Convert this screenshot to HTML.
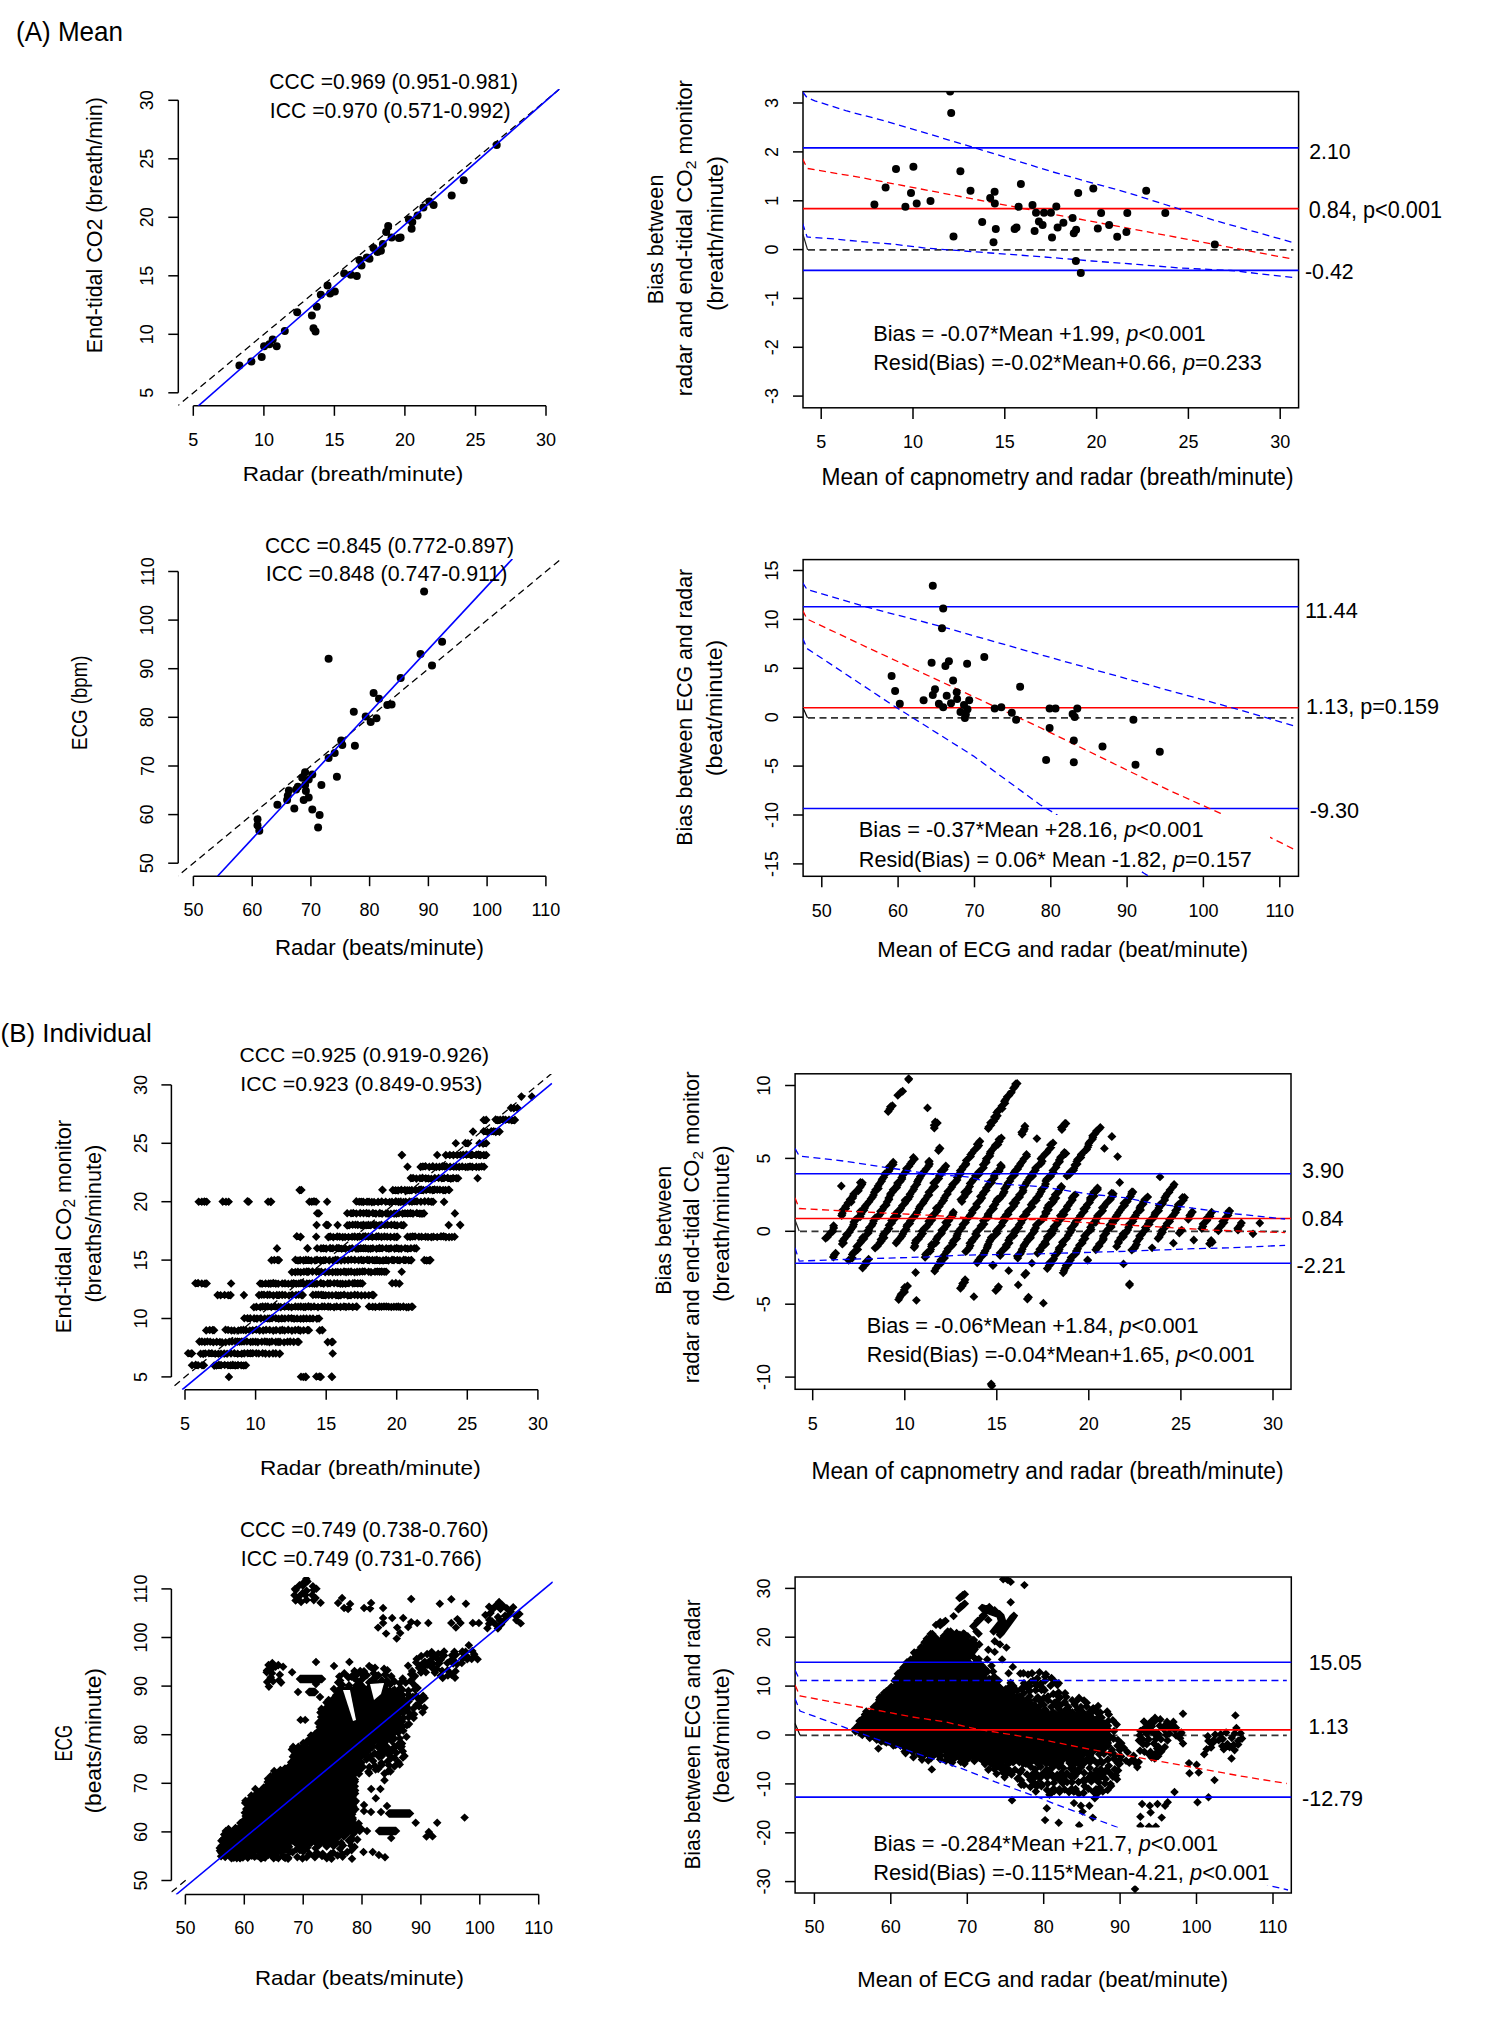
<!DOCTYPE html>
<html><head><meta charset="utf-8"><title>Figure</title>
<style>html,body{margin:0;padding:0;background:#fff;}body{width:1498px;height:2032px;overflow:hidden;font-family:"Liberation Sans", sans-serif;}svg{display:block;}</style>
</head><body>
<svg width="1498" height="2032" viewBox="0 0 1498 2032" font-family='"Liberation Sans", sans-serif' fill="#000"><defs><pattern id="texA" width="21" height="21" patternUnits="userSpaceOnUse"><path fill="#000" d="M0.2,4.3L4.5,-0L8.8,4.3L4.5,8.6ZM0.2,25.3L4.5,21L8.8,25.3L4.5,29.6ZM21.2,4.3L25.5,-0L29.8,4.3L25.5,8.6ZM21.2,25.3L25.5,21L29.8,25.3L25.5,29.6ZM-1,9.8L3.3,5.5L7.6,9.8L3.3,14.1ZM20,9.8L24.3,5.5L28.6,9.8L24.3,14.1ZM-0.8,-3.8L3.5,-8.1L7.8,-3.8L3.5,0.5ZM-0.8,17.2L3.5,12.9L7.8,17.2L3.5,21.5ZM20.2,-3.8L24.5,-8.1L28.8,-3.8L24.5,0.5ZM20.2,17.2L24.5,12.9L28.8,17.2L24.5,21.5ZM7.1,2.9L11.4,-1.4L15.7,2.9L11.4,7.2ZM7.1,23.9L11.4,19.6L15.7,23.9L11.4,28.2ZM6.1,10.8L10.4,6.5L14.7,10.8L10.4,15.1ZM7.4,-3.5L11.7,-7.8L16,-3.5L11.7,0.8ZM7.4,17.5L11.7,13.2L16,17.5L11.7,21.8ZM-8.5,4.3L-4.2,-0L0.1,4.3L-4.2,8.6ZM-8.5,25.3L-4.2,21L0.1,25.3L-4.2,29.6ZM12.5,4.3L16.8,-0L21.1,4.3L16.8,8.6ZM12.5,25.3L16.8,21L21.1,25.3L16.8,29.6ZM-7.4,9.8L-3.1,5.5L1.2,9.8L-3.1,14.1ZM13.6,9.8L17.9,5.5L22.2,9.8L17.9,14.1ZM-6.6,-2.1L-2.3,-6.4L2,-2.1L-2.3,2.2ZM-6.6,18.9L-2.3,14.6L2,18.9L-2.3,23.2ZM14.4,-2.1L18.7,-6.4L23,-2.1L18.7,2.2ZM14.4,18.9L18.7,14.6L23,18.9L18.7,23.2Z"/></pattern><pattern id="texB" width="25" height="25" patternUnits="userSpaceOnUse"><path fill="#000" d="M0.9,4.9L5.2,0.6L9.5,4.9L5.2,9.2ZM0.9,29.9L5.2,25.6L9.5,29.9L5.2,34.2ZM-0.4,11.8L3.9,7.5L8.2,11.8L3.9,16.1ZM24.6,11.8L28.9,7.5L33.2,11.8L28.9,16.1ZM-0.1,-4.5L4.2,-8.8L8.5,-4.5L4.2,-0.2ZM-0.1,20.5L4.2,16.2L8.5,20.5L4.2,24.8ZM24.9,-4.5L29.2,-8.8L33.5,-4.5L29.2,-0.2ZM24.9,20.5L29.2,16.2L33.5,20.5L29.2,24.8ZM9.1,3.6L13.4,-0.7L17.7,3.6L13.4,7.9ZM9.1,28.6L13.4,24.3L17.7,28.6L13.4,32.9ZM8.1,12.8L12.4,8.5L16.7,12.8L12.4,17.1ZM9.4,-4.2L13.7,-8.5L18,-4.2L13.7,0.1ZM9.4,20.8L13.7,16.5L18,20.8L13.7,25.1ZM-9.1,4.9L-4.8,0.6L-0.5,4.9L-4.8,9.2ZM-9.1,29.9L-4.8,25.6L-0.5,29.9L-4.8,34.2ZM15.9,4.9L20.2,0.6L24.5,4.9L20.2,9.2ZM15.9,29.9L20.2,25.6L24.5,29.9L20.2,34.2ZM-8.1,11.8L-3.8,7.5L0.5,11.8L-3.8,16.1ZM16.9,11.8L21.2,7.5L25.5,11.8L21.2,16.1ZM-7.2,-2.7L-2.9,-7L1.4,-2.7L-2.9,1.6ZM-7.2,22.3L-2.9,18L1.4,22.3L-2.9,26.6ZM17.8,-2.7L22.1,-7L26.4,-2.7L22.1,1.6ZM17.8,22.3L22.1,18L26.4,22.3L22.1,26.6Z"/></pattern><pattern id="texC" width="24" height="24" patternUnits="userSpaceOnUse"><path fill="#000" d="M-0.3,3.8L4,-0.5L8.3,3.8L4,8.1ZM-0.3,27.8L4,23.5L8.3,27.8L4,32.1ZM23.7,3.8L28,-0.5L32.3,3.8L28,8.1ZM23.7,27.8L28,23.5L32.3,27.8L28,32.1ZM-1.5,8.3L2.8,4L7.1,8.3L2.8,12.6ZM22.5,8.3L26.8,4L31.1,8.3L26.8,12.6ZM-1.3,14.7L3,10.4L7.3,14.7L3,19ZM22.7,14.7L27,10.4L31.3,14.7L27,19ZM-0.4,-3.6L3.9,-7.9L8.2,-3.6L3.9,0.7ZM-0.4,20.4L3.9,16.1L8.2,20.4L3.9,24.7ZM23.6,-3.6L27.9,-7.9L32.2,-3.6L27.9,0.7ZM23.6,20.4L27.9,16.1L32.2,20.4L27.9,24.7ZM4.6,3.3L8.9,-1L13.2,3.3L8.9,7.6ZM4.6,27.3L8.9,23L13.2,27.3L8.9,31.6ZM5.9,9L10.2,4.7L14.5,9L10.2,13.3ZM4,15.8L8.3,11.5L12.6,15.8L8.3,20.1ZM5.1,-3.7L9.4,-8L13.7,-3.7L9.4,0.6ZM5.1,20.3L9.4,16L13.7,20.3L9.4,24.6ZM11.9,4.4L16.2,0.1L20.5,4.4L16.2,8.7ZM11.9,28.4L16.2,24.1L20.5,28.4L16.2,32.7ZM11.6,10.2L15.9,5.9L20.2,10.2L15.9,14.5ZM10.1,15.7L14.4,11.4L18.7,15.7L14.4,20ZM11.9,-2.4L16.2,-6.7L20.5,-2.4L16.2,1.9ZM11.9,21.6L16.2,17.3L20.5,21.6L16.2,25.9ZM-7.4,1.8L-3.1,-2.5L1.2,1.8L-3.1,6.1ZM-7.4,25.8L-3.1,21.5L1.2,25.8L-3.1,30.1ZM16.6,1.8L20.9,-2.5L25.2,1.8L20.9,6.1ZM16.6,25.8L20.9,21.5L25.2,25.8L20.9,30.1ZM-7.5,9.3L-3.2,5L1.1,9.3L-3.2,13.6ZM16.5,9.3L20.8,5L25.1,9.3L20.8,13.6ZM-6.1,16.4L-1.8,12.1L2.5,16.4L-1.8,20.7ZM17.9,16.4L22.2,12.1L26.5,16.4L22.2,20.7ZM-7.4,-1.9L-3.1,-6.2L1.2,-1.9L-3.1,2.4ZM-7.4,22.1L-3.1,17.8L1.2,22.1L-3.1,26.4ZM16.6,-1.9L20.9,-6.2L25.2,-1.9L20.9,2.4ZM16.6,22.1L20.9,17.8L25.2,22.1L20.9,26.4Z"/></pattern><clipPath id="cA1"><rect x="178.3" y="88.9" width="381.2" height="316.9"/></clipPath><clipPath id="cA2"><rect x="803" y="91.6" width="495.6" height="316.2"/></clipPath><clipPath id="cA3"><rect x="178.2" y="558.9" width="382.9" height="317.3"/></clipPath><clipPath id="cA4"><rect x="803.1" y="559.6" width="495.4" height="316.7"/></clipPath><clipPath id="cB1"><rect x="171.4" y="1074" width="381.2" height="315.7"/></clipPath><clipPath id="cB2"><rect x="795.1" y="1073.8" width="495.9" height="315.5"/></clipPath><clipPath id="cB3"><rect x="171.4" y="1577" width="381.4" height="317.5"/></clipPath><clipPath id="cB4"><rect x="795.1" y="1577" width="496.2" height="316"/></clipPath></defs><line x1="178.3" y1="100.3" x2="178.3" y2="392.8" stroke="#000" stroke-width="1.5"/>
<line x1="168.3" y1="392.8" x2="178.3" y2="392.8" stroke="#000" stroke-width="1.5"/>
<text x="153.5" y="392.8" font-size="18" text-anchor="middle" transform="rotate(-90 153.5 392.8)">5</text>
<line x1="168.3" y1="334.3" x2="178.3" y2="334.3" stroke="#000" stroke-width="1.5"/>
<text x="153.5" y="334.3" font-size="18" text-anchor="middle" transform="rotate(-90 153.5 334.3)">10</text>
<line x1="168.3" y1="275.8" x2="178.3" y2="275.8" stroke="#000" stroke-width="1.5"/>
<text x="153.5" y="275.8" font-size="18" text-anchor="middle" transform="rotate(-90 153.5 275.8)">15</text>
<line x1="168.3" y1="217.3" x2="178.3" y2="217.3" stroke="#000" stroke-width="1.5"/>
<text x="153.5" y="217.3" font-size="18" text-anchor="middle" transform="rotate(-90 153.5 217.3)">20</text>
<line x1="168.3" y1="158.8" x2="178.3" y2="158.8" stroke="#000" stroke-width="1.5"/>
<text x="153.5" y="158.8" font-size="18" text-anchor="middle" transform="rotate(-90 153.5 158.8)">25</text>
<line x1="168.3" y1="100.3" x2="178.3" y2="100.3" stroke="#000" stroke-width="1.5"/>
<text x="153.5" y="100.3" font-size="18" text-anchor="middle" transform="rotate(-90 153.5 100.3)">30</text>
<line x1="193.3" y1="405.8" x2="546" y2="405.8" stroke="#000" stroke-width="1.5"/>
<line x1="193.3" y1="405.8" x2="193.3" y2="415.8" stroke="#000" stroke-width="1.5"/>
<text x="193.3" y="445.8" font-size="18" text-anchor="middle">5</text>
<line x1="263.9" y1="405.8" x2="263.9" y2="415.8" stroke="#000" stroke-width="1.5"/>
<text x="263.9" y="445.8" font-size="18" text-anchor="middle">10</text>
<line x1="334.4" y1="405.8" x2="334.4" y2="415.8" stroke="#000" stroke-width="1.5"/>
<text x="334.4" y="445.8" font-size="18" text-anchor="middle">15</text>
<line x1="404.9" y1="405.8" x2="404.9" y2="415.8" stroke="#000" stroke-width="1.5"/>
<text x="404.9" y="445.8" font-size="18" text-anchor="middle">20</text>
<line x1="475.5" y1="405.8" x2="475.5" y2="415.8" stroke="#000" stroke-width="1.5"/>
<text x="475.5" y="445.8" font-size="18" text-anchor="middle">25</text>
<line x1="546" y1="405.8" x2="546" y2="415.8" stroke="#000" stroke-width="1.5"/>
<text x="546" y="445.8" font-size="18" text-anchor="middle">30</text>
<line x1="165.1" y1="416.2" x2="574.3" y2="76.9" stroke="#000" stroke-width="1.3" stroke-dasharray="7,4.5" clip-path="url(#cA1)"/>
<g fill="#000" clip-path="url(#cA1)"><circle cx="239.4" cy="365.6" r="4"/><circle cx="251.4" cy="361.6" r="4"/><circle cx="261.7" cy="356.9" r="4"/><circle cx="264.1" cy="346.2" r="4"/><circle cx="269.4" cy="344.2" r="4"/><circle cx="272.7" cy="339.5" r="4"/><circle cx="276.7" cy="346.2" r="4"/><circle cx="284.8" cy="330.9" r="4"/><circle cx="297.2" cy="312.2" r="4"/><circle cx="311.9" cy="315.5" r="4"/><circle cx="313.5" cy="328.2" r="4"/><circle cx="315.5" cy="331.5" r="4"/><circle cx="316.8" cy="306.8" r="4"/><circle cx="320.8" cy="294.8" r="4"/><circle cx="327.5" cy="285.5" r="4"/><circle cx="330.1" cy="293.5" r="4"/><circle cx="334.8" cy="291.5" r="4"/><circle cx="344.2" cy="273.5" r="4"/><circle cx="350.8" cy="274.8" r="4"/><circle cx="356.8" cy="276.1" r="4"/><circle cx="359.5" cy="260.1" r="4"/><circle cx="361.5" cy="265.4" r="4"/><circle cx="366.9" cy="257.4" r="4"/><circle cx="369.5" cy="258.8" r="4"/><circle cx="373.5" cy="248.1" r="4"/><circle cx="377.5" cy="252.1" r="4"/><circle cx="380.9" cy="250.8" r="4"/><circle cx="382.9" cy="244.1" r="4"/><circle cx="386.2" cy="232.1" r="4"/><circle cx="388.2" cy="226.1" r="4"/><circle cx="391.6" cy="237.4" r="4"/><circle cx="398.9" cy="238.1" r="4"/><circle cx="408.9" cy="219.4" r="4"/><circle cx="412.3" cy="222.1" r="4"/><circle cx="411.6" cy="228.7" r="4"/><circle cx="417.6" cy="215.4" r="4"/><circle cx="400.6" cy="237.4" r="4"/><circle cx="423.4" cy="207.4" r="4"/><circle cx="429.4" cy="201.4" r="4"/><circle cx="433.6" cy="205" r="4"/><circle cx="451.7" cy="195.4" r="4"/><circle cx="463.7" cy="180.3" r="4"/><circle cx="496.7" cy="144.9" r="4"/></g>
<line x1="198.1" y1="406.1" x2="559.5" y2="88.9" stroke="#0000ff" stroke-width="1.6" clip-path="url(#cA1)"/>
<rect x="803" y="91.6" width="495.6" height="316.2" fill="none" stroke="#000" stroke-width="1.5"/>
<line x1="793" y1="396.1" x2="803" y2="396.1" stroke="#000" stroke-width="1.5"/>
<text x="777.9" y="396.1" font-size="18" text-anchor="middle" transform="rotate(-90 777.9 396.1)">-3</text>
<line x1="793" y1="347.3" x2="803" y2="347.3" stroke="#000" stroke-width="1.5"/>
<text x="777.9" y="347.3" font-size="18" text-anchor="middle" transform="rotate(-90 777.9 347.3)">-2</text>
<line x1="793" y1="298.4" x2="803" y2="298.4" stroke="#000" stroke-width="1.5"/>
<text x="777.9" y="298.4" font-size="18" text-anchor="middle" transform="rotate(-90 777.9 298.4)">-1</text>
<line x1="793" y1="249.6" x2="803" y2="249.6" stroke="#000" stroke-width="1.5"/>
<text x="777.9" y="249.6" font-size="18" text-anchor="middle" transform="rotate(-90 777.9 249.6)">0</text>
<line x1="793" y1="200.8" x2="803" y2="200.8" stroke="#000" stroke-width="1.5"/>
<text x="777.9" y="200.8" font-size="18" text-anchor="middle" transform="rotate(-90 777.9 200.8)">1</text>
<line x1="793" y1="151.9" x2="803" y2="151.9" stroke="#000" stroke-width="1.5"/>
<text x="777.9" y="151.9" font-size="18" text-anchor="middle" transform="rotate(-90 777.9 151.9)">2</text>
<line x1="793" y1="103" x2="803" y2="103" stroke="#000" stroke-width="1.5"/>
<text x="777.9" y="103" font-size="18" text-anchor="middle" transform="rotate(-90 777.9 103)">3</text>
<line x1="821.2" y1="407.8" x2="821.2" y2="418.9" stroke="#000" stroke-width="1.5"/>
<text x="821.2" y="448" font-size="18" text-anchor="middle">5</text>
<line x1="913" y1="407.8" x2="913" y2="418.9" stroke="#000" stroke-width="1.5"/>
<text x="913" y="448" font-size="18" text-anchor="middle">10</text>
<line x1="1004.8" y1="407.8" x2="1004.8" y2="418.9" stroke="#000" stroke-width="1.5"/>
<text x="1004.8" y="448" font-size="18" text-anchor="middle">15</text>
<line x1="1096.6" y1="407.8" x2="1096.6" y2="418.9" stroke="#000" stroke-width="1.5"/>
<text x="1096.6" y="448" font-size="18" text-anchor="middle">20</text>
<line x1="1188.4" y1="407.8" x2="1188.4" y2="418.9" stroke="#000" stroke-width="1.5"/>
<text x="1188.4" y="448" font-size="18" text-anchor="middle">25</text>
<line x1="1280.2" y1="407.8" x2="1280.2" y2="418.9" stroke="#000" stroke-width="1.5"/>
<text x="1280.2" y="448" font-size="18" text-anchor="middle">30</text>
<line x1="803" y1="147.9" x2="1298.6" y2="147.9" stroke="#0000ff" stroke-width="1.6"/>
<line x1="803" y1="208.6" x2="1298.6" y2="208.6" stroke="#ff0000" stroke-width="1.6"/>
<line x1="803" y1="270.4" x2="1298.6" y2="270.4" stroke="#0000ff" stroke-width="1.6"/>
<line x1="808" y1="249.8" x2="1293.4" y2="249.8" stroke="#333" stroke-width="1.7" stroke-dasharray="7,4.5"/>
<line x1="803" y1="234.5" x2="807.6" y2="249.8" stroke="#222" stroke-width="1.2"/>
<polyline fill="none" points="802.5,91.7 807,97.5 814.8,100.8 846.8,111 884,120.7 929.4,134.1 977.5,148.7 1004.2,156.8 1050.9,171.4 1092,182.9 1126.8,192.4 1173.6,207.2 1213.6,220.2 1244.8,228.9 1293.4,242.7" stroke="#0000ff" stroke-width="1.3" stroke-dasharray="7,4.5" clip-path="url(#cA2)"/>
<polyline fill="none" points="802.5,158.5 807.1,168.4 860,177.4 1040,211.7 1293.4,259.2" stroke="#ff0000" stroke-width="1.3" stroke-dasharray="7,4.5" clip-path="url(#cA2)"/>
<polyline fill="none" points="802.5,223.1 807.1,237 836,239.1 860,241.5 893.4,244.2 926.8,248.2 980.2,252.2 1006.9,254.2 1040,256.6 1092,261 1137.2,264.4 1178.9,267.9 1230.9,270.5 1293.4,277.5" stroke="#0000ff" stroke-width="1.3" stroke-dasharray="7,4.5" clip-path="url(#cA2)"/>
<g fill="#000" clip-path="url(#cA2)"><circle cx="950.1" cy="91.5" r="4"/><circle cx="951.2" cy="113" r="4"/><circle cx="896" cy="169" r="4"/><circle cx="913.4" cy="166.8" r="4"/><circle cx="960.4" cy="171.2" r="4"/><circle cx="885.6" cy="187.5" r="4"/><circle cx="911" cy="193.1" r="4"/><circle cx="970.5" cy="190.8" r="4"/><circle cx="874.4" cy="204.4" r="4"/><circle cx="905.4" cy="206.8" r="4"/><circle cx="916.7" cy="203.5" r="4"/><circle cx="930.5" cy="201.1" r="4"/><circle cx="994.6" cy="191.7" r="4"/><circle cx="990.2" cy="197.9" r="4"/><circle cx="994.8" cy="203.5" r="4"/><circle cx="1020.9" cy="184.1" r="4"/><circle cx="1018.6" cy="206.8" r="4"/><circle cx="1032.5" cy="205.1" r="4"/><circle cx="1036" cy="212.8" r="4"/><circle cx="1044" cy="212.8" r="4"/><circle cx="1050.9" cy="212.8" r="4"/><circle cx="1056.3" cy="206.4" r="4"/><circle cx="982.2" cy="221.9" r="4"/><circle cx="995.8" cy="228.9" r="4"/><circle cx="1014.6" cy="229.1" r="4"/><circle cx="1016.5" cy="227.5" r="4"/><circle cx="1038.9" cy="221.5" r="4"/><circle cx="1042.6" cy="225.1" r="4"/><circle cx="1034.6" cy="230.9" r="4"/><circle cx="1052" cy="237.5" r="4"/><circle cx="1057.6" cy="227.5" r="4"/><circle cx="953.5" cy="236.6" r="4"/><circle cx="993.5" cy="242.2" r="4"/><circle cx="1063.4" cy="222.8" r="4"/><circle cx="1072.6" cy="218.1" r="4"/><circle cx="1078.2" cy="192.9" r="4"/><circle cx="1093.3" cy="188.6" r="4"/><circle cx="1073.8" cy="233.2" r="4"/><circle cx="1076.1" cy="229.7" r="4"/><circle cx="1075.9" cy="261" r="4"/><circle cx="1080.8" cy="273.1" r="4"/><circle cx="1101.1" cy="212.9" r="4"/><circle cx="1097.8" cy="228.5" r="4"/><circle cx="1109.1" cy="225" r="4"/><circle cx="1117.2" cy="236.7" r="4"/><circle cx="1126.4" cy="232" r="4"/><circle cx="1127.3" cy="212.9" r="4"/><circle cx="1146.2" cy="190.7" r="4"/><circle cx="1165.3" cy="212.9" r="4"/><circle cx="1214.8" cy="244.5" r="4"/></g>
<line x1="178.2" y1="571.5" x2="178.2" y2="863.2" stroke="#000" stroke-width="1.5"/>
<line x1="168.2" y1="863.2" x2="178.2" y2="863.2" stroke="#000" stroke-width="1.5"/>
<text x="153.5" y="863.2" font-size="18" text-anchor="middle" transform="rotate(-90 153.5 863.2)">50</text>
<line x1="168.2" y1="814.6" x2="178.2" y2="814.6" stroke="#000" stroke-width="1.5"/>
<text x="153.5" y="814.6" font-size="18" text-anchor="middle" transform="rotate(-90 153.5 814.6)">60</text>
<line x1="168.2" y1="766" x2="178.2" y2="766" stroke="#000" stroke-width="1.5"/>
<text x="153.5" y="766" font-size="18" text-anchor="middle" transform="rotate(-90 153.5 766)">70</text>
<line x1="168.2" y1="717.3" x2="178.2" y2="717.3" stroke="#000" stroke-width="1.5"/>
<text x="153.5" y="717.3" font-size="18" text-anchor="middle" transform="rotate(-90 153.5 717.3)">80</text>
<line x1="168.2" y1="668.7" x2="178.2" y2="668.7" stroke="#000" stroke-width="1.5"/>
<text x="153.5" y="668.7" font-size="18" text-anchor="middle" transform="rotate(-90 153.5 668.7)">90</text>
<line x1="168.2" y1="620.1" x2="178.2" y2="620.1" stroke="#000" stroke-width="1.5"/>
<text x="153.5" y="620.1" font-size="18" text-anchor="middle" transform="rotate(-90 153.5 620.1)">100</text>
<line x1="168.2" y1="571.5" x2="178.2" y2="571.5" stroke="#000" stroke-width="1.5"/>
<text x="153.5" y="571.5" font-size="18" text-anchor="middle" transform="rotate(-90 153.5 571.5)">110</text>
<line x1="193.4" y1="876.2" x2="545.9" y2="876.2" stroke="#000" stroke-width="1.5"/>
<line x1="193.4" y1="876.2" x2="193.4" y2="886.2" stroke="#000" stroke-width="1.5"/>
<text x="193.4" y="916" font-size="18" text-anchor="middle">50</text>
<line x1="252.2" y1="876.2" x2="252.2" y2="886.2" stroke="#000" stroke-width="1.5"/>
<text x="252.2" y="916" font-size="18" text-anchor="middle">60</text>
<line x1="310.9" y1="876.2" x2="310.9" y2="886.2" stroke="#000" stroke-width="1.5"/>
<text x="310.9" y="916" font-size="18" text-anchor="middle">70</text>
<line x1="369.6" y1="876.2" x2="369.6" y2="886.2" stroke="#000" stroke-width="1.5"/>
<text x="369.6" y="916" font-size="18" text-anchor="middle">80</text>
<line x1="428.4" y1="876.2" x2="428.4" y2="886.2" stroke="#000" stroke-width="1.5"/>
<text x="428.4" y="916" font-size="18" text-anchor="middle">90</text>
<line x1="487.1" y1="876.2" x2="487.1" y2="886.2" stroke="#000" stroke-width="1.5"/>
<text x="487.1" y="916" font-size="18" text-anchor="middle">100</text>
<line x1="545.9" y1="876.2" x2="545.9" y2="886.2" stroke="#000" stroke-width="1.5"/>
<text x="545.9" y="916" font-size="18" text-anchor="middle">110</text>
<line x1="164" y1="887.5" x2="604.6" y2="522.9" stroke="#000" stroke-width="1.3" stroke-dasharray="7,4.5" clip-path="url(#cA3)"/>
<g fill="#000" clip-path="url(#cA3)"><circle cx="424.1" cy="591.4" r="4"/><circle cx="328.6" cy="658.8" r="4"/><circle cx="442.1" cy="641.8" r="4"/><circle cx="420.5" cy="654.1" r="4"/><circle cx="432" cy="665.6" r="4"/><circle cx="400.7" cy="677.9" r="4"/><circle cx="373.6" cy="693" r="4"/><circle cx="379" cy="698.8" r="4"/><circle cx="353.8" cy="711.8" r="4"/><circle cx="365.7" cy="716.5" r="4"/><circle cx="370.7" cy="721.9" r="4"/><circle cx="376.5" cy="718.3" r="4"/><circle cx="387.3" cy="704.9" r="4"/><circle cx="391.6" cy="704.6" r="4"/><circle cx="341.2" cy="740.6" r="4"/><circle cx="342.3" cy="745" r="4"/><circle cx="354.9" cy="745.7" r="4"/><circle cx="334.7" cy="752.9" r="4"/><circle cx="328.6" cy="757.9" r="4"/><circle cx="336.9" cy="776.7" r="4"/><circle cx="312.3" cy="774.5" r="4"/><circle cx="305.1" cy="772.3" r="4"/><circle cx="302.2" cy="777.8" r="4"/><circle cx="308.7" cy="779.6" r="4"/><circle cx="297.9" cy="786.8" r="4"/><circle cx="305.1" cy="785" r="4"/><circle cx="305.9" cy="791.1" r="4"/><circle cx="296.1" cy="789.6" r="4"/><circle cx="321.4" cy="785" r="4"/><circle cx="308.7" cy="797.6" r="4"/><circle cx="303.7" cy="800.1" r="4"/><circle cx="288.9" cy="790.4" r="4"/><circle cx="287.8" cy="795.8" r="4"/><circle cx="287.1" cy="800.1" r="4"/><circle cx="277.4" cy="804.8" r="4"/><circle cx="294.3" cy="808.4" r="4"/><circle cx="312.3" cy="809.5" r="4"/><circle cx="319.6" cy="814.9" r="4"/><circle cx="318.1" cy="827.5" r="4"/><circle cx="257.5" cy="819.2" r="4"/><circle cx="257.5" cy="825.3" r="4"/><circle cx="259.3" cy="830.7" r="4"/></g>
<line x1="217.5" y1="876.2" x2="512.4" y2="558.9" stroke="#0000ff" stroke-width="1.6" clip-path="url(#cA3)"/>
<rect x="803.1" y="559.6" width="495.4" height="316.7" fill="none" stroke="#000" stroke-width="1.5"/>
<line x1="793.1" y1="863.9" x2="803.1" y2="863.9" stroke="#000" stroke-width="1.5"/>
<text x="777.9" y="863.9" font-size="18" text-anchor="middle" transform="rotate(-90 777.9 863.9)">-15</text>
<line x1="793.1" y1="815" x2="803.1" y2="815" stroke="#000" stroke-width="1.5"/>
<text x="777.9" y="815" font-size="18" text-anchor="middle" transform="rotate(-90 777.9 815)">-10</text>
<line x1="793.1" y1="766.1" x2="803.1" y2="766.1" stroke="#000" stroke-width="1.5"/>
<text x="777.9" y="766.1" font-size="18" text-anchor="middle" transform="rotate(-90 777.9 766.1)">-5</text>
<line x1="793.1" y1="717.2" x2="803.1" y2="717.2" stroke="#000" stroke-width="1.5"/>
<text x="777.9" y="717.2" font-size="18" text-anchor="middle" transform="rotate(-90 777.9 717.2)">0</text>
<line x1="793.1" y1="668.3" x2="803.1" y2="668.3" stroke="#000" stroke-width="1.5"/>
<text x="777.9" y="668.3" font-size="18" text-anchor="middle" transform="rotate(-90 777.9 668.3)">5</text>
<line x1="793.1" y1="619.4" x2="803.1" y2="619.4" stroke="#000" stroke-width="1.5"/>
<text x="777.9" y="619.4" font-size="18" text-anchor="middle" transform="rotate(-90 777.9 619.4)">10</text>
<line x1="793.1" y1="570.5" x2="803.1" y2="570.5" stroke="#000" stroke-width="1.5"/>
<text x="777.9" y="570.5" font-size="18" text-anchor="middle" transform="rotate(-90 777.9 570.5)">15</text>
<line x1="821.8" y1="876.3" x2="821.8" y2="887.3" stroke="#000" stroke-width="1.5"/>
<text x="821.8" y="916.5" font-size="18" text-anchor="middle">50</text>
<line x1="898.1" y1="876.3" x2="898.1" y2="887.3" stroke="#000" stroke-width="1.5"/>
<text x="898.1" y="916.5" font-size="18" text-anchor="middle">60</text>
<line x1="974.5" y1="876.3" x2="974.5" y2="887.3" stroke="#000" stroke-width="1.5"/>
<text x="974.5" y="916.5" font-size="18" text-anchor="middle">70</text>
<line x1="1050.8" y1="876.3" x2="1050.8" y2="887.3" stroke="#000" stroke-width="1.5"/>
<text x="1050.8" y="916.5" font-size="18" text-anchor="middle">80</text>
<line x1="1127.1" y1="876.3" x2="1127.1" y2="887.3" stroke="#000" stroke-width="1.5"/>
<text x="1127.1" y="916.5" font-size="18" text-anchor="middle">90</text>
<line x1="1203.4" y1="876.3" x2="1203.4" y2="887.3" stroke="#000" stroke-width="1.5"/>
<text x="1203.4" y="916.5" font-size="18" text-anchor="middle">100</text>
<line x1="1279.8" y1="876.3" x2="1279.8" y2="887.3" stroke="#000" stroke-width="1.5"/>
<text x="1279.8" y="916.5" font-size="18" text-anchor="middle">110</text>
<line x1="803.1" y1="606.8" x2="1298.5" y2="606.8" stroke="#0000ff" stroke-width="1.6"/>
<line x1="803.1" y1="707.8" x2="1298.5" y2="707.8" stroke="#ff0000" stroke-width="1.6"/>
<line x1="803.1" y1="808.5" x2="1298.5" y2="808.5" stroke="#0000ff" stroke-width="1.6"/>
<line x1="808" y1="717.8" x2="1293.4" y2="717.8" stroke="#333" stroke-width="1.7" stroke-dasharray="7,4.5"/>
<line x1="803.1" y1="708" x2="807.5" y2="717.8" stroke="#000" stroke-width="1.2"/>
<polyline fill="none" points="802.6,582.6 807,589.5 866,606.9 942.3,626.8 1040,654.6 1161.5,688.4 1234.4,708.4 1293.4,725.8" stroke="#0000ff" stroke-width="1.3" stroke-dasharray="7,4.5" clip-path="url(#cA4)"/>
<polyline fill="none" points="802.6,610.3 807,619 866,646.8 1040,727.5 1126.8,770 1170.2,790.8 1220.5,813.4 1274.3,839.4 1293.4,849" stroke="#ff0000" stroke-width="1.3" stroke-dasharray="7,4.5" clip-path="url(#cA4)"/>
<polyline fill="none" points="802.6,638.1 807,648.5 893.7,705.8 973.6,756.1 1040,804.7 1054.8,813.4 1144,873.3 1150,877" stroke="#0000ff" stroke-width="1.3" stroke-dasharray="7,4.5" clip-path="url(#cA4)"/>
<g fill="#000" clip-path="url(#cA4)"><circle cx="932.8" cy="585.7" r="4"/><circle cx="943.2" cy="608.6" r="4"/><circle cx="942" cy="628.2" r="4"/><circle cx="931.6" cy="662.8" r="4"/><circle cx="948.9" cy="661.2" r="4"/><circle cx="945.4" cy="665.9" r="4"/><circle cx="967.1" cy="663.8" r="4"/><circle cx="984.3" cy="656.9" r="4"/><circle cx="891.6" cy="675.9" r="4"/><circle cx="953.1" cy="680.6" r="4"/><circle cx="1020.1" cy="686.7" r="4"/><circle cx="895.1" cy="691" r="4"/><circle cx="935" cy="689.3" r="4"/><circle cx="932.8" cy="695" r="4"/><circle cx="956.7" cy="692.3" r="4"/><circle cx="946.7" cy="695.7" r="4"/><circle cx="923.6" cy="700.2" r="4"/><circle cx="899.8" cy="703.7" r="4"/><circle cx="938.9" cy="703.7" r="4"/><circle cx="943.2" cy="707.2" r="4"/><circle cx="951" cy="703.2" r="4"/><circle cx="957.1" cy="698.9" r="4"/><circle cx="969.2" cy="700.2" r="4"/><circle cx="964" cy="704.9" r="4"/><circle cx="967.5" cy="709.3" r="4"/><circle cx="960.5" cy="711.9" r="4"/><circle cx="965.8" cy="714.5" r="4"/><circle cx="964.9" cy="718" r="4"/><circle cx="994.7" cy="708.4" r="4"/><circle cx="1001.3" cy="707.2" r="4"/><circle cx="1011.8" cy="712.7" r="4"/><circle cx="1016.1" cy="719.7" r="4"/><circle cx="1049.6" cy="708.4" r="4"/><circle cx="1055.5" cy="708.4" r="4"/><circle cx="1049.6" cy="728" r="4"/><circle cx="1046.1" cy="760" r="4"/><circle cx="1077.3" cy="708.4" r="4"/><circle cx="1072.6" cy="714.1" r="4"/><circle cx="1074.7" cy="717.1" r="4"/><circle cx="1133.4" cy="719.7" r="4"/><circle cx="1073.8" cy="740.5" r="4"/><circle cx="1102.5" cy="746.6" r="4"/><circle cx="1159.8" cy="751.8" r="4"/><circle cx="1073.8" cy="762.2" r="4"/><circle cx="1135.5" cy="764.8" r="4"/></g>
<rect x="852" y="815" width="418" height="56" fill="#fff"/>
<line x1="171.4" y1="1084.9" x2="171.4" y2="1376.9" stroke="#000" stroke-width="1.5"/>
<line x1="161.4" y1="1376.9" x2="171.4" y2="1376.9" stroke="#000" stroke-width="1.5"/>
<text x="146.7" y="1376.9" font-size="18" text-anchor="middle" transform="rotate(-90 146.7 1376.9)">5</text>
<line x1="161.4" y1="1318.5" x2="171.4" y2="1318.5" stroke="#000" stroke-width="1.5"/>
<text x="146.7" y="1318.5" font-size="18" text-anchor="middle" transform="rotate(-90 146.7 1318.5)">10</text>
<line x1="161.4" y1="1260.1" x2="171.4" y2="1260.1" stroke="#000" stroke-width="1.5"/>
<text x="146.7" y="1260.1" font-size="18" text-anchor="middle" transform="rotate(-90 146.7 1260.1)">15</text>
<line x1="161.4" y1="1201.7" x2="171.4" y2="1201.7" stroke="#000" stroke-width="1.5"/>
<text x="146.7" y="1201.7" font-size="18" text-anchor="middle" transform="rotate(-90 146.7 1201.7)">20</text>
<line x1="161.4" y1="1143.3" x2="171.4" y2="1143.3" stroke="#000" stroke-width="1.5"/>
<text x="146.7" y="1143.3" font-size="18" text-anchor="middle" transform="rotate(-90 146.7 1143.3)">25</text>
<line x1="161.4" y1="1084.9" x2="171.4" y2="1084.9" stroke="#000" stroke-width="1.5"/>
<text x="146.7" y="1084.9" font-size="18" text-anchor="middle" transform="rotate(-90 146.7 1084.9)">30</text>
<line x1="185" y1="1389.7" x2="537.9" y2="1389.7" stroke="#000" stroke-width="1.5"/>
<line x1="185" y1="1389.7" x2="185" y2="1399.7" stroke="#000" stroke-width="1.5"/>
<text x="185" y="1429.5" font-size="18" text-anchor="middle">5</text>
<line x1="255.6" y1="1389.7" x2="255.6" y2="1399.7" stroke="#000" stroke-width="1.5"/>
<text x="255.6" y="1429.5" font-size="18" text-anchor="middle">10</text>
<line x1="326.2" y1="1389.7" x2="326.2" y2="1399.7" stroke="#000" stroke-width="1.5"/>
<text x="326.2" y="1429.5" font-size="18" text-anchor="middle">15</text>
<line x1="396.7" y1="1389.7" x2="396.7" y2="1399.7" stroke="#000" stroke-width="1.5"/>
<text x="396.7" y="1429.5" font-size="18" text-anchor="middle">20</text>
<line x1="467.3" y1="1389.7" x2="467.3" y2="1399.7" stroke="#000" stroke-width="1.5"/>
<text x="467.3" y="1429.5" font-size="18" text-anchor="middle">25</text>
<line x1="537.9" y1="1389.7" x2="537.9" y2="1399.7" stroke="#000" stroke-width="1.5"/>
<text x="537.9" y="1429.5" font-size="18" text-anchor="middle">30</text>
<line x1="156.8" y1="1400.3" x2="566.1" y2="1061.5" stroke="#000" stroke-width="1.3" stroke-dasharray="7,4.5" clip-path="url(#cB1)"/>
<path d="M224.6,1376.9l4.3,-4.3l4.3,4.3l-4.3,4.3zM296.7,1376.8l4.3,-4.3l4.3,4.3l-4.3,4.3zM299,1377l4.3,-4.3l4.3,4.3l-4.3,4.3zM301.1,1376.9l4.3,-4.3l4.3,4.3l-4.3,4.3zM301.7,1376.9l4.3,-4.3l4.3,4.3l-4.3,4.3zM312,1376.5l4.3,-4.3l4.3,4.3l-4.3,4.3zM315,1376.5l4.3,-4.3l4.3,4.3l-4.3,4.3zM316.5,1376.9l4.3,-4.3l4.3,4.3l-4.3,4.3zM327.3,1376.6l4.3,-4.3l4.3,4.3l-4.3,4.3zM327.8,1376.9l4.3,-4.3l4.3,4.3l-4.3,4.3zM187.7,1365.2l4.3,-4.3l4.3,4.3l-4.3,4.3zM191.4,1364.9l4.3,-4.3l4.3,4.3l-4.3,4.3zM193.8,1365.3l4.3,-4.3l4.3,4.3l-4.3,4.3zM197.7,1365.3l4.3,-4.3l4.3,4.3l-4.3,4.3zM199.6,1365.2l4.3,-4.3l4.3,4.3l-4.3,4.3zM209.9,1365.6l4.3,-4.3l4.3,4.3l-4.3,4.3zM212,1365.5l4.3,-4.3l4.3,4.3l-4.3,4.3zM214.6,1364.9l4.3,-4.3l4.3,4.3l-4.3,4.3zM216.8,1365.1l4.3,-4.3l4.3,4.3l-4.3,4.3zM220.4,1365l4.3,-4.3l4.3,4.3l-4.3,4.3zM223.6,1365.3l4.3,-4.3l4.3,4.3l-4.3,4.3zM226.3,1365.3l4.3,-4.3l4.3,4.3l-4.3,4.3zM228.5,1364.9l4.3,-4.3l4.3,4.3l-4.3,4.3zM230.9,1365.4l4.3,-4.3l4.3,4.3l-4.3,4.3zM233.7,1365.1l4.3,-4.3l4.3,4.3l-4.3,4.3zM236.9,1365.2l4.3,-4.3l4.3,4.3l-4.3,4.3zM239.5,1365.5l4.3,-4.3l4.3,4.3l-4.3,4.3zM241.6,1365.2l4.3,-4.3l4.3,4.3l-4.3,4.3zM183.8,1353.3l4.3,-4.3l4.3,4.3l-4.3,4.3zM186.9,1353.6l4.3,-4.3l4.3,4.3l-4.3,4.3zM187.7,1353.5l4.3,-4.3l4.3,4.3l-4.3,4.3zM196.3,1353.7l4.3,-4.3l4.3,4.3l-4.3,4.3zM198.9,1353.9l4.3,-4.3l4.3,4.3l-4.3,4.3zM201.1,1353.5l4.3,-4.3l4.3,4.3l-4.3,4.3zM204.6,1353.3l4.3,-4.3l4.3,4.3l-4.3,4.3zM207.6,1353.2l4.3,-4.3l4.3,4.3l-4.3,4.3zM210.9,1353.8l4.3,-4.3l4.3,4.3l-4.3,4.3zM214.1,1353.8l4.3,-4.3l4.3,4.3l-4.3,4.3zM216.7,1353.7l4.3,-4.3l4.3,4.3l-4.3,4.3zM219.9,1353.6l4.3,-4.3l4.3,4.3l-4.3,4.3zM222.8,1353.8l4.3,-4.3l4.3,4.3l-4.3,4.3zM226.7,1353.5l4.3,-4.3l4.3,4.3l-4.3,4.3zM230,1353.2l4.3,-4.3l4.3,4.3l-4.3,4.3zM233.4,1353.7l4.3,-4.3l4.3,4.3l-4.3,4.3zM237.4,1353.8l4.3,-4.3l4.3,4.3l-4.3,4.3zM240,1353.4l4.3,-4.3l4.3,4.3l-4.3,4.3zM243.3,1353.2l4.3,-4.3l4.3,4.3l-4.3,4.3zM246.3,1353.3l4.3,-4.3l4.3,4.3l-4.3,4.3zM248.5,1353.2l4.3,-4.3l4.3,4.3l-4.3,4.3zM252,1353.2l4.3,-4.3l4.3,4.3l-4.3,4.3zM254.5,1353.5l4.3,-4.3l4.3,4.3l-4.3,4.3zM258.3,1353.2l4.3,-4.3l4.3,4.3l-4.3,4.3zM261.2,1353.6l4.3,-4.3l4.3,4.3l-4.3,4.3zM264.9,1353.8l4.3,-4.3l4.3,4.3l-4.3,4.3zM268.7,1353.4l4.3,-4.3l4.3,4.3l-4.3,4.3zM271.5,1353.4l4.3,-4.3l4.3,4.3l-4.3,4.3zM275.3,1353.9l4.3,-4.3l4.3,4.3l-4.3,4.3zM275.6,1353.5l4.3,-4.3l4.3,4.3l-4.3,4.3zM328.4,1353.5l4.3,-4.3l4.3,4.3l-4.3,4.3zM195.1,1341.6l4.3,-4.3l4.3,4.3l-4.3,4.3zM197.6,1341.6l4.3,-4.3l4.3,4.3l-4.3,4.3zM200.5,1341.9l4.3,-4.3l4.3,4.3l-4.3,4.3zM203.1,1341.5l4.3,-4.3l4.3,4.3l-4.3,4.3zM205.9,1341.8l4.3,-4.3l4.3,4.3l-4.3,4.3zM209,1342.2l4.3,-4.3l4.3,4.3l-4.3,4.3zM212.4,1341.9l4.3,-4.3l4.3,4.3l-4.3,4.3zM215.6,1342l4.3,-4.3l4.3,4.3l-4.3,4.3zM217.8,1342.2l4.3,-4.3l4.3,4.3l-4.3,4.3zM221.3,1342.2l4.3,-4.3l4.3,4.3l-4.3,4.3zM224.9,1341.8l4.3,-4.3l4.3,4.3l-4.3,4.3zM227.7,1341.5l4.3,-4.3l4.3,4.3l-4.3,4.3zM231,1341.5l4.3,-4.3l4.3,4.3l-4.3,4.3zM233.1,1341.6l4.3,-4.3l4.3,4.3l-4.3,4.3zM235.4,1341.7l4.3,-4.3l4.3,4.3l-4.3,4.3zM237.5,1341.5l4.3,-4.3l4.3,4.3l-4.3,4.3zM239.8,1341.5l4.3,-4.3l4.3,4.3l-4.3,4.3zM242.6,1341.5l4.3,-4.3l4.3,4.3l-4.3,4.3zM246.3,1342l4.3,-4.3l4.3,4.3l-4.3,4.3zM248.6,1341.7l4.3,-4.3l4.3,4.3l-4.3,4.3zM251.3,1341.8l4.3,-4.3l4.3,4.3l-4.3,4.3zM253.6,1342.1l4.3,-4.3l4.3,4.3l-4.3,4.3zM257.5,1341.8l4.3,-4.3l4.3,4.3l-4.3,4.3zM260.5,1341.5l4.3,-4.3l4.3,4.3l-4.3,4.3zM262.7,1341.7l4.3,-4.3l4.3,4.3l-4.3,4.3zM265.2,1342.1l4.3,-4.3l4.3,4.3l-4.3,4.3zM267.6,1341.5l4.3,-4.3l4.3,4.3l-4.3,4.3zM271.5,1341.9l4.3,-4.3l4.3,4.3l-4.3,4.3zM273.8,1341.9l4.3,-4.3l4.3,4.3l-4.3,4.3zM275.8,1341.9l4.3,-4.3l4.3,4.3l-4.3,4.3zM279.8,1342.2l4.3,-4.3l4.3,4.3l-4.3,4.3zM283.2,1341.7l4.3,-4.3l4.3,4.3l-4.3,4.3zM285.9,1341.6l4.3,-4.3l4.3,4.3l-4.3,4.3zM289.4,1341.9l4.3,-4.3l4.3,4.3l-4.3,4.3zM293,1341.7l4.3,-4.3l4.3,4.3l-4.3,4.3zM294.4,1341.9l4.3,-4.3l4.3,4.3l-4.3,4.3zM323.4,1342.1l4.3,-4.3l4.3,4.3l-4.3,4.3zM327.4,1342.1l4.3,-4.3l4.3,4.3l-4.3,4.3zM328.4,1341.9l4.3,-4.3l4.3,4.3l-4.3,4.3zM201.9,1330.4l4.3,-4.3l4.3,4.3l-4.3,4.3zM205.4,1330l4.3,-4.3l4.3,4.3l-4.3,4.3zM208.4,1330.1l4.3,-4.3l4.3,4.3l-4.3,4.3zM209.8,1330.2l4.3,-4.3l4.3,4.3l-4.3,4.3zM221.2,1329.8l4.3,-4.3l4.3,4.3l-4.3,4.3zM223.8,1330l4.3,-4.3l4.3,4.3l-4.3,4.3zM227.1,1330.5l4.3,-4.3l4.3,4.3l-4.3,4.3zM230,1330.5l4.3,-4.3l4.3,4.3l-4.3,4.3zM234,1330.5l4.3,-4.3l4.3,4.3l-4.3,4.3zM236.7,1330l4.3,-4.3l4.3,4.3l-4.3,4.3zM239.2,1329.9l4.3,-4.3l4.3,4.3l-4.3,4.3zM241.6,1330.3l4.3,-4.3l4.3,4.3l-4.3,4.3zM245.4,1330.5l4.3,-4.3l4.3,4.3l-4.3,4.3zM248.4,1330.3l4.3,-4.3l4.3,4.3l-4.3,4.3zM252,1329.8l4.3,-4.3l4.3,4.3l-4.3,4.3zM255.3,1330.5l4.3,-4.3l4.3,4.3l-4.3,4.3zM258.9,1330.4l4.3,-4.3l4.3,4.3l-4.3,4.3zM261.8,1329.9l4.3,-4.3l4.3,4.3l-4.3,4.3zM265.4,1330l4.3,-4.3l4.3,4.3l-4.3,4.3zM269,1330.6l4.3,-4.3l4.3,4.3l-4.3,4.3zM271.8,1330.1l4.3,-4.3l4.3,4.3l-4.3,4.3zM275.7,1330.4l4.3,-4.3l4.3,4.3l-4.3,4.3zM278,1329.9l4.3,-4.3l4.3,4.3l-4.3,4.3zM280.3,1330.5l4.3,-4.3l4.3,4.3l-4.3,4.3zM283.9,1329.9l4.3,-4.3l4.3,4.3l-4.3,4.3zM287.6,1330.6l4.3,-4.3l4.3,4.3l-4.3,4.3zM290.9,1330.1l4.3,-4.3l4.3,4.3l-4.3,4.3zM294,1329.9l4.3,-4.3l4.3,4.3l-4.3,4.3zM296,1330.6l4.3,-4.3l4.3,4.3l-4.3,4.3zM299.3,1330.2l4.3,-4.3l4.3,4.3l-4.3,4.3zM303.2,1330.1l4.3,-4.3l4.3,4.3l-4.3,4.3zM304.6,1330.2l4.3,-4.3l4.3,4.3l-4.3,4.3zM315.4,1330.4l4.3,-4.3l4.3,4.3l-4.3,4.3zM317.8,1330l4.3,-4.3l4.3,4.3l-4.3,4.3zM318.2,1330.2l4.3,-4.3l4.3,4.3l-4.3,4.3zM240,1318.3l4.3,-4.3l4.3,4.3l-4.3,4.3zM243.2,1318.3l4.3,-4.3l4.3,4.3l-4.3,4.3zM246,1318.2l4.3,-4.3l4.3,4.3l-4.3,4.3zM249.8,1318.4l4.3,-4.3l4.3,4.3l-4.3,4.3zM252.7,1318.6l4.3,-4.3l4.3,4.3l-4.3,4.3zM256.6,1318.4l4.3,-4.3l4.3,4.3l-4.3,4.3zM260.4,1318.5l4.3,-4.3l4.3,4.3l-4.3,4.3zM263.5,1318.5l4.3,-4.3l4.3,4.3l-4.3,4.3zM265.5,1318.5l4.3,-4.3l4.3,4.3l-4.3,4.3zM267.9,1318.1l4.3,-4.3l4.3,4.3l-4.3,4.3zM271.5,1318.2l4.3,-4.3l4.3,4.3l-4.3,4.3zM274.4,1318.7l4.3,-4.3l4.3,4.3l-4.3,4.3zM277.5,1318.4l4.3,-4.3l4.3,4.3l-4.3,4.3zM280.6,1318.5l4.3,-4.3l4.3,4.3l-4.3,4.3zM284.1,1318.2l4.3,-4.3l4.3,4.3l-4.3,4.3zM287.2,1318.3l4.3,-4.3l4.3,4.3l-4.3,4.3zM289.8,1318.7l4.3,-4.3l4.3,4.3l-4.3,4.3zM292.8,1318.5l4.3,-4.3l4.3,4.3l-4.3,4.3zM296.3,1318.8l4.3,-4.3l4.3,4.3l-4.3,4.3zM299.2,1318.6l4.3,-4.3l4.3,4.3l-4.3,4.3zM302.2,1318.5l4.3,-4.3l4.3,4.3l-4.3,4.3zM305.6,1318.5l4.3,-4.3l4.3,4.3l-4.3,4.3zM308.7,1318.5l4.3,-4.3l4.3,4.3l-4.3,4.3zM312.6,1318.7l4.3,-4.3l4.3,4.3l-4.3,4.3zM314.8,1318.5l4.3,-4.3l4.3,4.3l-4.3,4.3zM249.6,1307.2l4.3,-4.3l4.3,4.3l-4.3,4.3zM252.1,1306.9l4.3,-4.3l4.3,4.3l-4.3,4.3zM256,1307.1l4.3,-4.3l4.3,4.3l-4.3,4.3zM258.3,1306.5l4.3,-4.3l4.3,4.3l-4.3,4.3zM261.2,1306.5l4.3,-4.3l4.3,4.3l-4.3,4.3zM263.6,1306.5l4.3,-4.3l4.3,4.3l-4.3,4.3zM267,1307l4.3,-4.3l4.3,4.3l-4.3,4.3zM270.8,1306.5l4.3,-4.3l4.3,4.3l-4.3,4.3zM274.2,1306.9l4.3,-4.3l4.3,4.3l-4.3,4.3zM276.5,1307.1l4.3,-4.3l4.3,4.3l-4.3,4.3zM280.4,1306.6l4.3,-4.3l4.3,4.3l-4.3,4.3zM284.3,1306.7l4.3,-4.3l4.3,4.3l-4.3,4.3zM287.3,1307.2l4.3,-4.3l4.3,4.3l-4.3,4.3zM291,1306.5l4.3,-4.3l4.3,4.3l-4.3,4.3zM293.8,1306.8l4.3,-4.3l4.3,4.3l-4.3,4.3zM296.5,1306.6l4.3,-4.3l4.3,4.3l-4.3,4.3zM299.2,1307l4.3,-4.3l4.3,4.3l-4.3,4.3zM301.2,1306.9l4.3,-4.3l4.3,4.3l-4.3,4.3zM304.1,1306.4l4.3,-4.3l4.3,4.3l-4.3,4.3zM306.7,1306.9l4.3,-4.3l4.3,4.3l-4.3,4.3zM309.8,1306.5l4.3,-4.3l4.3,4.3l-4.3,4.3zM313.7,1307.1l4.3,-4.3l4.3,4.3l-4.3,4.3zM317.7,1306.5l4.3,-4.3l4.3,4.3l-4.3,4.3zM320.2,1306.5l4.3,-4.3l4.3,4.3l-4.3,4.3zM323.8,1306.6l4.3,-4.3l4.3,4.3l-4.3,4.3zM326,1306.8l4.3,-4.3l4.3,4.3l-4.3,4.3zM329.8,1307.1l4.3,-4.3l4.3,4.3l-4.3,4.3zM332.4,1306.5l4.3,-4.3l4.3,4.3l-4.3,4.3zM336.2,1306.9l4.3,-4.3l4.3,4.3l-4.3,4.3zM339.6,1306.5l4.3,-4.3l4.3,4.3l-4.3,4.3zM341.7,1307l4.3,-4.3l4.3,4.3l-4.3,4.3zM344.6,1306.5l4.3,-4.3l4.3,4.3l-4.3,4.3zM348.4,1306.9l4.3,-4.3l4.3,4.3l-4.3,4.3zM352,1306.5l4.3,-4.3l4.3,4.3l-4.3,4.3zM352.7,1306.8l4.3,-4.3l4.3,4.3l-4.3,4.3zM364.7,1306.5l4.3,-4.3l4.3,4.3l-4.3,4.3zM368.4,1306.8l4.3,-4.3l4.3,4.3l-4.3,4.3zM371.1,1306.9l4.3,-4.3l4.3,4.3l-4.3,4.3zM375,1306.6l4.3,-4.3l4.3,4.3l-4.3,4.3zM377.2,1306.8l4.3,-4.3l4.3,4.3l-4.3,4.3zM379.7,1306.5l4.3,-4.3l4.3,4.3l-4.3,4.3zM382,1306.5l4.3,-4.3l4.3,4.3l-4.3,4.3zM384.4,1306.7l4.3,-4.3l4.3,4.3l-4.3,4.3zM387,1307l4.3,-4.3l4.3,4.3l-4.3,4.3zM389.6,1306.8l4.3,-4.3l4.3,4.3l-4.3,4.3zM392,1306.7l4.3,-4.3l4.3,4.3l-4.3,4.3zM394,1306.6l4.3,-4.3l4.3,4.3l-4.3,4.3zM396,1307l4.3,-4.3l4.3,4.3l-4.3,4.3zM399.1,1306.6l4.3,-4.3l4.3,4.3l-4.3,4.3zM402.1,1307.2l4.3,-4.3l4.3,4.3l-4.3,4.3zM404.3,1307.1l4.3,-4.3l4.3,4.3l-4.3,4.3zM407.2,1306.8l4.3,-4.3l4.3,4.3l-4.3,4.3zM408.2,1306.8l4.3,-4.3l4.3,4.3l-4.3,4.3zM213.3,1295.1l4.3,-4.3l4.3,4.3l-4.3,4.3zM216.3,1295.3l4.3,-4.3l4.3,4.3l-4.3,4.3zM220.3,1295l4.3,-4.3l4.3,4.3l-4.3,4.3zM223.9,1295.3l4.3,-4.3l4.3,4.3l-4.3,4.3zM226.3,1295.1l4.3,-4.3l4.3,4.3l-4.3,4.3zM239.6,1295.1l4.3,-4.3l4.3,4.3l-4.3,4.3zM254.7,1295.1l4.3,-4.3l4.3,4.3l-4.3,4.3zM257.4,1294.8l4.3,-4.3l4.3,4.3l-4.3,4.3zM259.7,1294.8l4.3,-4.3l4.3,4.3l-4.3,4.3zM263.1,1294.9l4.3,-4.3l4.3,4.3l-4.3,4.3zM265.5,1294.8l4.3,-4.3l4.3,4.3l-4.3,4.3zM269.1,1295.4l4.3,-4.3l4.3,4.3l-4.3,4.3zM272.5,1295l4.3,-4.3l4.3,4.3l-4.3,4.3zM275,1295l4.3,-4.3l4.3,4.3l-4.3,4.3zM277.9,1294.9l4.3,-4.3l4.3,4.3l-4.3,4.3zM280.8,1295l4.3,-4.3l4.3,4.3l-4.3,4.3zM284.7,1295.5l4.3,-4.3l4.3,4.3l-4.3,4.3zM287.8,1294.9l4.3,-4.3l4.3,4.3l-4.3,4.3zM291.7,1295l4.3,-4.3l4.3,4.3l-4.3,4.3zM294.4,1294.7l4.3,-4.3l4.3,4.3l-4.3,4.3zM297.2,1295.1l4.3,-4.3l4.3,4.3l-4.3,4.3zM298.5,1295.1l4.3,-4.3l4.3,4.3l-4.3,4.3zM308.6,1294.9l4.3,-4.3l4.3,4.3l-4.3,4.3zM311.6,1294.7l4.3,-4.3l4.3,4.3l-4.3,4.3zM314.1,1294.8l4.3,-4.3l4.3,4.3l-4.3,4.3zM316.9,1294.8l4.3,-4.3l4.3,4.3l-4.3,4.3zM319,1295l4.3,-4.3l4.3,4.3l-4.3,4.3zM321.4,1295.2l4.3,-4.3l4.3,4.3l-4.3,4.3zM324.5,1295.3l4.3,-4.3l4.3,4.3l-4.3,4.3zM327.8,1295.3l4.3,-4.3l4.3,4.3l-4.3,4.3zM331.6,1295.1l4.3,-4.3l4.3,4.3l-4.3,4.3zM334.2,1295.5l4.3,-4.3l4.3,4.3l-4.3,4.3zM336.5,1295.3l4.3,-4.3l4.3,4.3l-4.3,4.3zM339.8,1294.8l4.3,-4.3l4.3,4.3l-4.3,4.3zM343.5,1295.5l4.3,-4.3l4.3,4.3l-4.3,4.3zM346.7,1295.3l4.3,-4.3l4.3,4.3l-4.3,4.3zM350.4,1294.9l4.3,-4.3l4.3,4.3l-4.3,4.3zM353.4,1295.1l4.3,-4.3l4.3,4.3l-4.3,4.3zM357.1,1295.4l4.3,-4.3l4.3,4.3l-4.3,4.3zM360.7,1295.2l4.3,-4.3l4.3,4.3l-4.3,4.3zM364.5,1295.3l4.3,-4.3l4.3,4.3l-4.3,4.3zM367.9,1294.9l4.3,-4.3l4.3,4.3l-4.3,4.3zM369.3,1295.1l4.3,-4.3l4.3,4.3l-4.3,4.3zM191.1,1283.2l4.3,-4.3l4.3,4.3l-4.3,4.3zM193.8,1283.1l4.3,-4.3l4.3,4.3l-4.3,4.3zM197.5,1283.5l4.3,-4.3l4.3,4.3l-4.3,4.3zM200.7,1283.6l4.3,-4.3l4.3,4.3l-4.3,4.3zM202.4,1283.5l4.3,-4.3l4.3,4.3l-4.3,4.3zM226.8,1283.5l4.3,-4.3l4.3,4.3l-4.3,4.3zM255.8,1283.5l4.3,-4.3l4.3,4.3l-4.3,4.3zM257.8,1283.7l4.3,-4.3l4.3,4.3l-4.3,4.3zM261.3,1283.5l4.3,-4.3l4.3,4.3l-4.3,4.3zM264.4,1283.6l4.3,-4.3l4.3,4.3l-4.3,4.3zM266.5,1283.6l4.3,-4.3l4.3,4.3l-4.3,4.3zM269,1283.1l4.3,-4.3l4.3,4.3l-4.3,4.3zM271.5,1283.6l4.3,-4.3l4.3,4.3l-4.3,4.3zM274,1283.7l4.3,-4.3l4.3,4.3l-4.3,4.3zM277.9,1283.5l4.3,-4.3l4.3,4.3l-4.3,4.3zM280.7,1283.4l4.3,-4.3l4.3,4.3l-4.3,4.3zM284,1283.7l4.3,-4.3l4.3,4.3l-4.3,4.3zM287.3,1283.6l4.3,-4.3l4.3,4.3l-4.3,4.3zM289.4,1283.2l4.3,-4.3l4.3,4.3l-4.3,4.3zM291.9,1283.7l4.3,-4.3l4.3,4.3l-4.3,4.3zM294.5,1283.5l4.3,-4.3l4.3,4.3l-4.3,4.3zM296.6,1283.1l4.3,-4.3l4.3,4.3l-4.3,4.3zM299.1,1283.6l4.3,-4.3l4.3,4.3l-4.3,4.3zM302.5,1283.6l4.3,-4.3l4.3,4.3l-4.3,4.3zM305.1,1283.5l4.3,-4.3l4.3,4.3l-4.3,4.3zM308,1283.4l4.3,-4.3l4.3,4.3l-4.3,4.3zM310.2,1283.8l4.3,-4.3l4.3,4.3l-4.3,4.3zM312.6,1283.8l4.3,-4.3l4.3,4.3l-4.3,4.3zM316.5,1283.1l4.3,-4.3l4.3,4.3l-4.3,4.3zM319.4,1283.7l4.3,-4.3l4.3,4.3l-4.3,4.3zM323.4,1283.4l4.3,-4.3l4.3,4.3l-4.3,4.3zM325.9,1283.2l4.3,-4.3l4.3,4.3l-4.3,4.3zM329.8,1283.2l4.3,-4.3l4.3,4.3l-4.3,4.3zM333,1283.2l4.3,-4.3l4.3,4.3l-4.3,4.3zM336,1283.8l4.3,-4.3l4.3,4.3l-4.3,4.3zM338.3,1283.7l4.3,-4.3l4.3,4.3l-4.3,4.3zM341.3,1283.8l4.3,-4.3l4.3,4.3l-4.3,4.3zM344.7,1283.2l4.3,-4.3l4.3,4.3l-4.3,4.3zM348.5,1283.4l4.3,-4.3l4.3,4.3l-4.3,4.3zM350.5,1283.1l4.3,-4.3l4.3,4.3l-4.3,4.3zM353.5,1283.4l4.3,-4.3l4.3,4.3l-4.3,4.3zM356.1,1283.2l4.3,-4.3l4.3,4.3l-4.3,4.3zM358.1,1283.5l4.3,-4.3l4.3,4.3l-4.3,4.3zM387.8,1283.3l4.3,-4.3l4.3,4.3l-4.3,4.3zM391.5,1283.1l4.3,-4.3l4.3,4.3l-4.3,4.3zM395,1283.7l4.3,-4.3l4.3,4.3l-4.3,4.3zM395.2,1283.5l4.3,-4.3l4.3,4.3l-4.3,4.3zM287.6,1272.1l4.3,-4.3l4.3,4.3l-4.3,4.3zM291,1272.1l4.3,-4.3l4.3,4.3l-4.3,4.3zM293.6,1271.7l4.3,-4.3l4.3,4.3l-4.3,4.3zM296.4,1272.2l4.3,-4.3l4.3,4.3l-4.3,4.3zM299.6,1271.7l4.3,-4.3l4.3,4.3l-4.3,4.3zM302.4,1271.6l4.3,-4.3l4.3,4.3l-4.3,4.3zM304.5,1271.5l4.3,-4.3l4.3,4.3l-4.3,4.3zM308.2,1271.6l4.3,-4.3l4.3,4.3l-4.3,4.3zM312.1,1271.6l4.3,-4.3l4.3,4.3l-4.3,4.3zM314.6,1271.8l4.3,-4.3l4.3,4.3l-4.3,4.3zM317,1271.7l4.3,-4.3l4.3,4.3l-4.3,4.3zM320.9,1272.1l4.3,-4.3l4.3,4.3l-4.3,4.3zM324.5,1271.9l4.3,-4.3l4.3,4.3l-4.3,4.3zM328.3,1272.1l4.3,-4.3l4.3,4.3l-4.3,4.3zM331.4,1272l4.3,-4.3l4.3,4.3l-4.3,4.3zM333.5,1272l4.3,-4.3l4.3,4.3l-4.3,4.3zM336.4,1272l4.3,-4.3l4.3,4.3l-4.3,4.3zM339.7,1271.6l4.3,-4.3l4.3,4.3l-4.3,4.3zM341.8,1272.1l4.3,-4.3l4.3,4.3l-4.3,4.3zM344.1,1271.8l4.3,-4.3l4.3,4.3l-4.3,4.3zM346.8,1271.6l4.3,-4.3l4.3,4.3l-4.3,4.3zM350.2,1272.2l4.3,-4.3l4.3,4.3l-4.3,4.3zM352.8,1271.9l4.3,-4.3l4.3,4.3l-4.3,4.3zM355.4,1271.8l4.3,-4.3l4.3,4.3l-4.3,4.3zM358.2,1271.5l4.3,-4.3l4.3,4.3l-4.3,4.3zM360.5,1271.5l4.3,-4.3l4.3,4.3l-4.3,4.3zM364.3,1271.8l4.3,-4.3l4.3,4.3l-4.3,4.3zM366.7,1272.1l4.3,-4.3l4.3,4.3l-4.3,4.3zM370.7,1271.7l4.3,-4.3l4.3,4.3l-4.3,4.3zM373,1271.5l4.3,-4.3l4.3,4.3l-4.3,4.3zM375.2,1271.7l4.3,-4.3l4.3,4.3l-4.3,4.3zM377.4,1271.6l4.3,-4.3l4.3,4.3l-4.3,4.3zM379.9,1271.8l4.3,-4.3l4.3,4.3l-4.3,4.3zM381.9,1271.8l4.3,-4.3l4.3,4.3l-4.3,4.3zM397.4,1271.8l4.3,-4.3l4.3,4.3l-4.3,4.3zM267.2,1260.3l4.3,-4.3l4.3,4.3l-4.3,4.3zM270,1260l4.3,-4.3l4.3,4.3l-4.3,4.3zM273.1,1260l4.3,-4.3l4.3,4.3l-4.3,4.3zM274.6,1260.1l4.3,-4.3l4.3,4.3l-4.3,4.3zM291.1,1259.7l4.3,-4.3l4.3,4.3l-4.3,4.3zM293.7,1260.5l4.3,-4.3l4.3,4.3l-4.3,4.3zM295.9,1260.1l4.3,-4.3l4.3,4.3l-4.3,4.3zM299.2,1260.4l4.3,-4.3l4.3,4.3l-4.3,4.3zM301.6,1259.9l4.3,-4.3l4.3,4.3l-4.3,4.3zM304.1,1260l4.3,-4.3l4.3,4.3l-4.3,4.3zM307,1260.5l4.3,-4.3l4.3,4.3l-4.3,4.3zM310.7,1260.4l4.3,-4.3l4.3,4.3l-4.3,4.3zM312.7,1259.7l4.3,-4.3l4.3,4.3l-4.3,4.3zM316.1,1260.4l4.3,-4.3l4.3,4.3l-4.3,4.3zM319.1,1260.2l4.3,-4.3l4.3,4.3l-4.3,4.3zM321.1,1260l4.3,-4.3l4.3,4.3l-4.3,4.3zM324.9,1260.4l4.3,-4.3l4.3,4.3l-4.3,4.3zM328.7,1260.5l4.3,-4.3l4.3,4.3l-4.3,4.3zM331.2,1259.8l4.3,-4.3l4.3,4.3l-4.3,4.3zM333.5,1260.1l4.3,-4.3l4.3,4.3l-4.3,4.3zM336.8,1260.5l4.3,-4.3l4.3,4.3l-4.3,4.3zM340.3,1260.2l4.3,-4.3l4.3,4.3l-4.3,4.3zM343.8,1260.1l4.3,-4.3l4.3,4.3l-4.3,4.3zM346.9,1259.7l4.3,-4.3l4.3,4.3l-4.3,4.3zM350.5,1259.9l4.3,-4.3l4.3,4.3l-4.3,4.3zM354.3,1260.2l4.3,-4.3l4.3,4.3l-4.3,4.3zM356.9,1259.8l4.3,-4.3l4.3,4.3l-4.3,4.3zM359.4,1260.2l4.3,-4.3l4.3,4.3l-4.3,4.3zM362.8,1259.8l4.3,-4.3l4.3,4.3l-4.3,4.3zM365,1260.1l4.3,-4.3l4.3,4.3l-4.3,4.3zM368.1,1260l4.3,-4.3l4.3,4.3l-4.3,4.3zM370.6,1260.2l4.3,-4.3l4.3,4.3l-4.3,4.3zM372.6,1259.9l4.3,-4.3l4.3,4.3l-4.3,4.3zM375.5,1260.5l4.3,-4.3l4.3,4.3l-4.3,4.3zM378.8,1260.4l4.3,-4.3l4.3,4.3l-4.3,4.3zM381.8,1259.9l4.3,-4.3l4.3,4.3l-4.3,4.3zM384.2,1260.5l4.3,-4.3l4.3,4.3l-4.3,4.3zM387.7,1259.9l4.3,-4.3l4.3,4.3l-4.3,4.3zM389.7,1260.1l4.3,-4.3l4.3,4.3l-4.3,4.3zM393,1260l4.3,-4.3l4.3,4.3l-4.3,4.3zM395.6,1260.2l4.3,-4.3l4.3,4.3l-4.3,4.3zM399.4,1259.9l4.3,-4.3l4.3,4.3l-4.3,4.3zM401.5,1260l4.3,-4.3l4.3,4.3l-4.3,4.3zM404.3,1260.2l4.3,-4.3l4.3,4.3l-4.3,4.3zM406.7,1260.3l4.3,-4.3l4.3,4.3l-4.3,4.3zM407.1,1260.1l4.3,-4.3l4.3,4.3l-4.3,4.3zM420,1260.1l4.3,-4.3l4.3,4.3l-4.3,4.3zM422.4,1260.5l4.3,-4.3l4.3,4.3l-4.3,4.3zM425,1260.4l4.3,-4.3l4.3,4.3l-4.3,4.3zM426.1,1260.1l4.3,-4.3l4.3,4.3l-4.3,4.3zM272.7,1248.4l4.3,-4.3l4.3,4.3l-4.3,4.3zM303,1248.2l4.3,-4.3l4.3,4.3l-4.3,4.3zM303.4,1248.4l4.3,-4.3l4.3,4.3l-4.3,4.3zM312.8,1248.3l4.3,-4.3l4.3,4.3l-4.3,4.3zM316.7,1248.4l4.3,-4.3l4.3,4.3l-4.3,4.3zM319.1,1248.2l4.3,-4.3l4.3,4.3l-4.3,4.3zM321.9,1248.6l4.3,-4.3l4.3,4.3l-4.3,4.3zM325.8,1248.1l4.3,-4.3l4.3,4.3l-4.3,4.3zM328.6,1248.2l4.3,-4.3l4.3,4.3l-4.3,4.3zM332.5,1248.1l4.3,-4.3l4.3,4.3l-4.3,4.3zM334.6,1248.1l4.3,-4.3l4.3,4.3l-4.3,4.3zM337.4,1248.7l4.3,-4.3l4.3,4.3l-4.3,4.3zM341.2,1248.6l4.3,-4.3l4.3,4.3l-4.3,4.3zM345.2,1248.8l4.3,-4.3l4.3,4.3l-4.3,4.3zM347.9,1248.2l4.3,-4.3l4.3,4.3l-4.3,4.3zM351.7,1248.6l4.3,-4.3l4.3,4.3l-4.3,4.3zM353.8,1248.6l4.3,-4.3l4.3,4.3l-4.3,4.3zM356.5,1248.3l4.3,-4.3l4.3,4.3l-4.3,4.3zM359.2,1248.2l4.3,-4.3l4.3,4.3l-4.3,4.3zM361.2,1248.2l4.3,-4.3l4.3,4.3l-4.3,4.3zM363.9,1248.8l4.3,-4.3l4.3,4.3l-4.3,4.3zM366.2,1248.8l4.3,-4.3l4.3,4.3l-4.3,4.3zM368.6,1248.3l4.3,-4.3l4.3,4.3l-4.3,4.3zM372.2,1248.7l4.3,-4.3l4.3,4.3l-4.3,4.3zM375.1,1248.1l4.3,-4.3l4.3,4.3l-4.3,4.3zM378,1248.3l4.3,-4.3l4.3,4.3l-4.3,4.3zM381.9,1248.2l4.3,-4.3l4.3,4.3l-4.3,4.3zM384.6,1248.7l4.3,-4.3l4.3,4.3l-4.3,4.3zM386.7,1248.3l4.3,-4.3l4.3,4.3l-4.3,4.3zM390.3,1248.6l4.3,-4.3l4.3,4.3l-4.3,4.3zM392.4,1248l4.3,-4.3l4.3,4.3l-4.3,4.3zM394.5,1248.8l4.3,-4.3l4.3,4.3l-4.3,4.3zM397,1248.6l4.3,-4.3l4.3,4.3l-4.3,4.3zM400.8,1248.3l4.3,-4.3l4.3,4.3l-4.3,4.3zM403.4,1248.8l4.3,-4.3l4.3,4.3l-4.3,4.3zM406.6,1248.2l4.3,-4.3l4.3,4.3l-4.3,4.3zM410,1248.3l4.3,-4.3l4.3,4.3l-4.3,4.3zM412,1248.4l4.3,-4.3l4.3,4.3l-4.3,4.3zM292.5,1236.3l4.3,-4.3l4.3,4.3l-4.3,4.3zM296,1237.1l4.3,-4.3l4.3,4.3l-4.3,4.3zM296.4,1236.7l4.3,-4.3l4.3,4.3l-4.3,4.3zM311.9,1236.7l4.3,-4.3l4.3,4.3l-4.3,4.3zM324,1237.1l4.3,-4.3l4.3,4.3l-4.3,4.3zM326,1236.5l4.3,-4.3l4.3,4.3l-4.3,4.3zM329,1237.1l4.3,-4.3l4.3,4.3l-4.3,4.3zM332.9,1236.6l4.3,-4.3l4.3,4.3l-4.3,4.3zM335.4,1236.7l4.3,-4.3l4.3,4.3l-4.3,4.3zM338.4,1237.1l4.3,-4.3l4.3,4.3l-4.3,4.3zM340.8,1237l4.3,-4.3l4.3,4.3l-4.3,4.3zM344.2,1237l4.3,-4.3l4.3,4.3l-4.3,4.3zM347.8,1236.8l4.3,-4.3l4.3,4.3l-4.3,4.3zM350.4,1236.6l4.3,-4.3l4.3,4.3l-4.3,4.3zM353.2,1237l4.3,-4.3l4.3,4.3l-4.3,4.3zM355.3,1236.5l4.3,-4.3l4.3,4.3l-4.3,4.3zM358.8,1236.5l4.3,-4.3l4.3,4.3l-4.3,4.3zM361,1236.4l4.3,-4.3l4.3,4.3l-4.3,4.3zM364.1,1236.6l4.3,-4.3l4.3,4.3l-4.3,4.3zM368,1237l4.3,-4.3l4.3,4.3l-4.3,4.3zM372,1236.6l4.3,-4.3l4.3,4.3l-4.3,4.3zM374.2,1236.4l4.3,-4.3l4.3,4.3l-4.3,4.3zM377.2,1236.9l4.3,-4.3l4.3,4.3l-4.3,4.3zM380.1,1236.5l4.3,-4.3l4.3,4.3l-4.3,4.3zM382.9,1236.8l4.3,-4.3l4.3,4.3l-4.3,4.3zM386.2,1236.9l4.3,-4.3l4.3,4.3l-4.3,4.3zM389.9,1236.9l4.3,-4.3l4.3,4.3l-4.3,4.3zM392.2,1237l4.3,-4.3l4.3,4.3l-4.3,4.3zM393.1,1236.7l4.3,-4.3l4.3,4.3l-4.3,4.3zM403.2,1236.8l4.3,-4.3l4.3,4.3l-4.3,4.3zM405.9,1236.9l4.3,-4.3l4.3,4.3l-4.3,4.3zM408.3,1236.5l4.3,-4.3l4.3,4.3l-4.3,4.3zM410.8,1236.5l4.3,-4.3l4.3,4.3l-4.3,4.3zM414.6,1236.8l4.3,-4.3l4.3,4.3l-4.3,4.3zM417.3,1236.7l4.3,-4.3l4.3,4.3l-4.3,4.3zM421.2,1236.7l4.3,-4.3l4.3,4.3l-4.3,4.3zM423.7,1237l4.3,-4.3l4.3,4.3l-4.3,4.3zM427,1237.1l4.3,-4.3l4.3,4.3l-4.3,4.3zM429.2,1236.7l4.3,-4.3l4.3,4.3l-4.3,4.3zM432.9,1237l4.3,-4.3l4.3,4.3l-4.3,4.3zM436.7,1236.4l4.3,-4.3l4.3,4.3l-4.3,4.3zM439.3,1236.4l4.3,-4.3l4.3,4.3l-4.3,4.3zM441.6,1237.1l4.3,-4.3l4.3,4.3l-4.3,4.3zM444.8,1237.1l4.3,-4.3l4.3,4.3l-4.3,4.3zM447.6,1237l4.3,-4.3l4.3,4.3l-4.3,4.3zM450.3,1236.7l4.3,-4.3l4.3,4.3l-4.3,4.3zM312.3,1225.1l4.3,-4.3l4.3,4.3l-4.3,4.3zM321.9,1224.9l4.3,-4.3l4.3,4.3l-4.3,4.3zM323.7,1225.1l4.3,-4.3l4.3,4.3l-4.3,4.3zM333.3,1225.1l4.3,-4.3l4.3,4.3l-4.3,4.3zM342.9,1225.4l4.3,-4.3l4.3,4.3l-4.3,4.3zM345.1,1225.1l4.3,-4.3l4.3,4.3l-4.3,4.3zM348.4,1224.8l4.3,-4.3l4.3,4.3l-4.3,4.3zM351.1,1224.8l4.3,-4.3l4.3,4.3l-4.3,4.3zM353.5,1224.9l4.3,-4.3l4.3,4.3l-4.3,4.3zM356.7,1225.2l4.3,-4.3l4.3,4.3l-4.3,4.3zM359.1,1224.7l4.3,-4.3l4.3,4.3l-4.3,4.3zM361.8,1225.2l4.3,-4.3l4.3,4.3l-4.3,4.3zM364.1,1224.9l4.3,-4.3l4.3,4.3l-4.3,4.3zM366.5,1225.3l4.3,-4.3l4.3,4.3l-4.3,4.3zM369.6,1224.7l4.3,-4.3l4.3,4.3l-4.3,4.3zM371.8,1225l4.3,-4.3l4.3,4.3l-4.3,4.3zM374.9,1225.2l4.3,-4.3l4.3,4.3l-4.3,4.3zM377.1,1224.8l4.3,-4.3l4.3,4.3l-4.3,4.3zM380.5,1225l4.3,-4.3l4.3,4.3l-4.3,4.3zM383.1,1224.9l4.3,-4.3l4.3,4.3l-4.3,4.3zM387,1224.9l4.3,-4.3l4.3,4.3l-4.3,4.3zM390.1,1224.9l4.3,-4.3l4.3,4.3l-4.3,4.3zM392.9,1225.4l4.3,-4.3l4.3,4.3l-4.3,4.3zM396.9,1225l4.3,-4.3l4.3,4.3l-4.3,4.3zM399.3,1225.2l4.3,-4.3l4.3,4.3l-4.3,4.3zM399.4,1225.1l4.3,-4.3l4.3,4.3l-4.3,4.3zM444.4,1225.1l4.3,-4.3l4.3,4.3l-4.3,4.3zM455.8,1224.7l4.3,-4.3l4.3,4.3l-4.3,4.3zM456,1225.1l4.3,-4.3l4.3,4.3l-4.3,4.3zM312.8,1213.3l4.3,-4.3l4.3,4.3l-4.3,4.3zM314.6,1213.4l4.3,-4.3l4.3,4.3l-4.3,4.3zM342.9,1213.3l4.3,-4.3l4.3,4.3l-4.3,4.3zM346.7,1213.3l4.3,-4.3l4.3,4.3l-4.3,4.3zM349,1213l4.3,-4.3l4.3,4.3l-4.3,4.3zM352.1,1213.5l4.3,-4.3l4.3,4.3l-4.3,4.3zM355.9,1213.1l4.3,-4.3l4.3,4.3l-4.3,4.3zM359.2,1213.3l4.3,-4.3l4.3,4.3l-4.3,4.3zM362.2,1213.1l4.3,-4.3l4.3,4.3l-4.3,4.3zM364.7,1213.4l4.3,-4.3l4.3,4.3l-4.3,4.3zM368.6,1213.1l4.3,-4.3l4.3,4.3l-4.3,4.3zM371.6,1213.6l4.3,-4.3l4.3,4.3l-4.3,4.3zM375.5,1213.1l4.3,-4.3l4.3,4.3l-4.3,4.3zM377.8,1213.7l4.3,-4.3l4.3,4.3l-4.3,4.3zM381.7,1213.4l4.3,-4.3l4.3,4.3l-4.3,4.3zM383.8,1213.7l4.3,-4.3l4.3,4.3l-4.3,4.3zM386.6,1213.7l4.3,-4.3l4.3,4.3l-4.3,4.3zM389.8,1213.6l4.3,-4.3l4.3,4.3l-4.3,4.3zM392.1,1213.6l4.3,-4.3l4.3,4.3l-4.3,4.3zM394.6,1213.3l4.3,-4.3l4.3,4.3l-4.3,4.3zM398.3,1213.6l4.3,-4.3l4.3,4.3l-4.3,4.3zM400.7,1213.2l4.3,-4.3l4.3,4.3l-4.3,4.3zM403.4,1213.4l4.3,-4.3l4.3,4.3l-4.3,4.3zM406.2,1213.1l4.3,-4.3l4.3,4.3l-4.3,4.3zM408.7,1213.6l4.3,-4.3l4.3,4.3l-4.3,4.3zM412.5,1213l4.3,-4.3l4.3,4.3l-4.3,4.3zM415.6,1213.6l4.3,-4.3l4.3,4.3l-4.3,4.3zM417.7,1213.7l4.3,-4.3l4.3,4.3l-4.3,4.3zM419.7,1213.4l4.3,-4.3l4.3,4.3l-4.3,4.3zM450.6,1213.4l4.3,-4.3l4.3,4.3l-4.3,4.3zM194.4,1201.8l4.3,-4.3l4.3,4.3l-4.3,4.3zM197.5,1201.8l4.3,-4.3l4.3,4.3l-4.3,4.3zM200.1,1201.6l4.3,-4.3l4.3,4.3l-4.3,4.3zM202.4,1201.7l4.3,-4.3l4.3,4.3l-4.3,4.3zM218.4,1201.6l4.3,-4.3l4.3,4.3l-4.3,4.3zM221.7,1201.7l4.3,-4.3l4.3,4.3l-4.3,4.3zM224.4,1201.7l4.3,-4.3l4.3,4.3l-4.3,4.3zM243.1,1201.3l4.3,-4.3l4.3,4.3l-4.3,4.3zM244.5,1201.7l4.3,-4.3l4.3,4.3l-4.3,4.3zM263.8,1201.7l4.3,-4.3l4.3,4.3l-4.3,4.3zM266.3,1201.9l4.3,-4.3l4.3,4.3l-4.3,4.3zM266.9,1201.7l4.3,-4.3l4.3,4.3l-4.3,4.3zM305.1,1201.7l4.3,-4.3l4.3,4.3l-4.3,4.3zM307.5,1201.7l4.3,-4.3l4.3,4.3l-4.3,4.3zM309.7,1201.4l4.3,-4.3l4.3,4.3l-4.3,4.3zM311.8,1201.7l4.3,-4.3l4.3,4.3l-4.3,4.3zM322.8,1201.7l4.3,-4.3l4.3,4.3l-4.3,4.3zM352,1201.4l4.3,-4.3l4.3,4.3l-4.3,4.3zM354.9,1201.7l4.3,-4.3l4.3,4.3l-4.3,4.3zM357,1201.8l4.3,-4.3l4.3,4.3l-4.3,4.3zM359.1,1201.9l4.3,-4.3l4.3,4.3l-4.3,4.3zM362.7,1201.7l4.3,-4.3l4.3,4.3l-4.3,4.3zM364.8,1201.7l4.3,-4.3l4.3,4.3l-4.3,4.3zM367.5,1202.1l4.3,-4.3l4.3,4.3l-4.3,4.3zM369.8,1202l4.3,-4.3l4.3,4.3l-4.3,4.3zM373.8,1201.9l4.3,-4.3l4.3,4.3l-4.3,4.3zM377.4,1201.5l4.3,-4.3l4.3,4.3l-4.3,4.3zM381.4,1201.7l4.3,-4.3l4.3,4.3l-4.3,4.3zM385.3,1202l4.3,-4.3l4.3,4.3l-4.3,4.3zM387.7,1201.9l4.3,-4.3l4.3,4.3l-4.3,4.3zM391.5,1201.4l4.3,-4.3l4.3,4.3l-4.3,4.3zM394.2,1201.9l4.3,-4.3l4.3,4.3l-4.3,4.3zM396.5,1202l4.3,-4.3l4.3,4.3l-4.3,4.3zM399.1,1202l4.3,-4.3l4.3,4.3l-4.3,4.3zM401.4,1201.7l4.3,-4.3l4.3,4.3l-4.3,4.3zM405.2,1201.5l4.3,-4.3l4.3,4.3l-4.3,4.3zM407.7,1201.7l4.3,-4.3l4.3,4.3l-4.3,4.3zM410.4,1201.3l4.3,-4.3l4.3,4.3l-4.3,4.3zM412.7,1201.4l4.3,-4.3l4.3,4.3l-4.3,4.3zM416.6,1201.8l4.3,-4.3l4.3,4.3l-4.3,4.3zM420.4,1201.4l4.3,-4.3l4.3,4.3l-4.3,4.3zM424,1201.4l4.3,-4.3l4.3,4.3l-4.3,4.3zM427,1201.8l4.3,-4.3l4.3,4.3l-4.3,4.3zM428.9,1201.7l4.3,-4.3l4.3,4.3l-4.3,4.3zM439.7,1202l4.3,-4.3l4.3,4.3l-4.3,4.3zM439.8,1201.7l4.3,-4.3l4.3,4.3l-4.3,4.3zM295.3,1190.1l4.3,-4.3l4.3,4.3l-4.3,4.3zM297.1,1190l4.3,-4.3l4.3,4.3l-4.3,4.3zM378,1189.7l4.3,-4.3l4.3,4.3l-4.3,4.3zM378.4,1190l4.3,-4.3l4.3,4.3l-4.3,4.3zM388.5,1190.1l4.3,-4.3l4.3,4.3l-4.3,4.3zM391.3,1190.3l4.3,-4.3l4.3,4.3l-4.3,4.3zM393.8,1190.4l4.3,-4.3l4.3,4.3l-4.3,4.3zM397,1189.9l4.3,-4.3l4.3,4.3l-4.3,4.3zM400.5,1190l4.3,-4.3l4.3,4.3l-4.3,4.3zM402.9,1190.2l4.3,-4.3l4.3,4.3l-4.3,4.3zM405,1190.3l4.3,-4.3l4.3,4.3l-4.3,4.3zM407.5,1190.1l4.3,-4.3l4.3,4.3l-4.3,4.3zM411.4,1190.1l4.3,-4.3l4.3,4.3l-4.3,4.3zM414.8,1189.9l4.3,-4.3l4.3,4.3l-4.3,4.3zM416.8,1189.6l4.3,-4.3l4.3,4.3l-4.3,4.3zM419.1,1190.1l4.3,-4.3l4.3,4.3l-4.3,4.3zM421.9,1190l4.3,-4.3l4.3,4.3l-4.3,4.3zM425.7,1189.7l4.3,-4.3l4.3,4.3l-4.3,4.3zM428.2,1190.1l4.3,-4.3l4.3,4.3l-4.3,4.3zM430.2,1189.6l4.3,-4.3l4.3,4.3l-4.3,4.3zM432.9,1189.7l4.3,-4.3l4.3,4.3l-4.3,4.3zM435.6,1189.8l4.3,-4.3l4.3,4.3l-4.3,4.3zM438.8,1190.1l4.3,-4.3l4.3,4.3l-4.3,4.3zM441.2,1190.1l4.3,-4.3l4.3,4.3l-4.3,4.3zM444.2,1189.7l4.3,-4.3l4.3,4.3l-4.3,4.3zM445,1190l4.3,-4.3l4.3,4.3l-4.3,4.3zM406.5,1178.1l4.3,-4.3l4.3,4.3l-4.3,4.3zM408.8,1178l4.3,-4.3l4.3,4.3l-4.3,4.3zM412.1,1178.6l4.3,-4.3l4.3,4.3l-4.3,4.3zM415.6,1178.3l4.3,-4.3l4.3,4.3l-4.3,4.3zM418.2,1177.9l4.3,-4.3l4.3,4.3l-4.3,4.3zM421.5,1178.4l4.3,-4.3l4.3,4.3l-4.3,4.3zM424.2,1178.5l4.3,-4.3l4.3,4.3l-4.3,4.3zM427,1178.7l4.3,-4.3l4.3,4.3l-4.3,4.3zM430.5,1178.1l4.3,-4.3l4.3,4.3l-4.3,4.3zM434.3,1178l4.3,-4.3l4.3,4.3l-4.3,4.3zM437.4,1178.3l4.3,-4.3l4.3,4.3l-4.3,4.3zM439.9,1178l4.3,-4.3l4.3,4.3l-4.3,4.3zM443.4,1177.9l4.3,-4.3l4.3,4.3l-4.3,4.3zM446.5,1178.7l4.3,-4.3l4.3,4.3l-4.3,4.3zM448.8,1178.1l4.3,-4.3l4.3,4.3l-4.3,4.3zM452,1178.3l4.3,-4.3l4.3,4.3l-4.3,4.3zM453.8,1178.3l4.3,-4.3l4.3,4.3l-4.3,4.3zM473.3,1178.3l4.3,-4.3l4.3,4.3l-4.3,4.3zM403.2,1166.7l4.3,-4.3l4.3,4.3l-4.3,4.3zM416.3,1166.9l4.3,-4.3l4.3,4.3l-4.3,4.3zM418.6,1166.5l4.3,-4.3l4.3,4.3l-4.3,4.3zM421.2,1166.3l4.3,-4.3l4.3,4.3l-4.3,4.3zM425,1166.9l4.3,-4.3l4.3,4.3l-4.3,4.3zM428.5,1166.3l4.3,-4.3l4.3,4.3l-4.3,4.3zM432.1,1166.9l4.3,-4.3l4.3,4.3l-4.3,4.3zM435.1,1166.9l4.3,-4.3l4.3,4.3l-4.3,4.3zM438,1166.4l4.3,-4.3l4.3,4.3l-4.3,4.3zM440.2,1166.4l4.3,-4.3l4.3,4.3l-4.3,4.3zM442.3,1166.5l4.3,-4.3l4.3,4.3l-4.3,4.3zM445.8,1166.8l4.3,-4.3l4.3,4.3l-4.3,4.3zM449.5,1166.8l4.3,-4.3l4.3,4.3l-4.3,4.3zM452,1166.7l4.3,-4.3l4.3,4.3l-4.3,4.3zM454.9,1166.9l4.3,-4.3l4.3,4.3l-4.3,4.3zM457.9,1166.5l4.3,-4.3l4.3,4.3l-4.3,4.3zM461.2,1167l4.3,-4.3l4.3,4.3l-4.3,4.3zM463.6,1167l4.3,-4.3l4.3,4.3l-4.3,4.3zM465.7,1166.5l4.3,-4.3l4.3,4.3l-4.3,4.3zM468.1,1166.9l4.3,-4.3l4.3,4.3l-4.3,4.3zM472,1166.9l4.3,-4.3l4.3,4.3l-4.3,4.3zM474.7,1167l4.3,-4.3l4.3,4.3l-4.3,4.3zM477.3,1166.5l4.3,-4.3l4.3,4.3l-4.3,4.3zM479.8,1166.7l4.3,-4.3l4.3,4.3l-4.3,4.3zM397.4,1155.1l4.3,-4.3l4.3,4.3l-4.3,4.3zM397.8,1155l4.3,-4.3l4.3,4.3l-4.3,4.3zM432.9,1155l4.3,-4.3l4.3,4.3l-4.3,4.3zM441.5,1155.1l4.3,-4.3l4.3,4.3l-4.3,4.3zM445.5,1155l4.3,-4.3l4.3,4.3l-4.3,4.3zM449.1,1155.1l4.3,-4.3l4.3,4.3l-4.3,4.3zM452.9,1154.9l4.3,-4.3l4.3,4.3l-4.3,4.3zM456.3,1155l4.3,-4.3l4.3,4.3l-4.3,4.3zM458.9,1154.7l4.3,-4.3l4.3,4.3l-4.3,4.3zM462.2,1154.6l4.3,-4.3l4.3,4.3l-4.3,4.3zM466,1154.7l4.3,-4.3l4.3,4.3l-4.3,4.3zM468,1154.7l4.3,-4.3l4.3,4.3l-4.3,4.3zM471.9,1154.9l4.3,-4.3l4.3,4.3l-4.3,4.3zM474.2,1154.6l4.3,-4.3l4.3,4.3l-4.3,4.3zM476.3,1155.1l4.3,-4.3l4.3,4.3l-4.3,4.3zM479.5,1155.1l4.3,-4.3l4.3,4.3l-4.3,4.3zM481.9,1155l4.3,-4.3l4.3,4.3l-4.3,4.3zM451.5,1143.3l4.3,-4.3l4.3,4.3l-4.3,4.3zM461.1,1143l4.3,-4.3l4.3,4.3l-4.3,4.3zM463.7,1143.3l4.3,-4.3l4.3,4.3l-4.3,4.3zM475.2,1143.2l4.3,-4.3l4.3,4.3l-4.3,4.3zM478.8,1143.6l4.3,-4.3l4.3,4.3l-4.3,4.3zM481.9,1143.3l4.3,-4.3l4.3,4.3l-4.3,4.3zM468.7,1131.6l4.3,-4.3l4.3,4.3l-4.3,4.3zM479.4,1131.3l4.3,-4.3l4.3,4.3l-4.3,4.3zM483.1,1132l4.3,-4.3l4.3,4.3l-4.3,4.3zM487,1131.3l4.3,-4.3l4.3,4.3l-4.3,4.3zM489.4,1131.3l4.3,-4.3l4.3,4.3l-4.3,4.3zM491.5,1131.9l4.3,-4.3l4.3,4.3l-4.3,4.3zM495.1,1131.7l4.3,-4.3l4.3,4.3l-4.3,4.3zM495.2,1131.6l4.3,-4.3l4.3,4.3l-4.3,4.3zM479.4,1120l4.3,-4.3l4.3,4.3l-4.3,4.3zM481.9,1119.9l4.3,-4.3l4.3,4.3l-4.3,4.3zM491.3,1119.6l4.3,-4.3l4.3,4.3l-4.3,4.3zM493.5,1120.1l4.3,-4.3l4.3,4.3l-4.3,4.3zM495.9,1119.8l4.3,-4.3l4.3,4.3l-4.3,4.3zM498.8,1119.6l4.3,-4.3l4.3,4.3l-4.3,4.3zM501.3,1119.8l4.3,-4.3l4.3,4.3l-4.3,4.3zM504.7,1119.8l4.3,-4.3l4.3,4.3l-4.3,4.3zM507.3,1120.3l4.3,-4.3l4.3,4.3l-4.3,4.3zM510.3,1120.2l4.3,-4.3l4.3,4.3l-4.3,4.3zM510.6,1119.9l4.3,-4.3l4.3,4.3l-4.3,4.3zM506.7,1107.9l4.3,-4.3l4.3,4.3l-4.3,4.3zM509.5,1108.2l4.3,-4.3l4.3,4.3l-4.3,4.3zM513.1,1108.1l4.3,-4.3l4.3,4.3l-4.3,4.3zM513.4,1108.3l4.3,-4.3l4.3,4.3l-4.3,4.3zM517.1,1096.6l4.3,-4.3l4.3,4.3l-4.3,4.3zM527.6,1096.6l4.3,-4.3l4.3,4.3l-4.3,4.3z" fill="#000" clip-path="url(#cB1)"/>
<line x1="182.2" y1="1389.7" x2="551.9" y2="1083.3" stroke="#0000ff" stroke-width="1.6" clip-path="url(#cB1)"/>
<rect x="795.1" y="1073.8" width="495.9" height="315.5" fill="none" stroke="#000" stroke-width="1.5"/>
<line x1="785.1" y1="1377.1" x2="795.1" y2="1377.1" stroke="#000" stroke-width="1.5"/>
<text x="770.3" y="1377.1" font-size="18" text-anchor="middle" transform="rotate(-90 770.3 1377.1)">-10</text>
<line x1="785.1" y1="1304.2" x2="795.1" y2="1304.2" stroke="#000" stroke-width="1.5"/>
<text x="770.3" y="1304.2" font-size="18" text-anchor="middle" transform="rotate(-90 770.3 1304.2)">-5</text>
<line x1="785.1" y1="1231.3" x2="795.1" y2="1231.3" stroke="#000" stroke-width="1.5"/>
<text x="770.3" y="1231.3" font-size="18" text-anchor="middle" transform="rotate(-90 770.3 1231.3)">0</text>
<line x1="785.1" y1="1158.4" x2="795.1" y2="1158.4" stroke="#000" stroke-width="1.5"/>
<text x="770.3" y="1158.4" font-size="18" text-anchor="middle" transform="rotate(-90 770.3 1158.4)">5</text>
<line x1="785.1" y1="1085.5" x2="795.1" y2="1085.5" stroke="#000" stroke-width="1.5"/>
<text x="770.3" y="1085.5" font-size="18" text-anchor="middle" transform="rotate(-90 770.3 1085.5)">10</text>
<line x1="812.7" y1="1389.3" x2="812.7" y2="1400.3" stroke="#000" stroke-width="1.5"/>
<text x="812.7" y="1429.5" font-size="18" text-anchor="middle">5</text>
<line x1="904.8" y1="1389.3" x2="904.8" y2="1400.3" stroke="#000" stroke-width="1.5"/>
<text x="904.8" y="1429.5" font-size="18" text-anchor="middle">10</text>
<line x1="996.8" y1="1389.3" x2="996.8" y2="1400.3" stroke="#000" stroke-width="1.5"/>
<text x="996.8" y="1429.5" font-size="18" text-anchor="middle">15</text>
<line x1="1088.8" y1="1389.3" x2="1088.8" y2="1400.3" stroke="#000" stroke-width="1.5"/>
<text x="1088.8" y="1429.5" font-size="18" text-anchor="middle">20</text>
<line x1="1180.9" y1="1389.3" x2="1180.9" y2="1400.3" stroke="#000" stroke-width="1.5"/>
<text x="1180.9" y="1429.5" font-size="18" text-anchor="middle">25</text>
<line x1="1273" y1="1389.3" x2="1273" y2="1400.3" stroke="#000" stroke-width="1.5"/>
<text x="1273" y="1429.5" font-size="18" text-anchor="middle">30</text>
<line x1="800" y1="1231.3" x2="1286" y2="1231.3" stroke="#333" stroke-width="1.7" stroke-dasharray="7,4.5"/>
<line x1="795.1" y1="1220.2" x2="799.2" y2="1231" stroke="#222" stroke-width="1.2"/>
<path d="M883.7,1111.6l4.5,-4.5l4.5,4.5l-4.5,4.5zM885.4,1108.9l4.5,-4.5l4.5,4.5l-4.5,4.5zM886,1106.7l4.5,-4.5l4.5,4.5l-4.5,4.5zM887.9,1105.8l4.5,-4.5l4.5,4.5l-4.5,4.5zM893.3,1095.2l4.5,-4.5l4.5,4.5l-4.5,4.5zM895.9,1092.7l4.5,-4.5l4.5,4.5l-4.5,4.5zM898.1,1091.2l4.5,-4.5l4.5,4.5l-4.5,4.5zM904.1,1079.5l4.5,-4.5l4.5,4.5l-4.5,4.5zM904.2,1078.8l4.5,-4.5l4.5,4.5l-4.5,4.5zM821.1,1238.3l4.5,-4.5l4.5,4.5l-4.5,4.5zM822.9,1237l4.5,-4.5l4.5,4.5l-4.5,4.5zM824.6,1234.7l4.5,-4.5l4.5,4.5l-4.5,4.5zM826.3,1232.4l4.5,-4.5l4.5,4.5l-4.5,4.5zM828.4,1231.2l4.5,-4.5l4.5,4.5l-4.5,4.5zM829.2,1227.9l4.5,-4.5l4.5,4.5l-4.5,4.5zM829.1,1225.8l4.5,-4.5l4.5,4.5l-4.5,4.5zM837.2,1215.6l4.5,-4.5l4.5,4.5l-4.5,4.5zM837.7,1213.7l4.5,-4.5l4.5,4.5l-4.5,4.5zM838.2,1210.3l4.5,-4.5l4.5,4.5l-4.5,4.5zM841.2,1208.6l4.5,-4.5l4.5,4.5l-4.5,4.5zM841.3,1206.2l4.5,-4.5l4.5,4.5l-4.5,4.5zM843.4,1203.1l4.5,-4.5l4.5,4.5l-4.5,4.5zM846.6,1202l4.5,-4.5l4.5,4.5l-4.5,4.5zM845.6,1199.6l4.5,-4.5l4.5,4.5l-4.5,4.5zM848.2,1198.1l4.5,-4.5l4.5,4.5l-4.5,4.5zM848.6,1195.9l4.5,-4.5l4.5,4.5l-4.5,4.5zM849.2,1194.1l4.5,-4.5l4.5,4.5l-4.5,4.5zM851.1,1191.9l4.5,-4.5l4.5,4.5l-4.5,4.5zM853.8,1190.8l4.5,-4.5l4.5,4.5l-4.5,4.5zM854.7,1188.2l4.5,-4.5l4.5,4.5l-4.5,4.5zM855.9,1186.7l4.5,-4.5l4.5,4.5l-4.5,4.5zM857.3,1184.5l4.5,-4.5l4.5,4.5l-4.5,4.5zM857.8,1182.8l4.5,-4.5l4.5,4.5l-4.5,4.5zM855.9,1182.5l4.5,-4.5l4.5,4.5l-4.5,4.5zM828.9,1256.9l4.5,-4.5l4.5,4.5l-4.5,4.5zM829.7,1255l4.5,-4.5l4.5,4.5l-4.5,4.5zM831.1,1253.3l4.5,-4.5l4.5,4.5l-4.5,4.5zM837.8,1244l4.5,-4.5l4.5,4.5l-4.5,4.5zM839,1243l4.5,-4.5l4.5,4.5l-4.5,4.5zM838.1,1241.1l4.5,-4.5l4.5,4.5l-4.5,4.5zM839.8,1238.7l4.5,-4.5l4.5,4.5l-4.5,4.5zM842.6,1235.5l4.5,-4.5l4.5,4.5l-4.5,4.5zM842,1234.5l4.5,-4.5l4.5,4.5l-4.5,4.5zM845,1231.9l4.5,-4.5l4.5,4.5l-4.5,4.5zM846.3,1229.4l4.5,-4.5l4.5,4.5l-4.5,4.5zM847.8,1227.4l4.5,-4.5l4.5,4.5l-4.5,4.5zM848.4,1226.6l4.5,-4.5l4.5,4.5l-4.5,4.5zM849.1,1224.4l4.5,-4.5l4.5,4.5l-4.5,4.5zM849.4,1221.9l4.5,-4.5l4.5,4.5l-4.5,4.5zM850.9,1219.7l4.5,-4.5l4.5,4.5l-4.5,4.5zM853.5,1217.7l4.5,-4.5l4.5,4.5l-4.5,4.5zM855.7,1216.8l4.5,-4.5l4.5,4.5l-4.5,4.5zM856.6,1214l4.5,-4.5l4.5,4.5l-4.5,4.5zM855.8,1211.6l4.5,-4.5l4.5,4.5l-4.5,4.5zM859.3,1210.2l4.5,-4.5l4.5,4.5l-4.5,4.5zM860.1,1208l4.5,-4.5l4.5,4.5l-4.5,4.5zM860.7,1206.3l4.5,-4.5l4.5,4.5l-4.5,4.5zM862.4,1204.3l4.5,-4.5l4.5,4.5l-4.5,4.5zM864.5,1201.7l4.5,-4.5l4.5,4.5l-4.5,4.5zM866.6,1198.8l4.5,-4.5l4.5,4.5l-4.5,4.5zM868,1197.1l4.5,-4.5l4.5,4.5l-4.5,4.5zM869,1195.1l4.5,-4.5l4.5,4.5l-4.5,4.5zM869.9,1192.3l4.5,-4.5l4.5,4.5l-4.5,4.5zM871.2,1189.7l4.5,-4.5l4.5,4.5l-4.5,4.5zM873.8,1188.4l4.5,-4.5l4.5,4.5l-4.5,4.5zM873.6,1185.9l4.5,-4.5l4.5,4.5l-4.5,4.5zM875.1,1183.8l4.5,-4.5l4.5,4.5l-4.5,4.5zM877,1181.2l4.5,-4.5l4.5,4.5l-4.5,4.5zM877.7,1179.2l4.5,-4.5l4.5,4.5l-4.5,4.5zM879.2,1177.3l4.5,-4.5l4.5,4.5l-4.5,4.5zM880.2,1174l4.5,-4.5l4.5,4.5l-4.5,4.5zM882.5,1172.3l4.5,-4.5l4.5,4.5l-4.5,4.5zM884.3,1171.1l4.5,-4.5l4.5,4.5l-4.5,4.5zM885.5,1168.7l4.5,-4.5l4.5,4.5l-4.5,4.5zM885,1166.5l4.5,-4.5l4.5,4.5l-4.5,4.5zM888.6,1164.6l4.5,-4.5l4.5,4.5l-4.5,4.5zM888.7,1162.2l4.5,-4.5l4.5,4.5l-4.5,4.5zM844.2,1260.2l4.5,-4.5l4.5,4.5l-4.5,4.5zM847.8,1257.9l4.5,-4.5l4.5,4.5l-4.5,4.5zM847.8,1254.6l4.5,-4.5l4.5,4.5l-4.5,4.5zM849.1,1252.6l4.5,-4.5l4.5,4.5l-4.5,4.5zM851.4,1250.9l4.5,-4.5l4.5,4.5l-4.5,4.5zM853.2,1249.6l4.5,-4.5l4.5,4.5l-4.5,4.5zM852.3,1246.4l4.5,-4.5l4.5,4.5l-4.5,4.5zM853.9,1244.7l4.5,-4.5l4.5,4.5l-4.5,4.5zM856,1242.6l4.5,-4.5l4.5,4.5l-4.5,4.5zM856.5,1240.6l4.5,-4.5l4.5,4.5l-4.5,4.5zM859.4,1238.8l4.5,-4.5l4.5,4.5l-4.5,4.5zM858.3,1237.6l4.5,-4.5l4.5,4.5l-4.5,4.5zM861.2,1235.6l4.5,-4.5l4.5,4.5l-4.5,4.5zM863.7,1233.1l4.5,-4.5l4.5,4.5l-4.5,4.5zM863.4,1230.8l4.5,-4.5l4.5,4.5l-4.5,4.5zM864.4,1229.9l4.5,-4.5l4.5,4.5l-4.5,4.5zM864.9,1227.7l4.5,-4.5l4.5,4.5l-4.5,4.5zM867.1,1225.7l4.5,-4.5l4.5,4.5l-4.5,4.5zM868.3,1223.5l4.5,-4.5l4.5,4.5l-4.5,4.5zM869.1,1221.1l4.5,-4.5l4.5,4.5l-4.5,4.5zM870.7,1218.1l4.5,-4.5l4.5,4.5l-4.5,4.5zM874.3,1215.7l4.5,-4.5l4.5,4.5l-4.5,4.5zM875.6,1214.1l4.5,-4.5l4.5,4.5l-4.5,4.5zM876.1,1211.2l4.5,-4.5l4.5,4.5l-4.5,4.5zM877.9,1209.7l4.5,-4.5l4.5,4.5l-4.5,4.5zM879.4,1206.7l4.5,-4.5l4.5,4.5l-4.5,4.5zM881.7,1205l4.5,-4.5l4.5,4.5l-4.5,4.5zM882.6,1202.1l4.5,-4.5l4.5,4.5l-4.5,4.5zM884.4,1199.5l4.5,-4.5l4.5,4.5l-4.5,4.5zM884.3,1198.1l4.5,-4.5l4.5,4.5l-4.5,4.5zM885.9,1195.1l4.5,-4.5l4.5,4.5l-4.5,4.5zM886.3,1193.5l4.5,-4.5l4.5,4.5l-4.5,4.5zM888.2,1191.8l4.5,-4.5l4.5,4.5l-4.5,4.5zM888.7,1189.7l4.5,-4.5l4.5,4.5l-4.5,4.5zM892.1,1187.6l4.5,-4.5l4.5,4.5l-4.5,4.5zM892.8,1185.2l4.5,-4.5l4.5,4.5l-4.5,4.5zM893.1,1183.1l4.5,-4.5l4.5,4.5l-4.5,4.5zM895.7,1181.4l4.5,-4.5l4.5,4.5l-4.5,4.5zM897.4,1179.1l4.5,-4.5l4.5,4.5l-4.5,4.5zM897.3,1177.6l4.5,-4.5l4.5,4.5l-4.5,4.5zM898.4,1175l4.5,-4.5l4.5,4.5l-4.5,4.5zM901,1172l4.5,-4.5l4.5,4.5l-4.5,4.5zM902.1,1170.2l4.5,-4.5l4.5,4.5l-4.5,4.5zM902.1,1168.5l4.5,-4.5l4.5,4.5l-4.5,4.5zM904.5,1166.2l4.5,-4.5l4.5,4.5l-4.5,4.5zM906.1,1163.8l4.5,-4.5l4.5,4.5l-4.5,4.5zM907.3,1161.9l4.5,-4.5l4.5,4.5l-4.5,4.5zM910,1159.1l4.5,-4.5l4.5,4.5l-4.5,4.5zM908.9,1157.5l4.5,-4.5l4.5,4.5l-4.5,4.5zM929.8,1128.1l4.5,-4.5l4.5,4.5l-4.5,4.5zM929.7,1125.2l4.5,-4.5l4.5,4.5l-4.5,4.5zM932.8,1122.9l4.5,-4.5l4.5,4.5l-4.5,4.5zM930.8,1122.1l4.5,-4.5l4.5,4.5l-4.5,4.5zM858.1,1267.9l4.5,-4.5l4.5,4.5l-4.5,4.5zM859.6,1266l4.5,-4.5l4.5,4.5l-4.5,4.5zM861.7,1263.7l4.5,-4.5l4.5,4.5l-4.5,4.5zM861.7,1261.7l4.5,-4.5l4.5,4.5l-4.5,4.5zM863.6,1259.7l4.5,-4.5l4.5,4.5l-4.5,4.5zM864.1,1259.2l4.5,-4.5l4.5,4.5l-4.5,4.5zM870.6,1247.9l4.5,-4.5l4.5,4.5l-4.5,4.5zM873,1245.9l4.5,-4.5l4.5,4.5l-4.5,4.5zM875.3,1242.9l4.5,-4.5l4.5,4.5l-4.5,4.5zM876.7,1241.3l4.5,-4.5l4.5,4.5l-4.5,4.5zM876.5,1239.5l4.5,-4.5l4.5,4.5l-4.5,4.5zM879.5,1237.7l4.5,-4.5l4.5,4.5l-4.5,4.5zM878.5,1235.8l4.5,-4.5l4.5,4.5l-4.5,4.5zM879.2,1234.1l4.5,-4.5l4.5,4.5l-4.5,4.5zM882.4,1231.2l4.5,-4.5l4.5,4.5l-4.5,4.5zM883.4,1229.1l4.5,-4.5l4.5,4.5l-4.5,4.5zM884.5,1228.4l4.5,-4.5l4.5,4.5l-4.5,4.5zM884.6,1225.2l4.5,-4.5l4.5,4.5l-4.5,4.5zM887.2,1223l4.5,-4.5l4.5,4.5l-4.5,4.5zM887.1,1220.6l4.5,-4.5l4.5,4.5l-4.5,4.5zM889.4,1219.5l4.5,-4.5l4.5,4.5l-4.5,4.5zM889.7,1216.9l4.5,-4.5l4.5,4.5l-4.5,4.5zM892.7,1216.1l4.5,-4.5l4.5,4.5l-4.5,4.5zM892.3,1212.4l4.5,-4.5l4.5,4.5l-4.5,4.5zM895,1210.6l4.5,-4.5l4.5,4.5l-4.5,4.5zM896.2,1208.4l4.5,-4.5l4.5,4.5l-4.5,4.5zM897.9,1205.7l4.5,-4.5l4.5,4.5l-4.5,4.5zM900.1,1203.6l4.5,-4.5l4.5,4.5l-4.5,4.5zM901.1,1201.8l4.5,-4.5l4.5,4.5l-4.5,4.5zM900.6,1200.2l4.5,-4.5l4.5,4.5l-4.5,4.5zM903.6,1199l4.5,-4.5l4.5,4.5l-4.5,4.5zM905,1196.4l4.5,-4.5l4.5,4.5l-4.5,4.5zM905.5,1194.3l4.5,-4.5l4.5,4.5l-4.5,4.5zM907.8,1191.3l4.5,-4.5l4.5,4.5l-4.5,4.5zM909.2,1189.3l4.5,-4.5l4.5,4.5l-4.5,4.5zM909.9,1187l4.5,-4.5l4.5,4.5l-4.5,4.5zM912.3,1184.3l4.5,-4.5l4.5,4.5l-4.5,4.5zM913,1181.8l4.5,-4.5l4.5,4.5l-4.5,4.5zM913.8,1179.9l4.5,-4.5l4.5,4.5l-4.5,4.5zM914.9,1178.5l4.5,-4.5l4.5,4.5l-4.5,4.5zM915.9,1176.6l4.5,-4.5l4.5,4.5l-4.5,4.5zM917.7,1174l4.5,-4.5l4.5,4.5l-4.5,4.5zM919.6,1171.5l4.5,-4.5l4.5,4.5l-4.5,4.5zM921.6,1169.1l4.5,-4.5l4.5,4.5l-4.5,4.5zM924.1,1165.9l4.5,-4.5l4.5,4.5l-4.5,4.5zM924.9,1163.9l4.5,-4.5l4.5,4.5l-4.5,4.5zM924.2,1161.9l4.5,-4.5l4.5,4.5l-4.5,4.5zM924.7,1161.3l4.5,-4.5l4.5,4.5l-4.5,4.5zM934,1150.6l4.5,-4.5l4.5,4.5l-4.5,4.5zM935.5,1148.5l4.5,-4.5l4.5,4.5l-4.5,4.5zM935.1,1148l4.5,-4.5l4.5,4.5l-4.5,4.5zM891.7,1243.1l4.5,-4.5l4.5,4.5l-4.5,4.5zM893.1,1241l4.5,-4.5l4.5,4.5l-4.5,4.5zM895.4,1238.4l4.5,-4.5l4.5,4.5l-4.5,4.5zM897.1,1236.2l4.5,-4.5l4.5,4.5l-4.5,4.5zM898.3,1234.1l4.5,-4.5l4.5,4.5l-4.5,4.5zM899.5,1231.6l4.5,-4.5l4.5,4.5l-4.5,4.5zM901.5,1229.3l4.5,-4.5l4.5,4.5l-4.5,4.5zM902.3,1226.6l4.5,-4.5l4.5,4.5l-4.5,4.5zM902.7,1224.9l4.5,-4.5l4.5,4.5l-4.5,4.5zM905.2,1223.4l4.5,-4.5l4.5,4.5l-4.5,4.5zM905.8,1221.1l4.5,-4.5l4.5,4.5l-4.5,4.5zM907.5,1218.4l4.5,-4.5l4.5,4.5l-4.5,4.5zM909.9,1216.4l4.5,-4.5l4.5,4.5l-4.5,4.5zM911.2,1214.6l4.5,-4.5l4.5,4.5l-4.5,4.5zM912.6,1212.3l4.5,-4.5l4.5,4.5l-4.5,4.5zM914.5,1208.7l4.5,-4.5l4.5,4.5l-4.5,4.5zM915.5,1206.6l4.5,-4.5l4.5,4.5l-4.5,4.5zM916.7,1204.9l4.5,-4.5l4.5,4.5l-4.5,4.5zM918.4,1203.2l4.5,-4.5l4.5,4.5l-4.5,4.5zM919.3,1201.4l4.5,-4.5l4.5,4.5l-4.5,4.5zM920.7,1199.6l4.5,-4.5l4.5,4.5l-4.5,4.5zM923,1196.1l4.5,-4.5l4.5,4.5l-4.5,4.5zM924.4,1195.1l4.5,-4.5l4.5,4.5l-4.5,4.5zM924.4,1192.2l4.5,-4.5l4.5,4.5l-4.5,4.5zM926.4,1190.2l4.5,-4.5l4.5,4.5l-4.5,4.5zM928.4,1187.5l4.5,-4.5l4.5,4.5l-4.5,4.5zM930.2,1186.5l4.5,-4.5l4.5,4.5l-4.5,4.5zM929.2,1182.9l4.5,-4.5l4.5,4.5l-4.5,4.5zM931.4,1181.8l4.5,-4.5l4.5,4.5l-4.5,4.5zM932.8,1179.5l4.5,-4.5l4.5,4.5l-4.5,4.5zM934.2,1178.4l4.5,-4.5l4.5,4.5l-4.5,4.5zM934.8,1176.1l4.5,-4.5l4.5,4.5l-4.5,4.5zM935.8,1174.6l4.5,-4.5l4.5,4.5l-4.5,4.5zM936.6,1171.3l4.5,-4.5l4.5,4.5l-4.5,4.5zM939.7,1169.6l4.5,-4.5l4.5,4.5l-4.5,4.5zM940.3,1167.3l4.5,-4.5l4.5,4.5l-4.5,4.5zM941.3,1165.9l4.5,-4.5l4.5,4.5l-4.5,4.5zM909.7,1247.4l4.5,-4.5l4.5,4.5l-4.5,4.5zM910.4,1245.9l4.5,-4.5l4.5,4.5l-4.5,4.5zM910.6,1242.9l4.5,-4.5l4.5,4.5l-4.5,4.5zM911.4,1240.4l4.5,-4.5l4.5,4.5l-4.5,4.5zM914,1238.9l4.5,-4.5l4.5,4.5l-4.5,4.5zM916,1236.3l4.5,-4.5l4.5,4.5l-4.5,4.5zM916.8,1234.5l4.5,-4.5l4.5,4.5l-4.5,4.5zM918.1,1233.4l4.5,-4.5l4.5,4.5l-4.5,4.5zM917.7,1231.1l4.5,-4.5l4.5,4.5l-4.5,4.5zM919.8,1228.4l4.5,-4.5l4.5,4.5l-4.5,4.5zM921.9,1227l4.5,-4.5l4.5,4.5l-4.5,4.5zM924.5,1223.8l4.5,-4.5l4.5,4.5l-4.5,4.5zM924.3,1221.2l4.5,-4.5l4.5,4.5l-4.5,4.5zM927.4,1219.9l4.5,-4.5l4.5,4.5l-4.5,4.5zM926.9,1217.5l4.5,-4.5l4.5,4.5l-4.5,4.5zM928.2,1215.5l4.5,-4.5l4.5,4.5l-4.5,4.5zM929.8,1214.3l4.5,-4.5l4.5,4.5l-4.5,4.5zM931.9,1211.8l4.5,-4.5l4.5,4.5l-4.5,4.5zM932.8,1210.5l4.5,-4.5l4.5,4.5l-4.5,4.5zM931.9,1208.2l4.5,-4.5l4.5,4.5l-4.5,4.5zM934.8,1206.6l4.5,-4.5l4.5,4.5l-4.5,4.5zM936.9,1203.2l4.5,-4.5l4.5,4.5l-4.5,4.5zM938.3,1201l4.5,-4.5l4.5,4.5l-4.5,4.5zM939.1,1200.4l4.5,-4.5l4.5,4.5l-4.5,4.5zM939.9,1197.9l4.5,-4.5l4.5,4.5l-4.5,4.5zM941.4,1195.6l4.5,-4.5l4.5,4.5l-4.5,4.5zM942.9,1194.1l4.5,-4.5l4.5,4.5l-4.5,4.5zM943.4,1191.5l4.5,-4.5l4.5,4.5l-4.5,4.5zM945.8,1189l4.5,-4.5l4.5,4.5l-4.5,4.5zM947.3,1187.1l4.5,-4.5l4.5,4.5l-4.5,4.5zM948.1,1184.6l4.5,-4.5l4.5,4.5l-4.5,4.5zM950.8,1182.3l4.5,-4.5l4.5,4.5l-4.5,4.5zM952.5,1180l4.5,-4.5l4.5,4.5l-4.5,4.5zM952.9,1177.4l4.5,-4.5l4.5,4.5l-4.5,4.5zM954.2,1174.6l4.5,-4.5l4.5,4.5l-4.5,4.5zM956.2,1173.6l4.5,-4.5l4.5,4.5l-4.5,4.5zM955.8,1170.7l4.5,-4.5l4.5,4.5l-4.5,4.5zM957.4,1169.6l4.5,-4.5l4.5,4.5l-4.5,4.5zM958.5,1166.9l4.5,-4.5l4.5,4.5l-4.5,4.5zM961.2,1164.7l4.5,-4.5l4.5,4.5l-4.5,4.5zM961.3,1163.6l4.5,-4.5l4.5,4.5l-4.5,4.5zM961.8,1160.4l4.5,-4.5l4.5,4.5l-4.5,4.5zM963.4,1158.9l4.5,-4.5l4.5,4.5l-4.5,4.5zM966,1156.5l4.5,-4.5l4.5,4.5l-4.5,4.5zM966.2,1154.7l4.5,-4.5l4.5,4.5l-4.5,4.5zM967.8,1152.7l4.5,-4.5l4.5,4.5l-4.5,4.5zM969.8,1149.9l4.5,-4.5l4.5,4.5l-4.5,4.5zM972.7,1147.4l4.5,-4.5l4.5,4.5l-4.5,4.5zM974.2,1145.4l4.5,-4.5l4.5,4.5l-4.5,4.5zM972.8,1144.2l4.5,-4.5l4.5,4.5l-4.5,4.5zM975.3,1141.2l4.5,-4.5l4.5,4.5l-4.5,4.5zM975,1141.7l4.5,-4.5l4.5,4.5l-4.5,4.5zM983.9,1128.4l4.5,-4.5l4.5,4.5l-4.5,4.5zM984.3,1127l4.5,-4.5l4.5,4.5l-4.5,4.5zM986.5,1124.9l4.5,-4.5l4.5,4.5l-4.5,4.5zM986.1,1122.8l4.5,-4.5l4.5,4.5l-4.5,4.5zM989.2,1121.2l4.5,-4.5l4.5,4.5l-4.5,4.5zM991,1118.6l4.5,-4.5l4.5,4.5l-4.5,4.5zM990,1117.1l4.5,-4.5l4.5,4.5l-4.5,4.5zM992.8,1115.7l4.5,-4.5l4.5,4.5l-4.5,4.5zM992.3,1112.5l4.5,-4.5l4.5,4.5l-4.5,4.5zM993.9,1110.4l4.5,-4.5l4.5,4.5l-4.5,4.5zM997.6,1108.4l4.5,-4.5l4.5,4.5l-4.5,4.5zM997.4,1106.1l4.5,-4.5l4.5,4.5l-4.5,4.5zM1000.4,1103.3l4.5,-4.5l4.5,4.5l-4.5,4.5zM1000,1101.3l4.5,-4.5l4.5,4.5l-4.5,4.5zM1001.2,1099.5l4.5,-4.5l4.5,4.5l-4.5,4.5zM1002.8,1096.7l4.5,-4.5l4.5,4.5l-4.5,4.5zM1004.4,1095.6l4.5,-4.5l4.5,4.5l-4.5,4.5zM1006.3,1092.9l4.5,-4.5l4.5,4.5l-4.5,4.5zM1006.9,1091.9l4.5,-4.5l4.5,4.5l-4.5,4.5zM1009,1088.3l4.5,-4.5l4.5,4.5l-4.5,4.5zM1010.4,1086.6l4.5,-4.5l4.5,4.5l-4.5,4.5zM1011.1,1084.1l4.5,-4.5l4.5,4.5l-4.5,4.5zM1012.6,1083.5l4.5,-4.5l4.5,4.5l-4.5,4.5zM894.2,1299.4l4.5,-4.5l4.5,4.5l-4.5,4.5zM895.2,1297.5l4.5,-4.5l4.5,4.5l-4.5,4.5zM896,1296l4.5,-4.5l4.5,4.5l-4.5,4.5zM896.7,1294.3l4.5,-4.5l4.5,4.5l-4.5,4.5zM900,1292.1l4.5,-4.5l4.5,4.5l-4.5,4.5zM899.7,1290.1l4.5,-4.5l4.5,4.5l-4.5,4.5zM900.2,1287.6l4.5,-4.5l4.5,4.5l-4.5,4.5zM903,1285.9l4.5,-4.5l4.5,4.5l-4.5,4.5zM920.6,1257.3l4.5,-4.5l4.5,4.5l-4.5,4.5zM921.1,1254.4l4.5,-4.5l4.5,4.5l-4.5,4.5zM922.3,1252.9l4.5,-4.5l4.5,4.5l-4.5,4.5zM925.6,1251.3l4.5,-4.5l4.5,4.5l-4.5,4.5zM926.1,1249.6l4.5,-4.5l4.5,4.5l-4.5,4.5zM927,1246.6l4.5,-4.5l4.5,4.5l-4.5,4.5zM927.2,1244.6l4.5,-4.5l4.5,4.5l-4.5,4.5zM931.4,1242.8l4.5,-4.5l4.5,4.5l-4.5,4.5zM931.8,1239.5l4.5,-4.5l4.5,4.5l-4.5,4.5zM932.3,1238.4l4.5,-4.5l4.5,4.5l-4.5,4.5zM933.4,1236.6l4.5,-4.5l4.5,4.5l-4.5,4.5zM936.2,1234.2l4.5,-4.5l4.5,4.5l-4.5,4.5zM937.1,1232.9l4.5,-4.5l4.5,4.5l-4.5,4.5zM937.3,1230.2l4.5,-4.5l4.5,4.5l-4.5,4.5zM939.4,1229.1l4.5,-4.5l4.5,4.5l-4.5,4.5zM940.8,1226.8l4.5,-4.5l4.5,4.5l-4.5,4.5zM942.5,1224.8l4.5,-4.5l4.5,4.5l-4.5,4.5zM941.2,1222.6l4.5,-4.5l4.5,4.5l-4.5,4.5zM944.3,1220.5l4.5,-4.5l4.5,4.5l-4.5,4.5zM945.1,1218l4.5,-4.5l4.5,4.5l-4.5,4.5zM947.8,1215.9l4.5,-4.5l4.5,4.5l-4.5,4.5zM948.3,1213.9l4.5,-4.5l4.5,4.5l-4.5,4.5zM948.8,1212.2l4.5,-4.5l4.5,4.5l-4.5,4.5zM957.4,1201.6l4.5,-4.5l4.5,4.5l-4.5,4.5zM956.4,1199.4l4.5,-4.5l4.5,4.5l-4.5,4.5zM959.7,1196.8l4.5,-4.5l4.5,4.5l-4.5,4.5zM960.9,1194.6l4.5,-4.5l4.5,4.5l-4.5,4.5zM960.2,1192.2l4.5,-4.5l4.5,4.5l-4.5,4.5zM963.8,1191.6l4.5,-4.5l4.5,4.5l-4.5,4.5zM963.4,1189l4.5,-4.5l4.5,4.5l-4.5,4.5zM965.1,1186.5l4.5,-4.5l4.5,4.5l-4.5,4.5zM965.7,1183.5l4.5,-4.5l4.5,4.5l-4.5,4.5zM967.3,1181.7l4.5,-4.5l4.5,4.5l-4.5,4.5zM968.8,1179.6l4.5,-4.5l4.5,4.5l-4.5,4.5zM971.1,1177.6l4.5,-4.5l4.5,4.5l-4.5,4.5zM971,1175.7l4.5,-4.5l4.5,4.5l-4.5,4.5zM974.7,1173.9l4.5,-4.5l4.5,4.5l-4.5,4.5zM974.4,1171.9l4.5,-4.5l4.5,4.5l-4.5,4.5zM976.9,1169.7l4.5,-4.5l4.5,4.5l-4.5,4.5zM978.9,1167.7l4.5,-4.5l4.5,4.5l-4.5,4.5zM978.8,1164.7l4.5,-4.5l4.5,4.5l-4.5,4.5zM981.6,1162.6l4.5,-4.5l4.5,4.5l-4.5,4.5zM981.6,1160.9l4.5,-4.5l4.5,4.5l-4.5,4.5zM981.8,1158.8l4.5,-4.5l4.5,4.5l-4.5,4.5zM985.3,1156l4.5,-4.5l4.5,4.5l-4.5,4.5zM985.6,1153.6l4.5,-4.5l4.5,4.5l-4.5,4.5zM986.1,1151.8l4.5,-4.5l4.5,4.5l-4.5,4.5zM988.2,1149.3l4.5,-4.5l4.5,4.5l-4.5,4.5zM990.1,1147.1l4.5,-4.5l4.5,4.5l-4.5,4.5zM990.9,1145.2l4.5,-4.5l4.5,4.5l-4.5,4.5zM993.4,1144.5l4.5,-4.5l4.5,4.5l-4.5,4.5zM994.7,1141.6l4.5,-4.5l4.5,4.5l-4.5,4.5zM994.5,1139.5l4.5,-4.5l4.5,4.5l-4.5,4.5zM996.8,1138.1l4.5,-4.5l4.5,4.5l-4.5,4.5zM889.4,1336.7l4.5,-4.5l4.5,4.5l-4.5,4.5zM891.2,1334.4l4.5,-4.5l4.5,4.5l-4.5,4.5zM890.6,1333l4.5,-4.5l4.5,4.5l-4.5,4.5zM893.2,1332l4.5,-4.5l4.5,4.5l-4.5,4.5zM893,1329.7l4.5,-4.5l4.5,4.5l-4.5,4.5zM893.1,1328.5l4.5,-4.5l4.5,4.5l-4.5,4.5zM895.6,1326.7l4.5,-4.5l4.5,4.5l-4.5,4.5zM895.9,1325.2l4.5,-4.5l4.5,4.5l-4.5,4.5zM930.2,1270.9l4.5,-4.5l4.5,4.5l-4.5,4.5zM931.6,1268.2l4.5,-4.5l4.5,4.5l-4.5,4.5zM933.6,1265.5l4.5,-4.5l4.5,4.5l-4.5,4.5zM936.7,1262.9l4.5,-4.5l4.5,4.5l-4.5,4.5zM935.9,1261.5l4.5,-4.5l4.5,4.5l-4.5,4.5zM936.6,1259.7l4.5,-4.5l4.5,4.5l-4.5,4.5zM940,1258l4.5,-4.5l4.5,4.5l-4.5,4.5zM939.4,1255.4l4.5,-4.5l4.5,4.5l-4.5,4.5zM941.9,1252l4.5,-4.5l4.5,4.5l-4.5,4.5zM942.7,1251l4.5,-4.5l4.5,4.5l-4.5,4.5zM943.4,1248.7l4.5,-4.5l4.5,4.5l-4.5,4.5zM946.6,1246.5l4.5,-4.5l4.5,4.5l-4.5,4.5zM948.3,1244.5l4.5,-4.5l4.5,4.5l-4.5,4.5zM947.8,1243.1l4.5,-4.5l4.5,4.5l-4.5,4.5zM949.2,1240.4l4.5,-4.5l4.5,4.5l-4.5,4.5zM952.2,1238.6l4.5,-4.5l4.5,4.5l-4.5,4.5zM952.3,1236l4.5,-4.5l4.5,4.5l-4.5,4.5zM953,1234l4.5,-4.5l4.5,4.5l-4.5,4.5zM954,1231.5l4.5,-4.5l4.5,4.5l-4.5,4.5zM956,1229.1l4.5,-4.5l4.5,4.5l-4.5,4.5zM957.2,1227.7l4.5,-4.5l4.5,4.5l-4.5,4.5zM958.5,1224.5l4.5,-4.5l4.5,4.5l-4.5,4.5zM961,1222.6l4.5,-4.5l4.5,4.5l-4.5,4.5zM961.7,1220.1l4.5,-4.5l4.5,4.5l-4.5,4.5zM963.7,1217.9l4.5,-4.5l4.5,4.5l-4.5,4.5zM965.7,1215.3l4.5,-4.5l4.5,4.5l-4.5,4.5zM967.7,1212.8l4.5,-4.5l4.5,4.5l-4.5,4.5zM968,1210.4l4.5,-4.5l4.5,4.5l-4.5,4.5zM970.3,1208.1l4.5,-4.5l4.5,4.5l-4.5,4.5zM972,1206.7l4.5,-4.5l4.5,4.5l-4.5,4.5zM972.1,1203.9l4.5,-4.5l4.5,4.5l-4.5,4.5zM974.1,1202.1l4.5,-4.5l4.5,4.5l-4.5,4.5zM975.2,1200.8l4.5,-4.5l4.5,4.5l-4.5,4.5zM977.3,1197.9l4.5,-4.5l4.5,4.5l-4.5,4.5zM976,1196.6l4.5,-4.5l4.5,4.5l-4.5,4.5zM978.5,1194.3l4.5,-4.5l4.5,4.5l-4.5,4.5zM979,1192.6l4.5,-4.5l4.5,4.5l-4.5,4.5zM981.7,1190.3l4.5,-4.5l4.5,4.5l-4.5,4.5zM981.8,1187.9l4.5,-4.5l4.5,4.5l-4.5,4.5zM983.2,1186.7l4.5,-4.5l4.5,4.5l-4.5,4.5zM984.4,1184.5l4.5,-4.5l4.5,4.5l-4.5,4.5zM987,1182.4l4.5,-4.5l4.5,4.5l-4.5,4.5zM986.3,1181.2l4.5,-4.5l4.5,4.5l-4.5,4.5zM989.7,1177.9l4.5,-4.5l4.5,4.5l-4.5,4.5zM989.7,1176.1l4.5,-4.5l4.5,4.5l-4.5,4.5zM990.5,1173.8l4.5,-4.5l4.5,4.5l-4.5,4.5zM994.7,1170.9l4.5,-4.5l4.5,4.5l-4.5,4.5zM995.3,1168.7l4.5,-4.5l4.5,4.5l-4.5,4.5zM996.9,1167l4.5,-4.5l4.5,4.5l-4.5,4.5zM996.5,1165.4l4.5,-4.5l4.5,4.5l-4.5,4.5zM996.2,1165.3l4.5,-4.5l4.5,4.5l-4.5,4.5zM1017.6,1134.3l4.5,-4.5l4.5,4.5l-4.5,4.5zM1017.3,1132.3l4.5,-4.5l4.5,4.5l-4.5,4.5zM1019.1,1130.9l4.5,-4.5l4.5,4.5l-4.5,4.5zM1019.9,1129.1l4.5,-4.5l4.5,4.5l-4.5,4.5zM1020.4,1126.3l4.5,-4.5l4.5,4.5l-4.5,4.5zM961.2,1251.6l4.5,-4.5l4.5,4.5l-4.5,4.5zM962.5,1250.6l4.5,-4.5l4.5,4.5l-4.5,4.5zM964.5,1247.9l4.5,-4.5l4.5,4.5l-4.5,4.5zM965.6,1245.8l4.5,-4.5l4.5,4.5l-4.5,4.5zM965.4,1243.3l4.5,-4.5l4.5,4.5l-4.5,4.5zM967.4,1241.4l4.5,-4.5l4.5,4.5l-4.5,4.5zM967.6,1240l4.5,-4.5l4.5,4.5l-4.5,4.5zM969.4,1238.7l4.5,-4.5l4.5,4.5l-4.5,4.5zM972.1,1235.5l4.5,-4.5l4.5,4.5l-4.5,4.5zM971.1,1234.1l4.5,-4.5l4.5,4.5l-4.5,4.5zM972.9,1231.3l4.5,-4.5l4.5,4.5l-4.5,4.5zM974,1230l4.5,-4.5l4.5,4.5l-4.5,4.5zM976.9,1227.2l4.5,-4.5l4.5,4.5l-4.5,4.5zM976.5,1226.1l4.5,-4.5l4.5,4.5l-4.5,4.5zM979.5,1223.9l4.5,-4.5l4.5,4.5l-4.5,4.5zM979,1220.8l4.5,-4.5l4.5,4.5l-4.5,4.5zM980.5,1219.5l4.5,-4.5l4.5,4.5l-4.5,4.5zM983.6,1217.2l4.5,-4.5l4.5,4.5l-4.5,4.5zM983.5,1215.2l4.5,-4.5l4.5,4.5l-4.5,4.5zM983.8,1214.1l4.5,-4.5l4.5,4.5l-4.5,4.5zM985.3,1212.3l4.5,-4.5l4.5,4.5l-4.5,4.5zM986.2,1210.5l4.5,-4.5l4.5,4.5l-4.5,4.5zM989,1208.6l4.5,-4.5l4.5,4.5l-4.5,4.5zM988.6,1206.5l4.5,-4.5l4.5,4.5l-4.5,4.5zM990.6,1204.2l4.5,-4.5l4.5,4.5l-4.5,4.5zM991.7,1201.6l4.5,-4.5l4.5,4.5l-4.5,4.5zM992.9,1199.3l4.5,-4.5l4.5,4.5l-4.5,4.5zM995.1,1198.4l4.5,-4.5l4.5,4.5l-4.5,4.5zM997.6,1195.6l4.5,-4.5l4.5,4.5l-4.5,4.5zM998.9,1193.2l4.5,-4.5l4.5,4.5l-4.5,4.5zM999.7,1191.8l4.5,-4.5l4.5,4.5l-4.5,4.5zM1000.1,1188.8l4.5,-4.5l4.5,4.5l-4.5,4.5zM1001.6,1186.9l4.5,-4.5l4.5,4.5l-4.5,4.5zM1002.5,1185.2l4.5,-4.5l4.5,4.5l-4.5,4.5zM1003.6,1182.9l4.5,-4.5l4.5,4.5l-4.5,4.5zM1005.4,1180.9l4.5,-4.5l4.5,4.5l-4.5,4.5zM1006.2,1178.5l4.5,-4.5l4.5,4.5l-4.5,4.5zM1007.9,1176.7l4.5,-4.5l4.5,4.5l-4.5,4.5zM1010.1,1174.9l4.5,-4.5l4.5,4.5l-4.5,4.5zM1009.7,1172.4l4.5,-4.5l4.5,4.5l-4.5,4.5zM1011,1170.5l4.5,-4.5l4.5,4.5l-4.5,4.5zM1013.2,1169.1l4.5,-4.5l4.5,4.5l-4.5,4.5zM1014.1,1166.6l4.5,-4.5l4.5,4.5l-4.5,4.5zM1015.1,1165.8l4.5,-4.5l4.5,4.5l-4.5,4.5zM1016.2,1163.4l4.5,-4.5l4.5,4.5l-4.5,4.5zM1017.9,1161.6l4.5,-4.5l4.5,4.5l-4.5,4.5zM1019.3,1158.9l4.5,-4.5l4.5,4.5l-4.5,4.5zM1022.1,1156.3l4.5,-4.5l4.5,4.5l-4.5,4.5zM1022,1154.6l4.5,-4.5l4.5,4.5l-4.5,4.5zM956,1288.2l4.5,-4.5l4.5,4.5l-4.5,4.5zM957.9,1285.7l4.5,-4.5l4.5,4.5l-4.5,4.5zM958.2,1283.6l4.5,-4.5l4.5,4.5l-4.5,4.5zM960.1,1282.3l4.5,-4.5l4.5,4.5l-4.5,4.5zM960.6,1279.8l4.5,-4.5l4.5,4.5l-4.5,4.5zM972.7,1262.8l4.5,-4.5l4.5,4.5l-4.5,4.5zM973.3,1261.4l4.5,-4.5l4.5,4.5l-4.5,4.5zM974.3,1259.9l4.5,-4.5l4.5,4.5l-4.5,4.5zM976.1,1257.6l4.5,-4.5l4.5,4.5l-4.5,4.5zM978.6,1254.9l4.5,-4.5l4.5,4.5l-4.5,4.5zM979.6,1252.9l4.5,-4.5l4.5,4.5l-4.5,4.5zM980.6,1251l4.5,-4.5l4.5,4.5l-4.5,4.5zM982.6,1247.7l4.5,-4.5l4.5,4.5l-4.5,4.5zM983.1,1245.9l4.5,-4.5l4.5,4.5l-4.5,4.5zM983.8,1244.2l4.5,-4.5l4.5,4.5l-4.5,4.5zM985,1241.4l4.5,-4.5l4.5,4.5l-4.5,4.5zM986,1239.8l4.5,-4.5l4.5,4.5l-4.5,4.5zM986.8,1237.6l4.5,-4.5l4.5,4.5l-4.5,4.5zM989.6,1236l4.5,-4.5l4.5,4.5l-4.5,4.5zM991.1,1234.4l4.5,-4.5l4.5,4.5l-4.5,4.5zM992.4,1233.2l4.5,-4.5l4.5,4.5l-4.5,4.5zM991.7,1231.2l4.5,-4.5l4.5,4.5l-4.5,4.5zM993.6,1228.9l4.5,-4.5l4.5,4.5l-4.5,4.5zM995.7,1226.7l4.5,-4.5l4.5,4.5l-4.5,4.5zM997,1225.4l4.5,-4.5l4.5,4.5l-4.5,4.5zM998.1,1222.4l4.5,-4.5l4.5,4.5l-4.5,4.5zM999.7,1220.5l4.5,-4.5l4.5,4.5l-4.5,4.5zM999.9,1217.5l4.5,-4.5l4.5,4.5l-4.5,4.5zM1001.6,1214.9l4.5,-4.5l4.5,4.5l-4.5,4.5zM1003.6,1214.3l4.5,-4.5l4.5,4.5l-4.5,4.5zM1004,1211.3l4.5,-4.5l4.5,4.5l-4.5,4.5zM1006.7,1209l4.5,-4.5l4.5,4.5l-4.5,4.5zM1009.4,1205.9l4.5,-4.5l4.5,4.5l-4.5,4.5zM1008.4,1203.5l4.5,-4.5l4.5,4.5l-4.5,4.5zM1011.3,1202.8l4.5,-4.5l4.5,4.5l-4.5,4.5zM1011.2,1200l4.5,-4.5l4.5,4.5l-4.5,4.5zM1013,1198.2l4.5,-4.5l4.5,4.5l-4.5,4.5zM1015.1,1196.9l4.5,-4.5l4.5,4.5l-4.5,4.5zM1015.1,1194.8l4.5,-4.5l4.5,4.5l-4.5,4.5zM1018.3,1192.1l4.5,-4.5l4.5,4.5l-4.5,4.5zM1018.6,1190.2l4.5,-4.5l4.5,4.5l-4.5,4.5zM1018.6,1187.7l4.5,-4.5l4.5,4.5l-4.5,4.5zM1020.5,1185.5l4.5,-4.5l4.5,4.5l-4.5,4.5zM1021.7,1183.3l4.5,-4.5l4.5,4.5l-4.5,4.5zM1022.6,1181.8l4.5,-4.5l4.5,4.5l-4.5,4.5zM1024,1179.8l4.5,-4.5l4.5,4.5l-4.5,4.5zM1025.3,1177.4l4.5,-4.5l4.5,4.5l-4.5,4.5zM1028.1,1176.1l4.5,-4.5l4.5,4.5l-4.5,4.5zM1027.2,1174.7l4.5,-4.5l4.5,4.5l-4.5,4.5zM1028.9,1172.4l4.5,-4.5l4.5,4.5l-4.5,4.5zM1030.8,1170.3l4.5,-4.5l4.5,4.5l-4.5,4.5zM1031.1,1168l4.5,-4.5l4.5,4.5l-4.5,4.5zM1034.1,1165.3l4.5,-4.5l4.5,4.5l-4.5,4.5zM1036.5,1163.6l4.5,-4.5l4.5,4.5l-4.5,4.5zM1037.7,1161.2l4.5,-4.5l4.5,4.5l-4.5,4.5zM1036.5,1158.8l4.5,-4.5l4.5,4.5l-4.5,4.5zM1037.7,1157.3l4.5,-4.5l4.5,4.5l-4.5,4.5zM1039.9,1155.1l4.5,-4.5l4.5,4.5l-4.5,4.5zM1040.6,1154.1l4.5,-4.5l4.5,4.5l-4.5,4.5zM1042.4,1152.4l4.5,-4.5l4.5,4.5l-4.5,4.5zM1044.6,1149.5l4.5,-4.5l4.5,4.5l-4.5,4.5zM1046.4,1147.4l4.5,-4.5l4.5,4.5l-4.5,4.5zM1046,1145l4.5,-4.5l4.5,4.5l-4.5,4.5zM1048.5,1143l4.5,-4.5l4.5,4.5l-4.5,4.5zM1057.4,1129.4l4.5,-4.5l4.5,4.5l-4.5,4.5zM1056.9,1127.6l4.5,-4.5l4.5,4.5l-4.5,4.5zM1059.4,1126.1l4.5,-4.5l4.5,4.5l-4.5,4.5zM1060.5,1123.6l4.5,-4.5l4.5,4.5l-4.5,4.5zM1061.4,1123.4l4.5,-4.5l4.5,4.5l-4.5,4.5zM988.1,1265.2l4.5,-4.5l4.5,4.5l-4.5,4.5zM988.7,1265.2l4.5,-4.5l4.5,4.5l-4.5,4.5zM995.7,1255.5l4.5,-4.5l4.5,4.5l-4.5,4.5zM995.6,1253.1l4.5,-4.5l4.5,4.5l-4.5,4.5zM997.7,1251l4.5,-4.5l4.5,4.5l-4.5,4.5zM999,1249.2l4.5,-4.5l4.5,4.5l-4.5,4.5zM1001.9,1246.9l4.5,-4.5l4.5,4.5l-4.5,4.5zM1001.7,1245l4.5,-4.5l4.5,4.5l-4.5,4.5zM1004.6,1243l4.5,-4.5l4.5,4.5l-4.5,4.5zM1004.2,1240.3l4.5,-4.5l4.5,4.5l-4.5,4.5zM1005.5,1237.8l4.5,-4.5l4.5,4.5l-4.5,4.5zM1009.2,1235.5l4.5,-4.5l4.5,4.5l-4.5,4.5zM1008.6,1234.6l4.5,-4.5l4.5,4.5l-4.5,4.5zM1010.5,1232.2l4.5,-4.5l4.5,4.5l-4.5,4.5zM1010.7,1230.2l4.5,-4.5l4.5,4.5l-4.5,4.5zM1014.1,1227.6l4.5,-4.5l4.5,4.5l-4.5,4.5zM1014.7,1224.9l4.5,-4.5l4.5,4.5l-4.5,4.5zM1016.6,1222.8l4.5,-4.5l4.5,4.5l-4.5,4.5zM1017.3,1220.4l4.5,-4.5l4.5,4.5l-4.5,4.5zM1018.9,1218.8l4.5,-4.5l4.5,4.5l-4.5,4.5zM1018.7,1216.7l4.5,-4.5l4.5,4.5l-4.5,4.5zM1021.6,1214.6l4.5,-4.5l4.5,4.5l-4.5,4.5zM1022,1211.9l4.5,-4.5l4.5,4.5l-4.5,4.5zM1025.3,1209l4.5,-4.5l4.5,4.5l-4.5,4.5zM1027.5,1206.7l4.5,-4.5l4.5,4.5l-4.5,4.5zM1026.7,1204.8l4.5,-4.5l4.5,4.5l-4.5,4.5zM1028.4,1202.6l4.5,-4.5l4.5,4.5l-4.5,4.5zM1031.8,1200.3l4.5,-4.5l4.5,4.5l-4.5,4.5zM1032.1,1198l4.5,-4.5l4.5,4.5l-4.5,4.5zM1034.2,1196.1l4.5,-4.5l4.5,4.5l-4.5,4.5zM1035.1,1193.9l4.5,-4.5l4.5,4.5l-4.5,4.5zM1036.7,1191.5l4.5,-4.5l4.5,4.5l-4.5,4.5zM1037.2,1189.5l4.5,-4.5l4.5,4.5l-4.5,4.5zM1039,1187.8l4.5,-4.5l4.5,4.5l-4.5,4.5zM1040.2,1186.4l4.5,-4.5l4.5,4.5l-4.5,4.5zM1041,1184l4.5,-4.5l4.5,4.5l-4.5,4.5zM1041.4,1180.9l4.5,-4.5l4.5,4.5l-4.5,4.5zM1042.2,1179.3l4.5,-4.5l4.5,4.5l-4.5,4.5zM1046,1176.4l4.5,-4.5l4.5,4.5l-4.5,4.5zM1045.8,1175.6l4.5,-4.5l4.5,4.5l-4.5,4.5zM1048.7,1172.4l4.5,-4.5l4.5,4.5l-4.5,4.5zM1048.5,1170.4l4.5,-4.5l4.5,4.5l-4.5,4.5zM1051.5,1167.3l4.5,-4.5l4.5,4.5l-4.5,4.5zM1052.2,1164.8l4.5,-4.5l4.5,4.5l-4.5,4.5zM1053.1,1163.6l4.5,-4.5l4.5,4.5l-4.5,4.5zM1055,1161.8l4.5,-4.5l4.5,4.5l-4.5,4.5zM1054.8,1160.1l4.5,-4.5l4.5,4.5l-4.5,4.5zM1056.1,1157.3l4.5,-4.5l4.5,4.5l-4.5,4.5zM1059.1,1154.9l4.5,-4.5l4.5,4.5l-4.5,4.5zM1061.3,1153.6l4.5,-4.5l4.5,4.5l-4.5,4.5zM1059.9,1152.5l4.5,-4.5l4.5,4.5l-4.5,4.5zM991.3,1290.4l4.5,-4.5l4.5,4.5l-4.5,4.5zM992.8,1288.9l4.5,-4.5l4.5,4.5l-4.5,4.5zM994,1286.8l4.5,-4.5l4.5,4.5l-4.5,4.5zM1013.3,1258.1l4.5,-4.5l4.5,4.5l-4.5,4.5zM1012.9,1256l4.5,-4.5l4.5,4.5l-4.5,4.5zM1015.8,1253.8l4.5,-4.5l4.5,4.5l-4.5,4.5zM1016.9,1251.4l4.5,-4.5l4.5,4.5l-4.5,4.5zM1017.7,1249.2l4.5,-4.5l4.5,4.5l-4.5,4.5zM1019.3,1246.1l4.5,-4.5l4.5,4.5l-4.5,4.5zM1020.1,1244.6l4.5,-4.5l4.5,4.5l-4.5,4.5zM1021.8,1242.2l4.5,-4.5l4.5,4.5l-4.5,4.5zM1023.1,1239.5l4.5,-4.5l4.5,4.5l-4.5,4.5zM1026,1237.7l4.5,-4.5l4.5,4.5l-4.5,4.5zM1025.7,1236.3l4.5,-4.5l4.5,4.5l-4.5,4.5zM1028,1233.5l4.5,-4.5l4.5,4.5l-4.5,4.5zM1029.9,1231.3l4.5,-4.5l4.5,4.5l-4.5,4.5zM1029.7,1230.1l4.5,-4.5l4.5,4.5l-4.5,4.5zM1031.1,1228l4.5,-4.5l4.5,4.5l-4.5,4.5zM1031.8,1225l4.5,-4.5l4.5,4.5l-4.5,4.5zM1034.1,1222.8l4.5,-4.5l4.5,4.5l-4.5,4.5zM1036.2,1221l4.5,-4.5l4.5,4.5l-4.5,4.5zM1038.7,1218.8l4.5,-4.5l4.5,4.5l-4.5,4.5zM1039.5,1216.4l4.5,-4.5l4.5,4.5l-4.5,4.5zM1041.5,1213.4l4.5,-4.5l4.5,4.5l-4.5,4.5zM1041.1,1212l4.5,-4.5l4.5,4.5l-4.5,4.5zM1043.9,1209.7l4.5,-4.5l4.5,4.5l-4.5,4.5zM1042.8,1208l4.5,-4.5l4.5,4.5l-4.5,4.5zM1044.1,1205.3l4.5,-4.5l4.5,4.5l-4.5,4.5zM1047.1,1203.7l4.5,-4.5l4.5,4.5l-4.5,4.5zM1048.8,1201.8l4.5,-4.5l4.5,4.5l-4.5,4.5zM1048.4,1199.1l4.5,-4.5l4.5,4.5l-4.5,4.5zM1051.4,1198.1l4.5,-4.5l4.5,4.5l-4.5,4.5zM1050.7,1194.8l4.5,-4.5l4.5,4.5l-4.5,4.5zM1053.5,1192.4l4.5,-4.5l4.5,4.5l-4.5,4.5zM1054.4,1190.4l4.5,-4.5l4.5,4.5l-4.5,4.5zM1056.2,1188.3l4.5,-4.5l4.5,4.5l-4.5,4.5zM1057.1,1186.8l4.5,-4.5l4.5,4.5l-4.5,4.5zM1056.5,1186.8l4.5,-4.5l4.5,4.5l-4.5,4.5zM1062.5,1176.1l4.5,-4.5l4.5,4.5l-4.5,4.5zM1065.2,1174.3l4.5,-4.5l4.5,4.5l-4.5,4.5zM1065.5,1172.3l4.5,-4.5l4.5,4.5l-4.5,4.5zM1069,1170.2l4.5,-4.5l4.5,4.5l-4.5,4.5zM1069.3,1168.6l4.5,-4.5l4.5,4.5l-4.5,4.5zM1070.4,1164.9l4.5,-4.5l4.5,4.5l-4.5,4.5zM1072.6,1164.1l4.5,-4.5l4.5,4.5l-4.5,4.5zM1072.3,1161.5l4.5,-4.5l4.5,4.5l-4.5,4.5zM1073.1,1159.6l4.5,-4.5l4.5,4.5l-4.5,4.5zM1076.3,1157.6l4.5,-4.5l4.5,4.5l-4.5,4.5zM1076.7,1155.1l4.5,-4.5l4.5,4.5l-4.5,4.5zM1077,1154.3l4.5,-4.5l4.5,4.5l-4.5,4.5zM1079.2,1152.1l4.5,-4.5l4.5,4.5l-4.5,4.5zM1082.1,1149.4l4.5,-4.5l4.5,4.5l-4.5,4.5zM1083.4,1147.1l4.5,-4.5l4.5,4.5l-4.5,4.5zM1084.1,1145l4.5,-4.5l4.5,4.5l-4.5,4.5zM1084.4,1143.3l4.5,-4.5l4.5,4.5l-4.5,4.5zM1085.7,1141.4l4.5,-4.5l4.5,4.5l-4.5,4.5zM1087.8,1139.3l4.5,-4.5l4.5,4.5l-4.5,4.5zM1088.4,1137.6l4.5,-4.5l4.5,4.5l-4.5,4.5zM1088.2,1135.7l4.5,-4.5l4.5,4.5l-4.5,4.5zM1090.5,1133.7l4.5,-4.5l4.5,4.5l-4.5,4.5zM1092,1131l4.5,-4.5l4.5,4.5l-4.5,4.5zM1094.6,1129l4.5,-4.5l4.5,4.5l-4.5,4.5zM1095.8,1127.6l4.5,-4.5l4.5,4.5l-4.5,4.5zM1020.2,1274.8l4.5,-4.5l4.5,4.5l-4.5,4.5zM1021.4,1273.2l4.5,-4.5l4.5,4.5l-4.5,4.5zM1033.1,1253.3l4.5,-4.5l4.5,4.5l-4.5,4.5zM1035.7,1250.6l4.5,-4.5l4.5,4.5l-4.5,4.5zM1035.3,1249.3l4.5,-4.5l4.5,4.5l-4.5,4.5zM1037.4,1247.5l4.5,-4.5l4.5,4.5l-4.5,4.5zM1038.2,1245.3l4.5,-4.5l4.5,4.5l-4.5,4.5zM1041.2,1243.9l4.5,-4.5l4.5,4.5l-4.5,4.5zM1040.5,1241.9l4.5,-4.5l4.5,4.5l-4.5,4.5zM1043,1238.6l4.5,-4.5l4.5,4.5l-4.5,4.5zM1042.9,1236.8l4.5,-4.5l4.5,4.5l-4.5,4.5zM1046.7,1234.7l4.5,-4.5l4.5,4.5l-4.5,4.5zM1047.7,1233.2l4.5,-4.5l4.5,4.5l-4.5,4.5zM1046.5,1231l4.5,-4.5l4.5,4.5l-4.5,4.5zM1049.7,1229.3l4.5,-4.5l4.5,4.5l-4.5,4.5zM1049.6,1226.4l4.5,-4.5l4.5,4.5l-4.5,4.5zM1052.8,1223.9l4.5,-4.5l4.5,4.5l-4.5,4.5zM1053.2,1221.6l4.5,-4.5l4.5,4.5l-4.5,4.5zM1055.3,1219.6l4.5,-4.5l4.5,4.5l-4.5,4.5zM1056.6,1218.7l4.5,-4.5l4.5,4.5l-4.5,4.5zM1055.9,1215.8l4.5,-4.5l4.5,4.5l-4.5,4.5zM1059.5,1214.5l4.5,-4.5l4.5,4.5l-4.5,4.5zM1059,1211.7l4.5,-4.5l4.5,4.5l-4.5,4.5zM1062.2,1209.2l4.5,-4.5l4.5,4.5l-4.5,4.5zM1062.8,1206.5l4.5,-4.5l4.5,4.5l-4.5,4.5zM1063.8,1205.2l4.5,-4.5l4.5,4.5l-4.5,4.5zM1065.8,1202.6l4.5,-4.5l4.5,4.5l-4.5,4.5zM1067.8,1200l4.5,-4.5l4.5,4.5l-4.5,4.5zM1067.6,1198.1l4.5,-4.5l4.5,4.5l-4.5,4.5zM1069.2,1195.9l4.5,-4.5l4.5,4.5l-4.5,4.5zM1070.7,1195l4.5,-4.5l4.5,4.5l-4.5,4.5zM1022.9,1299.1l4.5,-4.5l4.5,4.5l-4.5,4.5zM1024,1297.2l4.5,-4.5l4.5,4.5l-4.5,4.5zM1042.8,1268.5l4.5,-4.5l4.5,4.5l-4.5,4.5zM1044.6,1265.7l4.5,-4.5l4.5,4.5l-4.5,4.5zM1045.8,1264.2l4.5,-4.5l4.5,4.5l-4.5,4.5zM1045.1,1262.7l4.5,-4.5l4.5,4.5l-4.5,4.5zM1048.2,1260.3l4.5,-4.5l4.5,4.5l-4.5,4.5zM1049.2,1258.7l4.5,-4.5l4.5,4.5l-4.5,4.5zM1050.5,1255.5l4.5,-4.5l4.5,4.5l-4.5,4.5zM1052.5,1253.2l4.5,-4.5l4.5,4.5l-4.5,4.5zM1054,1251.3l4.5,-4.5l4.5,4.5l-4.5,4.5zM1054.7,1249.5l4.5,-4.5l4.5,4.5l-4.5,4.5zM1054.7,1248.1l4.5,-4.5l4.5,4.5l-4.5,4.5zM1058.1,1244.6l4.5,-4.5l4.5,4.5l-4.5,4.5zM1058,1242.3l4.5,-4.5l4.5,4.5l-4.5,4.5zM1060.4,1240.1l4.5,-4.5l4.5,4.5l-4.5,4.5zM1061.9,1238.6l4.5,-4.5l4.5,4.5l-4.5,4.5zM1063.8,1235.3l4.5,-4.5l4.5,4.5l-4.5,4.5zM1065.6,1232.6l4.5,-4.5l4.5,4.5l-4.5,4.5zM1067.2,1230l4.5,-4.5l4.5,4.5l-4.5,4.5zM1066.4,1228.5l4.5,-4.5l4.5,4.5l-4.5,4.5zM1068.3,1226.4l4.5,-4.5l4.5,4.5l-4.5,4.5zM1069.9,1224.7l4.5,-4.5l4.5,4.5l-4.5,4.5zM1070.5,1223.1l4.5,-4.5l4.5,4.5l-4.5,4.5zM1071.8,1221l4.5,-4.5l4.5,4.5l-4.5,4.5zM1074.6,1218.1l4.5,-4.5l4.5,4.5l-4.5,4.5zM1075.9,1215.8l4.5,-4.5l4.5,4.5l-4.5,4.5zM1078.2,1212.7l4.5,-4.5l4.5,4.5l-4.5,4.5zM1079.7,1211.3l4.5,-4.5l4.5,4.5l-4.5,4.5zM1079.3,1208.9l4.5,-4.5l4.5,4.5l-4.5,4.5zM1081.9,1207.6l4.5,-4.5l4.5,4.5l-4.5,4.5zM1082.8,1204.7l4.5,-4.5l4.5,4.5l-4.5,4.5zM1085,1202.6l4.5,-4.5l4.5,4.5l-4.5,4.5zM1085.8,1200l4.5,-4.5l4.5,4.5l-4.5,4.5zM1085.9,1198l4.5,-4.5l4.5,4.5l-4.5,4.5zM1089.5,1196l4.5,-4.5l4.5,4.5l-4.5,4.5zM1088.5,1193.9l4.5,-4.5l4.5,4.5l-4.5,4.5zM1089.4,1192.1l4.5,-4.5l4.5,4.5l-4.5,4.5zM1092.9,1189.8l4.5,-4.5l4.5,4.5l-4.5,4.5zM1093,1188.1l4.5,-4.5l4.5,4.5l-4.5,4.5zM955.3,1435.5l4.5,-4.5l4.5,4.5l-4.5,4.5zM956.2,1433.7l4.5,-4.5l4.5,4.5l-4.5,4.5zM958.2,1431.8l4.5,-4.5l4.5,4.5l-4.5,4.5zM957.8,1429.8l4.5,-4.5l4.5,4.5l-4.5,4.5zM961.7,1427.7l4.5,-4.5l4.5,4.5l-4.5,4.5zM959.9,1427.4l4.5,-4.5l4.5,4.5l-4.5,4.5zM971.4,1411.6l4.5,-4.5l4.5,4.5l-4.5,4.5zM973.8,1408.9l4.5,-4.5l4.5,4.5l-4.5,4.5zM975.4,1405.3l4.5,-4.5l4.5,4.5l-4.5,4.5zM975,1405.1l4.5,-4.5l4.5,4.5l-4.5,4.5zM987.3,1385.7l4.5,-4.5l4.5,4.5l-4.5,4.5zM986.7,1384.1l4.5,-4.5l4.5,4.5l-4.5,4.5zM1001.8,1363.6l4.5,-4.5l4.5,4.5l-4.5,4.5zM1002.5,1363.1l4.5,-4.5l4.5,4.5l-4.5,4.5zM1001.2,1361.4l4.5,-4.5l4.5,4.5l-4.5,4.5zM1027.9,1321.5l4.5,-4.5l4.5,4.5l-4.5,4.5zM1029.5,1319.7l4.5,-4.5l4.5,4.5l-4.5,4.5zM1028.5,1318.1l4.5,-4.5l4.5,4.5l-4.5,4.5zM1032.4,1315l4.5,-4.5l4.5,4.5l-4.5,4.5zM1031.3,1314l4.5,-4.5l4.5,4.5l-4.5,4.5zM1058.7,1272.8l4.5,-4.5l4.5,4.5l-4.5,4.5zM1059.5,1270.7l4.5,-4.5l4.5,4.5l-4.5,4.5zM1060.7,1268.2l4.5,-4.5l4.5,4.5l-4.5,4.5zM1061.6,1265.5l4.5,-4.5l4.5,4.5l-4.5,4.5zM1063.6,1264.5l4.5,-4.5l4.5,4.5l-4.5,4.5zM1064.1,1262.4l4.5,-4.5l4.5,4.5l-4.5,4.5zM1066,1260.1l4.5,-4.5l4.5,4.5l-4.5,4.5zM1066.7,1257.5l4.5,-4.5l4.5,4.5l-4.5,4.5zM1068.3,1256.2l4.5,-4.5l4.5,4.5l-4.5,4.5zM1071.1,1253.7l4.5,-4.5l4.5,4.5l-4.5,4.5zM1072,1251.7l4.5,-4.5l4.5,4.5l-4.5,4.5zM1072.1,1250.8l4.5,-4.5l4.5,4.5l-4.5,4.5zM1073.2,1248.8l4.5,-4.5l4.5,4.5l-4.5,4.5zM1075,1245.2l4.5,-4.5l4.5,4.5l-4.5,4.5zM1077.7,1242.9l4.5,-4.5l4.5,4.5l-4.5,4.5zM1078.1,1240.4l4.5,-4.5l4.5,4.5l-4.5,4.5zM1080.5,1238.4l4.5,-4.5l4.5,4.5l-4.5,4.5zM1080,1236l4.5,-4.5l4.5,4.5l-4.5,4.5zM1081.4,1234.5l4.5,-4.5l4.5,4.5l-4.5,4.5zM1082.9,1232.7l4.5,-4.5l4.5,4.5l-4.5,4.5zM1086.6,1229.4l4.5,-4.5l4.5,4.5l-4.5,4.5zM1086.1,1227.3l4.5,-4.5l4.5,4.5l-4.5,4.5zM1087.9,1223.9l4.5,-4.5l4.5,4.5l-4.5,4.5zM1091.3,1222.3l4.5,-4.5l4.5,4.5l-4.5,4.5zM1091.7,1219.2l4.5,-4.5l4.5,4.5l-4.5,4.5zM1092.3,1218.3l4.5,-4.5l4.5,4.5l-4.5,4.5zM1093,1215.9l4.5,-4.5l4.5,4.5l-4.5,4.5zM1094.4,1214.2l4.5,-4.5l4.5,4.5l-4.5,4.5zM1096.1,1212.9l4.5,-4.5l4.5,4.5l-4.5,4.5zM1098.1,1210.7l4.5,-4.5l4.5,4.5l-4.5,4.5zM1097.9,1207.7l4.5,-4.5l4.5,4.5l-4.5,4.5zM1099.5,1206.7l4.5,-4.5l4.5,4.5l-4.5,4.5zM1101.7,1203.4l4.5,-4.5l4.5,4.5l-4.5,4.5zM1103.1,1201.7l4.5,-4.5l4.5,4.5l-4.5,4.5zM1105.8,1199.4l4.5,-4.5l4.5,4.5l-4.5,4.5zM1106.8,1197.2l4.5,-4.5l4.5,4.5l-4.5,4.5zM1108.2,1196l4.5,-4.5l4.5,4.5l-4.5,4.5zM1108.7,1193.8l4.5,-4.5l4.5,4.5l-4.5,4.5zM1107.2,1193.2l4.5,-4.5l4.5,4.5l-4.5,4.5zM1030.9,1345.9l4.5,-4.5l4.5,4.5l-4.5,4.5zM1030.4,1345l4.5,-4.5l4.5,4.5l-4.5,4.5zM1031.8,1344.3l4.5,-4.5l4.5,4.5l-4.5,4.5zM1083.2,1260.2l4.5,-4.5l4.5,4.5l-4.5,4.5zM1083.1,1260.1l4.5,-4.5l4.5,4.5l-4.5,4.5zM1091.3,1249.8l4.5,-4.5l4.5,4.5l-4.5,4.5zM1092.6,1247.6l4.5,-4.5l4.5,4.5l-4.5,4.5zM1094.6,1246l4.5,-4.5l4.5,4.5l-4.5,4.5zM1094.9,1243.9l4.5,-4.5l4.5,4.5l-4.5,4.5zM1097.2,1241.7l4.5,-4.5l4.5,4.5l-4.5,4.5zM1098.7,1239.8l4.5,-4.5l4.5,4.5l-4.5,4.5zM1098.8,1238.2l4.5,-4.5l4.5,4.5l-4.5,4.5zM1099,1236.1l4.5,-4.5l4.5,4.5l-4.5,4.5zM1101.3,1233.6l4.5,-4.5l4.5,4.5l-4.5,4.5zM1102.1,1230.9l4.5,-4.5l4.5,4.5l-4.5,4.5zM1103.8,1229.1l4.5,-4.5l4.5,4.5l-4.5,4.5zM1106.7,1226.9l4.5,-4.5l4.5,4.5l-4.5,4.5zM1105.4,1224.9l4.5,-4.5l4.5,4.5l-4.5,4.5zM1108.2,1223.2l4.5,-4.5l4.5,4.5l-4.5,4.5zM1108.1,1221l4.5,-4.5l4.5,4.5l-4.5,4.5zM1111,1219.5l4.5,-4.5l4.5,4.5l-4.5,4.5zM1111.6,1216.6l4.5,-4.5l4.5,4.5l-4.5,4.5zM1112.6,1215l4.5,-4.5l4.5,4.5l-4.5,4.5zM1114.2,1212.6l4.5,-4.5l4.5,4.5l-4.5,4.5zM1116,1210.1l4.5,-4.5l4.5,4.5l-4.5,4.5zM1117.8,1207.3l4.5,-4.5l4.5,4.5l-4.5,4.5zM1120,1205.5l4.5,-4.5l4.5,4.5l-4.5,4.5zM1119.4,1203.2l4.5,-4.5l4.5,4.5l-4.5,4.5zM1122.7,1201.6l4.5,-4.5l4.5,4.5l-4.5,4.5zM1124,1198.8l4.5,-4.5l4.5,4.5l-4.5,4.5zM1125.9,1196.5l4.5,-4.5l4.5,4.5l-4.5,4.5zM1127,1194.1l4.5,-4.5l4.5,4.5l-4.5,4.5zM1128.4,1192l4.5,-4.5l4.5,4.5l-4.5,4.5zM1127.4,1191.9l4.5,-4.5l4.5,4.5l-4.5,4.5zM1112.2,1246.4l4.5,-4.5l4.5,4.5l-4.5,4.5zM1114,1242.8l4.5,-4.5l4.5,4.5l-4.5,4.5zM1114,1241.6l4.5,-4.5l4.5,4.5l-4.5,4.5zM1116.1,1238.1l4.5,-4.5l4.5,4.5l-4.5,4.5zM1118.9,1236.7l4.5,-4.5l4.5,4.5l-4.5,4.5zM1118.5,1234.1l4.5,-4.5l4.5,4.5l-4.5,4.5zM1121.6,1232.6l4.5,-4.5l4.5,4.5l-4.5,4.5zM1123.2,1229.9l4.5,-4.5l4.5,4.5l-4.5,4.5zM1124.2,1227.2l4.5,-4.5l4.5,4.5l-4.5,4.5zM1124.6,1224.6l4.5,-4.5l4.5,4.5l-4.5,4.5zM1126.9,1223.1l4.5,-4.5l4.5,4.5l-4.5,4.5zM1128.3,1221.4l4.5,-4.5l4.5,4.5l-4.5,4.5zM1128.4,1218.8l4.5,-4.5l4.5,4.5l-4.5,4.5zM1130.4,1217.5l4.5,-4.5l4.5,4.5l-4.5,4.5zM1131.2,1215.2l4.5,-4.5l4.5,4.5l-4.5,4.5zM1132.7,1212.6l4.5,-4.5l4.5,4.5l-4.5,4.5zM1136,1210.1l4.5,-4.5l4.5,4.5l-4.5,4.5zM1135.3,1207.9l4.5,-4.5l4.5,4.5l-4.5,4.5zM1136,1206.2l4.5,-4.5l4.5,4.5l-4.5,4.5zM1138.6,1203.9l4.5,-4.5l4.5,4.5l-4.5,4.5zM1138.9,1201.9l4.5,-4.5l4.5,4.5l-4.5,4.5zM1140.4,1199.5l4.5,-4.5l4.5,4.5l-4.5,4.5zM1141.5,1198.5l4.5,-4.5l4.5,4.5l-4.5,4.5zM1143.2,1197l4.5,-4.5l4.5,4.5l-4.5,4.5zM1127.3,1250.1l4.5,-4.5l4.5,4.5l-4.5,4.5zM1130.1,1247.9l4.5,-4.5l4.5,4.5l-4.5,4.5zM1130.6,1246.6l4.5,-4.5l4.5,4.5l-4.5,4.5zM1131.9,1244.6l4.5,-4.5l4.5,4.5l-4.5,4.5zM1132.4,1241.6l4.5,-4.5l4.5,4.5l-4.5,4.5zM1134.9,1238.4l4.5,-4.5l4.5,4.5l-4.5,4.5zM1135.1,1236l4.5,-4.5l4.5,4.5l-4.5,4.5zM1137.1,1234.5l4.5,-4.5l4.5,4.5l-4.5,4.5zM1138.7,1232.1l4.5,-4.5l4.5,4.5l-4.5,4.5zM1141.3,1229.5l4.5,-4.5l4.5,4.5l-4.5,4.5zM1140.9,1227.5l4.5,-4.5l4.5,4.5l-4.5,4.5zM1144.7,1224.3l4.5,-4.5l4.5,4.5l-4.5,4.5zM1144,1223.5l4.5,-4.5l4.5,4.5l-4.5,4.5zM1144.9,1221.1l4.5,-4.5l4.5,4.5l-4.5,4.5zM1148,1218.9l4.5,-4.5l4.5,4.5l-4.5,4.5zM1149.3,1216.8l4.5,-4.5l4.5,4.5l-4.5,4.5zM1150.4,1214.7l4.5,-4.5l4.5,4.5l-4.5,4.5zM1150.7,1213l4.5,-4.5l4.5,4.5l-4.5,4.5zM1151.5,1211.9l4.5,-4.5l4.5,4.5l-4.5,4.5zM1154.1,1210.7l4.5,-4.5l4.5,4.5l-4.5,4.5zM1154.4,1208l4.5,-4.5l4.5,4.5l-4.5,4.5zM1154.8,1205.3l4.5,-4.5l4.5,4.5l-4.5,4.5zM1158,1203.7l4.5,-4.5l4.5,4.5l-4.5,4.5zM1158,1202.2l4.5,-4.5l4.5,4.5l-4.5,4.5zM1160.2,1200.1l4.5,-4.5l4.5,4.5l-4.5,4.5zM1160.3,1197.8l4.5,-4.5l4.5,4.5l-4.5,4.5zM1161.5,1195.9l4.5,-4.5l4.5,4.5l-4.5,4.5zM1162.7,1194.1l4.5,-4.5l4.5,4.5l-4.5,4.5zM1164.5,1192.2l4.5,-4.5l4.5,4.5l-4.5,4.5zM1165.5,1190.1l4.5,-4.5l4.5,4.5l-4.5,4.5zM1168.4,1186.8l4.5,-4.5l4.5,4.5l-4.5,4.5zM1169.6,1184.6l4.5,-4.5l4.5,4.5l-4.5,4.5zM1125,1285l4.5,-4.5l4.5,4.5l-4.5,4.5zM1125.1,1284l4.5,-4.5l4.5,4.5l-4.5,4.5zM1153.6,1238.6l4.5,-4.5l4.5,4.5l-4.5,4.5zM1154.8,1237.1l4.5,-4.5l4.5,4.5l-4.5,4.5zM1156.5,1234l4.5,-4.5l4.5,4.5l-4.5,4.5zM1157.9,1232.3l4.5,-4.5l4.5,4.5l-4.5,4.5zM1157.8,1230.2l4.5,-4.5l4.5,4.5l-4.5,4.5zM1159.5,1228.1l4.5,-4.5l4.5,4.5l-4.5,4.5zM1161.5,1226.4l4.5,-4.5l4.5,4.5l-4.5,4.5zM1162.6,1223.6l4.5,-4.5l4.5,4.5l-4.5,4.5zM1165.1,1221.5l4.5,-4.5l4.5,4.5l-4.5,4.5zM1165.1,1219.2l4.5,-4.5l4.5,4.5l-4.5,4.5zM1167.3,1217.3l4.5,-4.5l4.5,4.5l-4.5,4.5zM1169,1214.9l4.5,-4.5l4.5,4.5l-4.5,4.5zM1171,1212.4l4.5,-4.5l4.5,4.5l-4.5,4.5zM1171.2,1210.5l4.5,-4.5l4.5,4.5l-4.5,4.5zM1172.6,1209.3l4.5,-4.5l4.5,4.5l-4.5,4.5zM1173.1,1206.8l4.5,-4.5l4.5,4.5l-4.5,4.5zM1173.9,1204.6l4.5,-4.5l4.5,4.5l-4.5,4.5zM1176.3,1203l4.5,-4.5l4.5,4.5l-4.5,4.5zM1178.9,1200l4.5,-4.5l4.5,4.5l-4.5,4.5zM1178,1197.5l4.5,-4.5l4.5,4.5l-4.5,4.5zM1180,1197.6l4.5,-4.5l4.5,4.5l-4.5,4.5zM1174.8,1233l4.5,-4.5l4.5,4.5l-4.5,4.5zM1176.5,1230.8l4.5,-4.5l4.5,4.5l-4.5,4.5zM1177.3,1230.2l4.5,-4.5l4.5,4.5l-4.5,4.5zM1183.8,1219.2l4.5,-4.5l4.5,4.5l-4.5,4.5zM1185.3,1215.7l4.5,-4.5l4.5,4.5l-4.5,4.5zM1185.9,1214.8l4.5,-4.5l4.5,4.5l-4.5,4.5zM1187.9,1212l4.5,-4.5l4.5,4.5l-4.5,4.5zM1187.4,1212.2l4.5,-4.5l4.5,4.5l-4.5,4.5zM1197.3,1228.6l4.5,-4.5l4.5,4.5l-4.5,4.5zM1198.3,1226.4l4.5,-4.5l4.5,4.5l-4.5,4.5zM1198.6,1224l4.5,-4.5l4.5,4.5l-4.5,4.5zM1200.4,1222.5l4.5,-4.5l4.5,4.5l-4.5,4.5zM1202.3,1220.5l4.5,-4.5l4.5,4.5l-4.5,4.5zM1202.3,1218.3l4.5,-4.5l4.5,4.5l-4.5,4.5zM1205.5,1216.3l4.5,-4.5l4.5,4.5l-4.5,4.5zM1205.3,1214.8l4.5,-4.5l4.5,4.5l-4.5,4.5zM1207.1,1212.2l4.5,-4.5l4.5,4.5l-4.5,4.5zM1205.1,1243.8l4.5,-4.5l4.5,4.5l-4.5,4.5zM1207.7,1242.2l4.5,-4.5l4.5,4.5l-4.5,4.5zM1206.7,1240.6l4.5,-4.5l4.5,4.5l-4.5,4.5zM1213.9,1230.7l4.5,-4.5l4.5,4.5l-4.5,4.5zM1213.5,1229.3l4.5,-4.5l4.5,4.5l-4.5,4.5zM1216.3,1226.3l4.5,-4.5l4.5,4.5l-4.5,4.5zM1216.7,1225.7l4.5,-4.5l4.5,4.5l-4.5,4.5zM1219.5,1222.4l4.5,-4.5l4.5,4.5l-4.5,4.5zM1218.2,1221.5l4.5,-4.5l4.5,4.5l-4.5,4.5zM1220,1219.8l4.5,-4.5l4.5,4.5l-4.5,4.5zM1221.6,1217.2l4.5,-4.5l4.5,4.5l-4.5,4.5zM1223.5,1215.2l4.5,-4.5l4.5,4.5l-4.5,4.5zM1223.8,1213.2l4.5,-4.5l4.5,4.5l-4.5,4.5zM1224.3,1211.3l4.5,-4.5l4.5,4.5l-4.5,4.5zM1225.2,1210.9l4.5,-4.5l4.5,4.5l-4.5,4.5zM1233.5,1229.9l4.5,-4.5l4.5,4.5l-4.5,4.5zM1233.3,1228.3l4.5,-4.5l4.5,4.5l-4.5,4.5zM1235.7,1225.6l4.5,-4.5l4.5,4.5l-4.5,4.5zM1236.8,1222.9l4.5,-4.5l4.5,4.5l-4.5,4.5zM1236.9,1223l4.5,-4.5l4.5,4.5l-4.5,4.5zM836.9,1186L841.3,1181.6L845.7,1186L841.3,1190.4ZM923.1,1107.9L927.5,1103.5L931.9,1107.9L927.5,1112.3ZM911.2,1272.5L915.6,1268.1L920,1272.5L915.6,1276.9ZM912,1300.3L916.4,1295.9L920.8,1300.3L916.4,1304.7ZM1032.5,1138.6L1036.9,1134.2L1041.3,1138.6L1036.9,1143ZM969.5,1296.7L973.9,1292.3L978.3,1296.7L973.9,1301.1ZM1004.3,1270.7L1008.7,1266.3L1013.1,1270.7L1008.7,1275.1ZM1013.8,1284.9L1018.2,1280.5L1022.6,1284.9L1018.2,1289.3ZM1027.5,1263.2L1031.9,1258.8L1036.3,1263.2L1031.9,1267.6ZM1100,1148.4L1104.4,1144L1108.8,1148.4L1104.4,1152.8ZM1107.4,1136.7L1107.5,1136.5L1111.9,1132.1L1116.3,1136.5L1116.2,1136.7L1111.8,1141.1ZM1113.2,1156.6L1117.6,1152.2L1122,1156.6L1117.6,1161ZM1039,1303.2L1043.4,1298.8L1047.8,1303.2L1043.4,1307.6ZM1115.3,1182.5L1115.3,1182.4L1119.7,1178L1124.1,1182.4L1124.1,1182.5L1119.7,1186.9ZM1155.6,1176.9L1160,1172.5L1164.4,1176.9L1160,1181.3ZM1119.1,1263.9L1123.5,1259.5L1127.9,1263.9L1123.5,1268.3ZM1147.7,1247.8L1152.1,1243.4L1156.5,1247.8L1152.1,1252.2ZM1169,1243.2L1173.4,1238.8L1177.8,1243.2L1173.4,1247.6ZM1189.4,1240L1193.8,1235.6L1198.2,1240L1193.8,1244.4ZM1248.6,1233.8L1253,1229.4L1257.4,1233.8L1253,1238.2ZM1255.4,1223L1259.8,1218.6L1264.2,1223L1259.8,1227.4Z" fill="#000" clip-path="url(#cB2)"/>
<line x1="795.1" y1="1173.7" x2="1291" y2="1173.7" stroke="#0000ff" stroke-width="1.6"/>
<line x1="795.1" y1="1218.5" x2="1291" y2="1218.5" stroke="#ff0000" stroke-width="1.6"/>
<line x1="795.1" y1="1263.3" x2="1291" y2="1263.3" stroke="#0000ff" stroke-width="1.6"/>
<polyline fill="none" points="795,1148.4 799.2,1156 844.9,1161.2 886.8,1167.6 933.5,1174.3 966.9,1176.8 995.3,1183.5 1040,1186.6 1091,1194.3 1125.1,1197.7 1159.2,1204.5 1184.7,1207 1227.2,1213 1285.1,1219" stroke="#0000ff" stroke-width="1.3" stroke-dasharray="7,4.5" clip-path="url(#cB2)"/>
<polyline fill="none" points="795,1197.7 799.2,1208.5 845,1211 928.5,1215.2 978.6,1218.5 1040,1219.8 1125.1,1224.9 1210.2,1230 1285.1,1232.6" stroke="#ff0000" stroke-width="1.3" stroke-dasharray="7,4.5" clip-path="url(#cB2)"/>
<polyline fill="none" points="795,1247.7 799.2,1261.1 845,1259.4 928.5,1256.9 961.9,1255.2 1040,1253.8 1125.1,1251.3 1193.2,1248.7 1227.2,1247.9 1285.1,1245.3" stroke="#0000ff" stroke-width="1.3" stroke-dasharray="7,4.5" clip-path="url(#cB2)"/>
<rect x="860" y="1309" width="405" height="60" fill="#fff"/>
<line x1="171.4" y1="1588.9" x2="171.4" y2="1880.5" stroke="#000" stroke-width="1.5"/>
<line x1="161.4" y1="1880.5" x2="171.4" y2="1880.5" stroke="#000" stroke-width="1.5"/>
<text x="146.7" y="1880.5" font-size="18" text-anchor="middle" transform="rotate(-90 146.7 1880.5)">50</text>
<line x1="161.4" y1="1831.9" x2="171.4" y2="1831.9" stroke="#000" stroke-width="1.5"/>
<text x="146.7" y="1831.9" font-size="18" text-anchor="middle" transform="rotate(-90 146.7 1831.9)">60</text>
<line x1="161.4" y1="1783.3" x2="171.4" y2="1783.3" stroke="#000" stroke-width="1.5"/>
<text x="146.7" y="1783.3" font-size="18" text-anchor="middle" transform="rotate(-90 146.7 1783.3)">70</text>
<line x1="161.4" y1="1734.7" x2="171.4" y2="1734.7" stroke="#000" stroke-width="1.5"/>
<text x="146.7" y="1734.7" font-size="18" text-anchor="middle" transform="rotate(-90 146.7 1734.7)">80</text>
<line x1="161.4" y1="1686.1" x2="171.4" y2="1686.1" stroke="#000" stroke-width="1.5"/>
<text x="146.7" y="1686.1" font-size="18" text-anchor="middle" transform="rotate(-90 146.7 1686.1)">90</text>
<line x1="161.4" y1="1637.5" x2="171.4" y2="1637.5" stroke="#000" stroke-width="1.5"/>
<text x="146.7" y="1637.5" font-size="18" text-anchor="middle" transform="rotate(-90 146.7 1637.5)">100</text>
<line x1="161.4" y1="1588.9" x2="171.4" y2="1588.9" stroke="#000" stroke-width="1.5"/>
<text x="146.7" y="1588.9" font-size="18" text-anchor="middle" transform="rotate(-90 146.7 1588.9)">110</text>
<line x1="185.4" y1="1894.5" x2="538.7" y2="1894.5" stroke="#000" stroke-width="1.5"/>
<line x1="185.4" y1="1894.5" x2="185.4" y2="1904.5" stroke="#000" stroke-width="1.5"/>
<text x="185.4" y="1934.3" font-size="18" text-anchor="middle">50</text>
<line x1="244.3" y1="1894.5" x2="244.3" y2="1904.5" stroke="#000" stroke-width="1.5"/>
<text x="244.3" y="1934.3" font-size="18" text-anchor="middle">60</text>
<line x1="303.2" y1="1894.5" x2="303.2" y2="1904.5" stroke="#000" stroke-width="1.5"/>
<text x="303.2" y="1934.3" font-size="18" text-anchor="middle">70</text>
<line x1="362" y1="1894.5" x2="362" y2="1904.5" stroke="#000" stroke-width="1.5"/>
<text x="362" y="1934.3" font-size="18" text-anchor="middle">80</text>
<line x1="420.9" y1="1894.5" x2="420.9" y2="1904.5" stroke="#000" stroke-width="1.5"/>
<text x="420.9" y="1934.3" font-size="18" text-anchor="middle">90</text>
<line x1="479.8" y1="1894.5" x2="479.8" y2="1904.5" stroke="#000" stroke-width="1.5"/>
<text x="479.8" y="1934.3" font-size="18" text-anchor="middle">100</text>
<line x1="538.7" y1="1894.5" x2="538.7" y2="1904.5" stroke="#000" stroke-width="1.5"/>
<text x="538.7" y="1934.3" font-size="18" text-anchor="middle">110</text>
<line x1="171.4" y1="1892.1" x2="186" y2="1880.1" stroke="#000" stroke-width="1.3" stroke-dasharray="7,4.5" clip-path="url(#cB3)"/>
<path d="M350.2,1671.1l4.3,-4.3l4.3,4.3l-4.3,4.3zM355.9,1671.1l4.3,-4.3l4.3,4.3l-4.3,4.3zM359.7,1671.2l4.3,-4.3l4.3,4.3l-4.3,4.3zM367.4,1668l4.3,-4.3l4.3,4.3l-4.3,4.3zM370.7,1667.8l4.3,-4.3l4.3,4.3l-4.3,4.3zM379.8,1668.7l4.3,-4.3l4.3,4.3l-4.3,4.3zM383.1,1670.3l4.3,-4.3l4.3,4.3l-4.3,4.3zM335,1676.5l4.3,-4.3l4.3,4.3l-4.3,4.3zM340,1673.2l4.3,-4.3l4.3,4.3l-4.3,4.3zM347.2,1676.6l4.3,-4.3l4.3,4.3l-4.3,4.3zM352.6,1674.6l4.3,-4.3l4.3,4.3l-4.3,4.3zM357.2,1674l4.3,-4.3l4.3,4.3l-4.3,4.3zM362.5,1675.3l4.3,-4.3l4.3,4.3l-4.3,4.3zM369.4,1673.3l4.3,-4.3l4.3,4.3l-4.3,4.3zM374,1675.3l4.3,-4.3l4.3,4.3l-4.3,4.3zM380.8,1674.6l4.3,-4.3l4.3,4.3l-4.3,4.3zM387,1676.2l4.3,-4.3l4.3,4.3l-4.3,4.3zM335.8,1680.6l4.3,-4.3l4.3,4.3l-4.3,4.3zM344.1,1677.4l4.3,-4.3l4.3,4.3l-4.3,4.3zM349.4,1677.7l4.3,-4.3l4.3,4.3l-4.3,4.3zM353.1,1681l4.3,-4.3l4.3,4.3l-4.3,4.3zM358.8,1678.3l4.3,-4.3l4.3,4.3l-4.3,4.3zM368.8,1679.1l4.3,-4.3l4.3,4.3l-4.3,4.3zM371.1,1678l4.3,-4.3l4.3,4.3l-4.3,4.3zM377.6,1680.4l4.3,-4.3l4.3,4.3l-4.3,4.3zM383,1681.1l4.3,-4.3l4.3,4.3l-4.3,4.3zM390.2,1681.4l4.3,-4.3l4.3,4.3l-4.3,4.3zM398.4,1678.5l4.3,-4.3l4.3,4.3l-4.3,4.3zM407,1680l4.3,-4.3l4.3,4.3l-4.3,4.3zM333.9,1682.4l4.3,-4.3l4.3,4.3l-4.3,4.3zM337.9,1684.8l4.3,-4.3l4.3,4.3l-4.3,4.3zM344.8,1685.4l4.3,-4.3l4.3,4.3l-4.3,4.3zM351.7,1685.7l4.3,-4.3l4.3,4.3l-4.3,4.3zM356.2,1684.2l4.3,-4.3l4.3,4.3l-4.3,4.3zM364.9,1682.4l4.3,-4.3l4.3,4.3l-4.3,4.3zM371.6,1682.8l4.3,-4.3l4.3,4.3l-4.3,4.3zM376.9,1686.2l4.3,-4.3l4.3,4.3l-4.3,4.3zM383.1,1683.4l4.3,-4.3l4.3,4.3l-4.3,4.3zM386,1684.3l4.3,-4.3l4.3,4.3l-4.3,4.3zM395.5,1683.3l4.3,-4.3l4.3,4.3l-4.3,4.3zM401.4,1682.7l4.3,-4.3l4.3,4.3l-4.3,4.3zM407.4,1682.2l4.3,-4.3l4.3,4.3l-4.3,4.3zM410.9,1685.9l4.3,-4.3l4.3,4.3l-4.3,4.3zM329.6,1689l4.3,-4.3l4.3,4.3l-4.3,4.3zM336.6,1687.8l4.3,-4.3l4.3,4.3l-4.3,4.3zM342.3,1689.3l4.3,-4.3l4.3,4.3l-4.3,4.3zM350.4,1690.8l4.3,-4.3l4.3,4.3l-4.3,4.3zM353.8,1689.6l4.3,-4.3l4.3,4.3l-4.3,4.3zM358.8,1687.2l4.3,-4.3l4.3,4.3l-4.3,4.3zM366.7,1690.6l4.3,-4.3l4.3,4.3l-4.3,4.3zM371.3,1690.1l4.3,-4.3l4.3,4.3l-4.3,4.3zM380.3,1688.2l4.3,-4.3l4.3,4.3l-4.3,4.3zM385.5,1690.5l4.3,-4.3l4.3,4.3l-4.3,4.3zM390.2,1689.8l4.3,-4.3l4.3,4.3l-4.3,4.3zM397.7,1689.4l4.3,-4.3l4.3,4.3l-4.3,4.3zM404.2,1690.7l4.3,-4.3l4.3,4.3l-4.3,4.3zM410.6,1689.3l4.3,-4.3l4.3,4.3l-4.3,4.3zM413.3,1688l4.3,-4.3l4.3,4.3l-4.3,4.3zM333.4,1691.8l4.3,-4.3l4.3,4.3l-4.3,4.3zM340.2,1694.2l4.3,-4.3l4.3,4.3l-4.3,4.3zM347.1,1692.6l4.3,-4.3l4.3,4.3l-4.3,4.3zM350.8,1694l4.3,-4.3l4.3,4.3l-4.3,4.3zM356.7,1694.2l4.3,-4.3l4.3,4.3l-4.3,4.3zM362.7,1694.6l4.3,-4.3l4.3,4.3l-4.3,4.3zM370.9,1695.1l4.3,-4.3l4.3,4.3l-4.3,4.3zM377.7,1694l4.3,-4.3l4.3,4.3l-4.3,4.3zM381.7,1695.3l4.3,-4.3l4.3,4.3l-4.3,4.3zM388.8,1694.1l4.3,-4.3l4.3,4.3l-4.3,4.3zM393.2,1692.9l4.3,-4.3l4.3,4.3l-4.3,4.3zM398.1,1695.1l4.3,-4.3l4.3,4.3l-4.3,4.3zM404.1,1694.8l4.3,-4.3l4.3,4.3l-4.3,4.3zM411.9,1695.8l4.3,-4.3l4.3,4.3l-4.3,4.3zM418.8,1695.8l4.3,-4.3l4.3,4.3l-4.3,4.3zM324.3,1700.1l4.3,-4.3l4.3,4.3l-4.3,4.3zM331.1,1699.6l4.3,-4.3l4.3,4.3l-4.3,4.3zM338.4,1699.6l4.3,-4.3l4.3,4.3l-4.3,4.3zM342.7,1699.6l4.3,-4.3l4.3,4.3l-4.3,4.3zM349.3,1699.2l4.3,-4.3l4.3,4.3l-4.3,4.3zM355.2,1698.2l4.3,-4.3l4.3,4.3l-4.3,4.3zM361.2,1699.2l4.3,-4.3l4.3,4.3l-4.3,4.3zM368.5,1699.8l4.3,-4.3l4.3,4.3l-4.3,4.3zM374.2,1699.7l4.3,-4.3l4.3,4.3l-4.3,4.3zM380,1699l4.3,-4.3l4.3,4.3l-4.3,4.3zM384.1,1697.6l4.3,-4.3l4.3,4.3l-4.3,4.3zM391.6,1700.2l4.3,-4.3l4.3,4.3l-4.3,4.3zM396.9,1697.1l4.3,-4.3l4.3,4.3l-4.3,4.3zM404.1,1698.5l4.3,-4.3l4.3,4.3l-4.3,4.3zM408.6,1696.7l4.3,-4.3l4.3,4.3l-4.3,4.3zM414.7,1699.6l4.3,-4.3l4.3,4.3l-4.3,4.3zM420.4,1698l4.3,-4.3l4.3,4.3l-4.3,4.3zM322.2,1702.6l4.3,-4.3l4.3,4.3l-4.3,4.3zM327.4,1704.5l4.3,-4.3l4.3,4.3l-4.3,4.3zM334.9,1702.1l4.3,-4.3l4.3,4.3l-4.3,4.3zM340.2,1702l4.3,-4.3l4.3,4.3l-4.3,4.3zM347.7,1703.2l4.3,-4.3l4.3,4.3l-4.3,4.3zM353.4,1704.4l4.3,-4.3l4.3,4.3l-4.3,4.3zM358.1,1702.4l4.3,-4.3l4.3,4.3l-4.3,4.3zM363.8,1701.9l4.3,-4.3l4.3,4.3l-4.3,4.3zM368.2,1704.3l4.3,-4.3l4.3,4.3l-4.3,4.3zM375.1,1704.5l4.3,-4.3l4.3,4.3l-4.3,4.3zM380.6,1704.3l4.3,-4.3l4.3,4.3l-4.3,4.3zM388.6,1702.6l4.3,-4.3l4.3,4.3l-4.3,4.3zM392,1703l4.3,-4.3l4.3,4.3l-4.3,4.3zM399.7,1701.7l4.3,-4.3l4.3,4.3l-4.3,4.3zM404.4,1701.5l4.3,-4.3l4.3,4.3l-4.3,4.3zM412.1,1705l4.3,-4.3l4.3,4.3l-4.3,4.3zM416.5,1701.4l4.3,-4.3l4.3,4.3l-4.3,4.3zM317.2,1708.9l4.3,-4.3l4.3,4.3l-4.3,4.3zM322.8,1707.7l4.3,-4.3l4.3,4.3l-4.3,4.3zM329.1,1708l4.3,-4.3l4.3,4.3l-4.3,4.3zM338.1,1709.9l4.3,-4.3l4.3,4.3l-4.3,4.3zM340.7,1706.4l4.3,-4.3l4.3,4.3l-4.3,4.3zM350.1,1706.3l4.3,-4.3l4.3,4.3l-4.3,4.3zM353.7,1706.6l4.3,-4.3l4.3,4.3l-4.3,4.3zM359,1706.2l4.3,-4.3l4.3,4.3l-4.3,4.3zM367.3,1709.2l4.3,-4.3l4.3,4.3l-4.3,4.3zM373.5,1709.7l4.3,-4.3l4.3,4.3l-4.3,4.3zM379.4,1707.7l4.3,-4.3l4.3,4.3l-4.3,4.3zM385.3,1710.2l4.3,-4.3l4.3,4.3l-4.3,4.3zM391.3,1707.1l4.3,-4.3l4.3,4.3l-4.3,4.3zM394.9,1710l4.3,-4.3l4.3,4.3l-4.3,4.3zM403.1,1707.6l4.3,-4.3l4.3,4.3l-4.3,4.3zM409.1,1708.5l4.3,-4.3l4.3,4.3l-4.3,4.3zM414.8,1706.4l4.3,-4.3l4.3,4.3l-4.3,4.3zM420.1,1707.8l4.3,-4.3l4.3,4.3l-4.3,4.3zM316.7,1712.2l4.3,-4.3l4.3,4.3l-4.3,4.3zM320.1,1714.2l4.3,-4.3l4.3,4.3l-4.3,4.3zM329,1714.5l4.3,-4.3l4.3,4.3l-4.3,4.3zM332.9,1712.7l4.3,-4.3l4.3,4.3l-4.3,4.3zM338.6,1713.2l4.3,-4.3l4.3,4.3l-4.3,4.3zM345,1712.3l4.3,-4.3l4.3,4.3l-4.3,4.3zM352.9,1714.9l4.3,-4.3l4.3,4.3l-4.3,4.3zM358.1,1711.3l4.3,-4.3l4.3,4.3l-4.3,4.3zM364.3,1712.8l4.3,-4.3l4.3,4.3l-4.3,4.3zM371.7,1713.9l4.3,-4.3l4.3,4.3l-4.3,4.3zM377.1,1713.8l4.3,-4.3l4.3,4.3l-4.3,4.3zM381.8,1714.7l4.3,-4.3l4.3,4.3l-4.3,4.3zM389.1,1712.1l4.3,-4.3l4.3,4.3l-4.3,4.3zM392.3,1712.5l4.3,-4.3l4.3,4.3l-4.3,4.3zM399.8,1711.3l4.3,-4.3l4.3,4.3l-4.3,4.3zM405.1,1713.3l4.3,-4.3l4.3,4.3l-4.3,4.3zM409.8,1714.3l4.3,-4.3l4.3,4.3l-4.3,4.3zM418.3,1712.2l4.3,-4.3l4.3,4.3l-4.3,4.3zM319.5,1718.1l4.3,-4.3l4.3,4.3l-4.3,4.3zM326.4,1716.5l4.3,-4.3l4.3,4.3l-4.3,4.3zM330.3,1718.8l4.3,-4.3l4.3,4.3l-4.3,4.3zM334.8,1716.1l4.3,-4.3l4.3,4.3l-4.3,4.3zM342.9,1716.8l4.3,-4.3l4.3,4.3l-4.3,4.3zM347,1716.8l4.3,-4.3l4.3,4.3l-4.3,4.3zM355.3,1717.9l4.3,-4.3l4.3,4.3l-4.3,4.3zM358.9,1716l4.3,-4.3l4.3,4.3l-4.3,4.3zM368.2,1718.4l4.3,-4.3l4.3,4.3l-4.3,4.3zM371.3,1719.3l4.3,-4.3l4.3,4.3l-4.3,4.3zM376.7,1717.2l4.3,-4.3l4.3,4.3l-4.3,4.3zM386.2,1718.7l4.3,-4.3l4.3,4.3l-4.3,4.3zM389.8,1719.4l4.3,-4.3l4.3,4.3l-4.3,4.3zM397.1,1719.3l4.3,-4.3l4.3,4.3l-4.3,4.3zM404.3,1717.5l4.3,-4.3l4.3,4.3l-4.3,4.3zM409.4,1718l4.3,-4.3l4.3,4.3l-4.3,4.3zM315.7,1723l4.3,-4.3l4.3,4.3l-4.3,4.3zM321.9,1724.6l4.3,-4.3l4.3,4.3l-4.3,4.3zM326.3,1723.2l4.3,-4.3l4.3,4.3l-4.3,4.3zM335.8,1723.6l4.3,-4.3l4.3,4.3l-4.3,4.3zM340,1722l4.3,-4.3l4.3,4.3l-4.3,4.3zM345.3,1724.4l4.3,-4.3l4.3,4.3l-4.3,4.3zM353.4,1723.3l4.3,-4.3l4.3,4.3l-4.3,4.3zM359.4,1724.4l4.3,-4.3l4.3,4.3l-4.3,4.3zM365.2,1722.1l4.3,-4.3l4.3,4.3l-4.3,4.3zM369.6,1723.8l4.3,-4.3l4.3,4.3l-4.3,4.3zM375.2,1723.6l4.3,-4.3l4.3,4.3l-4.3,4.3zM381.6,1721.9l4.3,-4.3l4.3,4.3l-4.3,4.3zM387.5,1721l4.3,-4.3l4.3,4.3l-4.3,4.3zM393.1,1722.2l4.3,-4.3l4.3,4.3l-4.3,4.3zM397.7,1721.2l4.3,-4.3l4.3,4.3l-4.3,4.3zM404.7,1724.1l4.3,-4.3l4.3,4.3l-4.3,4.3zM318.6,1728.6l4.3,-4.3l4.3,4.3l-4.3,4.3zM326.2,1728.6l4.3,-4.3l4.3,4.3l-4.3,4.3zM331.4,1725.7l4.3,-4.3l4.3,4.3l-4.3,4.3zM336.2,1728.1l4.3,-4.3l4.3,4.3l-4.3,4.3zM341.8,1727.4l4.3,-4.3l4.3,4.3l-4.3,4.3zM350.4,1725.8l4.3,-4.3l4.3,4.3l-4.3,4.3zM356.2,1725.7l4.3,-4.3l4.3,4.3l-4.3,4.3zM360.2,1729.1l4.3,-4.3l4.3,4.3l-4.3,4.3zM365.4,1727.5l4.3,-4.3l4.3,4.3l-4.3,4.3zM372.3,1729l4.3,-4.3l4.3,4.3l-4.3,4.3zM380.8,1726.5l4.3,-4.3l4.3,4.3l-4.3,4.3zM384.7,1729.1l4.3,-4.3l4.3,4.3l-4.3,4.3zM390.9,1726.2l4.3,-4.3l4.3,4.3l-4.3,4.3zM397.8,1726.7l4.3,-4.3l4.3,4.3l-4.3,4.3zM402.6,1725.3l4.3,-4.3l4.3,4.3l-4.3,4.3zM311,1733.8l4.3,-4.3l4.3,4.3l-4.3,4.3zM314.9,1732.2l4.3,-4.3l4.3,4.3l-4.3,4.3zM321,1730.6l4.3,-4.3l4.3,4.3l-4.3,4.3zM326.2,1731.2l4.3,-4.3l4.3,4.3l-4.3,4.3zM332,1732.4l4.3,-4.3l4.3,4.3l-4.3,4.3zM340.6,1732.5l4.3,-4.3l4.3,4.3l-4.3,4.3zM346.5,1731.1l4.3,-4.3l4.3,4.3l-4.3,4.3zM350.4,1732.5l4.3,-4.3l4.3,4.3l-4.3,4.3zM359.3,1731.9l4.3,-4.3l4.3,4.3l-4.3,4.3zM361.6,1730.2l4.3,-4.3l4.3,4.3l-4.3,4.3zM368.9,1732.7l4.3,-4.3l4.3,4.3l-4.3,4.3zM374,1731l4.3,-4.3l4.3,4.3l-4.3,4.3zM382.5,1734.2l4.3,-4.3l4.3,4.3l-4.3,4.3zM387,1732.6l4.3,-4.3l4.3,4.3l-4.3,4.3zM393.8,1730.2l4.3,-4.3l4.3,4.3l-4.3,4.3zM399,1730.7l4.3,-4.3l4.3,4.3l-4.3,4.3zM306.7,1735.6l4.3,-4.3l4.3,4.3l-4.3,4.3zM311.5,1736.7l4.3,-4.3l4.3,4.3l-4.3,4.3zM318.9,1736l4.3,-4.3l4.3,4.3l-4.3,4.3zM323.7,1737.1l4.3,-4.3l4.3,4.3l-4.3,4.3zM330.6,1736.6l4.3,-4.3l4.3,4.3l-4.3,4.3zM335,1736.5l4.3,-4.3l4.3,4.3l-4.3,4.3zM343.3,1737.2l4.3,-4.3l4.3,4.3l-4.3,4.3zM348.9,1738.4l4.3,-4.3l4.3,4.3l-4.3,4.3zM355.6,1737.8l4.3,-4.3l4.3,4.3l-4.3,4.3zM358.7,1736.2l4.3,-4.3l4.3,4.3l-4.3,4.3zM367.5,1735.6l4.3,-4.3l4.3,4.3l-4.3,4.3zM374.4,1735.5l4.3,-4.3l4.3,4.3l-4.3,4.3zM380.3,1735.8l4.3,-4.3l4.3,4.3l-4.3,4.3zM386.1,1738.5l4.3,-4.3l4.3,4.3l-4.3,4.3zM390,1738.6l4.3,-4.3l4.3,4.3l-4.3,4.3zM395.3,1738.5l4.3,-4.3l4.3,4.3l-4.3,4.3zM402.2,1736.7l4.3,-4.3l4.3,4.3l-4.3,4.3zM299,1743.1l4.3,-4.3l4.3,4.3l-4.3,4.3zM302.6,1743.1l4.3,-4.3l4.3,4.3l-4.3,4.3zM308.6,1742.1l4.3,-4.3l4.3,4.3l-4.3,4.3zM315.1,1740.4l4.3,-4.3l4.3,4.3l-4.3,4.3zM322.9,1743.5l4.3,-4.3l4.3,4.3l-4.3,4.3zM326.9,1743.4l4.3,-4.3l4.3,4.3l-4.3,4.3zM333.1,1742.5l4.3,-4.3l4.3,4.3l-4.3,4.3zM341.8,1742.9l4.3,-4.3l4.3,4.3l-4.3,4.3zM343.8,1741.5l4.3,-4.3l4.3,4.3l-4.3,4.3zM351.2,1740.9l4.3,-4.3l4.3,4.3l-4.3,4.3zM359,1741.6l4.3,-4.3l4.3,4.3l-4.3,4.3zM364.5,1742.4l4.3,-4.3l4.3,4.3l-4.3,4.3zM369.8,1739.9l4.3,-4.3l4.3,4.3l-4.3,4.3zM376.4,1743.4l4.3,-4.3l4.3,4.3l-4.3,4.3zM380.3,1742.4l4.3,-4.3l4.3,4.3l-4.3,4.3zM387.6,1741.1l4.3,-4.3l4.3,4.3l-4.3,4.3zM394.6,1743.8l4.3,-4.3l4.3,4.3l-4.3,4.3zM397.7,1743.5l4.3,-4.3l4.3,4.3l-4.3,4.3zM290.1,1748.5l4.3,-4.3l4.3,4.3l-4.3,4.3zM301.3,1747.6l4.3,-4.3l4.3,4.3l-4.3,4.3zM308.4,1746.8l4.3,-4.3l4.3,4.3l-4.3,4.3zM312.2,1744.5l4.3,-4.3l4.3,4.3l-4.3,4.3zM320,1748.6l4.3,-4.3l4.3,4.3l-4.3,4.3zM326.4,1747.3l4.3,-4.3l4.3,4.3l-4.3,4.3zM330,1745.5l4.3,-4.3l4.3,4.3l-4.3,4.3zM337.9,1748.4l4.3,-4.3l4.3,4.3l-4.3,4.3zM344.6,1745.2l4.3,-4.3l4.3,4.3l-4.3,4.3zM349.1,1746.7l4.3,-4.3l4.3,4.3l-4.3,4.3zM354.4,1747.8l4.3,-4.3l4.3,4.3l-4.3,4.3zM362.5,1747.5l4.3,-4.3l4.3,4.3l-4.3,4.3zM367.5,1747.4l4.3,-4.3l4.3,4.3l-4.3,4.3zM373.3,1746.8l4.3,-4.3l4.3,4.3l-4.3,4.3zM377.6,1747.8l4.3,-4.3l4.3,4.3l-4.3,4.3zM383.1,1747.2l4.3,-4.3l4.3,4.3l-4.3,4.3zM390.2,1746.9l4.3,-4.3l4.3,4.3l-4.3,4.3zM397.3,1746.5l4.3,-4.3l4.3,4.3l-4.3,4.3zM290.1,1750.4l4.3,-4.3l4.3,4.3l-4.3,4.3zM296.4,1752.7l4.3,-4.3l4.3,4.3l-4.3,4.3zM303.9,1750.1l4.3,-4.3l4.3,4.3l-4.3,4.3zM309.4,1753l4.3,-4.3l4.3,4.3l-4.3,4.3zM316,1751.6l4.3,-4.3l4.3,4.3l-4.3,4.3zM321.2,1750.1l4.3,-4.3l4.3,4.3l-4.3,4.3zM328.2,1749.6l4.3,-4.3l4.3,4.3l-4.3,4.3zM334.9,1749.5l4.3,-4.3l4.3,4.3l-4.3,4.3zM340.7,1750.9l4.3,-4.3l4.3,4.3l-4.3,4.3zM346.5,1751.8l4.3,-4.3l4.3,4.3l-4.3,4.3zM350.1,1751.6l4.3,-4.3l4.3,4.3l-4.3,4.3zM355.9,1750.3l4.3,-4.3l4.3,4.3l-4.3,4.3zM363.2,1750.5l4.3,-4.3l4.3,4.3l-4.3,4.3zM370.4,1753.4l4.3,-4.3l4.3,4.3l-4.3,4.3zM375.1,1752.8l4.3,-4.3l4.3,4.3l-4.3,4.3zM380.5,1752.3l4.3,-4.3l4.3,4.3l-4.3,4.3zM387.1,1751.5l4.3,-4.3l4.3,4.3l-4.3,4.3zM392,1752.8l4.3,-4.3l4.3,4.3l-4.3,4.3zM398.5,1751.2l4.3,-4.3l4.3,4.3l-4.3,4.3zM288.6,1756.7l4.3,-4.3l4.3,4.3l-4.3,4.3zM293.7,1756.8l4.3,-4.3l4.3,4.3l-4.3,4.3zM301.4,1758l4.3,-4.3l4.3,4.3l-4.3,4.3zM306.7,1757.7l4.3,-4.3l4.3,4.3l-4.3,4.3zM314.7,1757.3l4.3,-4.3l4.3,4.3l-4.3,4.3zM318.4,1755.2l4.3,-4.3l4.3,4.3l-4.3,4.3zM323,1757.6l4.3,-4.3l4.3,4.3l-4.3,4.3zM329.1,1756.4l4.3,-4.3l4.3,4.3l-4.3,4.3zM336.5,1754.3l4.3,-4.3l4.3,4.3l-4.3,4.3zM341.5,1757.6l4.3,-4.3l4.3,4.3l-4.3,4.3zM348.9,1758l4.3,-4.3l4.3,4.3l-4.3,4.3zM356.4,1754.5l4.3,-4.3l4.3,4.3l-4.3,4.3zM361.4,1754.3l4.3,-4.3l4.3,4.3l-4.3,4.3zM366.4,1756l4.3,-4.3l4.3,4.3l-4.3,4.3zM374.6,1756.6l4.3,-4.3l4.3,4.3l-4.3,4.3zM377.4,1756.2l4.3,-4.3l4.3,4.3l-4.3,4.3zM384.8,1754.9l4.3,-4.3l4.3,4.3l-4.3,4.3zM390.1,1757.8l4.3,-4.3l4.3,4.3l-4.3,4.3zM398.7,1757.4l4.3,-4.3l4.3,4.3l-4.3,4.3zM286.9,1762.2l4.3,-4.3l4.3,4.3l-4.3,4.3zM291.3,1763.1l4.3,-4.3l4.3,4.3l-4.3,4.3zM298.9,1761.3l4.3,-4.3l4.3,4.3l-4.3,4.3zM302.1,1761.3l4.3,-4.3l4.3,4.3l-4.3,4.3zM307.7,1762.7l4.3,-4.3l4.3,4.3l-4.3,4.3zM315,1760.4l4.3,-4.3l4.3,4.3l-4.3,4.3zM321.9,1761.6l4.3,-4.3l4.3,4.3l-4.3,4.3zM328,1760.9l4.3,-4.3l4.3,4.3l-4.3,4.3zM334.3,1762.5l4.3,-4.3l4.3,4.3l-4.3,4.3zM339.5,1761l4.3,-4.3l4.3,4.3l-4.3,4.3zM347,1758.9l4.3,-4.3l4.3,4.3l-4.3,4.3zM350.3,1760.3l4.3,-4.3l4.3,4.3l-4.3,4.3zM356.5,1762.7l4.3,-4.3l4.3,4.3l-4.3,4.3zM362.2,1759.4l4.3,-4.3l4.3,4.3l-4.3,4.3zM368.9,1761l4.3,-4.3l4.3,4.3l-4.3,4.3zM377.1,1763.1l4.3,-4.3l4.3,4.3l-4.3,4.3zM383.2,1761.5l4.3,-4.3l4.3,4.3l-4.3,4.3zM385.8,1759.2l4.3,-4.3l4.3,4.3l-4.3,4.3zM394.2,1762.3l4.3,-4.3l4.3,4.3l-4.3,4.3zM289.1,1766.5l4.3,-4.3l4.3,4.3l-4.3,4.3zM296.3,1765.5l4.3,-4.3l4.3,4.3l-4.3,4.3zM302.7,1764.5l4.3,-4.3l4.3,4.3l-4.3,4.3zM305.1,1764.2l4.3,-4.3l4.3,4.3l-4.3,4.3zM313.1,1764.2l4.3,-4.3l4.3,4.3l-4.3,4.3zM317.7,1764.5l4.3,-4.3l4.3,4.3l-4.3,4.3zM322.8,1767.7l4.3,-4.3l4.3,4.3l-4.3,4.3zM330,1767.7l4.3,-4.3l4.3,4.3l-4.3,4.3zM337.6,1764.6l4.3,-4.3l4.3,4.3l-4.3,4.3zM344.5,1763.7l4.3,-4.3l4.3,4.3l-4.3,4.3zM350.7,1763.8l4.3,-4.3l4.3,4.3l-4.3,4.3zM353.7,1766l4.3,-4.3l4.3,4.3l-4.3,4.3zM358.6,1766.9l4.3,-4.3l4.3,4.3l-4.3,4.3zM365,1767.1l4.3,-4.3l4.3,4.3l-4.3,4.3zM370.7,1765.9l4.3,-4.3l4.3,4.3l-4.3,4.3zM377.5,1764.9l4.3,-4.3l4.3,4.3l-4.3,4.3zM384.7,1765.3l4.3,-4.3l4.3,4.3l-4.3,4.3zM390.2,1766.4l4.3,-4.3l4.3,4.3l-4.3,4.3zM395.4,1764.5l4.3,-4.3l4.3,4.3l-4.3,4.3zM286,1771.9l4.3,-4.3l4.3,4.3l-4.3,4.3zM292.2,1769.6l4.3,-4.3l4.3,4.3l-4.3,4.3zM296.9,1771l4.3,-4.3l4.3,4.3l-4.3,4.3zM301.8,1770.4l4.3,-4.3l4.3,4.3l-4.3,4.3zM311.3,1769.5l4.3,-4.3l4.3,4.3l-4.3,4.3zM315.5,1771.4l4.3,-4.3l4.3,4.3l-4.3,4.3zM323.5,1771.4l4.3,-4.3l4.3,4.3l-4.3,4.3zM328.2,1770.1l4.3,-4.3l4.3,4.3l-4.3,4.3zM333.4,1771.2l4.3,-4.3l4.3,4.3l-4.3,4.3zM339.1,1771.8l4.3,-4.3l4.3,4.3l-4.3,4.3zM343.6,1771.7l4.3,-4.3l4.3,4.3l-4.3,4.3zM352.7,1769.8l4.3,-4.3l4.3,4.3l-4.3,4.3zM355.7,1769.9l4.3,-4.3l4.3,4.3l-4.3,4.3zM364.1,1771.8l4.3,-4.3l4.3,4.3l-4.3,4.3zM371.3,1769.4l4.3,-4.3l4.3,4.3l-4.3,4.3zM373.9,1769l4.3,-4.3l4.3,4.3l-4.3,4.3zM383.8,1771.2l4.3,-4.3l4.3,4.3l-4.3,4.3zM386.1,1771.4l4.3,-4.3l4.3,4.3l-4.3,4.3zM269.9,1775.4l4.3,-4.3l4.3,4.3l-4.3,4.3zM277.4,1773.4l4.3,-4.3l4.3,4.3l-4.3,4.3zM282.2,1775.6l4.3,-4.3l4.3,4.3l-4.3,4.3zM290.3,1775.5l4.3,-4.3l4.3,4.3l-4.3,4.3zM293.9,1775.8l4.3,-4.3l4.3,4.3l-4.3,4.3zM301.1,1774.5l4.3,-4.3l4.3,4.3l-4.3,4.3zM306.9,1774.5l4.3,-4.3l4.3,4.3l-4.3,4.3zM310.6,1774.6l4.3,-4.3l4.3,4.3l-4.3,4.3zM317,1775.4l4.3,-4.3l4.3,4.3l-4.3,4.3zM324.7,1777l4.3,-4.3l4.3,4.3l-4.3,4.3zM331.7,1776.4l4.3,-4.3l4.3,4.3l-4.3,4.3zM338.8,1774.4l4.3,-4.3l4.3,4.3l-4.3,4.3zM342.2,1774.3l4.3,-4.3l4.3,4.3l-4.3,4.3zM347,1775.5l4.3,-4.3l4.3,4.3l-4.3,4.3zM354.7,1773.8l4.3,-4.3l4.3,4.3l-4.3,4.3zM364.9,1773.3l4.3,-4.3l4.3,4.3l-4.3,4.3zM380.2,1773.6l4.3,-4.3l4.3,4.3l-4.3,4.3zM274.1,1780l4.3,-4.3l4.3,4.3l-4.3,4.3zM280.9,1780.9l4.3,-4.3l4.3,4.3l-4.3,4.3zM284.1,1778.9l4.3,-4.3l4.3,4.3l-4.3,4.3zM292.7,1778.6l4.3,-4.3l4.3,4.3l-4.3,4.3zM299.6,1781.5l4.3,-4.3l4.3,4.3l-4.3,4.3zM302.5,1779.3l4.3,-4.3l4.3,4.3l-4.3,4.3zM308.7,1779.9l4.3,-4.3l4.3,4.3l-4.3,4.3zM314.6,1778.2l4.3,-4.3l4.3,4.3l-4.3,4.3zM320.7,1778.9l4.3,-4.3l4.3,4.3l-4.3,4.3zM327.1,1780l4.3,-4.3l4.3,4.3l-4.3,4.3zM335.3,1780.9l4.3,-4.3l4.3,4.3l-4.3,4.3zM340.2,1781.7l4.3,-4.3l4.3,4.3l-4.3,4.3zM345.2,1779.9l4.3,-4.3l4.3,4.3l-4.3,4.3zM350.6,1781.6l4.3,-4.3l4.3,4.3l-4.3,4.3zM263.4,1785.1l4.3,-4.3l4.3,4.3l-4.3,4.3zM272.7,1785.9l4.3,-4.3l4.3,4.3l-4.3,4.3zM275.4,1784.4l4.3,-4.3l4.3,4.3l-4.3,4.3zM284.6,1785l4.3,-4.3l4.3,4.3l-4.3,4.3zM290.3,1786.5l4.3,-4.3l4.3,4.3l-4.3,4.3zM295.9,1785.5l4.3,-4.3l4.3,4.3l-4.3,4.3zM301.4,1784.3l4.3,-4.3l4.3,4.3l-4.3,4.3zM305.1,1786.9l4.3,-4.3l4.3,4.3l-4.3,4.3zM310.7,1784l4.3,-4.3l4.3,4.3l-4.3,4.3zM319.2,1787l4.3,-4.3l4.3,4.3l-4.3,4.3zM323.5,1783.9l4.3,-4.3l4.3,4.3l-4.3,4.3zM332.2,1784.3l4.3,-4.3l4.3,4.3l-4.3,4.3zM336.3,1784.4l4.3,-4.3l4.3,4.3l-4.3,4.3zM340.8,1786.9l4.3,-4.3l4.3,4.3l-4.3,4.3zM349.5,1782.9l4.3,-4.3l4.3,4.3l-4.3,4.3zM260.9,1789.7l4.3,-4.3l4.3,4.3l-4.3,4.3zM265.8,1787.9l4.3,-4.3l4.3,4.3l-4.3,4.3zM273.1,1790l4.3,-4.3l4.3,4.3l-4.3,4.3zM278.2,1788l4.3,-4.3l4.3,4.3l-4.3,4.3zM284.9,1790.8l4.3,-4.3l4.3,4.3l-4.3,4.3zM292,1791.9l4.3,-4.3l4.3,4.3l-4.3,4.3zM298.1,1791.4l4.3,-4.3l4.3,4.3l-4.3,4.3zM304,1789.7l4.3,-4.3l4.3,4.3l-4.3,4.3zM309.3,1788l4.3,-4.3l4.3,4.3l-4.3,4.3zM313.9,1790.5l4.3,-4.3l4.3,4.3l-4.3,4.3zM323.2,1787.8l4.3,-4.3l4.3,4.3l-4.3,4.3zM326.4,1789.1l4.3,-4.3l4.3,4.3l-4.3,4.3zM332.9,1791.2l4.3,-4.3l4.3,4.3l-4.3,4.3zM338.7,1789l4.3,-4.3l4.3,4.3l-4.3,4.3zM345.6,1791.7l4.3,-4.3l4.3,4.3l-4.3,4.3zM350.8,1790.4l4.3,-4.3l4.3,4.3l-4.3,4.3zM247,1795.6l4.3,-4.3l4.3,4.3l-4.3,4.3zM251.3,1795l4.3,-4.3l4.3,4.3l-4.3,4.3zM256.8,1795.5l4.3,-4.3l4.3,4.3l-4.3,4.3zM266.1,1794.3l4.3,-4.3l4.3,4.3l-4.3,4.3zM271.5,1795.3l4.3,-4.3l4.3,4.3l-4.3,4.3zM275.9,1792.9l4.3,-4.3l4.3,4.3l-4.3,4.3zM283.8,1794l4.3,-4.3l4.3,4.3l-4.3,4.3zM287.3,1794.4l4.3,-4.3l4.3,4.3l-4.3,4.3zM296.1,1796.5l4.3,-4.3l4.3,4.3l-4.3,4.3zM301,1796.6l4.3,-4.3l4.3,4.3l-4.3,4.3zM305.3,1794.6l4.3,-4.3l4.3,4.3l-4.3,4.3zM310.6,1793.5l4.3,-4.3l4.3,4.3l-4.3,4.3zM320.3,1792.7l4.3,-4.3l4.3,4.3l-4.3,4.3zM325.3,1794.6l4.3,-4.3l4.3,4.3l-4.3,4.3zM332.7,1796.7l4.3,-4.3l4.3,4.3l-4.3,4.3zM335.1,1793.6l4.3,-4.3l4.3,4.3l-4.3,4.3zM344.8,1793.9l4.3,-4.3l4.3,4.3l-4.3,4.3zM347.4,1796.3l4.3,-4.3l4.3,4.3l-4.3,4.3zM245.7,1799.2l4.3,-4.3l4.3,4.3l-4.3,4.3zM249.2,1801.1l4.3,-4.3l4.3,4.3l-4.3,4.3zM256.9,1798l4.3,-4.3l4.3,4.3l-4.3,4.3zM262.1,1798.1l4.3,-4.3l4.3,4.3l-4.3,4.3zM268.9,1799.6l4.3,-4.3l4.3,4.3l-4.3,4.3zM275,1797.6l4.3,-4.3l4.3,4.3l-4.3,4.3zM281.5,1798.3l4.3,-4.3l4.3,4.3l-4.3,4.3zM287.2,1799.2l4.3,-4.3l4.3,4.3l-4.3,4.3zM293.3,1797.7l4.3,-4.3l4.3,4.3l-4.3,4.3zM295.8,1799.3l4.3,-4.3l4.3,4.3l-4.3,4.3zM305.5,1799.3l4.3,-4.3l4.3,4.3l-4.3,4.3zM309.7,1798l4.3,-4.3l4.3,4.3l-4.3,4.3zM315.9,1799.1l4.3,-4.3l4.3,4.3l-4.3,4.3zM323.3,1800.4l4.3,-4.3l4.3,4.3l-4.3,4.3zM327.6,1797.9l4.3,-4.3l4.3,4.3l-4.3,4.3zM332.2,1801.4l4.3,-4.3l4.3,4.3l-4.3,4.3zM340.2,1798.2l4.3,-4.3l4.3,4.3l-4.3,4.3zM347,1798.2l4.3,-4.3l4.3,4.3l-4.3,4.3zM351.5,1801l4.3,-4.3l4.3,4.3l-4.3,4.3zM240.9,1803l4.3,-4.3l4.3,4.3l-4.3,4.3zM245.6,1802.9l4.3,-4.3l4.3,4.3l-4.3,4.3zM253.1,1803.1l4.3,-4.3l4.3,4.3l-4.3,4.3zM259.9,1805.9l4.3,-4.3l4.3,4.3l-4.3,4.3zM265.8,1803.5l4.3,-4.3l4.3,4.3l-4.3,4.3zM272.6,1803.5l4.3,-4.3l4.3,4.3l-4.3,4.3zM276.1,1804.6l4.3,-4.3l4.3,4.3l-4.3,4.3zM283.4,1803.8l4.3,-4.3l4.3,4.3l-4.3,4.3zM289.9,1805.7l4.3,-4.3l4.3,4.3l-4.3,4.3zM293.8,1803l4.3,-4.3l4.3,4.3l-4.3,4.3zM300.3,1805l4.3,-4.3l4.3,4.3l-4.3,4.3zM307.4,1802.8l4.3,-4.3l4.3,4.3l-4.3,4.3zM312.2,1805.9l4.3,-4.3l4.3,4.3l-4.3,4.3zM320.6,1804.6l4.3,-4.3l4.3,4.3l-4.3,4.3zM325.9,1805.6l4.3,-4.3l4.3,4.3l-4.3,4.3zM329.5,1802.4l4.3,-4.3l4.3,4.3l-4.3,4.3zM337.2,1803.7l4.3,-4.3l4.3,4.3l-4.3,4.3zM343.6,1803.3l4.3,-4.3l4.3,4.3l-4.3,4.3zM348.4,1805.5l4.3,-4.3l4.3,4.3l-4.3,4.3zM242,1809.1l4.3,-4.3l4.3,4.3l-4.3,4.3zM250,1807.5l4.3,-4.3l4.3,4.3l-4.3,4.3zM255.1,1807.5l4.3,-4.3l4.3,4.3l-4.3,4.3zM263.4,1808.4l4.3,-4.3l4.3,4.3l-4.3,4.3zM265.9,1808.9l4.3,-4.3l4.3,4.3l-4.3,4.3zM273.8,1810.6l4.3,-4.3l4.3,4.3l-4.3,4.3zM280.6,1807.8l4.3,-4.3l4.3,4.3l-4.3,4.3zM287.4,1806.9l4.3,-4.3l4.3,4.3l-4.3,4.3zM292.5,1807.1l4.3,-4.3l4.3,4.3l-4.3,4.3zM299,1807.7l4.3,-4.3l4.3,4.3l-4.3,4.3zM304.9,1810.3l4.3,-4.3l4.3,4.3l-4.3,4.3zM310.8,1807.4l4.3,-4.3l4.3,4.3l-4.3,4.3zM315.3,1807.3l4.3,-4.3l4.3,4.3l-4.3,4.3zM322.6,1811.1l4.3,-4.3l4.3,4.3l-4.3,4.3zM327.8,1809.6l4.3,-4.3l4.3,4.3l-4.3,4.3zM334.4,1807.5l4.3,-4.3l4.3,4.3l-4.3,4.3zM339.2,1808.4l4.3,-4.3l4.3,4.3l-4.3,4.3zM346.8,1808.6l4.3,-4.3l4.3,4.3l-4.3,4.3zM351.1,1809.2l4.3,-4.3l4.3,4.3l-4.3,4.3zM245.8,1813.7l4.3,-4.3l4.3,4.3l-4.3,4.3zM250.7,1812l4.3,-4.3l4.3,4.3l-4.3,4.3zM259.9,1815.8l4.3,-4.3l4.3,4.3l-4.3,4.3zM264.4,1813.7l4.3,-4.3l4.3,4.3l-4.3,4.3zM271.1,1812.1l4.3,-4.3l4.3,4.3l-4.3,4.3zM276.9,1814.5l4.3,-4.3l4.3,4.3l-4.3,4.3zM284.6,1814.4l4.3,-4.3l4.3,4.3l-4.3,4.3zM288.9,1813.4l4.3,-4.3l4.3,4.3l-4.3,4.3zM296.4,1813.9l4.3,-4.3l4.3,4.3l-4.3,4.3zM300.6,1814.8l4.3,-4.3l4.3,4.3l-4.3,4.3zM306.4,1812l4.3,-4.3l4.3,4.3l-4.3,4.3zM313.1,1815.3l4.3,-4.3l4.3,4.3l-4.3,4.3zM318.2,1812.1l4.3,-4.3l4.3,4.3l-4.3,4.3zM323,1815.5l4.3,-4.3l4.3,4.3l-4.3,4.3zM329.1,1814.4l4.3,-4.3l4.3,4.3l-4.3,4.3zM335,1813.9l4.3,-4.3l4.3,4.3l-4.3,4.3zM344.4,1812.7l4.3,-4.3l4.3,4.3l-4.3,4.3zM347.9,1814.3l4.3,-4.3l4.3,4.3l-4.3,4.3zM239.7,1820.2l4.3,-4.3l4.3,4.3l-4.3,4.3zM245.1,1817.6l4.3,-4.3l4.3,4.3l-4.3,4.3zM251.1,1819.8l4.3,-4.3l4.3,4.3l-4.3,4.3zM255.9,1817.8l4.3,-4.3l4.3,4.3l-4.3,4.3zM260,1820.7l4.3,-4.3l4.3,4.3l-4.3,4.3zM269.8,1820.1l4.3,-4.3l4.3,4.3l-4.3,4.3zM273.5,1819.6l4.3,-4.3l4.3,4.3l-4.3,4.3zM281.4,1818.8l4.3,-4.3l4.3,4.3l-4.3,4.3zM284.1,1820.6l4.3,-4.3l4.3,4.3l-4.3,4.3zM291.9,1819.7l4.3,-4.3l4.3,4.3l-4.3,4.3zM298.2,1816.8l4.3,-4.3l4.3,4.3l-4.3,4.3zM303.5,1816.6l4.3,-4.3l4.3,4.3l-4.3,4.3zM308.7,1820.5l4.3,-4.3l4.3,4.3l-4.3,4.3zM316.5,1818.9l4.3,-4.3l4.3,4.3l-4.3,4.3zM320.1,1819.4l4.3,-4.3l4.3,4.3l-4.3,4.3zM328.1,1819.2l4.3,-4.3l4.3,4.3l-4.3,4.3zM334.5,1820.4l4.3,-4.3l4.3,4.3l-4.3,4.3zM339.5,1819.1l4.3,-4.3l4.3,4.3l-4.3,4.3zM345.8,1819l4.3,-4.3l4.3,4.3l-4.3,4.3zM236.1,1823.1l4.3,-4.3l4.3,4.3l-4.3,4.3zM242.2,1822.8l4.3,-4.3l4.3,4.3l-4.3,4.3zM246.1,1825.1l4.3,-4.3l4.3,4.3l-4.3,4.3zM254.8,1824.6l4.3,-4.3l4.3,4.3l-4.3,4.3zM257.6,1825.3l4.3,-4.3l4.3,4.3l-4.3,4.3zM264.1,1824.9l4.3,-4.3l4.3,4.3l-4.3,4.3zM270,1822.2l4.3,-4.3l4.3,4.3l-4.3,4.3zM275.7,1824.2l4.3,-4.3l4.3,4.3l-4.3,4.3zM284.7,1823.5l4.3,-4.3l4.3,4.3l-4.3,4.3zM287.1,1824.2l4.3,-4.3l4.3,4.3l-4.3,4.3zM296.4,1824.6l4.3,-4.3l4.3,4.3l-4.3,4.3zM298.6,1822.6l4.3,-4.3l4.3,4.3l-4.3,4.3zM307.9,1824.2l4.3,-4.3l4.3,4.3l-4.3,4.3zM314.8,1825.1l4.3,-4.3l4.3,4.3l-4.3,4.3zM320,1824.2l4.3,-4.3l4.3,4.3l-4.3,4.3zM324.2,1821.4l4.3,-4.3l4.3,4.3l-4.3,4.3zM331.8,1823.2l4.3,-4.3l4.3,4.3l-4.3,4.3zM338.2,1821.9l4.3,-4.3l4.3,4.3l-4.3,4.3zM344.2,1824l4.3,-4.3l4.3,4.3l-4.3,4.3zM350.3,1824.2l4.3,-4.3l4.3,4.3l-4.3,4.3zM354.4,1823.5l4.3,-4.3l4.3,4.3l-4.3,4.3zM224.2,1829.1l4.3,-4.3l4.3,4.3l-4.3,4.3zM232.9,1830.1l4.3,-4.3l4.3,4.3l-4.3,4.3zM239.4,1826.2l4.3,-4.3l4.3,4.3l-4.3,4.3zM244.4,1829.9l4.3,-4.3l4.3,4.3l-4.3,4.3zM250.8,1828l4.3,-4.3l4.3,4.3l-4.3,4.3zM256.8,1827.3l4.3,-4.3l4.3,4.3l-4.3,4.3zM263,1827.8l4.3,-4.3l4.3,4.3l-4.3,4.3zM269.7,1826.2l4.3,-4.3l4.3,4.3l-4.3,4.3zM274,1826.6l4.3,-4.3l4.3,4.3l-4.3,4.3zM280.8,1830.2l4.3,-4.3l4.3,4.3l-4.3,4.3zM285.7,1829.6l4.3,-4.3l4.3,4.3l-4.3,4.3zM290.6,1826.2l4.3,-4.3l4.3,4.3l-4.3,4.3zM299,1827.8l4.3,-4.3l4.3,4.3l-4.3,4.3zM302,1828.9l4.3,-4.3l4.3,4.3l-4.3,4.3zM311.4,1826.5l4.3,-4.3l4.3,4.3l-4.3,4.3zM316.2,1827.6l4.3,-4.3l4.3,4.3l-4.3,4.3zM319.8,1826.4l4.3,-4.3l4.3,4.3l-4.3,4.3zM325.8,1827.4l4.3,-4.3l4.3,4.3l-4.3,4.3zM332.9,1828.4l4.3,-4.3l4.3,4.3l-4.3,4.3zM340.2,1829.7l4.3,-4.3l4.3,4.3l-4.3,4.3zM347.2,1826.8l4.3,-4.3l4.3,4.3l-4.3,4.3zM352.2,1829.8l4.3,-4.3l4.3,4.3l-4.3,4.3zM356.6,1828.6l4.3,-4.3l4.3,4.3l-4.3,4.3zM221.5,1831.1l4.3,-4.3l4.3,4.3l-4.3,4.3zM227.5,1834.2l4.3,-4.3l4.3,4.3l-4.3,4.3zM235.5,1832.2l4.3,-4.3l4.3,4.3l-4.3,4.3zM239.5,1833.6l4.3,-4.3l4.3,4.3l-4.3,4.3zM246.7,1834.2l4.3,-4.3l4.3,4.3l-4.3,4.3zM252.5,1831.3l4.3,-4.3l4.3,4.3l-4.3,4.3zM256.9,1831.9l4.3,-4.3l4.3,4.3l-4.3,4.3zM264.8,1833.9l4.3,-4.3l4.3,4.3l-4.3,4.3zM270.9,1830.9l4.3,-4.3l4.3,4.3l-4.3,4.3zM278.6,1832.8l4.3,-4.3l4.3,4.3l-4.3,4.3zM282.9,1831.7l4.3,-4.3l4.3,4.3l-4.3,4.3zM287.6,1831.8l4.3,-4.3l4.3,4.3l-4.3,4.3zM295.1,1834.7l4.3,-4.3l4.3,4.3l-4.3,4.3zM299.7,1832.4l4.3,-4.3l4.3,4.3l-4.3,4.3zM305.8,1831l4.3,-4.3l4.3,4.3l-4.3,4.3zM310.6,1834.2l4.3,-4.3l4.3,4.3l-4.3,4.3zM320.7,1831.1l4.3,-4.3l4.3,4.3l-4.3,4.3zM322.9,1832.8l4.3,-4.3l4.3,4.3l-4.3,4.3zM329.9,1831.9l4.3,-4.3l4.3,4.3l-4.3,4.3zM338.3,1831.7l4.3,-4.3l4.3,4.3l-4.3,4.3zM341.4,1834.7l4.3,-4.3l4.3,4.3l-4.3,4.3zM349.2,1833.8l4.3,-4.3l4.3,4.3l-4.3,4.3zM355.4,1831l4.3,-4.3l4.3,4.3l-4.3,4.3zM362.7,1831l4.3,-4.3l4.3,4.3l-4.3,4.3zM219.3,1839.5l4.3,-4.3l4.3,4.3l-4.3,4.3zM224.5,1835.8l4.3,-4.3l4.3,4.3l-4.3,4.3zM229.8,1837l4.3,-4.3l4.3,4.3l-4.3,4.3zM236.5,1837.4l4.3,-4.3l4.3,4.3l-4.3,4.3zM245.3,1838.8l4.3,-4.3l4.3,4.3l-4.3,4.3zM250.1,1839.2l4.3,-4.3l4.3,4.3l-4.3,4.3zM257.3,1836l4.3,-4.3l4.3,4.3l-4.3,4.3zM262.5,1836.3l4.3,-4.3l4.3,4.3l-4.3,4.3zM267.3,1837.3l4.3,-4.3l4.3,4.3l-4.3,4.3zM272.7,1835.9l4.3,-4.3l4.3,4.3l-4.3,4.3zM278.4,1838.7l4.3,-4.3l4.3,4.3l-4.3,4.3zM287.6,1839.5l4.3,-4.3l4.3,4.3l-4.3,4.3zM289.7,1838.1l4.3,-4.3l4.3,4.3l-4.3,4.3zM296.4,1837.9l4.3,-4.3l4.3,4.3l-4.3,4.3zM303.8,1836.4l4.3,-4.3l4.3,4.3l-4.3,4.3zM308,1837.7l4.3,-4.3l4.3,4.3l-4.3,4.3zM313.8,1839.2l4.3,-4.3l4.3,4.3l-4.3,4.3zM323.3,1835.8l4.3,-4.3l4.3,4.3l-4.3,4.3zM329,1839.2l4.3,-4.3l4.3,4.3l-4.3,4.3zM331.8,1838.2l4.3,-4.3l4.3,4.3l-4.3,4.3zM339.6,1836.4l4.3,-4.3l4.3,4.3l-4.3,4.3zM347,1838.1l4.3,-4.3l4.3,4.3l-4.3,4.3zM353,1839.6l4.3,-4.3l4.3,4.3l-4.3,4.3zM217.1,1840.8l4.3,-4.3l4.3,4.3l-4.3,4.3zM223.8,1844.3l4.3,-4.3l4.3,4.3l-4.3,4.3zM229.2,1843.7l4.3,-4.3l4.3,4.3l-4.3,4.3zM236.6,1842.4l4.3,-4.3l4.3,4.3l-4.3,4.3zM240.7,1844.2l4.3,-4.3l4.3,4.3l-4.3,4.3zM247.4,1841.7l4.3,-4.3l4.3,4.3l-4.3,4.3zM253.1,1843.7l4.3,-4.3l4.3,4.3l-4.3,4.3zM260.1,1841l4.3,-4.3l4.3,4.3l-4.3,4.3zM263.3,1843.4l4.3,-4.3l4.3,4.3l-4.3,4.3zM271.6,1843.6l4.3,-4.3l4.3,4.3l-4.3,4.3zM276.7,1842.1l4.3,-4.3l4.3,4.3l-4.3,4.3zM284.6,1841.6l4.3,-4.3l4.3,4.3l-4.3,4.3zM287.8,1840.6l4.3,-4.3l4.3,4.3l-4.3,4.3zM293,1843.1l4.3,-4.3l4.3,4.3l-4.3,4.3zM301.4,1841.4l4.3,-4.3l4.3,4.3l-4.3,4.3zM307.7,1841.2l4.3,-4.3l4.3,4.3l-4.3,4.3zM312.2,1843.2l4.3,-4.3l4.3,4.3l-4.3,4.3zM319.9,1842.4l4.3,-4.3l4.3,4.3l-4.3,4.3zM326,1842.5l4.3,-4.3l4.3,4.3l-4.3,4.3zM331.4,1844l4.3,-4.3l4.3,4.3l-4.3,4.3zM337,1842.9l4.3,-4.3l4.3,4.3l-4.3,4.3zM344.5,1840.6l4.3,-4.3l4.3,4.3l-4.3,4.3zM346.7,1840.7l4.3,-4.3l4.3,4.3l-4.3,4.3zM215.5,1848.1l4.3,-4.3l4.3,4.3l-4.3,4.3zM221.7,1847.1l4.3,-4.3l4.3,4.3l-4.3,4.3zM227.1,1847.8l4.3,-4.3l4.3,4.3l-4.3,4.3zM232.6,1847l4.3,-4.3l4.3,4.3l-4.3,4.3zM237.7,1846.4l4.3,-4.3l4.3,4.3l-4.3,4.3zM243,1849.2l4.3,-4.3l4.3,4.3l-4.3,4.3zM247.9,1848.8l4.3,-4.3l4.3,4.3l-4.3,4.3zM256.7,1846l4.3,-4.3l4.3,4.3l-4.3,4.3zM261.4,1848.8l4.3,-4.3l4.3,4.3l-4.3,4.3zM267.7,1847.4l4.3,-4.3l4.3,4.3l-4.3,4.3zM273.7,1846l4.3,-4.3l4.3,4.3l-4.3,4.3zM281.8,1848.4l4.3,-4.3l4.3,4.3l-4.3,4.3zM284.8,1846.8l4.3,-4.3l4.3,4.3l-4.3,4.3zM292.6,1849l4.3,-4.3l4.3,4.3l-4.3,4.3zM297.9,1846.5l4.3,-4.3l4.3,4.3l-4.3,4.3zM303.1,1847.6l4.3,-4.3l4.3,4.3l-4.3,4.3zM311.3,1848.3l4.3,-4.3l4.3,4.3l-4.3,4.3zM314.5,1845.4l4.3,-4.3l4.3,4.3l-4.3,4.3zM322.4,1846.4l4.3,-4.3l4.3,4.3l-4.3,4.3zM329.3,1846l4.3,-4.3l4.3,4.3l-4.3,4.3zM335.8,1848.7l4.3,-4.3l4.3,4.3l-4.3,4.3zM338.7,1845.4l4.3,-4.3l4.3,4.3l-4.3,4.3zM347,1845.8l4.3,-4.3l4.3,4.3l-4.3,4.3zM350.2,1846.9l4.3,-4.3l4.3,4.3l-4.3,4.3zM215.7,1850.7l4.3,-4.3l4.3,4.3l-4.3,4.3zM220.8,1854.1l4.3,-4.3l4.3,4.3l-4.3,4.3zM230.7,1850.4l4.3,-4.3l4.3,4.3l-4.3,4.3zM235.1,1854.2l4.3,-4.3l4.3,4.3l-4.3,4.3zM241,1854.2l4.3,-4.3l4.3,4.3l-4.3,4.3zM245.2,1853.1l4.3,-4.3l4.3,4.3l-4.3,4.3zM254.1,1850.6l4.3,-4.3l4.3,4.3l-4.3,4.3zM257.5,1854.1l4.3,-4.3l4.3,4.3l-4.3,4.3zM263.6,1852.7l4.3,-4.3l4.3,4.3l-4.3,4.3zM272.4,1853.1l4.3,-4.3l4.3,4.3l-4.3,4.3zM277.8,1851.4l4.3,-4.3l4.3,4.3l-4.3,4.3zM284.2,1850.7l4.3,-4.3l4.3,4.3l-4.3,4.3zM288.3,1852.2l4.3,-4.3l4.3,4.3l-4.3,4.3zM295.6,1850.2l4.3,-4.3l4.3,4.3l-4.3,4.3zM298.9,1851.6l4.3,-4.3l4.3,4.3l-4.3,4.3zM305.3,1853.9l4.3,-4.3l4.3,4.3l-4.3,4.3zM312.5,1852.6l4.3,-4.3l4.3,4.3l-4.3,4.3zM318.4,1853.7l4.3,-4.3l4.3,4.3l-4.3,4.3zM326.5,1853.9l4.3,-4.3l4.3,4.3l-4.3,4.3zM328.9,1852.7l4.3,-4.3l4.3,4.3l-4.3,4.3zM337.9,1854l4.3,-4.3l4.3,4.3l-4.3,4.3zM342.9,1852.1l4.3,-4.3l4.3,4.3l-4.3,4.3zM347.3,1850.1l4.3,-4.3l4.3,4.3l-4.3,4.3zM220.8,1856.2l4.3,-4.3l4.3,4.3l-4.3,4.3zM227.3,1858.2l4.3,-4.3l4.3,4.3l-4.3,4.3zM232.5,1858.1l4.3,-4.3l4.3,4.3l-4.3,4.3zM235.8,1858.3l4.3,-4.3l4.3,4.3l-4.3,4.3zM243.5,1857.8l4.3,-4.3l4.3,4.3l-4.3,4.3zM250.3,1856.7l4.3,-4.3l4.3,4.3l-4.3,4.3zM256.7,1858.5l4.3,-4.3l4.3,4.3l-4.3,4.3zM263.8,1855l4.3,-4.3l4.3,4.3l-4.3,4.3zM269.4,1858.2l4.3,-4.3l4.3,4.3l-4.3,4.3zM274.1,1858.1l4.3,-4.3l4.3,4.3l-4.3,4.3zM279.1,1856.6l4.3,-4.3l4.3,4.3l-4.3,4.3zM283.8,1858.8l4.3,-4.3l4.3,4.3l-4.3,4.3zM293,1857.1l4.3,-4.3l4.3,4.3l-4.3,4.3zM298.2,1858.4l4.3,-4.3l4.3,4.3l-4.3,4.3zM302.3,1857.3l4.3,-4.3l4.3,4.3l-4.3,4.3zM310.6,1857.3l4.3,-4.3l4.3,4.3l-4.3,4.3zM317.7,1856l4.3,-4.3l4.3,4.3l-4.3,4.3zM322.5,1858.2l4.3,-4.3l4.3,4.3l-4.3,4.3zM327.2,1858.8l4.3,-4.3l4.3,4.3l-4.3,4.3zM333.3,1855.5l4.3,-4.3l4.3,4.3l-4.3,4.3zM338.3,1856.6l4.3,-4.3l4.3,4.3l-4.3,4.3zM347.7,1858.7l4.3,-4.3l4.3,4.3l-4.3,4.3z" fill="#000" clip-path="url(#cB3)"/>
<path d="M302,1578.9l4.3,-4.3l4.3,4.3l-4.3,4.3zM299.2,1582.7l4.3,-4.3l4.3,4.3l-4.3,4.3zM303.2,1581.4l4.3,-4.3l4.3,4.3l-4.3,4.3zM290.7,1589.1l4.3,-4.3l4.3,4.3l-4.3,4.3zM295.2,1585.2l4.3,-4.3l4.3,4.3l-4.3,4.3zM298.6,1585.6l4.3,-4.3l4.3,4.3l-4.3,4.3zM308.6,1586.3l4.3,-4.3l4.3,4.3l-4.3,4.3zM312.1,1588.8l4.3,-4.3l4.3,4.3l-4.3,4.3zM291.4,1590.1l4.3,-4.3l4.3,4.3l-4.3,4.3zM298.1,1593.3l4.3,-4.3l4.3,4.3l-4.3,4.3zM302.3,1590.7l4.3,-4.3l4.3,4.3l-4.3,4.3zM309.3,1590l4.3,-4.3l4.3,4.3l-4.3,4.3zM290.2,1595.2l4.3,-4.3l4.3,4.3l-4.3,4.3zM295,1596.2l4.3,-4.3l4.3,4.3l-4.3,4.3zM301.1,1595.1l4.3,-4.3l4.3,4.3l-4.3,4.3zM307.9,1595l4.3,-4.3l4.3,4.3l-4.3,4.3zM311.3,1598l4.3,-4.3l4.3,4.3l-4.3,4.3zM291.3,1600.4l4.3,-4.3l4.3,4.3l-4.3,4.3zM296.8,1602l4.3,-4.3l4.3,4.3l-4.3,4.3zM302.3,1599.9l4.3,-4.3l4.3,4.3l-4.3,4.3zM309.5,1600.1l4.3,-4.3l4.3,4.3l-4.3,4.3zM316.3,1602.8l4.3,-4.3l4.3,4.3l-4.3,4.3z" fill="#000" clip-path="url(#cB3)"/>
<path d="M264.2,1665l4.3,-4.3l4.3,4.3l-4.3,4.3zM268,1663l4.3,-4.3l4.3,4.3l-4.3,4.3zM274,1665.1l4.3,-4.3l4.3,4.3l-4.3,4.3zM262.7,1670.6l4.3,-4.3l4.3,4.3l-4.3,4.3zM267.3,1669.1l4.3,-4.3l4.3,4.3l-4.3,4.3zM271.3,1666.6l4.3,-4.3l4.3,4.3l-4.3,4.3zM278.8,1666.8l4.3,-4.3l4.3,4.3l-4.3,4.3zM262.4,1672.3l4.3,-4.3l4.3,4.3l-4.3,4.3zM267.7,1673.2l4.3,-4.3l4.3,4.3l-4.3,4.3zM275.5,1674.8l4.3,-4.3l4.3,4.3l-4.3,4.3zM266.5,1677.3l4.3,-4.3l4.3,4.3l-4.3,4.3zM274.8,1680.3l4.3,-4.3l4.3,4.3l-4.3,4.3zM262.9,1681.9l4.3,-4.3l4.3,4.3l-4.3,4.3zM268.8,1681.2l4.3,-4.3l4.3,4.3l-4.3,4.3zM276.8,1682.6l4.3,-4.3l4.3,4.3l-4.3,4.3zM264.6,1686.6l4.3,-4.3l4.3,4.3l-4.3,4.3z" fill="#000" clip-path="url(#cB3)"/>
<path d="M494.8,1602l4.3,-4.3l4.3,4.3l-4.3,4.3zM484.8,1606.8l4.3,-4.3l4.3,4.3l-4.3,4.3zM490.9,1606.3l4.3,-4.3l4.3,4.3l-4.3,4.3zM498,1605.1l4.3,-4.3l4.3,4.3l-4.3,4.3zM508.9,1607.2l4.3,-4.3l4.3,4.3l-4.3,4.3zM488.2,1609.5l4.3,-4.3l4.3,4.3l-4.3,4.3zM496.2,1608.9l4.3,-4.3l4.3,4.3l-4.3,4.3zM502.5,1608.4l4.3,-4.3l4.3,4.3l-4.3,4.3zM506.3,1611.6l4.3,-4.3l4.3,4.3l-4.3,4.3zM481.1,1615l4.3,-4.3l4.3,4.3l-4.3,4.3zM486.2,1613.1l4.3,-4.3l4.3,4.3l-4.3,4.3zM493.7,1617.1l4.3,-4.3l4.3,4.3l-4.3,4.3zM500.7,1615.8l4.3,-4.3l4.3,4.3l-4.3,4.3zM504.1,1614.5l4.3,-4.3l4.3,4.3l-4.3,4.3zM511.5,1615.8l4.3,-4.3l4.3,4.3l-4.3,4.3zM515.1,1614l4.3,-4.3l4.3,4.3l-4.3,4.3zM485,1619.9l4.3,-4.3l4.3,4.3l-4.3,4.3zM487.7,1621.3l4.3,-4.3l4.3,4.3l-4.3,4.3zM495.4,1620l4.3,-4.3l4.3,4.3l-4.3,4.3zM500.5,1619.6l4.3,-4.3l4.3,4.3l-4.3,4.3zM512,1620.1l4.3,-4.3l4.3,4.3l-4.3,4.3zM484.8,1623.8l4.3,-4.3l4.3,4.3l-4.3,4.3zM492,1625.3l4.3,-4.3l4.3,4.3l-4.3,4.3zM496.8,1624.5l4.3,-4.3l4.3,4.3l-4.3,4.3zM483.1,1628.2l4.3,-4.3l4.3,4.3l-4.3,4.3zM493.6,1628.5l4.3,-4.3l4.3,4.3l-4.3,4.3z" fill="#000" clip-path="url(#cB3)"/>
<path d="M464.5,1645.2l4.3,-4.3l4.3,4.3l-4.3,4.3zM427.4,1652l4.3,-4.3l4.3,4.3l-4.3,4.3zM439.8,1651.6l4.3,-4.3l4.3,4.3l-4.3,4.3zM450.1,1651.7l4.3,-4.3l4.3,4.3l-4.3,4.3zM458.1,1651.5l4.3,-4.3l4.3,4.3l-4.3,4.3zM461.3,1651.7l4.3,-4.3l4.3,4.3l-4.3,4.3zM468,1651.1l4.3,-4.3l4.3,4.3l-4.3,4.3zM416.9,1656l4.3,-4.3l4.3,4.3l-4.3,4.3zM422.8,1654.1l4.3,-4.3l4.3,4.3l-4.3,4.3zM428.1,1655.8l4.3,-4.3l4.3,4.3l-4.3,4.3zM433.9,1653.8l4.3,-4.3l4.3,4.3l-4.3,4.3zM439.7,1655.6l4.3,-4.3l4.3,4.3l-4.3,4.3zM447.7,1655.2l4.3,-4.3l4.3,4.3l-4.3,4.3zM451.6,1654.7l4.3,-4.3l4.3,4.3l-4.3,4.3zM458.8,1653.3l4.3,-4.3l4.3,4.3l-4.3,4.3zM463.4,1657.1l4.3,-4.3l4.3,4.3l-4.3,4.3zM469.9,1654.2l4.3,-4.3l4.3,4.3l-4.3,4.3zM412.4,1659.1l4.3,-4.3l4.3,4.3l-4.3,4.3zM420.5,1661.8l4.3,-4.3l4.3,4.3l-4.3,4.3zM426.6,1659.7l4.3,-4.3l4.3,4.3l-4.3,4.3zM433.2,1658.9l4.3,-4.3l4.3,4.3l-4.3,4.3zM436.5,1659.8l4.3,-4.3l4.3,4.3l-4.3,4.3zM446.2,1660.8l4.3,-4.3l4.3,4.3l-4.3,4.3zM449.5,1660.6l4.3,-4.3l4.3,4.3l-4.3,4.3zM458,1658.8l4.3,-4.3l4.3,4.3l-4.3,4.3zM462.9,1659.2l4.3,-4.3l4.3,4.3l-4.3,4.3zM467.4,1658.9l4.3,-4.3l4.3,4.3l-4.3,4.3zM473.3,1659.2l4.3,-4.3l4.3,4.3l-4.3,4.3zM403.8,1665.7l4.3,-4.3l4.3,4.3l-4.3,4.3zM411.9,1662.5l4.3,-4.3l4.3,4.3l-4.3,4.3zM418.7,1663.3l4.3,-4.3l4.3,4.3l-4.3,4.3zM423.4,1664.8l4.3,-4.3l4.3,4.3l-4.3,4.3zM428.8,1663.7l4.3,-4.3l4.3,4.3l-4.3,4.3zM435.2,1663.1l4.3,-4.3l4.3,4.3l-4.3,4.3zM443,1663l4.3,-4.3l4.3,4.3l-4.3,4.3zM448.9,1663.4l4.3,-4.3l4.3,4.3l-4.3,4.3zM452.7,1664.1l4.3,-4.3l4.3,4.3l-4.3,4.3zM457.5,1663l4.3,-4.3l4.3,4.3l-4.3,4.3zM407.8,1671.1l4.3,-4.3l4.3,4.3l-4.3,4.3zM414.7,1667.8l4.3,-4.3l4.3,4.3l-4.3,4.3zM418.4,1668.3l4.3,-4.3l4.3,4.3l-4.3,4.3zM428,1667.9l4.3,-4.3l4.3,4.3l-4.3,4.3zM432.4,1668.9l4.3,-4.3l4.3,4.3l-4.3,4.3zM437.8,1670.7l4.3,-4.3l4.3,4.3l-4.3,4.3zM443.3,1670.3l4.3,-4.3l4.3,4.3l-4.3,4.3zM451.2,1671.2l4.3,-4.3l4.3,4.3l-4.3,4.3zM406.8,1674.3l4.3,-4.3l4.3,4.3l-4.3,4.3zM410.7,1676.1l4.3,-4.3l4.3,4.3l-4.3,4.3zM416.7,1672.5l4.3,-4.3l4.3,4.3l-4.3,4.3zM421.6,1672.2l4.3,-4.3l4.3,4.3l-4.3,4.3zM430.5,1672.6l4.3,-4.3l4.3,4.3l-4.3,4.3zM436.4,1675.7l4.3,-4.3l4.3,4.3l-4.3,4.3zM443.6,1675.5l4.3,-4.3l4.3,4.3l-4.3,4.3zM447.2,1674.7l4.3,-4.3l4.3,4.3l-4.3,4.3zM438.4,1678l4.3,-4.3l4.3,4.3l-4.3,4.3zM450.7,1677.7l4.3,-4.3l4.3,4.3l-4.3,4.3z" fill="#000" clip-path="url(#cB3)"/>
<path d="M221.8,1854.7L226.2,1832.3L244.2,1821.2L249.7,1798.3L266.8,1786.7L277,1772.2L294.7,1765.8L295.2,1748.9L315.1,1743L319.7,1717L333.9,1696.9L367.4,1688.3L396.5,1693.5L404.1,1703.1L395.5,1737.1L367.6,1747.3L353,1770.5L351.8,1797.3L349.3,1825.8L338.3,1838.3L291.7,1840.3L291.5,1853.2ZM369.1,1685.5l4.3,-4.3l4.3,4.3l-4.3,4.3zM350.3,1688.9l4.3,-4.3l4.3,4.3l-4.3,4.3zM353.6,1688.6l4.3,-4.3l4.3,4.3l-4.3,4.3zM359.5,1688.3l4.3,-4.3l4.3,4.3l-4.3,4.3zM363.7,1688.5l4.3,-4.3l4.3,4.3l-4.3,4.3zM367.4,1688.3l4.3,-4.3l4.3,4.3l-4.3,4.3zM371.7,1687.6l4.3,-4.3l4.3,4.3l-4.3,4.3zM377.9,1688.3l4.3,-4.3l4.3,4.3l-4.3,4.3zM380.9,1689.1l4.3,-4.3l4.3,4.3l-4.3,4.3zM337.2,1691.1l4.3,-4.3l4.3,4.3l-4.3,4.3zM341.3,1692.4l4.3,-4.3l4.3,4.3l-4.3,4.3zM346.7,1689.9l4.3,-4.3l4.3,4.3l-4.3,4.3zM352.1,1690.1l4.3,-4.3l4.3,4.3l-4.3,4.3zM356.4,1690.8l4.3,-4.3l4.3,4.3l-4.3,4.3zM361.2,1692.8l4.3,-4.3l4.3,4.3l-4.3,4.3zM366.5,1691.1l4.3,-4.3l4.3,4.3l-4.3,4.3zM371.1,1691.8l4.3,-4.3l4.3,4.3l-4.3,4.3zM374.3,1690.2l4.3,-4.3l4.3,4.3l-4.3,4.3zM379.6,1691.6l4.3,-4.3l4.3,4.3l-4.3,4.3zM385.4,1692.9l4.3,-4.3l4.3,4.3l-4.3,4.3zM388.8,1690.9l4.3,-4.3l4.3,4.3l-4.3,4.3zM394.4,1689.8l4.3,-4.3l4.3,4.3l-4.3,4.3zM396.4,1691.6l4.3,-4.3l4.3,4.3l-4.3,4.3zM331.8,1695.3l4.3,-4.3l4.3,4.3l-4.3,4.3zM334.1,1694.2l4.3,-4.3l4.3,4.3l-4.3,4.3zM340.1,1696.4l4.3,-4.3l4.3,4.3l-4.3,4.3zM346,1695.2l4.3,-4.3l4.3,4.3l-4.3,4.3zM347.8,1695.9l4.3,-4.3l4.3,4.3l-4.3,4.3zM353.8,1695.3l4.3,-4.3l4.3,4.3l-4.3,4.3zM359.3,1695.5l4.3,-4.3l4.3,4.3l-4.3,4.3zM363.1,1696.4l4.3,-4.3l4.3,4.3l-4.3,4.3zM367.4,1694.7l4.3,-4.3l4.3,4.3l-4.3,4.3zM373.5,1694.1l4.3,-4.3l4.3,4.3l-4.3,4.3zM376.3,1696.1l4.3,-4.3l4.3,4.3l-4.3,4.3zM380.2,1696.1l4.3,-4.3l4.3,4.3l-4.3,4.3zM386.8,1694.8l4.3,-4.3l4.3,4.3l-4.3,4.3zM390.1,1695.9l4.3,-4.3l4.3,4.3l-4.3,4.3zM396.7,1693.9l4.3,-4.3l4.3,4.3l-4.3,4.3zM328.9,1699.1l4.3,-4.3l4.3,4.3l-4.3,4.3zM332.5,1698.9l4.3,-4.3l4.3,4.3l-4.3,4.3zM337.1,1699.5l4.3,-4.3l4.3,4.3l-4.3,4.3zM342.6,1697.5l4.3,-4.3l4.3,4.3l-4.3,4.3zM346.2,1698.3l4.3,-4.3l4.3,4.3l-4.3,4.3zM352.5,1697.7l4.3,-4.3l4.3,4.3l-4.3,4.3zM357,1699.2l4.3,-4.3l4.3,4.3l-4.3,4.3zM359.6,1699.3l4.3,-4.3l4.3,4.3l-4.3,4.3zM364.2,1697.5l4.3,-4.3l4.3,4.3l-4.3,4.3zM370.4,1697.9l4.3,-4.3l4.3,4.3l-4.3,4.3zM375.9,1698.7l4.3,-4.3l4.3,4.3l-4.3,4.3zM378.7,1699.7l4.3,-4.3l4.3,4.3l-4.3,4.3zM382.4,1699.4l4.3,-4.3l4.3,4.3l-4.3,4.3zM387.1,1697.6l4.3,-4.3l4.3,4.3l-4.3,4.3zM394.6,1699.3l4.3,-4.3l4.3,4.3l-4.3,4.3zM396.8,1697.5l4.3,-4.3l4.3,4.3l-4.3,4.3zM326,1703.8l4.3,-4.3l4.3,4.3l-4.3,4.3zM331.6,1703l4.3,-4.3l4.3,4.3l-4.3,4.3zM335.5,1703.8l4.3,-4.3l4.3,4.3l-4.3,4.3zM339,1702.9l4.3,-4.3l4.3,4.3l-4.3,4.3zM344.1,1703l4.3,-4.3l4.3,4.3l-4.3,4.3zM350.1,1701.3l4.3,-4.3l4.3,4.3l-4.3,4.3zM353,1700.9l4.3,-4.3l4.3,4.3l-4.3,4.3zM357.7,1701l4.3,-4.3l4.3,4.3l-4.3,4.3zM362.9,1703.9l4.3,-4.3l4.3,4.3l-4.3,4.3zM367.4,1701.8l4.3,-4.3l4.3,4.3l-4.3,4.3zM372.3,1701.7l4.3,-4.3l4.3,4.3l-4.3,4.3zM377.7,1703.1l4.3,-4.3l4.3,4.3l-4.3,4.3zM380.5,1701.6l4.3,-4.3l4.3,4.3l-4.3,4.3zM386.8,1703.8l4.3,-4.3l4.3,4.3l-4.3,4.3zM391.3,1702.2l4.3,-4.3l4.3,4.3l-4.3,4.3zM396.9,1700.8l4.3,-4.3l4.3,4.3l-4.3,4.3zM398.6,1703.3l4.3,-4.3l4.3,4.3l-4.3,4.3zM322.8,1707l4.3,-4.3l4.3,4.3l-4.3,4.3zM329.7,1705.5l4.3,-4.3l4.3,4.3l-4.3,4.3zM332.1,1704.7l4.3,-4.3l4.3,4.3l-4.3,4.3zM337.1,1704.7l4.3,-4.3l4.3,4.3l-4.3,4.3zM342.3,1706.3l4.3,-4.3l4.3,4.3l-4.3,4.3zM346.3,1704.7l4.3,-4.3l4.3,4.3l-4.3,4.3zM352.3,1704.6l4.3,-4.3l4.3,4.3l-4.3,4.3zM355.3,1705.4l4.3,-4.3l4.3,4.3l-4.3,4.3zM360.5,1704.8l4.3,-4.3l4.3,4.3l-4.3,4.3zM365.2,1705.5l4.3,-4.3l4.3,4.3l-4.3,4.3zM370.9,1706.3l4.3,-4.3l4.3,4.3l-4.3,4.3zM376,1706.6l4.3,-4.3l4.3,4.3l-4.3,4.3zM380.1,1706.3l4.3,-4.3l4.3,4.3l-4.3,4.3zM383.7,1707.1l4.3,-4.3l4.3,4.3l-4.3,4.3zM389,1707.5l4.3,-4.3l4.3,4.3l-4.3,4.3zM393.8,1706.7l4.3,-4.3l4.3,4.3l-4.3,4.3zM397,1707.1l4.3,-4.3l4.3,4.3l-4.3,4.3zM401.9,1704.9l4.3,-4.3l4.3,4.3l-4.3,4.3zM320.3,1710l4.3,-4.3l4.3,4.3l-4.3,4.3zM326.3,1711l4.3,-4.3l4.3,4.3l-4.3,4.3zM330.7,1708.8l4.3,-4.3l4.3,4.3l-4.3,4.3zM334.9,1708.8l4.3,-4.3l4.3,4.3l-4.3,4.3zM340.4,1709.3l4.3,-4.3l4.3,4.3l-4.3,4.3zM345.6,1708.9l4.3,-4.3l4.3,4.3l-4.3,4.3zM348.9,1708.9l4.3,-4.3l4.3,4.3l-4.3,4.3zM355.6,1710.9l4.3,-4.3l4.3,4.3l-4.3,4.3zM359.7,1710.1l4.3,-4.3l4.3,4.3l-4.3,4.3zM362.9,1708.6l4.3,-4.3l4.3,4.3l-4.3,4.3zM368.9,1709.7l4.3,-4.3l4.3,4.3l-4.3,4.3zM370.9,1708.7l4.3,-4.3l4.3,4.3l-4.3,4.3zM375.7,1710.5l4.3,-4.3l4.3,4.3l-4.3,4.3zM382.9,1708.8l4.3,-4.3l4.3,4.3l-4.3,4.3zM387.2,1709.2l4.3,-4.3l4.3,4.3l-4.3,4.3zM391.4,1710.9l4.3,-4.3l4.3,4.3l-4.3,4.3zM395.8,1710.7l4.3,-4.3l4.3,4.3l-4.3,4.3zM399.6,1708.2l4.3,-4.3l4.3,4.3l-4.3,4.3zM316.2,1712.6l4.3,-4.3l4.3,4.3l-4.3,4.3zM321,1713.6l4.3,-4.3l4.3,4.3l-4.3,4.3zM323.8,1711.8l4.3,-4.3l4.3,4.3l-4.3,4.3zM328.3,1712.4l4.3,-4.3l4.3,4.3l-4.3,4.3zM333.8,1714.7l4.3,-4.3l4.3,4.3l-4.3,4.3zM339.2,1713.8l4.3,-4.3l4.3,4.3l-4.3,4.3zM342.1,1712.2l4.3,-4.3l4.3,4.3l-4.3,4.3zM347.7,1713.6l4.3,-4.3l4.3,4.3l-4.3,4.3zM352.4,1713l4.3,-4.3l4.3,4.3l-4.3,4.3zM357.5,1712.5l4.3,-4.3l4.3,4.3l-4.3,4.3zM360.3,1712.7l4.3,-4.3l4.3,4.3l-4.3,4.3zM365.9,1714.7l4.3,-4.3l4.3,4.3l-4.3,4.3zM369,1713.9l4.3,-4.3l4.3,4.3l-4.3,4.3zM375.6,1712.6l4.3,-4.3l4.3,4.3l-4.3,4.3zM377.9,1713.7l4.3,-4.3l4.3,4.3l-4.3,4.3zM385,1714.7l4.3,-4.3l4.3,4.3l-4.3,4.3zM389.2,1713.2l4.3,-4.3l4.3,4.3l-4.3,4.3zM392.9,1713.5l4.3,-4.3l4.3,4.3l-4.3,4.3zM399,1712.8l4.3,-4.3l4.3,4.3l-4.3,4.3zM316.8,1717l4.3,-4.3l4.3,4.3l-4.3,4.3zM322.4,1717.9l4.3,-4.3l4.3,4.3l-4.3,4.3zM325.1,1716.8l4.3,-4.3l4.3,4.3l-4.3,4.3zM331.1,1716.7l4.3,-4.3l4.3,4.3l-4.3,4.3zM334.4,1717.4l4.3,-4.3l4.3,4.3l-4.3,4.3zM339.8,1717.7l4.3,-4.3l4.3,4.3l-4.3,4.3zM344.8,1718.6l4.3,-4.3l4.3,4.3l-4.3,4.3zM350.8,1715.7l4.3,-4.3l4.3,4.3l-4.3,4.3zM354.8,1717.8l4.3,-4.3l4.3,4.3l-4.3,4.3zM357.9,1715.9l4.3,-4.3l4.3,4.3l-4.3,4.3zM363.1,1716.7l4.3,-4.3l4.3,4.3l-4.3,4.3zM368.6,1718.5l4.3,-4.3l4.3,4.3l-4.3,4.3zM372,1716.4l4.3,-4.3l4.3,4.3l-4.3,4.3zM377,1717.8l4.3,-4.3l4.3,4.3l-4.3,4.3zM382.5,1717.4l4.3,-4.3l4.3,4.3l-4.3,4.3zM385.5,1716.6l4.3,-4.3l4.3,4.3l-4.3,4.3zM391.9,1717.2l4.3,-4.3l4.3,4.3l-4.3,4.3zM394,1716.9l4.3,-4.3l4.3,4.3l-4.3,4.3zM399.2,1717.7l4.3,-4.3l4.3,4.3l-4.3,4.3zM314.5,1722.4l4.3,-4.3l4.3,4.3l-4.3,4.3zM320.3,1722.1l4.3,-4.3l4.3,4.3l-4.3,4.3zM323,1721.7l4.3,-4.3l4.3,4.3l-4.3,4.3zM328.4,1722.3l4.3,-4.3l4.3,4.3l-4.3,4.3zM334.9,1719.9l4.3,-4.3l4.3,4.3l-4.3,4.3zM337.6,1720.1l4.3,-4.3l4.3,4.3l-4.3,4.3zM342.4,1720.1l4.3,-4.3l4.3,4.3l-4.3,4.3zM347.6,1719.6l4.3,-4.3l4.3,4.3l-4.3,4.3zM350.6,1720.7l4.3,-4.3l4.3,4.3l-4.3,4.3zM354.9,1720.4l4.3,-4.3l4.3,4.3l-4.3,4.3zM362.2,1722l4.3,-4.3l4.3,4.3l-4.3,4.3zM364.5,1719.2l4.3,-4.3l4.3,4.3l-4.3,4.3zM371.2,1722.3l4.3,-4.3l4.3,4.3l-4.3,4.3zM375,1719.6l4.3,-4.3l4.3,4.3l-4.3,4.3zM378.5,1722.2l4.3,-4.3l4.3,4.3l-4.3,4.3zM385.3,1719.3l4.3,-4.3l4.3,4.3l-4.3,4.3zM387.5,1720.6l4.3,-4.3l4.3,4.3l-4.3,4.3zM392.3,1721.6l4.3,-4.3l4.3,4.3l-4.3,4.3zM397.3,1721.7l4.3,-4.3l4.3,4.3l-4.3,4.3zM314,1723.1l4.3,-4.3l4.3,4.3l-4.3,4.3zM317,1725.2l4.3,-4.3l4.3,4.3l-4.3,4.3zM321.9,1724.1l4.3,-4.3l4.3,4.3l-4.3,4.3zM327.8,1723.8l4.3,-4.3l4.3,4.3l-4.3,4.3zM331.2,1725.5l4.3,-4.3l4.3,4.3l-4.3,4.3zM334.4,1724l4.3,-4.3l4.3,4.3l-4.3,4.3zM340.2,1724.7l4.3,-4.3l4.3,4.3l-4.3,4.3zM343.9,1724.3l4.3,-4.3l4.3,4.3l-4.3,4.3zM348,1723.2l4.3,-4.3l4.3,4.3l-4.3,4.3zM353.5,1723.3l4.3,-4.3l4.3,4.3l-4.3,4.3zM360.1,1723.7l4.3,-4.3l4.3,4.3l-4.3,4.3zM362.5,1725.4l4.3,-4.3l4.3,4.3l-4.3,4.3zM368.6,1723.7l4.3,-4.3l4.3,4.3l-4.3,4.3zM373.5,1724.9l4.3,-4.3l4.3,4.3l-4.3,4.3zM376.6,1724.9l4.3,-4.3l4.3,4.3l-4.3,4.3zM380.8,1723.7l4.3,-4.3l4.3,4.3l-4.3,4.3zM387.4,1724.3l4.3,-4.3l4.3,4.3l-4.3,4.3zM392.1,1723.4l4.3,-4.3l4.3,4.3l-4.3,4.3zM394.2,1723l4.3,-4.3l4.3,4.3l-4.3,4.3zM315.4,1727.1l4.3,-4.3l4.3,4.3l-4.3,4.3zM318.3,1728.1l4.3,-4.3l4.3,4.3l-4.3,4.3zM324.7,1728l4.3,-4.3l4.3,4.3l-4.3,4.3zM328.9,1729.5l4.3,-4.3l4.3,4.3l-4.3,4.3zM332.2,1727.4l4.3,-4.3l4.3,4.3l-4.3,4.3zM337.9,1728.3l4.3,-4.3l4.3,4.3l-4.3,4.3zM343.8,1728.3l4.3,-4.3l4.3,4.3l-4.3,4.3zM347.6,1727.9l4.3,-4.3l4.3,4.3l-4.3,4.3zM352.6,1729.2l4.3,-4.3l4.3,4.3l-4.3,4.3zM355.6,1726.9l4.3,-4.3l4.3,4.3l-4.3,4.3zM360.1,1727.7l4.3,-4.3l4.3,4.3l-4.3,4.3zM366.8,1727.4l4.3,-4.3l4.3,4.3l-4.3,4.3zM370.5,1728.6l4.3,-4.3l4.3,4.3l-4.3,4.3zM376.2,1726.9l4.3,-4.3l4.3,4.3l-4.3,4.3zM380.2,1727.6l4.3,-4.3l4.3,4.3l-4.3,4.3zM382.6,1728.6l4.3,-4.3l4.3,4.3l-4.3,4.3zM389.6,1728.4l4.3,-4.3l4.3,4.3l-4.3,4.3zM391.7,1729.7l4.3,-4.3l4.3,4.3l-4.3,4.3zM313.9,1731.3l4.3,-4.3l4.3,4.3l-4.3,4.3zM318.2,1731.9l4.3,-4.3l4.3,4.3l-4.3,4.3zM320.6,1730.4l4.3,-4.3l4.3,4.3l-4.3,4.3zM327.8,1731.7l4.3,-4.3l4.3,4.3l-4.3,4.3zM330.8,1733.2l4.3,-4.3l4.3,4.3l-4.3,4.3zM335.8,1731.8l4.3,-4.3l4.3,4.3l-4.3,4.3zM339.5,1732.6l4.3,-4.3l4.3,4.3l-4.3,4.3zM344,1731.7l4.3,-4.3l4.3,4.3l-4.3,4.3zM350.2,1732.2l4.3,-4.3l4.3,4.3l-4.3,4.3zM352.8,1730.9l4.3,-4.3l4.3,4.3l-4.3,4.3zM359.2,1732.6l4.3,-4.3l4.3,4.3l-4.3,4.3zM361.9,1733.4l4.3,-4.3l4.3,4.3l-4.3,4.3zM366.6,1730.8l4.3,-4.3l4.3,4.3l-4.3,4.3zM371.1,1731.7l4.3,-4.3l4.3,4.3l-4.3,4.3zM377.4,1733l4.3,-4.3l4.3,4.3l-4.3,4.3zM380.5,1732.5l4.3,-4.3l4.3,4.3l-4.3,4.3zM384.9,1732.1l4.3,-4.3l4.3,4.3l-4.3,4.3zM390,1731.4l4.3,-4.3l4.3,4.3l-4.3,4.3zM394,1732.6l4.3,-4.3l4.3,4.3l-4.3,4.3zM311.8,1736.7l4.3,-4.3l4.3,4.3l-4.3,4.3zM314.1,1736.6l4.3,-4.3l4.3,4.3l-4.3,4.3zM320,1735.1l4.3,-4.3l4.3,4.3l-4.3,4.3zM324.6,1734.6l4.3,-4.3l4.3,4.3l-4.3,4.3zM328,1733.9l4.3,-4.3l4.3,4.3l-4.3,4.3zM333.8,1735.8l4.3,-4.3l4.3,4.3l-4.3,4.3zM338.7,1735.5l4.3,-4.3l4.3,4.3l-4.3,4.3zM342.3,1734.9l4.3,-4.3l4.3,4.3l-4.3,4.3zM347.9,1735.1l4.3,-4.3l4.3,4.3l-4.3,4.3zM352,1736.3l4.3,-4.3l4.3,4.3l-4.3,4.3zM356.1,1736.1l4.3,-4.3l4.3,4.3l-4.3,4.3zM359.5,1734.7l4.3,-4.3l4.3,4.3l-4.3,4.3zM366.6,1734.4l4.3,-4.3l4.3,4.3l-4.3,4.3zM368.7,1734l4.3,-4.3l4.3,4.3l-4.3,4.3zM375.6,1734.3l4.3,-4.3l4.3,4.3l-4.3,4.3zM379.2,1735.3l4.3,-4.3l4.3,4.3l-4.3,4.3zM384.9,1735.4l4.3,-4.3l4.3,4.3l-4.3,4.3zM388.6,1734l4.3,-4.3l4.3,4.3l-4.3,4.3zM304.6,1739.9l4.3,-4.3l4.3,4.3l-4.3,4.3zM312,1738.4l4.3,-4.3l4.3,4.3l-4.3,4.3zM317.8,1740.1l4.3,-4.3l4.3,4.3l-4.3,4.3zM320.8,1739.3l4.3,-4.3l4.3,4.3l-4.3,4.3zM327.5,1738.8l4.3,-4.3l4.3,4.3l-4.3,4.3zM329.7,1739.5l4.3,-4.3l4.3,4.3l-4.3,4.3zM335.2,1738.1l4.3,-4.3l4.3,4.3l-4.3,4.3zM339.5,1737.6l4.3,-4.3l4.3,4.3l-4.3,4.3zM343.7,1739l4.3,-4.3l4.3,4.3l-4.3,4.3zM348.1,1737.6l4.3,-4.3l4.3,4.3l-4.3,4.3zM354.2,1740.7l4.3,-4.3l4.3,4.3l-4.3,4.3zM359.7,1738.6l4.3,-4.3l4.3,4.3l-4.3,4.3zM364.6,1737.8l4.3,-4.3l4.3,4.3l-4.3,4.3zM366.7,1737.6l4.3,-4.3l4.3,4.3l-4.3,4.3zM371,1739.5l4.3,-4.3l4.3,4.3l-4.3,4.3zM377.8,1739.1l4.3,-4.3l4.3,4.3l-4.3,4.3zM382.6,1739l4.3,-4.3l4.3,4.3l-4.3,4.3zM302.5,1741.6l4.3,-4.3l4.3,4.3l-4.3,4.3zM305.2,1741.9l4.3,-4.3l4.3,4.3l-4.3,4.3zM310.9,1742.8l4.3,-4.3l4.3,4.3l-4.3,4.3zM313.6,1744l4.3,-4.3l4.3,4.3l-4.3,4.3zM318.9,1743.5l4.3,-4.3l4.3,4.3l-4.3,4.3zM323.9,1744.1l4.3,-4.3l4.3,4.3l-4.3,4.3zM327.3,1742l4.3,-4.3l4.3,4.3l-4.3,4.3zM332.6,1742.1l4.3,-4.3l4.3,4.3l-4.3,4.3zM338.9,1742.9l4.3,-4.3l4.3,4.3l-4.3,4.3zM342,1742.9l4.3,-4.3l4.3,4.3l-4.3,4.3zM348.2,1743.1l4.3,-4.3l4.3,4.3l-4.3,4.3zM351.5,1743.4l4.3,-4.3l4.3,4.3l-4.3,4.3zM356.7,1742.6l4.3,-4.3l4.3,4.3l-4.3,4.3zM360.7,1741.7l4.3,-4.3l4.3,4.3l-4.3,4.3zM365.3,1744.1l4.3,-4.3l4.3,4.3l-4.3,4.3zM369.5,1742.4l4.3,-4.3l4.3,4.3l-4.3,4.3zM288.8,1746.9l4.3,-4.3l4.3,4.3l-4.3,4.3zM294,1746.9l4.3,-4.3l4.3,4.3l-4.3,4.3zM298.7,1745.9l4.3,-4.3l4.3,4.3l-4.3,4.3zM301.9,1747.6l4.3,-4.3l4.3,4.3l-4.3,4.3zM308.5,1745.7l4.3,-4.3l4.3,4.3l-4.3,4.3zM312.6,1746.8l4.3,-4.3l4.3,4.3l-4.3,4.3zM317.2,1747.9l4.3,-4.3l4.3,4.3l-4.3,4.3zM322.7,1745.9l4.3,-4.3l4.3,4.3l-4.3,4.3zM325.9,1746.9l4.3,-4.3l4.3,4.3l-4.3,4.3zM329.9,1748l4.3,-4.3l4.3,4.3l-4.3,4.3zM334.1,1746.6l4.3,-4.3l4.3,4.3l-4.3,4.3zM339.5,1746.6l4.3,-4.3l4.3,4.3l-4.3,4.3zM343.3,1745.7l4.3,-4.3l4.3,4.3l-4.3,4.3zM351,1747.5l4.3,-4.3l4.3,4.3l-4.3,4.3zM353.1,1746.4l4.3,-4.3l4.3,4.3l-4.3,4.3zM357.1,1745.3l4.3,-4.3l4.3,4.3l-4.3,4.3zM362.2,1748.1l4.3,-4.3l4.3,4.3l-4.3,4.3zM367.2,1745.7l4.3,-4.3l4.3,4.3l-4.3,4.3zM287.6,1749.4l4.3,-4.3l4.3,4.3l-4.3,4.3zM290.3,1749.6l4.3,-4.3l4.3,4.3l-4.3,4.3zM295.6,1749.3l4.3,-4.3l4.3,4.3l-4.3,4.3zM301.6,1750.5l4.3,-4.3l4.3,4.3l-4.3,4.3zM305,1751l4.3,-4.3l4.3,4.3l-4.3,4.3zM309.4,1751.6l4.3,-4.3l4.3,4.3l-4.3,4.3zM313.7,1750.5l4.3,-4.3l4.3,4.3l-4.3,4.3zM320.2,1751l4.3,-4.3l4.3,4.3l-4.3,4.3zM324.1,1751.4l4.3,-4.3l4.3,4.3l-4.3,4.3zM329.1,1750.9l4.3,-4.3l4.3,4.3l-4.3,4.3zM331.9,1749.2l4.3,-4.3l4.3,4.3l-4.3,4.3zM337.8,1750.4l4.3,-4.3l4.3,4.3l-4.3,4.3zM341.2,1751l4.3,-4.3l4.3,4.3l-4.3,4.3zM346.6,1750.2l4.3,-4.3l4.3,4.3l-4.3,4.3zM351.8,1751.3l4.3,-4.3l4.3,4.3l-4.3,4.3zM355.7,1750.4l4.3,-4.3l4.3,4.3l-4.3,4.3zM361.2,1750.7l4.3,-4.3l4.3,4.3l-4.3,4.3zM364.9,1749.5l4.3,-4.3l4.3,4.3l-4.3,4.3zM290.3,1754.6l4.3,-4.3l4.3,4.3l-4.3,4.3zM293.3,1754.3l4.3,-4.3l4.3,4.3l-4.3,4.3zM299.2,1752.5l4.3,-4.3l4.3,4.3l-4.3,4.3zM304.2,1753l4.3,-4.3l4.3,4.3l-4.3,4.3zM308,1754l4.3,-4.3l4.3,4.3l-4.3,4.3zM313.3,1754.8l4.3,-4.3l4.3,4.3l-4.3,4.3zM317.1,1755.3l4.3,-4.3l4.3,4.3l-4.3,4.3zM321.6,1754.1l4.3,-4.3l4.3,4.3l-4.3,4.3zM328,1753.4l4.3,-4.3l4.3,4.3l-4.3,4.3zM331.7,1755.4l4.3,-4.3l4.3,4.3l-4.3,4.3zM334.3,1754.8l4.3,-4.3l4.3,4.3l-4.3,4.3zM340.7,1754l4.3,-4.3l4.3,4.3l-4.3,4.3zM345.7,1755.1l4.3,-4.3l4.3,4.3l-4.3,4.3zM348.3,1753.9l4.3,-4.3l4.3,4.3l-4.3,4.3zM354.4,1754.6l4.3,-4.3l4.3,4.3l-4.3,4.3zM360.1,1754.9l4.3,-4.3l4.3,4.3l-4.3,4.3zM290.6,1757.4l4.3,-4.3l4.3,4.3l-4.3,4.3zM297.4,1757.7l4.3,-4.3l4.3,4.3l-4.3,4.3zM302.3,1757l4.3,-4.3l4.3,4.3l-4.3,4.3zM307.1,1756.1l4.3,-4.3l4.3,4.3l-4.3,4.3zM311.6,1757.4l4.3,-4.3l4.3,4.3l-4.3,4.3zM313.3,1756.8l4.3,-4.3l4.3,4.3l-4.3,4.3zM321.1,1758.3l4.3,-4.3l4.3,4.3l-4.3,4.3zM324.9,1758.6l4.3,-4.3l4.3,4.3l-4.3,4.3zM327.1,1757l4.3,-4.3l4.3,4.3l-4.3,4.3zM333.2,1758.9l4.3,-4.3l4.3,4.3l-4.3,4.3zM339.2,1756.5l4.3,-4.3l4.3,4.3l-4.3,4.3zM344.1,1757.8l4.3,-4.3l4.3,4.3l-4.3,4.3zM346.5,1756.3l4.3,-4.3l4.3,4.3l-4.3,4.3zM351.5,1757.7l4.3,-4.3l4.3,4.3l-4.3,4.3zM356.2,1757l4.3,-4.3l4.3,4.3l-4.3,4.3zM288.4,1762.7l4.3,-4.3l4.3,4.3l-4.3,4.3zM295.4,1761.2l4.3,-4.3l4.3,4.3l-4.3,4.3zM300,1760.6l4.3,-4.3l4.3,4.3l-4.3,4.3zM304.9,1760.7l4.3,-4.3l4.3,4.3l-4.3,4.3zM309.4,1762.4l4.3,-4.3l4.3,4.3l-4.3,4.3zM314,1762l4.3,-4.3l4.3,4.3l-4.3,4.3zM315.8,1760.6l4.3,-4.3l4.3,4.3l-4.3,4.3zM322.3,1762.6l4.3,-4.3l4.3,4.3l-4.3,4.3zM327,1759.8l4.3,-4.3l4.3,4.3l-4.3,4.3zM330.5,1760.8l4.3,-4.3l4.3,4.3l-4.3,4.3zM334.5,1760.4l4.3,-4.3l4.3,4.3l-4.3,4.3zM340.3,1760.9l4.3,-4.3l4.3,4.3l-4.3,4.3zM344,1761l4.3,-4.3l4.3,4.3l-4.3,4.3zM350.8,1761.6l4.3,-4.3l4.3,4.3l-4.3,4.3zM354.8,1762.7l4.3,-4.3l4.3,4.3l-4.3,4.3zM357.1,1762.5l4.3,-4.3l4.3,4.3l-4.3,4.3zM285.8,1765.5l4.3,-4.3l4.3,4.3l-4.3,4.3zM291.4,1764.8l4.3,-4.3l4.3,4.3l-4.3,4.3zM297.1,1766.3l4.3,-4.3l4.3,4.3l-4.3,4.3zM301.7,1764.1l4.3,-4.3l4.3,4.3l-4.3,4.3zM307.3,1763.9l4.3,-4.3l4.3,4.3l-4.3,4.3zM310.6,1765.4l4.3,-4.3l4.3,4.3l-4.3,4.3zM314.2,1766.2l4.3,-4.3l4.3,4.3l-4.3,4.3zM319.9,1765.6l4.3,-4.3l4.3,4.3l-4.3,4.3zM322.9,1766l4.3,-4.3l4.3,4.3l-4.3,4.3zM328,1765.3l4.3,-4.3l4.3,4.3l-4.3,4.3zM334.1,1764.4l4.3,-4.3l4.3,4.3l-4.3,4.3zM337.1,1764.4l4.3,-4.3l4.3,4.3l-4.3,4.3zM344,1765.5l4.3,-4.3l4.3,4.3l-4.3,4.3zM347,1765.2l4.3,-4.3l4.3,4.3l-4.3,4.3zM352.2,1764.2l4.3,-4.3l4.3,4.3l-4.3,4.3zM354.9,1763.7l4.3,-4.3l4.3,4.3l-4.3,4.3zM276.1,1770l4.3,-4.3l4.3,4.3l-4.3,4.3zM280.7,1768.6l4.3,-4.3l4.3,4.3l-4.3,4.3zM285.5,1769.1l4.3,-4.3l4.3,4.3l-4.3,4.3zM289.3,1767.9l4.3,-4.3l4.3,4.3l-4.3,4.3zM294.8,1768.3l4.3,-4.3l4.3,4.3l-4.3,4.3zM297.3,1767.6l4.3,-4.3l4.3,4.3l-4.3,4.3zM302.9,1769.2l4.3,-4.3l4.3,4.3l-4.3,4.3zM308.5,1768.6l4.3,-4.3l4.3,4.3l-4.3,4.3zM313.6,1768.1l4.3,-4.3l4.3,4.3l-4.3,4.3zM316.7,1769.4l4.3,-4.3l4.3,4.3l-4.3,4.3zM322.4,1768.4l4.3,-4.3l4.3,4.3l-4.3,4.3zM327.7,1767.1l4.3,-4.3l4.3,4.3l-4.3,4.3zM331.1,1769.8l4.3,-4.3l4.3,4.3l-4.3,4.3zM336.8,1767.7l4.3,-4.3l4.3,4.3l-4.3,4.3zM341.2,1768.7l4.3,-4.3l4.3,4.3l-4.3,4.3zM346.2,1768.1l4.3,-4.3l4.3,4.3l-4.3,4.3zM349.9,1769.1l4.3,-4.3l4.3,4.3l-4.3,4.3zM269.9,1771l4.3,-4.3l4.3,4.3l-4.3,4.3zM272.3,1773.5l4.3,-4.3l4.3,4.3l-4.3,4.3zM279.2,1770.7l4.3,-4.3l4.3,4.3l-4.3,4.3zM284,1772.7l4.3,-4.3l4.3,4.3l-4.3,4.3zM288.4,1773l4.3,-4.3l4.3,4.3l-4.3,4.3zM291.5,1771.1l4.3,-4.3l4.3,4.3l-4.3,4.3zM297.4,1773l4.3,-4.3l4.3,4.3l-4.3,4.3zM301,1771.6l4.3,-4.3l4.3,4.3l-4.3,4.3zM305.3,1773.7l4.3,-4.3l4.3,4.3l-4.3,4.3zM310.2,1771.4l4.3,-4.3l4.3,4.3l-4.3,4.3zM316.5,1773.9l4.3,-4.3l4.3,4.3l-4.3,4.3zM318.5,1771.3l4.3,-4.3l4.3,4.3l-4.3,4.3zM324.8,1772l4.3,-4.3l4.3,4.3l-4.3,4.3zM328.6,1772.9l4.3,-4.3l4.3,4.3l-4.3,4.3zM332.6,1772.6l4.3,-4.3l4.3,4.3l-4.3,4.3zM336.9,1771.4l4.3,-4.3l4.3,4.3l-4.3,4.3zM342.6,1772.1l4.3,-4.3l4.3,4.3l-4.3,4.3zM348.4,1771.2l4.3,-4.3l4.3,4.3l-4.3,4.3zM353,1771.6l4.3,-4.3l4.3,4.3l-4.3,4.3zM266.2,1776.3l4.3,-4.3l4.3,4.3l-4.3,4.3zM269.6,1775.9l4.3,-4.3l4.3,4.3l-4.3,4.3zM277.1,1777.5l4.3,-4.3l4.3,4.3l-4.3,4.3zM281,1776.6l4.3,-4.3l4.3,4.3l-4.3,4.3zM285.3,1777.6l4.3,-4.3l4.3,4.3l-4.3,4.3zM290.5,1775.9l4.3,-4.3l4.3,4.3l-4.3,4.3zM294.2,1777.4l4.3,-4.3l4.3,4.3l-4.3,4.3zM299,1776.3l4.3,-4.3l4.3,4.3l-4.3,4.3zM302.8,1776.5l4.3,-4.3l4.3,4.3l-4.3,4.3zM308,1777.4l4.3,-4.3l4.3,4.3l-4.3,4.3zM314.2,1777.6l4.3,-4.3l4.3,4.3l-4.3,4.3zM318.7,1774.5l4.3,-4.3l4.3,4.3l-4.3,4.3zM320.4,1775.5l4.3,-4.3l4.3,4.3l-4.3,4.3zM327.5,1776.2l4.3,-4.3l4.3,4.3l-4.3,4.3zM330.2,1774.7l4.3,-4.3l4.3,4.3l-4.3,4.3zM334.8,1774.8l4.3,-4.3l4.3,4.3l-4.3,4.3zM339.1,1776.8l4.3,-4.3l4.3,4.3l-4.3,4.3zM343.8,1774.9l4.3,-4.3l4.3,4.3l-4.3,4.3zM349.8,1774.8l4.3,-4.3l4.3,4.3l-4.3,4.3zM263.7,1778.8l4.3,-4.3l4.3,4.3l-4.3,4.3zM269.3,1779.8l4.3,-4.3l4.3,4.3l-4.3,4.3zM272.8,1779.6l4.3,-4.3l4.3,4.3l-4.3,4.3zM277.8,1780.1l4.3,-4.3l4.3,4.3l-4.3,4.3zM283.9,1779.3l4.3,-4.3l4.3,4.3l-4.3,4.3zM287.4,1779.9l4.3,-4.3l4.3,4.3l-4.3,4.3zM292.4,1778.9l4.3,-4.3l4.3,4.3l-4.3,4.3zM295.7,1781l4.3,-4.3l4.3,4.3l-4.3,4.3zM300,1780.3l4.3,-4.3l4.3,4.3l-4.3,4.3zM304.9,1779.7l4.3,-4.3l4.3,4.3l-4.3,4.3zM310.1,1778.8l4.3,-4.3l4.3,4.3l-4.3,4.3zM313.9,1781.2l4.3,-4.3l4.3,4.3l-4.3,4.3zM318,1778.5l4.3,-4.3l4.3,4.3l-4.3,4.3zM324.9,1779.3l4.3,-4.3l4.3,4.3l-4.3,4.3zM327.7,1780.6l4.3,-4.3l4.3,4.3l-4.3,4.3zM334.9,1778.7l4.3,-4.3l4.3,4.3l-4.3,4.3zM338.6,1779.3l4.3,-4.3l4.3,4.3l-4.3,4.3zM344.1,1780l4.3,-4.3l4.3,4.3l-4.3,4.3zM348.4,1780.2l4.3,-4.3l4.3,4.3l-4.3,4.3zM350.5,1779.5l4.3,-4.3l4.3,4.3l-4.3,4.3zM263.4,1782l4.3,-4.3l4.3,4.3l-4.3,4.3zM267,1783l4.3,-4.3l4.3,4.3l-4.3,4.3zM271.1,1783.5l4.3,-4.3l4.3,4.3l-4.3,4.3zM277,1783.8l4.3,-4.3l4.3,4.3l-4.3,4.3zM281.7,1782.6l4.3,-4.3l4.3,4.3l-4.3,4.3zM286,1783l4.3,-4.3l4.3,4.3l-4.3,4.3zM288.6,1784.3l4.3,-4.3l4.3,4.3l-4.3,4.3zM294.4,1782.5l4.3,-4.3l4.3,4.3l-4.3,4.3zM300.1,1783.3l4.3,-4.3l4.3,4.3l-4.3,4.3zM304,1784.9l4.3,-4.3l4.3,4.3l-4.3,4.3zM307.4,1783.5l4.3,-4.3l4.3,4.3l-4.3,4.3zM312.7,1782.7l4.3,-4.3l4.3,4.3l-4.3,4.3zM317.3,1784.9l4.3,-4.3l4.3,4.3l-4.3,4.3zM322.4,1782.6l4.3,-4.3l4.3,4.3l-4.3,4.3zM327,1783.7l4.3,-4.3l4.3,4.3l-4.3,4.3zM330.6,1783.9l4.3,-4.3l4.3,4.3l-4.3,4.3zM335.2,1784.3l4.3,-4.3l4.3,4.3l-4.3,4.3zM339.8,1784.4l4.3,-4.3l4.3,4.3l-4.3,4.3zM344.1,1782.3l4.3,-4.3l4.3,4.3l-4.3,4.3zM348.9,1782.2l4.3,-4.3l4.3,4.3l-4.3,4.3zM259.5,1787.5l4.3,-4.3l4.3,4.3l-4.3,4.3zM264.3,1786.6l4.3,-4.3l4.3,4.3l-4.3,4.3zM268.6,1785.6l4.3,-4.3l4.3,4.3l-4.3,4.3zM275,1787.8l4.3,-4.3l4.3,4.3l-4.3,4.3zM276.8,1786.1l4.3,-4.3l4.3,4.3l-4.3,4.3zM283.6,1787.1l4.3,-4.3l4.3,4.3l-4.3,4.3zM288.1,1787.9l4.3,-4.3l4.3,4.3l-4.3,4.3zM290.8,1788.1l4.3,-4.3l4.3,4.3l-4.3,4.3zM295.5,1785.9l4.3,-4.3l4.3,4.3l-4.3,4.3zM301.9,1788.1l4.3,-4.3l4.3,4.3l-4.3,4.3zM305.1,1786.7l4.3,-4.3l4.3,4.3l-4.3,4.3zM311.1,1786.4l4.3,-4.3l4.3,4.3l-4.3,4.3zM314.7,1788.6l4.3,-4.3l4.3,4.3l-4.3,4.3zM318.3,1788.5l4.3,-4.3l4.3,4.3l-4.3,4.3zM325.3,1788.6l4.3,-4.3l4.3,4.3l-4.3,4.3zM327.9,1786.1l4.3,-4.3l4.3,4.3l-4.3,4.3zM333.1,1786l4.3,-4.3l4.3,4.3l-4.3,4.3zM339.3,1787.3l4.3,-4.3l4.3,4.3l-4.3,4.3zM343.6,1787l4.3,-4.3l4.3,4.3l-4.3,4.3zM347.1,1788.5l4.3,-4.3l4.3,4.3l-4.3,4.3zM350.5,1786.2l4.3,-4.3l4.3,4.3l-4.3,4.3zM257.7,1789.6l4.3,-4.3l4.3,4.3l-4.3,4.3zM262.5,1791.6l4.3,-4.3l4.3,4.3l-4.3,4.3zM267.5,1790.9l4.3,-4.3l4.3,4.3l-4.3,4.3zM271.4,1789.1l4.3,-4.3l4.3,4.3l-4.3,4.3zM275,1790.4l4.3,-4.3l4.3,4.3l-4.3,4.3zM279,1789.3l4.3,-4.3l4.3,4.3l-4.3,4.3zM286.5,1791.3l4.3,-4.3l4.3,4.3l-4.3,4.3zM289.8,1791.3l4.3,-4.3l4.3,4.3l-4.3,4.3zM295.4,1791.2l4.3,-4.3l4.3,4.3l-4.3,4.3zM298.6,1790.4l4.3,-4.3l4.3,4.3l-4.3,4.3zM304.9,1792.2l4.3,-4.3l4.3,4.3l-4.3,4.3zM306.9,1791.7l4.3,-4.3l4.3,4.3l-4.3,4.3zM313.1,1790.2l4.3,-4.3l4.3,4.3l-4.3,4.3zM317.8,1790l4.3,-4.3l4.3,4.3l-4.3,4.3zM322.6,1790.9l4.3,-4.3l4.3,4.3l-4.3,4.3zM326.7,1789.3l4.3,-4.3l4.3,4.3l-4.3,4.3zM332.3,1792.2l4.3,-4.3l4.3,4.3l-4.3,4.3zM336.4,1790.1l4.3,-4.3l4.3,4.3l-4.3,4.3zM340.9,1789.5l4.3,-4.3l4.3,4.3l-4.3,4.3zM344.9,1790.2l4.3,-4.3l4.3,4.3l-4.3,4.3zM349.3,1790l4.3,-4.3l4.3,4.3l-4.3,4.3zM250.5,1795.4l4.3,-4.3l4.3,4.3l-4.3,4.3zM255.1,1793.4l4.3,-4.3l4.3,4.3l-4.3,4.3zM260.2,1793.7l4.3,-4.3l4.3,4.3l-4.3,4.3zM263.4,1794l4.3,-4.3l4.3,4.3l-4.3,4.3zM268.9,1792.9l4.3,-4.3l4.3,4.3l-4.3,4.3zM273.1,1795.9l4.3,-4.3l4.3,4.3l-4.3,4.3zM278.1,1794l4.3,-4.3l4.3,4.3l-4.3,4.3zM282.6,1795l4.3,-4.3l4.3,4.3l-4.3,4.3zM287.3,1794.1l4.3,-4.3l4.3,4.3l-4.3,4.3zM292.2,1793.7l4.3,-4.3l4.3,4.3l-4.3,4.3zM297.1,1794.2l4.3,-4.3l4.3,4.3l-4.3,4.3zM301.8,1793.9l4.3,-4.3l4.3,4.3l-4.3,4.3zM306.1,1793.4l4.3,-4.3l4.3,4.3l-4.3,4.3zM310.3,1794.4l4.3,-4.3l4.3,4.3l-4.3,4.3zM313.3,1793.2l4.3,-4.3l4.3,4.3l-4.3,4.3zM319.4,1795.3l4.3,-4.3l4.3,4.3l-4.3,4.3zM325.1,1795.5l4.3,-4.3l4.3,4.3l-4.3,4.3zM329.7,1795.9l4.3,-4.3l4.3,4.3l-4.3,4.3zM332.3,1793.3l4.3,-4.3l4.3,4.3l-4.3,4.3zM336.7,1795.3l4.3,-4.3l4.3,4.3l-4.3,4.3zM341.5,1793.8l4.3,-4.3l4.3,4.3l-4.3,4.3zM345.9,1795.7l4.3,-4.3l4.3,4.3l-4.3,4.3zM350.8,1793.5l4.3,-4.3l4.3,4.3l-4.3,4.3zM249.2,1799.4l4.3,-4.3l4.3,4.3l-4.3,4.3zM251.3,1796.6l4.3,-4.3l4.3,4.3l-4.3,4.3zM257.3,1796.7l4.3,-4.3l4.3,4.3l-4.3,4.3zM261.8,1797.6l4.3,-4.3l4.3,4.3l-4.3,4.3zM265.8,1799l4.3,-4.3l4.3,4.3l-4.3,4.3zM271.5,1799.4l4.3,-4.3l4.3,4.3l-4.3,4.3zM274.8,1797.7l4.3,-4.3l4.3,4.3l-4.3,4.3zM280.8,1799l4.3,-4.3l4.3,4.3l-4.3,4.3zM284.8,1797.1l4.3,-4.3l4.3,4.3l-4.3,4.3zM289.2,1798.3l4.3,-4.3l4.3,4.3l-4.3,4.3zM295.7,1798.6l4.3,-4.3l4.3,4.3l-4.3,4.3zM299.9,1799.2l4.3,-4.3l4.3,4.3l-4.3,4.3zM303.2,1798.1l4.3,-4.3l4.3,4.3l-4.3,4.3zM309.1,1798.8l4.3,-4.3l4.3,4.3l-4.3,4.3zM312.3,1797.1l4.3,-4.3l4.3,4.3l-4.3,4.3zM317.9,1797.4l4.3,-4.3l4.3,4.3l-4.3,4.3zM321,1797.3l4.3,-4.3l4.3,4.3l-4.3,4.3zM327,1798.6l4.3,-4.3l4.3,4.3l-4.3,4.3zM332.4,1798.4l4.3,-4.3l4.3,4.3l-4.3,4.3zM335.5,1799.3l4.3,-4.3l4.3,4.3l-4.3,4.3zM339,1798.4l4.3,-4.3l4.3,4.3l-4.3,4.3zM346.4,1797.5l4.3,-4.3l4.3,4.3l-4.3,4.3zM348.3,1796.8l4.3,-4.3l4.3,4.3l-4.3,4.3zM241.2,1800.7l4.3,-4.3l4.3,4.3l-4.3,4.3zM246.6,1801.5l4.3,-4.3l4.3,4.3l-4.3,4.3zM250.1,1802.6l4.3,-4.3l4.3,4.3l-4.3,4.3zM254.4,1800.4l4.3,-4.3l4.3,4.3l-4.3,4.3zM260.2,1802.5l4.3,-4.3l4.3,4.3l-4.3,4.3zM262.9,1801.3l4.3,-4.3l4.3,4.3l-4.3,4.3zM270.1,1801.8l4.3,-4.3l4.3,4.3l-4.3,4.3zM273.2,1800.6l4.3,-4.3l4.3,4.3l-4.3,4.3zM277.4,1802l4.3,-4.3l4.3,4.3l-4.3,4.3zM284,1802.3l4.3,-4.3l4.3,4.3l-4.3,4.3zM288.8,1801.5l4.3,-4.3l4.3,4.3l-4.3,4.3zM290.5,1801.2l4.3,-4.3l4.3,4.3l-4.3,4.3zM296.1,1800.3l4.3,-4.3l4.3,4.3l-4.3,4.3zM299.8,1803.1l4.3,-4.3l4.3,4.3l-4.3,4.3zM307,1800.6l4.3,-4.3l4.3,4.3l-4.3,4.3zM309,1803.3l4.3,-4.3l4.3,4.3l-4.3,4.3zM313.8,1801.1l4.3,-4.3l4.3,4.3l-4.3,4.3zM318.6,1800.8l4.3,-4.3l4.3,4.3l-4.3,4.3zM322.6,1801.6l4.3,-4.3l4.3,4.3l-4.3,4.3zM329.6,1800.4l4.3,-4.3l4.3,4.3l-4.3,4.3zM333.3,1800.6l4.3,-4.3l4.3,4.3l-4.3,4.3zM338.8,1803.1l4.3,-4.3l4.3,4.3l-4.3,4.3zM343.7,1801.9l4.3,-4.3l4.3,4.3l-4.3,4.3zM345.9,1802.5l4.3,-4.3l4.3,4.3l-4.3,4.3zM350.3,1802.6l4.3,-4.3l4.3,4.3l-4.3,4.3zM243.6,1804l4.3,-4.3l4.3,4.3l-4.3,4.3zM248.8,1806.5l4.3,-4.3l4.3,4.3l-4.3,4.3zM254.1,1806.5l4.3,-4.3l4.3,4.3l-4.3,4.3zM257.9,1806.4l4.3,-4.3l4.3,4.3l-4.3,4.3zM261.3,1805.6l4.3,-4.3l4.3,4.3l-4.3,4.3zM265.5,1806.8l4.3,-4.3l4.3,4.3l-4.3,4.3zM271.2,1804.4l4.3,-4.3l4.3,4.3l-4.3,4.3zM277.4,1805.8l4.3,-4.3l4.3,4.3l-4.3,4.3zM279.5,1806.6l4.3,-4.3l4.3,4.3l-4.3,4.3zM285.4,1805.8l4.3,-4.3l4.3,4.3l-4.3,4.3zM290.8,1804.8l4.3,-4.3l4.3,4.3l-4.3,4.3zM293.5,1805.7l4.3,-4.3l4.3,4.3l-4.3,4.3zM297.8,1806.1l4.3,-4.3l4.3,4.3l-4.3,4.3zM303.3,1804.5l4.3,-4.3l4.3,4.3l-4.3,4.3zM306.8,1804.4l4.3,-4.3l4.3,4.3l-4.3,4.3zM312.8,1806.8l4.3,-4.3l4.3,4.3l-4.3,4.3zM318.2,1806.6l4.3,-4.3l4.3,4.3l-4.3,4.3zM322,1806.4l4.3,-4.3l4.3,4.3l-4.3,4.3zM325.9,1805l4.3,-4.3l4.3,4.3l-4.3,4.3zM332.3,1804.7l4.3,-4.3l4.3,4.3l-4.3,4.3zM336,1805.7l4.3,-4.3l4.3,4.3l-4.3,4.3zM338.8,1805.7l4.3,-4.3l4.3,4.3l-4.3,4.3zM345.8,1806.7l4.3,-4.3l4.3,4.3l-4.3,4.3zM349.1,1806.7l4.3,-4.3l4.3,4.3l-4.3,4.3zM242.8,1809l4.3,-4.3l4.3,4.3l-4.3,4.3zM245.1,1807.7l4.3,-4.3l4.3,4.3l-4.3,4.3zM251,1808.5l4.3,-4.3l4.3,4.3l-4.3,4.3zM254.1,1808.9l4.3,-4.3l4.3,4.3l-4.3,4.3zM260.4,1808.6l4.3,-4.3l4.3,4.3l-4.3,4.3zM264.5,1808.1l4.3,-4.3l4.3,4.3l-4.3,4.3zM269.1,1807.6l4.3,-4.3l4.3,4.3l-4.3,4.3zM274.9,1810.5l4.3,-4.3l4.3,4.3l-4.3,4.3zM278.3,1809l4.3,-4.3l4.3,4.3l-4.3,4.3zM282.4,1809.9l4.3,-4.3l4.3,4.3l-4.3,4.3zM287.6,1809.8l4.3,-4.3l4.3,4.3l-4.3,4.3zM291.7,1808.8l4.3,-4.3l4.3,4.3l-4.3,4.3zM297.2,1808.1l4.3,-4.3l4.3,4.3l-4.3,4.3zM300.6,1808.3l4.3,-4.3l4.3,4.3l-4.3,4.3zM304.8,1810.3l4.3,-4.3l4.3,4.3l-4.3,4.3zM309.7,1809.9l4.3,-4.3l4.3,4.3l-4.3,4.3zM313.4,1810.5l4.3,-4.3l4.3,4.3l-4.3,4.3zM319.4,1809.9l4.3,-4.3l4.3,4.3l-4.3,4.3zM322.8,1809.5l4.3,-4.3l4.3,4.3l-4.3,4.3zM329.7,1808.4l4.3,-4.3l4.3,4.3l-4.3,4.3zM332,1808.7l4.3,-4.3l4.3,4.3l-4.3,4.3zM338.8,1810l4.3,-4.3l4.3,4.3l-4.3,4.3zM341.1,1808.6l4.3,-4.3l4.3,4.3l-4.3,4.3zM348.4,1808.4l4.3,-4.3l4.3,4.3l-4.3,4.3zM240.5,1812.8l4.3,-4.3l4.3,4.3l-4.3,4.3zM244.6,1813.8l4.3,-4.3l4.3,4.3l-4.3,4.3zM247.6,1813.2l4.3,-4.3l4.3,4.3l-4.3,4.3zM254.2,1811.3l4.3,-4.3l4.3,4.3l-4.3,4.3zM256.2,1814l4.3,-4.3l4.3,4.3l-4.3,4.3zM262.2,1812.5l4.3,-4.3l4.3,4.3l-4.3,4.3zM267.5,1812.6l4.3,-4.3l4.3,4.3l-4.3,4.3zM270,1812.3l4.3,-4.3l4.3,4.3l-4.3,4.3zM276.6,1813.3l4.3,-4.3l4.3,4.3l-4.3,4.3zM280.4,1811.2l4.3,-4.3l4.3,4.3l-4.3,4.3zM286.6,1811.4l4.3,-4.3l4.3,4.3l-4.3,4.3zM288.9,1813.7l4.3,-4.3l4.3,4.3l-4.3,4.3zM295.6,1813.4l4.3,-4.3l4.3,4.3l-4.3,4.3zM298.4,1813.6l4.3,-4.3l4.3,4.3l-4.3,4.3zM303.9,1813.1l4.3,-4.3l4.3,4.3l-4.3,4.3zM308.9,1813l4.3,-4.3l4.3,4.3l-4.3,4.3zM312.7,1812l4.3,-4.3l4.3,4.3l-4.3,4.3zM318.1,1811.5l4.3,-4.3l4.3,4.3l-4.3,4.3zM320.5,1813.2l4.3,-4.3l4.3,4.3l-4.3,4.3zM324.9,1814l4.3,-4.3l4.3,4.3l-4.3,4.3zM330,1812.7l4.3,-4.3l4.3,4.3l-4.3,4.3zM334.8,1812.7l4.3,-4.3l4.3,4.3l-4.3,4.3zM340.6,1811.8l4.3,-4.3l4.3,4.3l-4.3,4.3zM344.9,1814.3l4.3,-4.3l4.3,4.3l-4.3,4.3zM348.3,1811.9l4.3,-4.3l4.3,4.3l-4.3,4.3zM241.4,1816.1l4.3,-4.3l4.3,4.3l-4.3,4.3zM246.7,1815l4.3,-4.3l4.3,4.3l-4.3,4.3zM251.9,1817.6l4.3,-4.3l4.3,4.3l-4.3,4.3zM254.3,1816.3l4.3,-4.3l4.3,4.3l-4.3,4.3zM258.2,1817.4l4.3,-4.3l4.3,4.3l-4.3,4.3zM265.8,1816.8l4.3,-4.3l4.3,4.3l-4.3,4.3zM270.4,1816.4l4.3,-4.3l4.3,4.3l-4.3,4.3zM274.7,1817.6l4.3,-4.3l4.3,4.3l-4.3,4.3zM279.5,1816.3l4.3,-4.3l4.3,4.3l-4.3,4.3zM282.7,1815l4.3,-4.3l4.3,4.3l-4.3,4.3zM288.8,1815.2l4.3,-4.3l4.3,4.3l-4.3,4.3zM292.2,1816.8l4.3,-4.3l4.3,4.3l-4.3,4.3zM295.5,1816l4.3,-4.3l4.3,4.3l-4.3,4.3zM300.5,1814.9l4.3,-4.3l4.3,4.3l-4.3,4.3zM305.4,1816.1l4.3,-4.3l4.3,4.3l-4.3,4.3zM311,1817.1l4.3,-4.3l4.3,4.3l-4.3,4.3zM316.3,1817.7l4.3,-4.3l4.3,4.3l-4.3,4.3zM318.7,1816.8l4.3,-4.3l4.3,4.3l-4.3,4.3zM324.7,1817.4l4.3,-4.3l4.3,4.3l-4.3,4.3zM327.5,1815.9l4.3,-4.3l4.3,4.3l-4.3,4.3zM333.7,1815.9l4.3,-4.3l4.3,4.3l-4.3,4.3zM339.2,1816.2l4.3,-4.3l4.3,4.3l-4.3,4.3zM343.2,1815.1l4.3,-4.3l4.3,4.3l-4.3,4.3zM348.4,1818l4.3,-4.3l4.3,4.3l-4.3,4.3zM239.7,1820.6l4.3,-4.3l4.3,4.3l-4.3,4.3zM243.8,1820.2l4.3,-4.3l4.3,4.3l-4.3,4.3zM246.7,1819.2l4.3,-4.3l4.3,4.3l-4.3,4.3zM253.4,1819.9l4.3,-4.3l4.3,4.3l-4.3,4.3zM257.2,1821.3l4.3,-4.3l4.3,4.3l-4.3,4.3zM261.6,1820.9l4.3,-4.3l4.3,4.3l-4.3,4.3zM267.6,1821.2l4.3,-4.3l4.3,4.3l-4.3,4.3zM270.3,1820.5l4.3,-4.3l4.3,4.3l-4.3,4.3zM275.7,1820.4l4.3,-4.3l4.3,4.3l-4.3,4.3zM279.1,1819.2l4.3,-4.3l4.3,4.3l-4.3,4.3zM284.2,1821.1l4.3,-4.3l4.3,4.3l-4.3,4.3zM290.5,1819.8l4.3,-4.3l4.3,4.3l-4.3,4.3zM294.5,1820l4.3,-4.3l4.3,4.3l-4.3,4.3zM298.9,1819.4l4.3,-4.3l4.3,4.3l-4.3,4.3zM302.9,1821.6l4.3,-4.3l4.3,4.3l-4.3,4.3zM309.2,1818.9l4.3,-4.3l4.3,4.3l-4.3,4.3zM311.4,1821.3l4.3,-4.3l4.3,4.3l-4.3,4.3zM317,1820.6l4.3,-4.3l4.3,4.3l-4.3,4.3zM322.1,1820.5l4.3,-4.3l4.3,4.3l-4.3,4.3zM327.7,1819l4.3,-4.3l4.3,4.3l-4.3,4.3zM332.2,1819.4l4.3,-4.3l4.3,4.3l-4.3,4.3zM334.2,1819.5l4.3,-4.3l4.3,4.3l-4.3,4.3zM340.2,1821.1l4.3,-4.3l4.3,4.3l-4.3,4.3zM345.1,1821.7l4.3,-4.3l4.3,4.3l-4.3,4.3zM348.4,1819.8l4.3,-4.3l4.3,4.3l-4.3,4.3zM238.1,1822.9l4.3,-4.3l4.3,4.3l-4.3,4.3zM242.8,1824.7l4.3,-4.3l4.3,4.3l-4.3,4.3zM247.1,1822.5l4.3,-4.3l4.3,4.3l-4.3,4.3zM252.1,1824.3l4.3,-4.3l4.3,4.3l-4.3,4.3zM255.4,1824.1l4.3,-4.3l4.3,4.3l-4.3,4.3zM259.5,1825.3l4.3,-4.3l4.3,4.3l-4.3,4.3zM265.8,1825.3l4.3,-4.3l4.3,4.3l-4.3,4.3zM267.7,1823.9l4.3,-4.3l4.3,4.3l-4.3,4.3zM274.1,1822.8l4.3,-4.3l4.3,4.3l-4.3,4.3zM279.4,1824.7l4.3,-4.3l4.3,4.3l-4.3,4.3zM281.5,1823.2l4.3,-4.3l4.3,4.3l-4.3,4.3zM287.9,1825.1l4.3,-4.3l4.3,4.3l-4.3,4.3zM293.5,1823.1l4.3,-4.3l4.3,4.3l-4.3,4.3zM297.6,1824.1l4.3,-4.3l4.3,4.3l-4.3,4.3zM300.7,1823l4.3,-4.3l4.3,4.3l-4.3,4.3zM304.4,1822.3l4.3,-4.3l4.3,4.3l-4.3,4.3zM310.1,1822.6l4.3,-4.3l4.3,4.3l-4.3,4.3zM313.9,1823.3l4.3,-4.3l4.3,4.3l-4.3,4.3zM318.3,1822.9l4.3,-4.3l4.3,4.3l-4.3,4.3zM323.3,1825.4l4.3,-4.3l4.3,4.3l-4.3,4.3zM328.5,1824.2l4.3,-4.3l4.3,4.3l-4.3,4.3zM333.4,1825.3l4.3,-4.3l4.3,4.3l-4.3,4.3zM338.9,1825.2l4.3,-4.3l4.3,4.3l-4.3,4.3zM343.7,1824.6l4.3,-4.3l4.3,4.3l-4.3,4.3zM348.3,1823.3l4.3,-4.3l4.3,4.3l-4.3,4.3zM231.2,1828l4.3,-4.3l4.3,4.3l-4.3,4.3zM235.9,1826.7l4.3,-4.3l4.3,4.3l-4.3,4.3zM240.2,1828.3l4.3,-4.3l4.3,4.3l-4.3,4.3zM243.8,1827.8l4.3,-4.3l4.3,4.3l-4.3,4.3zM247.1,1826l4.3,-4.3l4.3,4.3l-4.3,4.3zM251.3,1828.8l4.3,-4.3l4.3,4.3l-4.3,4.3zM257.1,1827.8l4.3,-4.3l4.3,4.3l-4.3,4.3zM261.8,1828.7l4.3,-4.3l4.3,4.3l-4.3,4.3zM267.4,1827.1l4.3,-4.3l4.3,4.3l-4.3,4.3zM271.6,1826.6l4.3,-4.3l4.3,4.3l-4.3,4.3zM277.2,1826.4l4.3,-4.3l4.3,4.3l-4.3,4.3zM281.7,1827.6l4.3,-4.3l4.3,4.3l-4.3,4.3zM283.9,1829.1l4.3,-4.3l4.3,4.3l-4.3,4.3zM288.6,1828.1l4.3,-4.3l4.3,4.3l-4.3,4.3zM293.4,1826.3l4.3,-4.3l4.3,4.3l-4.3,4.3zM299.7,1828.8l4.3,-4.3l4.3,4.3l-4.3,4.3zM304.7,1828.1l4.3,-4.3l4.3,4.3l-4.3,4.3zM308.5,1826.4l4.3,-4.3l4.3,4.3l-4.3,4.3zM314.2,1827l4.3,-4.3l4.3,4.3l-4.3,4.3zM317.6,1826l4.3,-4.3l4.3,4.3l-4.3,4.3zM321.2,1827.6l4.3,-4.3l4.3,4.3l-4.3,4.3zM326.3,1827.2l4.3,-4.3l4.3,4.3l-4.3,4.3zM330.6,1826l4.3,-4.3l4.3,4.3l-4.3,4.3zM336.1,1827.1l4.3,-4.3l4.3,4.3l-4.3,4.3zM339,1827.1l4.3,-4.3l4.3,4.3l-4.3,4.3zM345.3,1828.3l4.3,-4.3l4.3,4.3l-4.3,4.3zM226.8,1832.6l4.3,-4.3l4.3,4.3l-4.3,4.3zM233.6,1832l4.3,-4.3l4.3,4.3l-4.3,4.3zM236.8,1832.7l4.3,-4.3l4.3,4.3l-4.3,4.3zM242,1830.3l4.3,-4.3l4.3,4.3l-4.3,4.3zM244.7,1830.1l4.3,-4.3l4.3,4.3l-4.3,4.3zM249.2,1830.8l4.3,-4.3l4.3,4.3l-4.3,4.3zM255.4,1830.3l4.3,-4.3l4.3,4.3l-4.3,4.3zM258.4,1830.7l4.3,-4.3l4.3,4.3l-4.3,4.3zM264.2,1832.4l4.3,-4.3l4.3,4.3l-4.3,4.3zM270.2,1832.2l4.3,-4.3l4.3,4.3l-4.3,4.3zM272.7,1832.2l4.3,-4.3l4.3,4.3l-4.3,4.3zM277.4,1831.5l4.3,-4.3l4.3,4.3l-4.3,4.3zM282.8,1830.3l4.3,-4.3l4.3,4.3l-4.3,4.3zM287.4,1830.4l4.3,-4.3l4.3,4.3l-4.3,4.3zM292.9,1830.3l4.3,-4.3l4.3,4.3l-4.3,4.3zM297.4,1830.2l4.3,-4.3l4.3,4.3l-4.3,4.3zM299.5,1831l4.3,-4.3l4.3,4.3l-4.3,4.3zM306.9,1831.6l4.3,-4.3l4.3,4.3l-4.3,4.3zM309.5,1831.2l4.3,-4.3l4.3,4.3l-4.3,4.3zM314.4,1831.7l4.3,-4.3l4.3,4.3l-4.3,4.3zM318.8,1830.1l4.3,-4.3l4.3,4.3l-4.3,4.3zM325.7,1829.7l4.3,-4.3l4.3,4.3l-4.3,4.3zM327.5,1830.6l4.3,-4.3l4.3,4.3l-4.3,4.3zM332.8,1831.4l4.3,-4.3l4.3,4.3l-4.3,4.3zM337.9,1830.1l4.3,-4.3l4.3,4.3l-4.3,4.3zM343.6,1831.9l4.3,-4.3l4.3,4.3l-4.3,4.3zM346.1,1830.1l4.3,-4.3l4.3,4.3l-4.3,4.3zM219.9,1834.5l4.3,-4.3l4.3,4.3l-4.3,4.3zM225.8,1836.3l4.3,-4.3l4.3,4.3l-4.3,4.3zM228.4,1835.2l4.3,-4.3l4.3,4.3l-4.3,4.3zM234.9,1833.7l4.3,-4.3l4.3,4.3l-4.3,4.3zM237.7,1834.3l4.3,-4.3l4.3,4.3l-4.3,4.3zM243.1,1835.5l4.3,-4.3l4.3,4.3l-4.3,4.3zM249.7,1835.4l4.3,-4.3l4.3,4.3l-4.3,4.3zM252.6,1836.5l4.3,-4.3l4.3,4.3l-4.3,4.3zM258.8,1834.7l4.3,-4.3l4.3,4.3l-4.3,4.3zM261.9,1834.9l4.3,-4.3l4.3,4.3l-4.3,4.3zM265.3,1835.3l4.3,-4.3l4.3,4.3l-4.3,4.3zM271.9,1834.8l4.3,-4.3l4.3,4.3l-4.3,4.3zM276.1,1836.2l4.3,-4.3l4.3,4.3l-4.3,4.3zM280.8,1835.5l4.3,-4.3l4.3,4.3l-4.3,4.3zM286.2,1835.6l4.3,-4.3l4.3,4.3l-4.3,4.3zM289.5,1836.4l4.3,-4.3l4.3,4.3l-4.3,4.3zM295.6,1833.5l4.3,-4.3l4.3,4.3l-4.3,4.3zM300.4,1833.8l4.3,-4.3l4.3,4.3l-4.3,4.3zM304.6,1835.3l4.3,-4.3l4.3,4.3l-4.3,4.3zM308.9,1834.4l4.3,-4.3l4.3,4.3l-4.3,4.3zM311.9,1833.8l4.3,-4.3l4.3,4.3l-4.3,4.3zM316,1833.6l4.3,-4.3l4.3,4.3l-4.3,4.3zM320.7,1835.9l4.3,-4.3l4.3,4.3l-4.3,4.3zM326.5,1836l4.3,-4.3l4.3,4.3l-4.3,4.3zM332.6,1834.7l4.3,-4.3l4.3,4.3l-4.3,4.3zM334.6,1836.2l4.3,-4.3l4.3,4.3l-4.3,4.3zM339,1834.9l4.3,-4.3l4.3,4.3l-4.3,4.3zM218.6,1839.3l4.3,-4.3l4.3,4.3l-4.3,4.3zM223.3,1837l4.3,-4.3l4.3,4.3l-4.3,4.3zM226.2,1839l4.3,-4.3l4.3,4.3l-4.3,4.3zM233,1839l4.3,-4.3l4.3,4.3l-4.3,4.3zM238.3,1839.2l4.3,-4.3l4.3,4.3l-4.3,4.3zM241.1,1840l4.3,-4.3l4.3,4.3l-4.3,4.3zM245.1,1837.3l4.3,-4.3l4.3,4.3l-4.3,4.3zM250.1,1837l4.3,-4.3l4.3,4.3l-4.3,4.3zM255.3,1838.7l4.3,-4.3l4.3,4.3l-4.3,4.3zM258.7,1838.9l4.3,-4.3l4.3,4.3l-4.3,4.3zM264.2,1839.2l4.3,-4.3l4.3,4.3l-4.3,4.3zM269.8,1839.5l4.3,-4.3l4.3,4.3l-4.3,4.3zM274.1,1837.3l4.3,-4.3l4.3,4.3l-4.3,4.3zM278.3,1839.1l4.3,-4.3l4.3,4.3l-4.3,4.3zM281.7,1838.1l4.3,-4.3l4.3,4.3l-4.3,4.3zM287.4,1837.8l4.3,-4.3l4.3,4.3l-4.3,4.3zM290.6,1837.9l4.3,-4.3l4.3,4.3l-4.3,4.3zM296.2,1839.4l4.3,-4.3l4.3,4.3l-4.3,4.3zM302.7,1839.7l4.3,-4.3l4.3,4.3l-4.3,4.3zM307,1840.1l4.3,-4.3l4.3,4.3l-4.3,4.3zM310.3,1838.9l4.3,-4.3l4.3,4.3l-4.3,4.3zM313.4,1839.3l4.3,-4.3l4.3,4.3l-4.3,4.3zM320.6,1838.1l4.3,-4.3l4.3,4.3l-4.3,4.3zM324.5,1837.3l4.3,-4.3l4.3,4.3l-4.3,4.3zM330.1,1838.3l4.3,-4.3l4.3,4.3l-4.3,4.3zM333.2,1837.7l4.3,-4.3l4.3,4.3l-4.3,4.3zM220.8,1843.6l4.3,-4.3l4.3,4.3l-4.3,4.3zM225.3,1842.6l4.3,-4.3l4.3,4.3l-4.3,4.3zM231.2,1842l4.3,-4.3l4.3,4.3l-4.3,4.3zM233.8,1843.7l4.3,-4.3l4.3,4.3l-4.3,4.3zM240.6,1841l4.3,-4.3l4.3,4.3l-4.3,4.3zM244.8,1843.1l4.3,-4.3l4.3,4.3l-4.3,4.3zM247.3,1841.4l4.3,-4.3l4.3,4.3l-4.3,4.3zM251.4,1843.3l4.3,-4.3l4.3,4.3l-4.3,4.3zM256.1,1843.3l4.3,-4.3l4.3,4.3l-4.3,4.3zM263,1843.8l4.3,-4.3l4.3,4.3l-4.3,4.3zM265.4,1843.2l4.3,-4.3l4.3,4.3l-4.3,4.3zM269.9,1841l4.3,-4.3l4.3,4.3l-4.3,4.3zM276.9,1841.1l4.3,-4.3l4.3,4.3l-4.3,4.3zM281.2,1843.8l4.3,-4.3l4.3,4.3l-4.3,4.3zM284.9,1842l4.3,-4.3l4.3,4.3l-4.3,4.3zM290.9,1842.7l4.3,-4.3l4.3,4.3l-4.3,4.3zM295.8,1842.9l4.3,-4.3l4.3,4.3l-4.3,4.3zM298.6,1840.8l4.3,-4.3l4.3,4.3l-4.3,4.3zM304.7,1843.1l4.3,-4.3l4.3,4.3l-4.3,4.3zM306.8,1842.9l4.3,-4.3l4.3,4.3l-4.3,4.3zM311.9,1842l4.3,-4.3l4.3,4.3l-4.3,4.3zM316.1,1840.9l4.3,-4.3l4.3,4.3l-4.3,4.3zM321.7,1842.9l4.3,-4.3l4.3,4.3l-4.3,4.3zM332.3,1843l4.3,-4.3l4.3,4.3l-4.3,4.3zM217.4,1845.7l4.3,-4.3l4.3,4.3l-4.3,4.3zM222.8,1845.8l4.3,-4.3l4.3,4.3l-4.3,4.3zM227,1846.3l4.3,-4.3l4.3,4.3l-4.3,4.3zM233.5,1844.8l4.3,-4.3l4.3,4.3l-4.3,4.3zM236.5,1847.5l4.3,-4.3l4.3,4.3l-4.3,4.3zM239.7,1846.5l4.3,-4.3l4.3,4.3l-4.3,4.3zM245.5,1845.9l4.3,-4.3l4.3,4.3l-4.3,4.3zM251.2,1845.1l4.3,-4.3l4.3,4.3l-4.3,4.3zM253.7,1846.4l4.3,-4.3l4.3,4.3l-4.3,4.3zM261.3,1845.8l4.3,-4.3l4.3,4.3l-4.3,4.3zM265.7,1846l4.3,-4.3l4.3,4.3l-4.3,4.3zM269.5,1846.4l4.3,-4.3l4.3,4.3l-4.3,4.3zM274.4,1846.4l4.3,-4.3l4.3,4.3l-4.3,4.3zM278.7,1846.6l4.3,-4.3l4.3,4.3l-4.3,4.3zM281.9,1847.2l4.3,-4.3l4.3,4.3l-4.3,4.3zM216.6,1848.9l4.3,-4.3l4.3,4.3l-4.3,4.3zM220.8,1850.3l4.3,-4.3l4.3,4.3l-4.3,4.3zM224.1,1849l4.3,-4.3l4.3,4.3l-4.3,4.3zM230.5,1850.2l4.3,-4.3l4.3,4.3l-4.3,4.3zM235.7,1848.1l4.3,-4.3l4.3,4.3l-4.3,4.3zM238.6,1849.1l4.3,-4.3l4.3,4.3l-4.3,4.3zM244.8,1849.6l4.3,-4.3l4.3,4.3l-4.3,4.3zM247.6,1848.5l4.3,-4.3l4.3,4.3l-4.3,4.3zM252.6,1849.1l4.3,-4.3l4.3,4.3l-4.3,4.3zM255.9,1850l4.3,-4.3l4.3,4.3l-4.3,4.3zM263.3,1849.3l4.3,-4.3l4.3,4.3l-4.3,4.3zM266.4,1850.8l4.3,-4.3l4.3,4.3l-4.3,4.3zM272.7,1851.1l4.3,-4.3l4.3,4.3l-4.3,4.3zM276.6,1848.6l4.3,-4.3l4.3,4.3l-4.3,4.3zM280,1849.1l4.3,-4.3l4.3,4.3l-4.3,4.3zM217.1,1852.7l4.3,-4.3l4.3,4.3l-4.3,4.3zM223,1854.2l4.3,-4.3l4.3,4.3l-4.3,4.3zM227.1,1854.5l4.3,-4.3l4.3,4.3l-4.3,4.3zM232.1,1854.8l4.3,-4.3l4.3,4.3l-4.3,4.3zM236.2,1852.7l4.3,-4.3l4.3,4.3l-4.3,4.3zM240.2,1854.2l4.3,-4.3l4.3,4.3l-4.3,4.3zM246.2,1854.7l4.3,-4.3l4.3,4.3l-4.3,4.3zM250.5,1854.1l4.3,-4.3l4.3,4.3l-4.3,4.3zM254,1854.7l4.3,-4.3l4.3,4.3l-4.3,4.3zM258.3,1852.3l4.3,-4.3l4.3,4.3l-4.3,4.3zM265.9,1851.9l4.3,-4.3l4.3,4.3l-4.3,4.3zM270.4,1854.9l4.3,-4.3l4.3,4.3l-4.3,4.3zM272.1,1853l4.3,-4.3l4.3,4.3l-4.3,4.3zM279,1854.8l4.3,-4.3l4.3,4.3l-4.3,4.3zM282.8,1854.6l4.3,-4.3l4.3,4.3l-4.3,4.3zM216.8,1856.2l4.3,-4.3l4.3,4.3l-4.3,4.3zM220.9,1856.9l4.3,-4.3l4.3,4.3l-4.3,4.3zM226.4,1857.3l4.3,-4.3l4.3,4.3l-4.3,4.3zM229.5,1857.7l4.3,-4.3l4.3,4.3l-4.3,4.3zM235.3,1857.4l4.3,-4.3l4.3,4.3l-4.3,4.3zM238.6,1857.5l4.3,-4.3l4.3,4.3l-4.3,4.3zM243.8,1855.7l4.3,-4.3l4.3,4.3l-4.3,4.3zM247.5,1855.8l4.3,-4.3l4.3,4.3l-4.3,4.3zM252.8,1855.7l4.3,-4.3l4.3,4.3l-4.3,4.3zM258.3,1857.3l4.3,-4.3l4.3,4.3l-4.3,4.3zM260.8,1857.6l4.3,-4.3l4.3,4.3l-4.3,4.3zM267.5,1855.5l4.3,-4.3l4.3,4.3l-4.3,4.3zM272,1856.9l4.3,-4.3l4.3,4.3l-4.3,4.3zM280.8,1857.9l4.3,-4.3l4.3,4.3l-4.3,4.3zM284,1857.7l4.3,-4.3l4.3,4.3l-4.3,4.3zM337.8,1598L342.1,1593.8L346.4,1598L342.1,1602.2ZM333.8,1603L338.1,1598.8L342.4,1603L338.1,1607.2ZM339.8,1608L344.1,1603.8L348.4,1608L344.1,1612.2ZM345.8,1604L350.1,1599.8L354.4,1604L350.1,1608.2ZM343.8,1609L348.1,1604.8L352.4,1609L348.1,1613.2ZM359.8,1608L364.1,1603.8L368.4,1608L364.1,1612.2ZM366.8,1603L371.1,1598.8L375.4,1603L371.1,1607.2ZM365.8,1608.5L370.1,1604.3L374.4,1608.5L370.1,1612.7ZM378.8,1608L383.1,1603.8L387.4,1608L383.1,1612.2ZM406.9,1599L411.2,1594.8L415.5,1599L411.2,1603.2ZM378.8,1618L383.1,1613.8L387.4,1618L383.1,1622.2ZM387.9,1618L392.2,1613.8L396.5,1618L392.2,1622.2ZM398.9,1618L403.2,1613.8L407.5,1618L403.2,1622.2ZM373.8,1627.6L378.1,1623.4L382.4,1627.6L378.1,1631.8ZM378.8,1623L383.1,1618.8L387.4,1623L383.1,1627.2ZM381.8,1633.6L386.1,1629.4L390.4,1633.6L386.1,1637.8ZM392.9,1627.6L397.2,1623.4L401.5,1627.6L397.2,1631.8ZM395.9,1633.1L400.2,1628.9L404.5,1633.1L400.2,1637.3ZM392.4,1638.6L396.7,1634.4L401,1638.6L396.7,1642.8ZM403.9,1627.1L408.2,1622.9L412.5,1627.1L408.2,1631.3ZM406.9,1622.1L411.2,1617.9L415.5,1622.1L411.2,1626.3ZM412.9,1623.1L417.2,1618.9L421.5,1623.1L417.2,1627.3ZM424,1623L428.3,1618.8L432.6,1623L428.3,1627.2ZM435.5,1603.8L439.8,1599.6L444.1,1603.8L439.8,1608ZM447,1599.2L451.3,1595L455.6,1599.2L451.3,1603.4ZM461.6,1603.8L465.9,1599.6L470.2,1603.8L465.9,1608ZM447,1623L451.3,1618.8L455.6,1623L451.3,1627.2ZM453.1,1619.1L457.4,1614.9L461.7,1619.1L457.4,1623.3ZM456.2,1623L460.5,1618.8L464.8,1623L460.5,1627.2ZM451.6,1627.6L455.9,1623.4L460.2,1627.6L455.9,1631.8ZM468.5,1623L472.8,1618.8L477.1,1623L472.8,1627.2ZM474.6,1623L478.9,1618.8L483.2,1623L478.9,1627.2ZM516.4,1623.4L520.7,1619.2L525,1623.4L520.7,1627.6ZM287.8,1672.3L292.1,1668.1L296.4,1672.3L292.1,1676.5ZM293.7,1692L298,1687.8L302.3,1692L298,1696.2ZM315.7,1697L320,1692.8L324.3,1697L320,1701.2ZM296.3,1719.9L300.6,1715.7L304.9,1719.9L300.6,1724.1ZM300.9,1719.9L305.2,1715.7L309.5,1719.9L305.2,1724.1ZM251,1789L255.3,1784.8L259.6,1789L255.3,1793.2ZM259.4,1789L263.7,1784.8L268,1789L263.7,1793.2ZM224.1,1832L228.4,1827.8L232.7,1832L228.4,1836.2ZM311.7,1662L316,1657.8L320.3,1662L316,1666.2ZM329.7,1666L334,1661.8L338.3,1666L334,1670.2ZM345.1,1662L349.4,1657.8L353.7,1662L349.4,1666.2ZM364.9,1666L369.2,1661.8L373.5,1666L369.2,1670.2ZM311.7,1684L316,1679.8L320.3,1684L316,1688.2ZM366.9,1789L371.2,1784.8L375.5,1789L371.2,1793.2ZM376.1,1789L380.4,1784.8L384.7,1789L380.4,1793.2ZM371.5,1798.2L375.8,1794L380.1,1798.2L375.8,1802.4ZM359.7,1805L364,1800.8L368.3,1805L364,1809.2ZM359.7,1811L364,1806.8L368.3,1811L364,1815.2ZM366.7,1812L371,1807.8L375.3,1812L371,1816.2ZM382.7,1806L387,1801.8L391.3,1806L387,1810.2ZM376.7,1812L381,1807.8L385.3,1812L381,1816.2ZM411.4,1822.8L415.7,1818.6L420,1822.8L415.7,1827ZM432.9,1822.8L437.2,1818.6L441.5,1822.8L437.2,1827ZM422.2,1836.6L426.5,1832.4L430.8,1836.6L426.5,1840.8ZM424.5,1832L428.8,1827.8L433.1,1832L428.8,1836.2ZM386.9,1838.1L391.2,1833.9L395.5,1838.1L391.2,1842.3ZM359.2,1852L363.5,1847.8L367.8,1852L363.5,1856.2ZM368.4,1852L372.7,1847.8L377,1852L372.7,1856.2ZM374.6,1855L378.9,1850.8L383.2,1855L378.9,1859.2ZM380.7,1857.3L385,1853.1L389.3,1857.3L385,1861.5ZM460.3,1817.6L464.6,1813.4L468.9,1817.6L464.6,1821.8ZM428.2,1836.4L432.5,1832.2L436.8,1836.4L432.5,1840.6ZM396.2,1748L400.5,1743.8L404.8,1748L400.5,1752.2ZM400.2,1756L404.5,1751.8L408.8,1756L404.5,1760.2ZM380.2,1780.3L384.5,1776.1L388.8,1780.3L384.5,1784.5ZM295.7,1679L300,1674.8L322,1674.8L326.3,1679L322,1683.2L300,1683.2ZM304.7,1692L309,1687.8L315,1687.8L319.3,1692L315,1696.2L309,1696.2ZM384.7,1813.5L389,1809.3L410,1809.3L414.3,1813.5L410,1817.7L389,1817.7ZM374.7,1831L379,1826.8L396,1826.8L400.3,1831L396,1835.2L379,1835.2Z" fill="#000" clip-path="url(#cB3)"/>
<polygon points="343,1690 350,1690 356,1720 353,1721" fill="#fff"/>
<polygon points="370,1684 384,1683 381,1694 374,1700" fill="#fff"/>
<line x1="176.2" y1="1894.5" x2="552.8" y2="1581.9" stroke="#0000ff" stroke-width="1.6" clip-path="url(#cB3)"/>
<rect x="795.1" y="1577" width="496.2" height="316" fill="none" stroke="#000" stroke-width="1.5"/>
<line x1="785.1" y1="1881.6" x2="795.1" y2="1881.6" stroke="#000" stroke-width="1.5"/>
<text x="770.3" y="1881.6" font-size="18" text-anchor="middle" transform="rotate(-90 770.3 1881.6)">-30</text>
<line x1="785.1" y1="1832.8" x2="795.1" y2="1832.8" stroke="#000" stroke-width="1.5"/>
<text x="770.3" y="1832.8" font-size="18" text-anchor="middle" transform="rotate(-90 770.3 1832.8)">-20</text>
<line x1="785.1" y1="1783.9" x2="795.1" y2="1783.9" stroke="#000" stroke-width="1.5"/>
<text x="770.3" y="1783.9" font-size="18" text-anchor="middle" transform="rotate(-90 770.3 1783.9)">-10</text>
<line x1="785.1" y1="1735" x2="795.1" y2="1735" stroke="#000" stroke-width="1.5"/>
<text x="770.3" y="1735" font-size="18" text-anchor="middle" transform="rotate(-90 770.3 1735)">0</text>
<line x1="785.1" y1="1686.1" x2="795.1" y2="1686.1" stroke="#000" stroke-width="1.5"/>
<text x="770.3" y="1686.1" font-size="18" text-anchor="middle" transform="rotate(-90 770.3 1686.1)">10</text>
<line x1="785.1" y1="1637.2" x2="795.1" y2="1637.2" stroke="#000" stroke-width="1.5"/>
<text x="770.3" y="1637.2" font-size="18" text-anchor="middle" transform="rotate(-90 770.3 1637.2)">20</text>
<line x1="785.1" y1="1588.4" x2="795.1" y2="1588.4" stroke="#000" stroke-width="1.5"/>
<text x="770.3" y="1588.4" font-size="18" text-anchor="middle" transform="rotate(-90 770.3 1588.4)">30</text>
<line x1="814.4" y1="1893" x2="814.4" y2="1904" stroke="#000" stroke-width="1.5"/>
<text x="814.4" y="1933" font-size="18" text-anchor="middle">50</text>
<line x1="890.8" y1="1893" x2="890.8" y2="1904" stroke="#000" stroke-width="1.5"/>
<text x="890.8" y="1933" font-size="18" text-anchor="middle">60</text>
<line x1="967.3" y1="1893" x2="967.3" y2="1904" stroke="#000" stroke-width="1.5"/>
<text x="967.3" y="1933" font-size="18" text-anchor="middle">70</text>
<line x1="1043.7" y1="1893" x2="1043.7" y2="1904" stroke="#000" stroke-width="1.5"/>
<text x="1043.7" y="1933" font-size="18" text-anchor="middle">80</text>
<line x1="1120.1" y1="1893" x2="1120.1" y2="1904" stroke="#000" stroke-width="1.5"/>
<text x="1120.1" y="1933" font-size="18" text-anchor="middle">90</text>
<line x1="1196.5" y1="1893" x2="1196.5" y2="1904" stroke="#000" stroke-width="1.5"/>
<text x="1196.5" y="1933" font-size="18" text-anchor="middle">100</text>
<line x1="1273" y1="1893" x2="1273" y2="1904" stroke="#000" stroke-width="1.5"/>
<text x="1273" y="1933" font-size="18" text-anchor="middle">110</text>
<line x1="800" y1="1735.4" x2="1286.8" y2="1735.4" stroke="#333" stroke-width="1.7" stroke-dasharray="7,4.5"/>
<line x1="795.1" y1="1723.5" x2="800" y2="1735.2" stroke="#000" stroke-width="1.2"/>
<path d="M943.4,1631.6l4.3,-4.3l4.3,4.3l-4.3,4.3zM926.4,1634.1l4.3,-4.3l4.3,4.3l-4.3,4.3zM942.1,1635.4l4.3,-4.3l4.3,4.3l-4.3,4.3zM947.9,1635.2l4.3,-4.3l4.3,4.3l-4.3,4.3zM952.3,1633.1l4.3,-4.3l4.3,4.3l-4.3,4.3zM959.1,1633.5l4.3,-4.3l4.3,4.3l-4.3,4.3zM924.1,1639.4l4.3,-4.3l4.3,4.3l-4.3,4.3zM930.9,1638.9l4.3,-4.3l4.3,4.3l-4.3,4.3zM938.5,1638.7l4.3,-4.3l4.3,4.3l-4.3,4.3zM941.8,1637.5l4.3,-4.3l4.3,4.3l-4.3,4.3zM947.6,1640.6l4.3,-4.3l4.3,4.3l-4.3,4.3zM956,1641l4.3,-4.3l4.3,4.3l-4.3,4.3zM962.2,1637.1l4.3,-4.3l4.3,4.3l-4.3,4.3zM968.1,1640.3l4.3,-4.3l4.3,4.3l-4.3,4.3zM923.3,1645.5l4.3,-4.3l4.3,4.3l-4.3,4.3zM929,1645.2l4.3,-4.3l4.3,4.3l-4.3,4.3zM932.4,1645.8l4.3,-4.3l4.3,4.3l-4.3,4.3zM941.4,1644.3l4.3,-4.3l4.3,4.3l-4.3,4.3zM948.1,1645.5l4.3,-4.3l4.3,4.3l-4.3,4.3zM950.7,1645.2l4.3,-4.3l4.3,4.3l-4.3,4.3zM959.5,1642.6l4.3,-4.3l4.3,4.3l-4.3,4.3zM965.4,1644.3l4.3,-4.3l4.3,4.3l-4.3,4.3zM969.1,1645.2l4.3,-4.3l4.3,4.3l-4.3,4.3zM974.9,1644.4l4.3,-4.3l4.3,4.3l-4.3,4.3zM915.1,1650.5l4.3,-4.3l4.3,4.3l-4.3,4.3zM919.2,1649.3l4.3,-4.3l4.3,4.3l-4.3,4.3zM927.2,1648l4.3,-4.3l4.3,4.3l-4.3,4.3zM929.7,1647.6l4.3,-4.3l4.3,4.3l-4.3,4.3zM936.1,1649.4l4.3,-4.3l4.3,4.3l-4.3,4.3zM942.9,1648.1l4.3,-4.3l4.3,4.3l-4.3,4.3zM950.6,1647.6l4.3,-4.3l4.3,4.3l-4.3,4.3zM956.7,1649.3l4.3,-4.3l4.3,4.3l-4.3,4.3zM961,1650.1l4.3,-4.3l4.3,4.3l-4.3,4.3zM966.7,1650.3l4.3,-4.3l4.3,4.3l-4.3,4.3zM910.2,1653.1l4.3,-4.3l4.3,4.3l-4.3,4.3zM916.5,1651.6l4.3,-4.3l4.3,4.3l-4.3,4.3zM920.8,1655.6l4.3,-4.3l4.3,4.3l-4.3,4.3zM926.8,1655.3l4.3,-4.3l4.3,4.3l-4.3,4.3zM935.2,1655.2l4.3,-4.3l4.3,4.3l-4.3,4.3zM938.6,1652.7l4.3,-4.3l4.3,4.3l-4.3,4.3zM947.7,1651.4l4.3,-4.3l4.3,4.3l-4.3,4.3zM950.7,1652.9l4.3,-4.3l4.3,4.3l-4.3,4.3zM957,1652l4.3,-4.3l4.3,4.3l-4.3,4.3zM965.1,1651.8l4.3,-4.3l4.3,4.3l-4.3,4.3zM906.2,1659.7l4.3,-4.3l4.3,4.3l-4.3,4.3zM914.2,1657.4l4.3,-4.3l4.3,4.3l-4.3,4.3zM921.1,1658.6l4.3,-4.3l4.3,4.3l-4.3,4.3zM925,1657.9l4.3,-4.3l4.3,4.3l-4.3,4.3zM932.3,1658.1l4.3,-4.3l4.3,4.3l-4.3,4.3zM938.1,1656.7l4.3,-4.3l4.3,4.3l-4.3,4.3zM944.2,1657.3l4.3,-4.3l4.3,4.3l-4.3,4.3zM951.1,1657.1l4.3,-4.3l4.3,4.3l-4.3,4.3zM954.7,1658.5l4.3,-4.3l4.3,4.3l-4.3,4.3zM960.9,1658.4l4.3,-4.3l4.3,4.3l-4.3,4.3zM969.2,1657l4.3,-4.3l4.3,4.3l-4.3,4.3zM974.5,1659.1l4.3,-4.3l4.3,4.3l-4.3,4.3zM904.5,1664.4l4.3,-4.3l4.3,4.3l-4.3,4.3zM908.7,1665l4.3,-4.3l4.3,4.3l-4.3,4.3zM917.1,1661.2l4.3,-4.3l4.3,4.3l-4.3,4.3zM923.3,1662.7l4.3,-4.3l4.3,4.3l-4.3,4.3zM928.5,1661.4l4.3,-4.3l4.3,4.3l-4.3,4.3zM934.4,1663.2l4.3,-4.3l4.3,4.3l-4.3,4.3zM941.6,1663.4l4.3,-4.3l4.3,4.3l-4.3,4.3zM947.3,1664.1l4.3,-4.3l4.3,4.3l-4.3,4.3zM951.2,1661.1l4.3,-4.3l4.3,4.3l-4.3,4.3zM958.3,1661.5l4.3,-4.3l4.3,4.3l-4.3,4.3zM962.9,1662.4l4.3,-4.3l4.3,4.3l-4.3,4.3zM970.6,1663.6l4.3,-4.3l4.3,4.3l-4.3,4.3zM977,1665l4.3,-4.3l4.3,4.3l-4.3,4.3zM901.5,1667.6l4.3,-4.3l4.3,4.3l-4.3,4.3zM907.1,1669.8l4.3,-4.3l4.3,4.3l-4.3,4.3zM914.7,1668.5l4.3,-4.3l4.3,4.3l-4.3,4.3zM918,1668.3l4.3,-4.3l4.3,4.3l-4.3,4.3zM923.8,1667.3l4.3,-4.3l4.3,4.3l-4.3,4.3zM929.4,1668.8l4.3,-4.3l4.3,4.3l-4.3,4.3zM939.4,1668.5l4.3,-4.3l4.3,4.3l-4.3,4.3zM943.7,1666.9l4.3,-4.3l4.3,4.3l-4.3,4.3zM949.2,1667.8l4.3,-4.3l4.3,4.3l-4.3,4.3zM955.1,1666.9l4.3,-4.3l4.3,4.3l-4.3,4.3zM960.2,1669l4.3,-4.3l4.3,4.3l-4.3,4.3zM969.3,1669.2l4.3,-4.3l4.3,4.3l-4.3,4.3zM973.9,1665.9l4.3,-4.3l4.3,4.3l-4.3,4.3zM978.6,1669.3l4.3,-4.3l4.3,4.3l-4.3,4.3zM896.4,1672.7l4.3,-4.3l4.3,4.3l-4.3,4.3zM905.3,1670.8l4.3,-4.3l4.3,4.3l-4.3,4.3zM909.7,1672.6l4.3,-4.3l4.3,4.3l-4.3,4.3zM918.1,1674.7l4.3,-4.3l4.3,4.3l-4.3,4.3zM924,1673.3l4.3,-4.3l4.3,4.3l-4.3,4.3zM928.7,1671.5l4.3,-4.3l4.3,4.3l-4.3,4.3zM934.9,1671.3l4.3,-4.3l4.3,4.3l-4.3,4.3zM939.6,1674.1l4.3,-4.3l4.3,4.3l-4.3,4.3zM946.7,1673.7l4.3,-4.3l4.3,4.3l-4.3,4.3zM952.3,1671.8l4.3,-4.3l4.3,4.3l-4.3,4.3zM958.4,1673l4.3,-4.3l4.3,4.3l-4.3,4.3zM963.3,1674.2l4.3,-4.3l4.3,4.3l-4.3,4.3zM972.4,1671.4l4.3,-4.3l4.3,4.3l-4.3,4.3zM975.3,1674l4.3,-4.3l4.3,4.3l-4.3,4.3zM983.3,1671.5l4.3,-4.3l4.3,4.3l-4.3,4.3zM988.8,1671.6l4.3,-4.3l4.3,4.3l-4.3,4.3zM893.7,1678.7l4.3,-4.3l4.3,4.3l-4.3,4.3zM901.4,1679.3l4.3,-4.3l4.3,4.3l-4.3,4.3zM909.4,1679.4l4.3,-4.3l4.3,4.3l-4.3,4.3zM913.9,1676.9l4.3,-4.3l4.3,4.3l-4.3,4.3zM921.3,1678.5l4.3,-4.3l4.3,4.3l-4.3,4.3zM924.1,1677.7l4.3,-4.3l4.3,4.3l-4.3,4.3zM929.4,1675.5l4.3,-4.3l4.3,4.3l-4.3,4.3zM938,1678.4l4.3,-4.3l4.3,4.3l-4.3,4.3zM944.9,1678.6l4.3,-4.3l4.3,4.3l-4.3,4.3zM947.9,1678.5l4.3,-4.3l4.3,4.3l-4.3,4.3zM957.4,1678.2l4.3,-4.3l4.3,4.3l-4.3,4.3zM961.3,1676.6l4.3,-4.3l4.3,4.3l-4.3,4.3zM965.6,1678l4.3,-4.3l4.3,4.3l-4.3,4.3zM975.3,1675.9l4.3,-4.3l4.3,4.3l-4.3,4.3zM980.7,1679.2l4.3,-4.3l4.3,4.3l-4.3,4.3zM984.8,1679l4.3,-4.3l4.3,4.3l-4.3,4.3zM990,1676.7l4.3,-4.3l4.3,4.3l-4.3,4.3zM1033,1678.2l4.3,-4.3l4.3,4.3l-4.3,4.3zM1040.8,1676.8l4.3,-4.3l4.3,4.3l-4.3,4.3zM1047.2,1678.1l4.3,-4.3l4.3,4.3l-4.3,4.3zM892.1,1680.2l4.3,-4.3l4.3,4.3l-4.3,4.3zM898.1,1683.1l4.3,-4.3l4.3,4.3l-4.3,4.3zM905.8,1681l4.3,-4.3l4.3,4.3l-4.3,4.3zM908.3,1683.5l4.3,-4.3l4.3,4.3l-4.3,4.3zM915.9,1681.5l4.3,-4.3l4.3,4.3l-4.3,4.3zM920.9,1681.3l4.3,-4.3l4.3,4.3l-4.3,4.3zM927.4,1681.3l4.3,-4.3l4.3,4.3l-4.3,4.3zM933.3,1682.4l4.3,-4.3l4.3,4.3l-4.3,4.3zM941.7,1681.5l4.3,-4.3l4.3,4.3l-4.3,4.3zM946,1682.2l4.3,-4.3l4.3,4.3l-4.3,4.3zM953.8,1683.4l4.3,-4.3l4.3,4.3l-4.3,4.3zM960.4,1680.9l4.3,-4.3l4.3,4.3l-4.3,4.3zM965.7,1681.4l4.3,-4.3l4.3,4.3l-4.3,4.3zM970.7,1682.4l4.3,-4.3l4.3,4.3l-4.3,4.3zM976.7,1681.6l4.3,-4.3l4.3,4.3l-4.3,4.3zM980.6,1680.2l4.3,-4.3l4.3,4.3l-4.3,4.3zM990.2,1683.9l4.3,-4.3l4.3,4.3l-4.3,4.3zM994.2,1680.6l4.3,-4.3l4.3,4.3l-4.3,4.3zM1006.3,1682.9l4.3,-4.3l4.3,4.3l-4.3,4.3zM1019.7,1683.3l4.3,-4.3l4.3,4.3l-4.3,4.3zM1026.4,1682l4.3,-4.3l4.3,4.3l-4.3,4.3zM1032.4,1683.9l4.3,-4.3l4.3,4.3l-4.3,4.3zM1036.4,1683.9l4.3,-4.3l4.3,4.3l-4.3,4.3zM1041,1680.5l4.3,-4.3l4.3,4.3l-4.3,4.3zM1049.7,1680.8l4.3,-4.3l4.3,4.3l-4.3,4.3zM1054.5,1683.3l4.3,-4.3l4.3,4.3l-4.3,4.3zM888.9,1687.9l4.3,-4.3l4.3,4.3l-4.3,4.3zM893.9,1687.9l4.3,-4.3l4.3,4.3l-4.3,4.3zM900.5,1687.8l4.3,-4.3l4.3,4.3l-4.3,4.3zM906,1688.3l4.3,-4.3l4.3,4.3l-4.3,4.3zM913.1,1688.5l4.3,-4.3l4.3,4.3l-4.3,4.3zM921.4,1687.4l4.3,-4.3l4.3,4.3l-4.3,4.3zM923.4,1686.5l4.3,-4.3l4.3,4.3l-4.3,4.3zM933.4,1687.7l4.3,-4.3l4.3,4.3l-4.3,4.3zM938.5,1687l4.3,-4.3l4.3,4.3l-4.3,4.3zM945.3,1688.8l4.3,-4.3l4.3,4.3l-4.3,4.3zM949.9,1687.5l4.3,-4.3l4.3,4.3l-4.3,4.3zM953.7,1685l4.3,-4.3l4.3,4.3l-4.3,4.3zM960.2,1688l4.3,-4.3l4.3,4.3l-4.3,4.3zM968.9,1688.2l4.3,-4.3l4.3,4.3l-4.3,4.3zM975,1685.1l4.3,-4.3l4.3,4.3l-4.3,4.3zM977.4,1686.1l4.3,-4.3l4.3,4.3l-4.3,4.3zM983.4,1687.5l4.3,-4.3l4.3,4.3l-4.3,4.3zM993.2,1688.8l4.3,-4.3l4.3,4.3l-4.3,4.3zM995.7,1687.8l4.3,-4.3l4.3,4.3l-4.3,4.3zM1004.1,1687.8l4.3,-4.3l4.3,4.3l-4.3,4.3zM1009,1686l4.3,-4.3l4.3,4.3l-4.3,4.3zM1017,1688.8l4.3,-4.3l4.3,4.3l-4.3,4.3zM1022.3,1687.3l4.3,-4.3l4.3,4.3l-4.3,4.3zM1025.4,1686.2l4.3,-4.3l4.3,4.3l-4.3,4.3zM1032.3,1686l4.3,-4.3l4.3,4.3l-4.3,4.3zM1038.2,1687.8l4.3,-4.3l4.3,4.3l-4.3,4.3zM1046.2,1685.7l4.3,-4.3l4.3,4.3l-4.3,4.3zM1053.1,1685l4.3,-4.3l4.3,4.3l-4.3,4.3zM884.9,1691.7l4.3,-4.3l4.3,4.3l-4.3,4.3zM892.8,1691.8l4.3,-4.3l4.3,4.3l-4.3,4.3zM896.9,1690.6l4.3,-4.3l4.3,4.3l-4.3,4.3zM903.9,1692.5l4.3,-4.3l4.3,4.3l-4.3,4.3zM910.1,1690.6l4.3,-4.3l4.3,4.3l-4.3,4.3zM915.7,1691.1l4.3,-4.3l4.3,4.3l-4.3,4.3zM920.9,1692.3l4.3,-4.3l4.3,4.3l-4.3,4.3zM928.3,1691.2l4.3,-4.3l4.3,4.3l-4.3,4.3zM932.3,1693.6l4.3,-4.3l4.3,4.3l-4.3,4.3zM938.5,1690.3l4.3,-4.3l4.3,4.3l-4.3,4.3zM945.5,1693.1l4.3,-4.3l4.3,4.3l-4.3,4.3zM954.2,1693l4.3,-4.3l4.3,4.3l-4.3,4.3zM957.2,1693.3l4.3,-4.3l4.3,4.3l-4.3,4.3zM962.4,1690.3l4.3,-4.3l4.3,4.3l-4.3,4.3zM968.8,1692.2l4.3,-4.3l4.3,4.3l-4.3,4.3zM976.8,1692.4l4.3,-4.3l4.3,4.3l-4.3,4.3zM984.3,1693l4.3,-4.3l4.3,4.3l-4.3,4.3zM989.4,1690.5l4.3,-4.3l4.3,4.3l-4.3,4.3zM996.1,1693.7l4.3,-4.3l4.3,4.3l-4.3,4.3zM1001.8,1690.1l4.3,-4.3l4.3,4.3l-4.3,4.3zM1007.3,1692l4.3,-4.3l4.3,4.3l-4.3,4.3zM1012.6,1690.9l4.3,-4.3l4.3,4.3l-4.3,4.3zM1019.5,1693.2l4.3,-4.3l4.3,4.3l-4.3,4.3zM1025.5,1691.1l4.3,-4.3l4.3,4.3l-4.3,4.3zM1031.4,1690.2l4.3,-4.3l4.3,4.3l-4.3,4.3zM1037.2,1689.9l4.3,-4.3l4.3,4.3l-4.3,4.3zM1040.3,1690.2l4.3,-4.3l4.3,4.3l-4.3,4.3zM1049,1693.9l4.3,-4.3l4.3,4.3l-4.3,4.3zM1054.3,1692.5l4.3,-4.3l4.3,4.3l-4.3,4.3zM1060.8,1693.3l4.3,-4.3l4.3,4.3l-4.3,4.3zM875.5,1697.4l4.3,-4.3l4.3,4.3l-4.3,4.3zM883.5,1696.3l4.3,-4.3l4.3,4.3l-4.3,4.3zM887.8,1695.8l4.3,-4.3l4.3,4.3l-4.3,4.3zM896.4,1698.3l4.3,-4.3l4.3,4.3l-4.3,4.3zM903.4,1697.8l4.3,-4.3l4.3,4.3l-4.3,4.3zM909,1698.1l4.3,-4.3l4.3,4.3l-4.3,4.3zM912,1697.5l4.3,-4.3l4.3,4.3l-4.3,4.3zM921,1697.8l4.3,-4.3l4.3,4.3l-4.3,4.3zM924.5,1697.5l4.3,-4.3l4.3,4.3l-4.3,4.3zM930.9,1696.4l4.3,-4.3l4.3,4.3l-4.3,4.3zM938.4,1697.4l4.3,-4.3l4.3,4.3l-4.3,4.3zM941.9,1697.3l4.3,-4.3l4.3,4.3l-4.3,4.3zM947.6,1695.5l4.3,-4.3l4.3,4.3l-4.3,4.3zM956.8,1698.4l4.3,-4.3l4.3,4.3l-4.3,4.3zM960.4,1697.8l4.3,-4.3l4.3,4.3l-4.3,4.3zM966.1,1696.7l4.3,-4.3l4.3,4.3l-4.3,4.3zM972.8,1695l4.3,-4.3l4.3,4.3l-4.3,4.3zM979.1,1696.9l4.3,-4.3l4.3,4.3l-4.3,4.3zM986.9,1695l4.3,-4.3l4.3,4.3l-4.3,4.3zM990.5,1694.6l4.3,-4.3l4.3,4.3l-4.3,4.3zM996.2,1695.7l4.3,-4.3l4.3,4.3l-4.3,4.3zM1004.7,1698.5l4.3,-4.3l4.3,4.3l-4.3,4.3zM1008.2,1696.6l4.3,-4.3l4.3,4.3l-4.3,4.3zM1015.5,1696.7l4.3,-4.3l4.3,4.3l-4.3,4.3zM1023.3,1698.6l4.3,-4.3l4.3,4.3l-4.3,4.3zM1025.5,1696.3l4.3,-4.3l4.3,4.3l-4.3,4.3zM1033.5,1697.3l4.3,-4.3l4.3,4.3l-4.3,4.3zM1039.5,1698l4.3,-4.3l4.3,4.3l-4.3,4.3zM1043.7,1696.5l4.3,-4.3l4.3,4.3l-4.3,4.3zM1052.8,1695.3l4.3,-4.3l4.3,4.3l-4.3,4.3zM1056,1697.2l4.3,-4.3l4.3,4.3l-4.3,4.3zM1061.9,1696.9l4.3,-4.3l4.3,4.3l-4.3,4.3zM1074.7,1697.9l4.3,-4.3l4.3,4.3l-4.3,4.3zM875.7,1700.8l4.3,-4.3l4.3,4.3l-4.3,4.3zM881.3,1702.3l4.3,-4.3l4.3,4.3l-4.3,4.3zM886.3,1702.7l4.3,-4.3l4.3,4.3l-4.3,4.3zM891.7,1699.4l4.3,-4.3l4.3,4.3l-4.3,4.3zM899.9,1702.5l4.3,-4.3l4.3,4.3l-4.3,4.3zM905.4,1703.3l4.3,-4.3l4.3,4.3l-4.3,4.3zM910,1701.2l4.3,-4.3l4.3,4.3l-4.3,4.3zM916.9,1703.1l4.3,-4.3l4.3,4.3l-4.3,4.3zM921.5,1702.6l4.3,-4.3l4.3,4.3l-4.3,4.3zM930.3,1700.5l4.3,-4.3l4.3,4.3l-4.3,4.3zM932.4,1700.1l4.3,-4.3l4.3,4.3l-4.3,4.3zM941,1700.3l4.3,-4.3l4.3,4.3l-4.3,4.3zM948.3,1699.8l4.3,-4.3l4.3,4.3l-4.3,4.3zM954.1,1700.9l4.3,-4.3l4.3,4.3l-4.3,4.3zM960.2,1700.8l4.3,-4.3l4.3,4.3l-4.3,4.3zM962.8,1702.2l4.3,-4.3l4.3,4.3l-4.3,4.3zM969.6,1703.3l4.3,-4.3l4.3,4.3l-4.3,4.3zM977.8,1700.5l4.3,-4.3l4.3,4.3l-4.3,4.3zM982.4,1701.7l4.3,-4.3l4.3,4.3l-4.3,4.3zM989.5,1700.5l4.3,-4.3l4.3,4.3l-4.3,4.3zM994.7,1701.6l4.3,-4.3l4.3,4.3l-4.3,4.3zM1000.8,1701.7l4.3,-4.3l4.3,4.3l-4.3,4.3zM1006.1,1701l4.3,-4.3l4.3,4.3l-4.3,4.3zM1012,1703.6l4.3,-4.3l4.3,4.3l-4.3,4.3zM1018.5,1699.8l4.3,-4.3l4.3,4.3l-4.3,4.3zM1024,1702.6l4.3,-4.3l4.3,4.3l-4.3,4.3zM1031.2,1699.7l4.3,-4.3l4.3,4.3l-4.3,4.3zM1036,1701.3l4.3,-4.3l4.3,4.3l-4.3,4.3zM1043.9,1700.5l4.3,-4.3l4.3,4.3l-4.3,4.3zM1050.1,1702.8l4.3,-4.3l4.3,4.3l-4.3,4.3zM1052.4,1701.5l4.3,-4.3l4.3,4.3l-4.3,4.3zM1060.5,1702.1l4.3,-4.3l4.3,4.3l-4.3,4.3zM1068,1700.2l4.3,-4.3l4.3,4.3l-4.3,4.3zM1073.8,1699.4l4.3,-4.3l4.3,4.3l-4.3,4.3zM1079.8,1700.5l4.3,-4.3l4.3,4.3l-4.3,4.3zM1082.4,1702.8l4.3,-4.3l4.3,4.3l-4.3,4.3zM870.5,1708.3l4.3,-4.3l4.3,4.3l-4.3,4.3zM879.4,1707l4.3,-4.3l4.3,4.3l-4.3,4.3zM883.1,1705.9l4.3,-4.3l4.3,4.3l-4.3,4.3zM887.6,1706.1l4.3,-4.3l4.3,4.3l-4.3,4.3zM893.9,1706.4l4.3,-4.3l4.3,4.3l-4.3,4.3zM902.7,1705.9l4.3,-4.3l4.3,4.3l-4.3,4.3zM908.3,1707.6l4.3,-4.3l4.3,4.3l-4.3,4.3zM915.1,1706l4.3,-4.3l4.3,4.3l-4.3,4.3zM918.3,1707.9l4.3,-4.3l4.3,4.3l-4.3,4.3zM925.4,1705.3l4.3,-4.3l4.3,4.3l-4.3,4.3zM932.2,1707.8l4.3,-4.3l4.3,4.3l-4.3,4.3zM939.4,1705.8l4.3,-4.3l4.3,4.3l-4.3,4.3zM942.4,1705.3l4.3,-4.3l4.3,4.3l-4.3,4.3zM948.6,1705.1l4.3,-4.3l4.3,4.3l-4.3,4.3zM957.2,1706.9l4.3,-4.3l4.3,4.3l-4.3,4.3zM959.5,1704.6l4.3,-4.3l4.3,4.3l-4.3,4.3zM966.1,1708.3l4.3,-4.3l4.3,4.3l-4.3,4.3zM972.7,1707.6l4.3,-4.3l4.3,4.3l-4.3,4.3zM978.2,1705l4.3,-4.3l4.3,4.3l-4.3,4.3zM987.3,1704.5l4.3,-4.3l4.3,4.3l-4.3,4.3zM991.4,1706.4l4.3,-4.3l4.3,4.3l-4.3,4.3zM996.7,1707.4l4.3,-4.3l4.3,4.3l-4.3,4.3zM1004.9,1705.2l4.3,-4.3l4.3,4.3l-4.3,4.3zM1008.6,1706.2l4.3,-4.3l4.3,4.3l-4.3,4.3zM1015.3,1706.9l4.3,-4.3l4.3,4.3l-4.3,4.3zM1022.6,1705.6l4.3,-4.3l4.3,4.3l-4.3,4.3zM1029.3,1706.1l4.3,-4.3l4.3,4.3l-4.3,4.3zM1031.4,1706l4.3,-4.3l4.3,4.3l-4.3,4.3zM1039.5,1705l4.3,-4.3l4.3,4.3l-4.3,4.3zM1047,1706.7l4.3,-4.3l4.3,4.3l-4.3,4.3zM1051.5,1705.4l4.3,-4.3l4.3,4.3l-4.3,4.3zM1055.9,1705.4l4.3,-4.3l4.3,4.3l-4.3,4.3zM1064,1707.1l4.3,-4.3l4.3,4.3l-4.3,4.3zM1070.2,1704.3l4.3,-4.3l4.3,4.3l-4.3,4.3zM1076.6,1707.1l4.3,-4.3l4.3,4.3l-4.3,4.3zM1082.2,1706.4l4.3,-4.3l4.3,4.3l-4.3,4.3zM1088.9,1708.2l4.3,-4.3l4.3,4.3l-4.3,4.3zM1093.8,1706l4.3,-4.3l4.3,4.3l-4.3,4.3zM862,1711.5l4.3,-4.3l4.3,4.3l-4.3,4.3zM869.5,1712.6l4.3,-4.3l4.3,4.3l-4.3,4.3zM873.7,1711.4l4.3,-4.3l4.3,4.3l-4.3,4.3zM880.9,1711.9l4.3,-4.3l4.3,4.3l-4.3,4.3zM886.8,1711l4.3,-4.3l4.3,4.3l-4.3,4.3zM893.7,1709.1l4.3,-4.3l4.3,4.3l-4.3,4.3zM899.6,1709.7l4.3,-4.3l4.3,4.3l-4.3,4.3zM903.1,1711.8l4.3,-4.3l4.3,4.3l-4.3,4.3zM910.2,1710.4l4.3,-4.3l4.3,4.3l-4.3,4.3zM914.6,1709.2l4.3,-4.3l4.3,4.3l-4.3,4.3zM921.4,1709.4l4.3,-4.3l4.3,4.3l-4.3,4.3zM929.2,1709.8l4.3,-4.3l4.3,4.3l-4.3,4.3zM933.9,1710.8l4.3,-4.3l4.3,4.3l-4.3,4.3zM941.3,1712.4l4.3,-4.3l4.3,4.3l-4.3,4.3zM947,1709.9l4.3,-4.3l4.3,4.3l-4.3,4.3zM950.9,1711.3l4.3,-4.3l4.3,4.3l-4.3,4.3zM957.8,1712l4.3,-4.3l4.3,4.3l-4.3,4.3zM963.2,1711.9l4.3,-4.3l4.3,4.3l-4.3,4.3zM969.8,1710.2l4.3,-4.3l4.3,4.3l-4.3,4.3zM975.1,1712.2l4.3,-4.3l4.3,4.3l-4.3,4.3zM982.4,1711.3l4.3,-4.3l4.3,4.3l-4.3,4.3zM989.8,1709.1l4.3,-4.3l4.3,4.3l-4.3,4.3zM994.6,1710.4l4.3,-4.3l4.3,4.3l-4.3,4.3zM999.3,1712.5l4.3,-4.3l4.3,4.3l-4.3,4.3zM1005.3,1710.7l4.3,-4.3l4.3,4.3l-4.3,4.3zM1012.1,1709.6l4.3,-4.3l4.3,4.3l-4.3,4.3zM1017.6,1709l4.3,-4.3l4.3,4.3l-4.3,4.3zM1024.4,1711.6l4.3,-4.3l4.3,4.3l-4.3,4.3zM1032.5,1713l4.3,-4.3l4.3,4.3l-4.3,4.3zM1035.7,1713l4.3,-4.3l4.3,4.3l-4.3,4.3zM1040.7,1709.6l4.3,-4.3l4.3,4.3l-4.3,4.3zM1048.5,1711.9l4.3,-4.3l4.3,4.3l-4.3,4.3zM1054.8,1709.2l4.3,-4.3l4.3,4.3l-4.3,4.3zM1060,1711.1l4.3,-4.3l4.3,4.3l-4.3,4.3zM1065.9,1712.2l4.3,-4.3l4.3,4.3l-4.3,4.3zM1073.4,1709.4l4.3,-4.3l4.3,4.3l-4.3,4.3zM1078.3,1711.9l4.3,-4.3l4.3,4.3l-4.3,4.3zM1085.6,1711.8l4.3,-4.3l4.3,4.3l-4.3,4.3zM1092.4,1712.1l4.3,-4.3l4.3,4.3l-4.3,4.3zM1096,1712.5l4.3,-4.3l4.3,4.3l-4.3,4.3zM1102.9,1711.5l4.3,-4.3l4.3,4.3l-4.3,4.3zM860.7,1714.5l4.3,-4.3l4.3,4.3l-4.3,4.3zM864.9,1717l4.3,-4.3l4.3,4.3l-4.3,4.3zM869.4,1715.5l4.3,-4.3l4.3,4.3l-4.3,4.3zM875.9,1717l4.3,-4.3l4.3,4.3l-4.3,4.3zM882.6,1714.4l4.3,-4.3l4.3,4.3l-4.3,4.3zM887.8,1714.7l4.3,-4.3l4.3,4.3l-4.3,4.3zM896.3,1714.3l4.3,-4.3l4.3,4.3l-4.3,4.3zM899.5,1714.8l4.3,-4.3l4.3,4.3l-4.3,4.3zM905.5,1716.9l4.3,-4.3l4.3,4.3l-4.3,4.3zM914.5,1716l4.3,-4.3l4.3,4.3l-4.3,4.3zM918.7,1714l4.3,-4.3l4.3,4.3l-4.3,4.3zM926.3,1714.8l4.3,-4.3l4.3,4.3l-4.3,4.3zM931.6,1717.9l4.3,-4.3l4.3,4.3l-4.3,4.3zM936.3,1716.7l4.3,-4.3l4.3,4.3l-4.3,4.3zM943.1,1716l4.3,-4.3l4.3,4.3l-4.3,4.3zM949,1716.7l4.3,-4.3l4.3,4.3l-4.3,4.3zM955.5,1713.9l4.3,-4.3l4.3,4.3l-4.3,4.3zM962.7,1714.8l4.3,-4.3l4.3,4.3l-4.3,4.3zM966.8,1715.8l4.3,-4.3l4.3,4.3l-4.3,4.3zM973.8,1717l4.3,-4.3l4.3,4.3l-4.3,4.3zM977.8,1715.4l4.3,-4.3l4.3,4.3l-4.3,4.3zM985.9,1715.8l4.3,-4.3l4.3,4.3l-4.3,4.3zM990.3,1717.1l4.3,-4.3l4.3,4.3l-4.3,4.3zM999.3,1716.5l4.3,-4.3l4.3,4.3l-4.3,4.3zM1003.5,1714.4l4.3,-4.3l4.3,4.3l-4.3,4.3zM1009.3,1717.1l4.3,-4.3l4.3,4.3l-4.3,4.3zM1014.6,1715.6l4.3,-4.3l4.3,4.3l-4.3,4.3zM1021.2,1715.1l4.3,-4.3l4.3,4.3l-4.3,4.3zM1027.9,1715l4.3,-4.3l4.3,4.3l-4.3,4.3zM1035.2,1717.3l4.3,-4.3l4.3,4.3l-4.3,4.3zM1038.6,1714.1l4.3,-4.3l4.3,4.3l-4.3,4.3zM1043.4,1717.2l4.3,-4.3l4.3,4.3l-4.3,4.3zM1051.1,1714.3l4.3,-4.3l4.3,4.3l-4.3,4.3zM1055.5,1717.1l4.3,-4.3l4.3,4.3l-4.3,4.3zM1062.2,1717.7l4.3,-4.3l4.3,4.3l-4.3,4.3zM1068.8,1716.4l4.3,-4.3l4.3,4.3l-4.3,4.3zM1074.8,1716.6l4.3,-4.3l4.3,4.3l-4.3,4.3zM1079.9,1714.9l4.3,-4.3l4.3,4.3l-4.3,4.3zM1085.8,1714.1l4.3,-4.3l4.3,4.3l-4.3,4.3zM1093.7,1718l4.3,-4.3l4.3,4.3l-4.3,4.3zM1097.3,1717.5l4.3,-4.3l4.3,4.3l-4.3,4.3zM1104.5,1714.5l4.3,-4.3l4.3,4.3l-4.3,4.3zM857.6,1719.4l4.3,-4.3l4.3,4.3l-4.3,4.3zM864.3,1720.5l4.3,-4.3l4.3,4.3l-4.3,4.3zM866.6,1722.5l4.3,-4.3l4.3,4.3l-4.3,4.3zM873.6,1722.4l4.3,-4.3l4.3,4.3l-4.3,4.3zM879.2,1718.9l4.3,-4.3l4.3,4.3l-4.3,4.3zM886.5,1720.9l4.3,-4.3l4.3,4.3l-4.3,4.3zM893.1,1721.3l4.3,-4.3l4.3,4.3l-4.3,4.3zM897.8,1721.8l4.3,-4.3l4.3,4.3l-4.3,4.3zM904.5,1719.2l4.3,-4.3l4.3,4.3l-4.3,4.3zM910.8,1720.1l4.3,-4.3l4.3,4.3l-4.3,4.3zM916.6,1719.3l4.3,-4.3l4.3,4.3l-4.3,4.3zM921.4,1719.7l4.3,-4.3l4.3,4.3l-4.3,4.3zM929.1,1718.7l4.3,-4.3l4.3,4.3l-4.3,4.3zM934,1720.3l4.3,-4.3l4.3,4.3l-4.3,4.3zM942,1719.1l4.3,-4.3l4.3,4.3l-4.3,4.3zM946.5,1722l4.3,-4.3l4.3,4.3l-4.3,4.3zM952,1722.6l4.3,-4.3l4.3,4.3l-4.3,4.3zM957.4,1720.7l4.3,-4.3l4.3,4.3l-4.3,4.3zM963.6,1719.8l4.3,-4.3l4.3,4.3l-4.3,4.3zM968.6,1721.9l4.3,-4.3l4.3,4.3l-4.3,4.3zM977,1722.1l4.3,-4.3l4.3,4.3l-4.3,4.3zM982.3,1719.4l4.3,-4.3l4.3,4.3l-4.3,4.3zM989.1,1722.5l4.3,-4.3l4.3,4.3l-4.3,4.3zM994.6,1719.7l4.3,-4.3l4.3,4.3l-4.3,4.3zM1000.5,1722.2l4.3,-4.3l4.3,4.3l-4.3,4.3zM1007.7,1721.2l4.3,-4.3l4.3,4.3l-4.3,4.3zM1013.4,1718.7l4.3,-4.3l4.3,4.3l-4.3,4.3zM1016.9,1718.6l4.3,-4.3l4.3,4.3l-4.3,4.3zM1024.2,1720.7l4.3,-4.3l4.3,4.3l-4.3,4.3zM1028.4,1722l4.3,-4.3l4.3,4.3l-4.3,4.3zM1036.6,1721.7l4.3,-4.3l4.3,4.3l-4.3,4.3zM1044.4,1721.8l4.3,-4.3l4.3,4.3l-4.3,4.3zM1049.4,1721.3l4.3,-4.3l4.3,4.3l-4.3,4.3zM1054.5,1721.8l4.3,-4.3l4.3,4.3l-4.3,4.3zM1061.6,1719.9l4.3,-4.3l4.3,4.3l-4.3,4.3zM1067.7,1719.2l4.3,-4.3l4.3,4.3l-4.3,4.3zM1072.5,1722.5l4.3,-4.3l4.3,4.3l-4.3,4.3zM1077.2,1722.3l4.3,-4.3l4.3,4.3l-4.3,4.3zM1084.3,1721.7l4.3,-4.3l4.3,4.3l-4.3,4.3zM1088.9,1718.8l4.3,-4.3l4.3,4.3l-4.3,4.3zM1095.4,1721.1l4.3,-4.3l4.3,4.3l-4.3,4.3zM1104,1721l4.3,-4.3l4.3,4.3l-4.3,4.3zM1108.5,1720.2l4.3,-4.3l4.3,4.3l-4.3,4.3zM854.5,1725.3l4.3,-4.3l4.3,4.3l-4.3,4.3zM860.2,1725.7l4.3,-4.3l4.3,4.3l-4.3,4.3zM867.3,1724.8l4.3,-4.3l4.3,4.3l-4.3,4.3zM871.2,1726.6l4.3,-4.3l4.3,4.3l-4.3,4.3zM876.5,1726.7l4.3,-4.3l4.3,4.3l-4.3,4.3zM882.7,1724l4.3,-4.3l4.3,4.3l-4.3,4.3zM889.6,1725.8l4.3,-4.3l4.3,4.3l-4.3,4.3zM894.6,1724.5l4.3,-4.3l4.3,4.3l-4.3,4.3zM903.5,1725.5l4.3,-4.3l4.3,4.3l-4.3,4.3zM908.3,1725.2l4.3,-4.3l4.3,4.3l-4.3,4.3zM913.6,1724.6l4.3,-4.3l4.3,4.3l-4.3,4.3zM918,1726.9l4.3,-4.3l4.3,4.3l-4.3,4.3zM926.2,1724.7l4.3,-4.3l4.3,4.3l-4.3,4.3zM931,1725.8l4.3,-4.3l4.3,4.3l-4.3,4.3zM935.6,1726l4.3,-4.3l4.3,4.3l-4.3,4.3zM945.5,1726.3l4.3,-4.3l4.3,4.3l-4.3,4.3zM949.3,1723.9l4.3,-4.3l4.3,4.3l-4.3,4.3zM955.6,1725.8l4.3,-4.3l4.3,4.3l-4.3,4.3zM962.2,1727.1l4.3,-4.3l4.3,4.3l-4.3,4.3zM966.4,1723.8l4.3,-4.3l4.3,4.3l-4.3,4.3zM975.4,1725.6l4.3,-4.3l4.3,4.3l-4.3,4.3zM981,1725.9l4.3,-4.3l4.3,4.3l-4.3,4.3zM987.1,1725.9l4.3,-4.3l4.3,4.3l-4.3,4.3zM992.3,1726.1l4.3,-4.3l4.3,4.3l-4.3,4.3zM999.3,1726.6l4.3,-4.3l4.3,4.3l-4.3,4.3zM1005.4,1725.1l4.3,-4.3l4.3,4.3l-4.3,4.3zM1008.2,1724.2l4.3,-4.3l4.3,4.3l-4.3,4.3zM1015.2,1725.7l4.3,-4.3l4.3,4.3l-4.3,4.3zM1022.2,1725.4l4.3,-4.3l4.3,4.3l-4.3,4.3zM1029.4,1725.1l4.3,-4.3l4.3,4.3l-4.3,4.3zM1031.3,1725.6l4.3,-4.3l4.3,4.3l-4.3,4.3zM1040.1,1724.4l4.3,-4.3l4.3,4.3l-4.3,4.3zM1046.4,1724.2l4.3,-4.3l4.3,4.3l-4.3,4.3zM1053.1,1725.3l4.3,-4.3l4.3,4.3l-4.3,4.3zM1059.3,1726l4.3,-4.3l4.3,4.3l-4.3,4.3zM1064.3,1724.3l4.3,-4.3l4.3,4.3l-4.3,4.3zM1071,1727.6l4.3,-4.3l4.3,4.3l-4.3,4.3zM1073.9,1725.8l4.3,-4.3l4.3,4.3l-4.3,4.3zM1080,1727.1l4.3,-4.3l4.3,4.3l-4.3,4.3zM1088.9,1727.2l4.3,-4.3l4.3,4.3l-4.3,4.3zM1094.5,1725l4.3,-4.3l4.3,4.3l-4.3,4.3zM1100,1723.6l4.3,-4.3l4.3,4.3l-4.3,4.3zM1103.7,1725.7l4.3,-4.3l4.3,4.3l-4.3,4.3zM1112.4,1724.6l4.3,-4.3l4.3,4.3l-4.3,4.3zM851.2,1731.4l4.3,-4.3l4.3,4.3l-4.3,4.3zM855.2,1731.4l4.3,-4.3l4.3,4.3l-4.3,4.3zM862.7,1730.9l4.3,-4.3l4.3,4.3l-4.3,4.3zM868.4,1730.1l4.3,-4.3l4.3,4.3l-4.3,4.3zM875.8,1731.6l4.3,-4.3l4.3,4.3l-4.3,4.3zM879.1,1731.8l4.3,-4.3l4.3,4.3l-4.3,4.3zM886.6,1728.5l4.3,-4.3l4.3,4.3l-4.3,4.3zM893.6,1731.9l4.3,-4.3l4.3,4.3l-4.3,4.3zM898.1,1730l4.3,-4.3l4.3,4.3l-4.3,4.3zM903.4,1729l4.3,-4.3l4.3,4.3l-4.3,4.3zM910.5,1730l4.3,-4.3l4.3,4.3l-4.3,4.3zM917,1731l4.3,-4.3l4.3,4.3l-4.3,4.3zM921.1,1731.4l4.3,-4.3l4.3,4.3l-4.3,4.3zM928.2,1729.9l4.3,-4.3l4.3,4.3l-4.3,4.3zM933.1,1730.8l4.3,-4.3l4.3,4.3l-4.3,4.3zM941.2,1731.5l4.3,-4.3l4.3,4.3l-4.3,4.3zM947.7,1729.7l4.3,-4.3l4.3,4.3l-4.3,4.3zM952.6,1730.8l4.3,-4.3l4.3,4.3l-4.3,4.3zM957.9,1728.2l4.3,-4.3l4.3,4.3l-4.3,4.3zM965.4,1732l4.3,-4.3l4.3,4.3l-4.3,4.3zM970.3,1732.1l4.3,-4.3l4.3,4.3l-4.3,4.3zM974.5,1730.7l4.3,-4.3l4.3,4.3l-4.3,4.3zM982,1730.9l4.3,-4.3l4.3,4.3l-4.3,4.3zM987.8,1731.2l4.3,-4.3l4.3,4.3l-4.3,4.3zM993.2,1729.4l4.3,-4.3l4.3,4.3l-4.3,4.3zM1000,1730l4.3,-4.3l4.3,4.3l-4.3,4.3zM1006,1732.2l4.3,-4.3l4.3,4.3l-4.3,4.3zM1012.5,1730.6l4.3,-4.3l4.3,4.3l-4.3,4.3zM1016.8,1730.4l4.3,-4.3l4.3,4.3l-4.3,4.3zM1025.5,1731.2l4.3,-4.3l4.3,4.3l-4.3,4.3zM1032.3,1730.7l4.3,-4.3l4.3,4.3l-4.3,4.3zM1035.9,1731.9l4.3,-4.3l4.3,4.3l-4.3,4.3zM1044.4,1732.3l4.3,-4.3l4.3,4.3l-4.3,4.3zM1046.8,1731l4.3,-4.3l4.3,4.3l-4.3,4.3zM1053,1729.3l4.3,-4.3l4.3,4.3l-4.3,4.3zM1061.6,1731.9l4.3,-4.3l4.3,4.3l-4.3,4.3zM1066.8,1729.5l4.3,-4.3l4.3,4.3l-4.3,4.3zM1072.3,1729.5l4.3,-4.3l4.3,4.3l-4.3,4.3zM1077.4,1729.1l4.3,-4.3l4.3,4.3l-4.3,4.3zM1086.3,1732.1l4.3,-4.3l4.3,4.3l-4.3,4.3zM1089.1,1731.8l4.3,-4.3l4.3,4.3l-4.3,4.3zM1097.4,1731.2l4.3,-4.3l4.3,4.3l-4.3,4.3zM1101.4,1730.4l4.3,-4.3l4.3,4.3l-4.3,4.3zM1109.7,1731.1l4.3,-4.3l4.3,4.3l-4.3,4.3zM858,1734.9l4.3,-4.3l4.3,4.3l-4.3,4.3zM864.8,1736.6l4.3,-4.3l4.3,4.3l-4.3,4.3zM871.2,1733.6l4.3,-4.3l4.3,4.3l-4.3,4.3zM876.9,1735.7l4.3,-4.3l4.3,4.3l-4.3,4.3zM883.6,1733.1l4.3,-4.3l4.3,4.3l-4.3,4.3zM890.7,1734.2l4.3,-4.3l4.3,4.3l-4.3,4.3zM893.4,1735.6l4.3,-4.3l4.3,4.3l-4.3,4.3zM902.1,1735.6l4.3,-4.3l4.3,4.3l-4.3,4.3zM905.7,1733.1l4.3,-4.3l4.3,4.3l-4.3,4.3zM914.3,1735.1l4.3,-4.3l4.3,4.3l-4.3,4.3zM917.3,1735.4l4.3,-4.3l4.3,4.3l-4.3,4.3zM923.7,1735l4.3,-4.3l4.3,4.3l-4.3,4.3zM932.3,1733.9l4.3,-4.3l4.3,4.3l-4.3,4.3zM937,1736l4.3,-4.3l4.3,4.3l-4.3,4.3zM942.5,1735.6l4.3,-4.3l4.3,4.3l-4.3,4.3zM947.5,1736l4.3,-4.3l4.3,4.3l-4.3,4.3zM954.3,1734.8l4.3,-4.3l4.3,4.3l-4.3,4.3zM963.5,1736.3l4.3,-4.3l4.3,4.3l-4.3,4.3zM966.1,1736.4l4.3,-4.3l4.3,4.3l-4.3,4.3zM973,1735.1l4.3,-4.3l4.3,4.3l-4.3,4.3zM978.5,1733.7l4.3,-4.3l4.3,4.3l-4.3,4.3zM987.4,1734.6l4.3,-4.3l4.3,4.3l-4.3,4.3zM990.2,1736.4l4.3,-4.3l4.3,4.3l-4.3,4.3zM995.7,1734.7l4.3,-4.3l4.3,4.3l-4.3,4.3zM1001.8,1733.1l4.3,-4.3l4.3,4.3l-4.3,4.3zM1011.4,1735.1l4.3,-4.3l4.3,4.3l-4.3,4.3zM1016,1733.6l4.3,-4.3l4.3,4.3l-4.3,4.3zM1020.8,1733.2l4.3,-4.3l4.3,4.3l-4.3,4.3zM1028.8,1733l4.3,-4.3l4.3,4.3l-4.3,4.3zM1035.2,1737l4.3,-4.3l4.3,4.3l-4.3,4.3zM1038.1,1734.2l4.3,-4.3l4.3,4.3l-4.3,4.3zM1044,1733.1l4.3,-4.3l4.3,4.3l-4.3,4.3zM1051.3,1735.2l4.3,-4.3l4.3,4.3l-4.3,4.3zM1059,1735l4.3,-4.3l4.3,4.3l-4.3,4.3zM1062,1734.8l4.3,-4.3l4.3,4.3l-4.3,4.3zM1068,1733.1l4.3,-4.3l4.3,4.3l-4.3,4.3zM1074.9,1736.5l4.3,-4.3l4.3,4.3l-4.3,4.3zM1079.6,1737.1l4.3,-4.3l4.3,4.3l-4.3,4.3zM1088.8,1737.2l4.3,-4.3l4.3,4.3l-4.3,4.3zM1093.8,1734.3l4.3,-4.3l4.3,4.3l-4.3,4.3zM1100.5,1733.6l4.3,-4.3l4.3,4.3l-4.3,4.3zM1105.5,1736.5l4.3,-4.3l4.3,4.3l-4.3,4.3zM876,1739.1l4.3,-4.3l4.3,4.3l-4.3,4.3zM878.6,1740.8l4.3,-4.3l4.3,4.3l-4.3,4.3zM887,1738.9l4.3,-4.3l4.3,4.3l-4.3,4.3zM890.3,1739l4.3,-4.3l4.3,4.3l-4.3,4.3zM900.2,1740.7l4.3,-4.3l4.3,4.3l-4.3,4.3zM905.1,1740.7l4.3,-4.3l4.3,4.3l-4.3,4.3zM909.4,1741.5l4.3,-4.3l4.3,4.3l-4.3,4.3zM916.3,1741.7l4.3,-4.3l4.3,4.3l-4.3,4.3zM922.9,1740.7l4.3,-4.3l4.3,4.3l-4.3,4.3zM930,1741.9l4.3,-4.3l4.3,4.3l-4.3,4.3zM935.3,1741.8l4.3,-4.3l4.3,4.3l-4.3,4.3zM940,1739.1l4.3,-4.3l4.3,4.3l-4.3,4.3zM945.4,1739.4l4.3,-4.3l4.3,4.3l-4.3,4.3zM954.1,1739.2l4.3,-4.3l4.3,4.3l-4.3,4.3zM957.3,1738.2l4.3,-4.3l4.3,4.3l-4.3,4.3zM965.3,1741.7l4.3,-4.3l4.3,4.3l-4.3,4.3zM970.1,1738.4l4.3,-4.3l4.3,4.3l-4.3,4.3zM977.5,1741.4l4.3,-4.3l4.3,4.3l-4.3,4.3zM982,1739.8l4.3,-4.3l4.3,4.3l-4.3,4.3zM987.9,1740l4.3,-4.3l4.3,4.3l-4.3,4.3zM995.1,1741.7l4.3,-4.3l4.3,4.3l-4.3,4.3zM999.7,1741.8l4.3,-4.3l4.3,4.3l-4.3,4.3zM1006.9,1739.7l4.3,-4.3l4.3,4.3l-4.3,4.3zM1013.8,1738.8l4.3,-4.3l4.3,4.3l-4.3,4.3zM1018.6,1741.6l4.3,-4.3l4.3,4.3l-4.3,4.3zM1025.8,1741.4l4.3,-4.3l4.3,4.3l-4.3,4.3zM1030.5,1740.5l4.3,-4.3l4.3,4.3l-4.3,4.3zM1037.6,1738.8l4.3,-4.3l4.3,4.3l-4.3,4.3zM1044.4,1741.2l4.3,-4.3l4.3,4.3l-4.3,4.3zM1048.3,1740.3l4.3,-4.3l4.3,4.3l-4.3,4.3zM1056.3,1737.9l4.3,-4.3l4.3,4.3l-4.3,4.3zM1059.5,1741.5l4.3,-4.3l4.3,4.3l-4.3,4.3zM1064.5,1740.7l4.3,-4.3l4.3,4.3l-4.3,4.3zM1071.6,1738.8l4.3,-4.3l4.3,4.3l-4.3,4.3zM1076.5,1739l4.3,-4.3l4.3,4.3l-4.3,4.3zM1083.8,1740.5l4.3,-4.3l4.3,4.3l-4.3,4.3zM1091.7,1740.3l4.3,-4.3l4.3,4.3l-4.3,4.3zM1094.9,1740l4.3,-4.3l4.3,4.3l-4.3,4.3zM1104.2,1738.8l4.3,-4.3l4.3,4.3l-4.3,4.3zM1109.2,1738.7l4.3,-4.3l4.3,4.3l-4.3,4.3zM1113.6,1740.1l4.3,-4.3l4.3,4.3l-4.3,4.3zM890.9,1744.9l4.3,-4.3l4.3,4.3l-4.3,4.3zM896.2,1745.8l4.3,-4.3l4.3,4.3l-4.3,4.3zM902,1744l4.3,-4.3l4.3,4.3l-4.3,4.3zM908.5,1746.4l4.3,-4.3l4.3,4.3l-4.3,4.3zM913.6,1746.2l4.3,-4.3l4.3,4.3l-4.3,4.3zM918.8,1744.5l4.3,-4.3l4.3,4.3l-4.3,4.3zM926.2,1743.9l4.3,-4.3l4.3,4.3l-4.3,4.3zM932.6,1745.9l4.3,-4.3l4.3,4.3l-4.3,4.3zM936.2,1744.3l4.3,-4.3l4.3,4.3l-4.3,4.3zM945,1744.8l4.3,-4.3l4.3,4.3l-4.3,4.3zM947.5,1746l4.3,-4.3l4.3,4.3l-4.3,4.3zM954.1,1744.6l4.3,-4.3l4.3,4.3l-4.3,4.3zM963.1,1745.8l4.3,-4.3l4.3,4.3l-4.3,4.3zM968.4,1742.7l4.3,-4.3l4.3,4.3l-4.3,4.3zM972.3,1743.1l4.3,-4.3l4.3,4.3l-4.3,4.3zM981.4,1743.5l4.3,-4.3l4.3,4.3l-4.3,4.3zM984,1745.6l4.3,-4.3l4.3,4.3l-4.3,4.3zM992.6,1745.6l4.3,-4.3l4.3,4.3l-4.3,4.3zM997.5,1746.3l4.3,-4.3l4.3,4.3l-4.3,4.3zM1003.8,1742.8l4.3,-4.3l4.3,4.3l-4.3,4.3zM1010.8,1742.6l4.3,-4.3l4.3,4.3l-4.3,4.3zM1017.5,1745l4.3,-4.3l4.3,4.3l-4.3,4.3zM1021.9,1743.6l4.3,-4.3l4.3,4.3l-4.3,4.3zM1028.9,1744.1l4.3,-4.3l4.3,4.3l-4.3,4.3zM1033.7,1742.8l4.3,-4.3l4.3,4.3l-4.3,4.3zM1040.1,1746.1l4.3,-4.3l4.3,4.3l-4.3,4.3zM1045.9,1746l4.3,-4.3l4.3,4.3l-4.3,4.3zM1051.7,1744.9l4.3,-4.3l4.3,4.3l-4.3,4.3zM1058.8,1743.4l4.3,-4.3l4.3,4.3l-4.3,4.3zM1062.9,1746l4.3,-4.3l4.3,4.3l-4.3,4.3zM1070.4,1746.4l4.3,-4.3l4.3,4.3l-4.3,4.3zM1076.4,1745.4l4.3,-4.3l4.3,4.3l-4.3,4.3zM1082,1743.5l4.3,-4.3l4.3,4.3l-4.3,4.3zM1088.6,1746l4.3,-4.3l4.3,4.3l-4.3,4.3zM1092.3,1744.2l4.3,-4.3l4.3,4.3l-4.3,4.3zM1099.1,1745.7l4.3,-4.3l4.3,4.3l-4.3,4.3zM1103.6,1743.1l4.3,-4.3l4.3,4.3l-4.3,4.3zM1113.2,1745.8l4.3,-4.3l4.3,4.3l-4.3,4.3zM1117,1743.3l4.3,-4.3l4.3,4.3l-4.3,4.3zM900.3,1751.6l4.3,-4.3l4.3,4.3l-4.3,4.3zM902.4,1748.6l4.3,-4.3l4.3,4.3l-4.3,4.3zM908.7,1750.9l4.3,-4.3l4.3,4.3l-4.3,4.3zM914.9,1750.7l4.3,-4.3l4.3,4.3l-4.3,4.3zM921.1,1748.2l4.3,-4.3l4.3,4.3l-4.3,4.3zM927.7,1751.2l4.3,-4.3l4.3,4.3l-4.3,4.3zM933.3,1748.2l4.3,-4.3l4.3,4.3l-4.3,4.3zM941.6,1748.5l4.3,-4.3l4.3,4.3l-4.3,4.3zM946.7,1749.4l4.3,-4.3l4.3,4.3l-4.3,4.3zM953.3,1749.5l4.3,-4.3l4.3,4.3l-4.3,4.3zM957.3,1747.9l4.3,-4.3l4.3,4.3l-4.3,4.3zM965.8,1748.3l4.3,-4.3l4.3,4.3l-4.3,4.3zM969.4,1749.8l4.3,-4.3l4.3,4.3l-4.3,4.3zM978.3,1748.9l4.3,-4.3l4.3,4.3l-4.3,4.3zM981.7,1748.8l4.3,-4.3l4.3,4.3l-4.3,4.3zM988.2,1751.2l4.3,-4.3l4.3,4.3l-4.3,4.3zM994.7,1749.7l4.3,-4.3l4.3,4.3l-4.3,4.3zM999.6,1748.8l4.3,-4.3l4.3,4.3l-4.3,4.3zM1006.2,1750.8l4.3,-4.3l4.3,4.3l-4.3,4.3zM1014.1,1750.8l4.3,-4.3l4.3,4.3l-4.3,4.3zM1017.2,1751.3l4.3,-4.3l4.3,4.3l-4.3,4.3zM1023.6,1748.8l4.3,-4.3l4.3,4.3l-4.3,4.3zM1030.3,1747.8l4.3,-4.3l4.3,4.3l-4.3,4.3zM1036.5,1751.4l4.3,-4.3l4.3,4.3l-4.3,4.3zM1040.8,1751.5l4.3,-4.3l4.3,4.3l-4.3,4.3zM1048,1748.5l4.3,-4.3l4.3,4.3l-4.3,4.3zM1054.6,1747.8l4.3,-4.3l4.3,4.3l-4.3,4.3zM1059.7,1750.6l4.3,-4.3l4.3,4.3l-4.3,4.3zM1065.6,1750.5l4.3,-4.3l4.3,4.3l-4.3,4.3zM1071.5,1750.6l4.3,-4.3l4.3,4.3l-4.3,4.3zM1079.3,1749.8l4.3,-4.3l4.3,4.3l-4.3,4.3zM1084.2,1748.3l4.3,-4.3l4.3,4.3l-4.3,4.3zM1088.7,1749.5l4.3,-4.3l4.3,4.3l-4.3,4.3zM1095.7,1750.9l4.3,-4.3l4.3,4.3l-4.3,4.3zM1100.8,1747.8l4.3,-4.3l4.3,4.3l-4.3,4.3zM1107.7,1749.7l4.3,-4.3l4.3,4.3l-4.3,4.3zM1115.4,1750.1l4.3,-4.3l4.3,4.3l-4.3,4.3zM1119.4,1747.7l4.3,-4.3l4.3,4.3l-4.3,4.3zM901.3,1753.1l4.3,-4.3l4.3,4.3l-4.3,4.3zM908.5,1752.3l4.3,-4.3l4.3,4.3l-4.3,4.3zM915,1754.5l4.3,-4.3l4.3,4.3l-4.3,4.3zM920.8,1754.3l4.3,-4.3l4.3,4.3l-4.3,4.3zM923.9,1754.2l4.3,-4.3l4.3,4.3l-4.3,4.3zM930.2,1754.5l4.3,-4.3l4.3,4.3l-4.3,4.3zM935.3,1755.1l4.3,-4.3l4.3,4.3l-4.3,4.3zM944.6,1754.6l4.3,-4.3l4.3,4.3l-4.3,4.3zM948.8,1755l4.3,-4.3l4.3,4.3l-4.3,4.3zM955,1756.3l4.3,-4.3l4.3,4.3l-4.3,4.3zM963.1,1754l4.3,-4.3l4.3,4.3l-4.3,4.3zM968.7,1753.2l4.3,-4.3l4.3,4.3l-4.3,4.3zM975.2,1755l4.3,-4.3l4.3,4.3l-4.3,4.3zM977.3,1754.9l4.3,-4.3l4.3,4.3l-4.3,4.3zM984.9,1754.9l4.3,-4.3l4.3,4.3l-4.3,4.3zM989.8,1753.6l4.3,-4.3l4.3,4.3l-4.3,4.3zM999.2,1754.6l4.3,-4.3l4.3,4.3l-4.3,4.3zM1003.4,1755l4.3,-4.3l4.3,4.3l-4.3,4.3zM1007.8,1752.8l4.3,-4.3l4.3,4.3l-4.3,4.3zM1015,1753.7l4.3,-4.3l4.3,4.3l-4.3,4.3zM1021.3,1754.5l4.3,-4.3l4.3,4.3l-4.3,4.3zM1025.6,1753.4l4.3,-4.3l4.3,4.3l-4.3,4.3zM1034.7,1755.3l4.3,-4.3l4.3,4.3l-4.3,4.3zM1039.9,1752.4l4.3,-4.3l4.3,4.3l-4.3,4.3zM1046.1,1752.6l4.3,-4.3l4.3,4.3l-4.3,4.3zM1050.2,1753.3l4.3,-4.3l4.3,4.3l-4.3,4.3zM1059.5,1753.7l4.3,-4.3l4.3,4.3l-4.3,4.3zM1062.6,1752.6l4.3,-4.3l4.3,4.3l-4.3,4.3zM1069.1,1755.5l4.3,-4.3l4.3,4.3l-4.3,4.3zM1074.7,1754l4.3,-4.3l4.3,4.3l-4.3,4.3zM1079.8,1752.9l4.3,-4.3l4.3,4.3l-4.3,4.3zM1085.8,1755.7l4.3,-4.3l4.3,4.3l-4.3,4.3zM1094.9,1754.2l4.3,-4.3l4.3,4.3l-4.3,4.3zM1099.7,1753.8l4.3,-4.3l4.3,4.3l-4.3,4.3zM1106.2,1753.1l4.3,-4.3l4.3,4.3l-4.3,4.3zM1110.8,1755.2l4.3,-4.3l4.3,4.3l-4.3,4.3zM1116.8,1756.4l4.3,-4.3l4.3,4.3l-4.3,4.3zM1123.3,1752.2l4.3,-4.3l4.3,4.3l-4.3,4.3zM1129.3,1755.8l4.3,-4.3l4.3,4.3l-4.3,4.3zM909.1,1757.2l4.3,-4.3l4.3,4.3l-4.3,4.3zM917.7,1759.6l4.3,-4.3l4.3,4.3l-4.3,4.3zM924,1760.5l4.3,-4.3l4.3,4.3l-4.3,4.3zM926.8,1758.1l4.3,-4.3l4.3,4.3l-4.3,4.3zM935.9,1759.3l4.3,-4.3l4.3,4.3l-4.3,4.3zM941.6,1760.8l4.3,-4.3l4.3,4.3l-4.3,4.3zM944.4,1758.1l4.3,-4.3l4.3,4.3l-4.3,4.3zM950.6,1758l4.3,-4.3l4.3,4.3l-4.3,4.3zM957.9,1760.8l4.3,-4.3l4.3,4.3l-4.3,4.3zM963.2,1759.1l4.3,-4.3l4.3,4.3l-4.3,4.3zM970.1,1761l4.3,-4.3l4.3,4.3l-4.3,4.3zM977.1,1758.7l4.3,-4.3l4.3,4.3l-4.3,4.3zM980.7,1758.1l4.3,-4.3l4.3,4.3l-4.3,4.3zM986.8,1761.2l4.3,-4.3l4.3,4.3l-4.3,4.3zM993.5,1757.7l4.3,-4.3l4.3,4.3l-4.3,4.3zM998.4,1757.7l4.3,-4.3l4.3,4.3l-4.3,4.3zM1006.8,1759.1l4.3,-4.3l4.3,4.3l-4.3,4.3zM1012.7,1760l4.3,-4.3l4.3,4.3l-4.3,4.3zM1017.1,1759.5l4.3,-4.3l4.3,4.3l-4.3,4.3zM1024.8,1761.1l4.3,-4.3l4.3,4.3l-4.3,4.3zM1030,1757.9l4.3,-4.3l4.3,4.3l-4.3,4.3zM1035.2,1760l4.3,-4.3l4.3,4.3l-4.3,4.3zM1043.7,1758.3l4.3,-4.3l4.3,4.3l-4.3,4.3zM1049.8,1760.9l4.3,-4.3l4.3,4.3l-4.3,4.3zM1053.9,1757.4l4.3,-4.3l4.3,4.3l-4.3,4.3zM1062.2,1758.1l4.3,-4.3l4.3,4.3l-4.3,4.3zM1068.5,1758.7l4.3,-4.3l4.3,4.3l-4.3,4.3zM1072.4,1758.9l4.3,-4.3l4.3,4.3l-4.3,4.3zM1076.6,1758.5l4.3,-4.3l4.3,4.3l-4.3,4.3zM1082.7,1759l4.3,-4.3l4.3,4.3l-4.3,4.3zM1088.8,1759.6l4.3,-4.3l4.3,4.3l-4.3,4.3zM1096.6,1760.9l4.3,-4.3l4.3,4.3l-4.3,4.3zM1103.7,1759.6l4.3,-4.3l4.3,4.3l-4.3,4.3zM1109.6,1758.7l4.3,-4.3l4.3,4.3l-4.3,4.3zM1115.7,1759.6l4.3,-4.3l4.3,4.3l-4.3,4.3zM1121.8,1760.7l4.3,-4.3l4.3,4.3l-4.3,4.3zM1127.1,1760.8l4.3,-4.3l4.3,4.3l-4.3,4.3zM1130.4,1760.9l4.3,-4.3l4.3,4.3l-4.3,4.3zM947.8,1762.6l4.3,-4.3l4.3,4.3l-4.3,4.3zM956.5,1761.9l4.3,-4.3l4.3,4.3l-4.3,4.3zM960.2,1763.8l4.3,-4.3l4.3,4.3l-4.3,4.3zM980.7,1764.1l4.3,-4.3l4.3,4.3l-4.3,4.3zM986.6,1763.6l4.3,-4.3l4.3,4.3l-4.3,4.3zM989.8,1765.7l4.3,-4.3l4.3,4.3l-4.3,4.3zM996.2,1764.2l4.3,-4.3l4.3,4.3l-4.3,4.3zM1004.1,1763.9l4.3,-4.3l4.3,4.3l-4.3,4.3zM1008.8,1762.1l4.3,-4.3l4.3,4.3l-4.3,4.3zM1015.1,1762.1l4.3,-4.3l4.3,4.3l-4.3,4.3zM1021.6,1763.7l4.3,-4.3l4.3,4.3l-4.3,4.3zM1025.6,1763.3l4.3,-4.3l4.3,4.3l-4.3,4.3zM1033.2,1762.9l4.3,-4.3l4.3,4.3l-4.3,4.3zM1041.3,1763l4.3,-4.3l4.3,4.3l-4.3,4.3zM1043.6,1762l4.3,-4.3l4.3,4.3l-4.3,4.3zM1049.6,1763.6l4.3,-4.3l4.3,4.3l-4.3,4.3zM1055.4,1763.7l4.3,-4.3l4.3,4.3l-4.3,4.3zM1065.2,1762.9l4.3,-4.3l4.3,4.3l-4.3,4.3zM1070.3,1764.1l4.3,-4.3l4.3,4.3l-4.3,4.3zM1074,1763.6l4.3,-4.3l4.3,4.3l-4.3,4.3zM1079.4,1763.6l4.3,-4.3l4.3,4.3l-4.3,4.3zM1085.7,1762.3l4.3,-4.3l4.3,4.3l-4.3,4.3zM1093.2,1763.4l4.3,-4.3l4.3,4.3l-4.3,4.3zM1098.1,1762.5l4.3,-4.3l4.3,4.3l-4.3,4.3zM1104.5,1765.8l4.3,-4.3l4.3,4.3l-4.3,4.3zM1113.4,1763.1l4.3,-4.3l4.3,4.3l-4.3,4.3zM1115.4,1763.8l4.3,-4.3l4.3,4.3l-4.3,4.3zM1125,1762.8l4.3,-4.3l4.3,4.3l-4.3,4.3zM1131.5,1763.6l4.3,-4.3l4.3,4.3l-4.3,4.3zM1134.4,1762.1l4.3,-4.3l4.3,4.3l-4.3,4.3zM984.1,1769.7l4.3,-4.3l4.3,4.3l-4.3,4.3zM990,1769l4.3,-4.3l4.3,4.3l-4.3,4.3zM995.6,1767.6l4.3,-4.3l4.3,4.3l-4.3,4.3zM999.5,1767l4.3,-4.3l4.3,4.3l-4.3,4.3zM1004.9,1769.9l4.3,-4.3l4.3,4.3l-4.3,4.3zM1010.7,1769.8l4.3,-4.3l4.3,4.3l-4.3,4.3zM1017.4,1770.1l4.3,-4.3l4.3,4.3l-4.3,4.3zM1026.4,1766.8l4.3,-4.3l4.3,4.3l-4.3,4.3zM1030.7,1769.4l4.3,-4.3l4.3,4.3l-4.3,4.3zM1036.2,1766.7l4.3,-4.3l4.3,4.3l-4.3,4.3zM1042.4,1769.6l4.3,-4.3l4.3,4.3l-4.3,4.3zM1048.5,1767.3l4.3,-4.3l4.3,4.3l-4.3,4.3zM1054.6,1766.7l4.3,-4.3l4.3,4.3l-4.3,4.3zM1059,1768l4.3,-4.3l4.3,4.3l-4.3,4.3zM1066.3,1768.2l4.3,-4.3l4.3,4.3l-4.3,4.3zM1071.4,1770.5l4.3,-4.3l4.3,4.3l-4.3,4.3zM1076.7,1767.3l4.3,-4.3l4.3,4.3l-4.3,4.3zM1085.4,1767.9l4.3,-4.3l4.3,4.3l-4.3,4.3zM1091.9,1770.2l4.3,-4.3l4.3,4.3l-4.3,4.3zM1096.4,1769.3l4.3,-4.3l4.3,4.3l-4.3,4.3zM1101.9,1769.7l4.3,-4.3l4.3,4.3l-4.3,4.3zM1110.4,1769.2l4.3,-4.3l4.3,4.3l-4.3,4.3zM1113.8,1770.5l4.3,-4.3l4.3,4.3l-4.3,4.3zM1133,1767.1l4.3,-4.3l4.3,4.3l-4.3,4.3zM992.3,1773.8l4.3,-4.3l4.3,4.3l-4.3,4.3zM998.6,1772.4l4.3,-4.3l4.3,4.3l-4.3,4.3zM1003.1,1772.5l4.3,-4.3l4.3,4.3l-4.3,4.3zM1007.3,1774.4l4.3,-4.3l4.3,4.3l-4.3,4.3zM1015.8,1772.4l4.3,-4.3l4.3,4.3l-4.3,4.3zM1022.7,1774.5l4.3,-4.3l4.3,4.3l-4.3,4.3zM1028.5,1773.9l4.3,-4.3l4.3,4.3l-4.3,4.3zM1032.6,1774.2l4.3,-4.3l4.3,4.3l-4.3,4.3zM1038.4,1773.6l4.3,-4.3l4.3,4.3l-4.3,4.3zM1046.7,1773.5l4.3,-4.3l4.3,4.3l-4.3,4.3zM1052.9,1774.9l4.3,-4.3l4.3,4.3l-4.3,4.3zM1057.2,1773l4.3,-4.3l4.3,4.3l-4.3,4.3zM1062.5,1773.4l4.3,-4.3l4.3,4.3l-4.3,4.3zM1067.7,1774.9l4.3,-4.3l4.3,4.3l-4.3,4.3zM1074.3,1771.7l4.3,-4.3l4.3,4.3l-4.3,4.3zM1079.9,1772.9l4.3,-4.3l4.3,4.3l-4.3,4.3zM1086.7,1774l4.3,-4.3l4.3,4.3l-4.3,4.3zM1092.7,1772.3l4.3,-4.3l4.3,4.3l-4.3,4.3zM1099.3,1773.5l4.3,-4.3l4.3,4.3l-4.3,4.3zM1105.5,1773l4.3,-4.3l4.3,4.3l-4.3,4.3zM1111.6,1775.5l4.3,-4.3l4.3,4.3l-4.3,4.3zM1000.3,1777.1l4.3,-4.3l4.3,4.3l-4.3,4.3zM1013.3,1778.6l4.3,-4.3l4.3,4.3l-4.3,4.3zM1016.7,1780.2l4.3,-4.3l4.3,4.3l-4.3,4.3zM1026,1779.7l4.3,-4.3l4.3,4.3l-4.3,4.3zM1031.4,1776.5l4.3,-4.3l4.3,4.3l-4.3,4.3zM1035.6,1778.2l4.3,-4.3l4.3,4.3l-4.3,4.3zM1042.8,1777.1l4.3,-4.3l4.3,4.3l-4.3,4.3zM1050,1778.3l4.3,-4.3l4.3,4.3l-4.3,4.3zM1055.3,1779.9l4.3,-4.3l4.3,4.3l-4.3,4.3zM1059.4,1777l4.3,-4.3l4.3,4.3l-4.3,4.3zM1066.7,1776.7l4.3,-4.3l4.3,4.3l-4.3,4.3zM1070.4,1776.3l4.3,-4.3l4.3,4.3l-4.3,4.3zM1079.6,1779.7l4.3,-4.3l4.3,4.3l-4.3,4.3zM1083.9,1778.2l4.3,-4.3l4.3,4.3l-4.3,4.3zM1090.7,1777.5l4.3,-4.3l4.3,4.3l-4.3,4.3zM1095.7,1777.8l4.3,-4.3l4.3,4.3l-4.3,4.3zM1101.4,1779.1l4.3,-4.3l4.3,4.3l-4.3,4.3zM1108.6,1776.7l4.3,-4.3l4.3,4.3l-4.3,4.3zM1112.7,1779.3l4.3,-4.3l4.3,4.3l-4.3,4.3zM1016.9,1784.8l4.3,-4.3l4.3,4.3l-4.3,4.3zM1019.7,1785l4.3,-4.3l4.3,4.3l-4.3,4.3zM1029.2,1782.5l4.3,-4.3l4.3,4.3l-4.3,4.3zM1033.1,1784.4l4.3,-4.3l4.3,4.3l-4.3,4.3zM1037.6,1784.4l4.3,-4.3l4.3,4.3l-4.3,4.3zM1043.4,1783.6l4.3,-4.3l4.3,4.3l-4.3,4.3zM1049.5,1782.9l4.3,-4.3l4.3,4.3l-4.3,4.3zM1058.3,1783.3l4.3,-4.3l4.3,4.3l-4.3,4.3zM1062.8,1782.1l4.3,-4.3l4.3,4.3l-4.3,4.3zM1067.7,1782.2l4.3,-4.3l4.3,4.3l-4.3,4.3zM1074.2,1782l4.3,-4.3l4.3,4.3l-4.3,4.3zM1079.8,1781.8l4.3,-4.3l4.3,4.3l-4.3,4.3zM1087,1781.4l4.3,-4.3l4.3,4.3l-4.3,4.3zM1094.3,1782.2l4.3,-4.3l4.3,4.3l-4.3,4.3zM1100.6,1783.4l4.3,-4.3l4.3,4.3l-4.3,4.3zM1106.3,1784.1l4.3,-4.3l4.3,4.3l-4.3,4.3zM1026.1,1787l4.3,-4.3l4.3,4.3l-4.3,4.3zM1032.3,1786.4l4.3,-4.3l4.3,4.3l-4.3,4.3zM1037.1,1786.3l4.3,-4.3l4.3,4.3l-4.3,4.3zM1042.7,1789.9l4.3,-4.3l4.3,4.3l-4.3,4.3zM1049.4,1788.7l4.3,-4.3l4.3,4.3l-4.3,4.3zM1055.1,1789.3l4.3,-4.3l4.3,4.3l-4.3,4.3zM1060.4,1789.5l4.3,-4.3l4.3,4.3l-4.3,4.3zM1067.3,1788.8l4.3,-4.3l4.3,4.3l-4.3,4.3zM1071.3,1789.1l4.3,-4.3l4.3,4.3l-4.3,4.3zM1080.3,1786.1l4.3,-4.3l4.3,4.3l-4.3,4.3zM1084.2,1788.7l4.3,-4.3l4.3,4.3l-4.3,4.3zM1091.7,1789.2l4.3,-4.3l4.3,4.3l-4.3,4.3zM1095.6,1787.8l4.3,-4.3l4.3,4.3l-4.3,4.3zM1103.4,1789.9l4.3,-4.3l4.3,4.3l-4.3,4.3zM1106.8,1785.9l4.3,-4.3l4.3,4.3l-4.3,4.3zM1031.5,1791.5l4.3,-4.3l4.3,4.3l-4.3,4.3zM1045.2,1794.7l4.3,-4.3l4.3,4.3l-4.3,4.3zM1050,1791l4.3,-4.3l4.3,4.3l-4.3,4.3zM1055.3,1791.9l4.3,-4.3l4.3,4.3l-4.3,4.3zM1064.7,1792.1l4.3,-4.3l4.3,4.3l-4.3,4.3zM1069.5,1791.8l4.3,-4.3l4.3,4.3l-4.3,4.3zM1074.5,1793.7l4.3,-4.3l4.3,4.3l-4.3,4.3zM1079.3,1792.9l4.3,-4.3l4.3,4.3l-4.3,4.3zM1089.3,1791.9l4.3,-4.3l4.3,4.3l-4.3,4.3zM1093.4,1793.3l4.3,-4.3l4.3,4.3l-4.3,4.3zM1098.5,1791.4l4.3,-4.3l4.3,4.3l-4.3,4.3zM1090.5,1798.3l4.3,-4.3l4.3,4.3l-4.3,4.3z" fill="#000" clip-path="url(#cB4)"/>
<path d="M1150.7,1717.9l4.3,-4.3l4.3,4.3l-4.3,4.3zM1139.7,1721.6l4.3,-4.3l4.3,4.3l-4.3,4.3zM1147.3,1721.1l4.3,-4.3l4.3,4.3l-4.3,4.3zM1150.2,1721.4l4.3,-4.3l4.3,4.3l-4.3,4.3zM1156,1719.4l4.3,-4.3l4.3,4.3l-4.3,4.3zM1162.7,1721.9l4.3,-4.3l4.3,4.3l-4.3,4.3zM1169.1,1721.9l4.3,-4.3l4.3,4.3l-4.3,4.3zM1143.6,1725.1l4.3,-4.3l4.3,4.3l-4.3,4.3zM1147.5,1726.5l4.3,-4.3l4.3,4.3l-4.3,4.3zM1155.4,1725.7l4.3,-4.3l4.3,4.3l-4.3,4.3zM1159.5,1726.5l4.3,-4.3l4.3,4.3l-4.3,4.3zM1167.2,1725.6l4.3,-4.3l4.3,4.3l-4.3,4.3zM1171.6,1727.7l4.3,-4.3l4.3,4.3l-4.3,4.3zM1136.1,1731l4.3,-4.3l4.3,4.3l-4.3,4.3zM1139.3,1729.1l4.3,-4.3l4.3,4.3l-4.3,4.3zM1146.5,1730.8l4.3,-4.3l4.3,4.3l-4.3,4.3zM1151.7,1732.8l4.3,-4.3l4.3,4.3l-4.3,4.3zM1159.4,1729.1l4.3,-4.3l4.3,4.3l-4.3,4.3zM1165.6,1728.6l4.3,-4.3l4.3,4.3l-4.3,4.3zM1170.6,1729.9l4.3,-4.3l4.3,4.3l-4.3,4.3zM1177,1732.6l4.3,-4.3l4.3,4.3l-4.3,4.3zM1135.4,1735.3l4.3,-4.3l4.3,4.3l-4.3,4.3zM1142.3,1733.7l4.3,-4.3l4.3,4.3l-4.3,4.3zM1150,1733.8l4.3,-4.3l4.3,4.3l-4.3,4.3zM1154,1733.8l4.3,-4.3l4.3,4.3l-4.3,4.3zM1161.7,1734.7l4.3,-4.3l4.3,4.3l-4.3,4.3zM1165.1,1733.5l4.3,-4.3l4.3,4.3l-4.3,4.3zM1171.8,1735.5l4.3,-4.3l4.3,4.3l-4.3,4.3zM1177,1733.5l4.3,-4.3l4.3,4.3l-4.3,4.3zM1134.7,1740.4l4.3,-4.3l4.3,4.3l-4.3,4.3zM1138.5,1739.5l4.3,-4.3l4.3,4.3l-4.3,4.3zM1144.4,1739.4l4.3,-4.3l4.3,4.3l-4.3,4.3zM1151.5,1739.1l4.3,-4.3l4.3,4.3l-4.3,4.3zM1156.7,1739.2l4.3,-4.3l4.3,4.3l-4.3,4.3zM1163.2,1740.5l4.3,-4.3l4.3,4.3l-4.3,4.3zM1175.8,1738.2l4.3,-4.3l4.3,4.3l-4.3,4.3zM1138.7,1744.2l4.3,-4.3l4.3,4.3l-4.3,4.3zM1142.4,1744.3l4.3,-4.3l4.3,4.3l-4.3,4.3zM1149.7,1743.4l4.3,-4.3l4.3,4.3l-4.3,4.3zM1154.1,1746.7l4.3,-4.3l4.3,4.3l-4.3,4.3zM1160.5,1747.1l4.3,-4.3l4.3,4.3l-4.3,4.3zM1135.8,1750.7l4.3,-4.3l4.3,4.3l-4.3,4.3zM1140.1,1751.7l4.3,-4.3l4.3,4.3l-4.3,4.3zM1146.2,1751.9l4.3,-4.3l4.3,4.3l-4.3,4.3zM1152.9,1748.6l4.3,-4.3l4.3,4.3l-4.3,4.3zM1157.1,1751.4l4.3,-4.3l4.3,4.3l-4.3,4.3zM1144.6,1754.2l4.3,-4.3l4.3,4.3l-4.3,4.3zM1150.5,1754.3l4.3,-4.3l4.3,4.3l-4.3,4.3zM1154,1756l4.3,-4.3l4.3,4.3l-4.3,4.3zM1147.3,1757.5l4.3,-4.3l4.3,4.3l-4.3,4.3zM1150.4,1758.4l4.3,-4.3l4.3,4.3l-4.3,4.3z" fill="#000" clip-path="url(#cB4)"/>
<path d="M1232.1,1728l4.3,-4.3l4.3,4.3l-4.3,4.3zM1203.5,1736.2l4.3,-4.3l4.3,4.3l-4.3,4.3zM1210.9,1734.6l4.3,-4.3l4.3,4.3l-4.3,4.3zM1216.4,1734.3l4.3,-4.3l4.3,4.3l-4.3,4.3zM1221.8,1732.5l4.3,-4.3l4.3,4.3l-4.3,4.3zM1230.6,1733.3l4.3,-4.3l4.3,4.3l-4.3,4.3zM1236.3,1733.2l4.3,-4.3l4.3,4.3l-4.3,4.3zM1204.1,1740.9l4.3,-4.3l4.3,4.3l-4.3,4.3zM1209.2,1740.3l4.3,-4.3l4.3,4.3l-4.3,4.3zM1214.4,1740.2l4.3,-4.3l4.3,4.3l-4.3,4.3zM1218.5,1739.1l4.3,-4.3l4.3,4.3l-4.3,4.3zM1227.5,1737.9l4.3,-4.3l4.3,4.3l-4.3,4.3zM1233.9,1740.8l4.3,-4.3l4.3,4.3l-4.3,4.3zM1237.7,1738.6l4.3,-4.3l4.3,4.3l-4.3,4.3zM1207.2,1743.5l4.3,-4.3l4.3,4.3l-4.3,4.3zM1209.1,1742.3l4.3,-4.3l4.3,4.3l-4.3,4.3zM1218,1746.1l4.3,-4.3l4.3,4.3l-4.3,4.3zM1223.1,1744l4.3,-4.3l4.3,4.3l-4.3,4.3zM1229.3,1745l4.3,-4.3l4.3,4.3l-4.3,4.3zM1233.9,1744.5l4.3,-4.3l4.3,4.3l-4.3,4.3zM1202.3,1749.3l4.3,-4.3l4.3,4.3l-4.3,4.3zM1206.8,1747.4l4.3,-4.3l4.3,4.3l-4.3,4.3zM1219.5,1749.2l4.3,-4.3l4.3,4.3l-4.3,4.3zM1225.3,1747.1l4.3,-4.3l4.3,4.3l-4.3,4.3zM1230.3,1750.1l4.3,-4.3l4.3,4.3l-4.3,4.3zM1199.9,1754.3l4.3,-4.3l4.3,4.3l-4.3,4.3z" fill="#000" clip-path="url(#cB4)"/>
<path d="M857.8,1727.6L877,1704.5L897.9,1681L916.1,1656.9L925.5,1648.6L934.6,1635.3L942.4,1643.4L947.8,1634.7L955.3,1634.8L969.2,1640L979.1,1648.9L972.8,1657L966.7,1664.9L982.7,1672.4L995.3,1686.7L1045.1,1711L1085,1711.3L1105.1,1724L1105.3,1743.3L1075.7,1757.4L1046.3,1761.7L998.1,1760.4L960.8,1755.1L932.8,1750.9L904,1745L874.6,1738ZM946.3,1631.5l4.3,-4.3l4.3,4.3l-4.3,4.3zM928.1,1634.1l4.3,-4.3l4.3,4.3l-4.3,4.3zM941.7,1634.1l4.3,-4.3l4.3,4.3l-4.3,4.3zM947.5,1635l4.3,-4.3l4.3,4.3l-4.3,4.3zM952.6,1634.3l4.3,-4.3l4.3,4.3l-4.3,4.3zM955.6,1634.8l4.3,-4.3l4.3,4.3l-4.3,4.3zM960.1,1634.1l4.3,-4.3l4.3,4.3l-4.3,4.3zM922.5,1638.7l4.3,-4.3l4.3,4.3l-4.3,4.3zM926.2,1637.3l4.3,-4.3l4.3,4.3l-4.3,4.3zM932.2,1638.5l4.3,-4.3l4.3,4.3l-4.3,4.3zM939.5,1636.1l4.3,-4.3l4.3,4.3l-4.3,4.3zM946.9,1635.9l4.3,-4.3l4.3,4.3l-4.3,4.3zM951.3,1638.2l4.3,-4.3l4.3,4.3l-4.3,4.3zM955.1,1638.1l4.3,-4.3l4.3,4.3l-4.3,4.3zM959.6,1636.7l4.3,-4.3l4.3,4.3l-4.3,4.3zM963.5,1636.4l4.3,-4.3l4.3,4.3l-4.3,4.3zM920.3,1642.2l4.3,-4.3l4.3,4.3l-4.3,4.3zM925.1,1642l4.3,-4.3l4.3,4.3l-4.3,4.3zM927.8,1639.9l4.3,-4.3l4.3,4.3l-4.3,4.3zM932.5,1641.4l4.3,-4.3l4.3,4.3l-4.3,4.3zM939.1,1639.9l4.3,-4.3l4.3,4.3l-4.3,4.3zM943,1639.8l4.3,-4.3l4.3,4.3l-4.3,4.3zM948.2,1641.9l4.3,-4.3l4.3,4.3l-4.3,4.3zM950.9,1642.6l4.3,-4.3l4.3,4.3l-4.3,4.3zM957.3,1639.8l4.3,-4.3l4.3,4.3l-4.3,4.3zM960.9,1639.9l4.3,-4.3l4.3,4.3l-4.3,4.3zM966.7,1642.4l4.3,-4.3l4.3,4.3l-4.3,4.3zM969.6,1640l4.3,-4.3l4.3,4.3l-4.3,4.3zM922.1,1645l4.3,-4.3l4.3,4.3l-4.3,4.3zM927.3,1645.1l4.3,-4.3l4.3,4.3l-4.3,4.3zM930.8,1645.2l4.3,-4.3l4.3,4.3l-4.3,4.3zM937.6,1644.7l4.3,-4.3l4.3,4.3l-4.3,4.3zM941.2,1645.8l4.3,-4.3l4.3,4.3l-4.3,4.3zM944.5,1644l4.3,-4.3l4.3,4.3l-4.3,4.3zM951.4,1644.1l4.3,-4.3l4.3,4.3l-4.3,4.3zM954.3,1644.3l4.3,-4.3l4.3,4.3l-4.3,4.3zM960.7,1644.9l4.3,-4.3l4.3,4.3l-4.3,4.3zM965,1643.6l4.3,-4.3l4.3,4.3l-4.3,4.3zM967.6,1645.2l4.3,-4.3l4.3,4.3l-4.3,4.3zM972.3,1645.2l4.3,-4.3l4.3,4.3l-4.3,4.3zM916.7,1647.3l4.3,-4.3l4.3,4.3l-4.3,4.3zM920.2,1649l4.3,-4.3l4.3,4.3l-4.3,4.3zM924.5,1647.8l4.3,-4.3l4.3,4.3l-4.3,4.3zM929.1,1650l4.3,-4.3l4.3,4.3l-4.3,4.3zM932.2,1649.6l4.3,-4.3l4.3,4.3l-4.3,4.3zM938.7,1648.3l4.3,-4.3l4.3,4.3l-4.3,4.3zM943.4,1648.8l4.3,-4.3l4.3,4.3l-4.3,4.3zM948.7,1649.9l4.3,-4.3l4.3,4.3l-4.3,4.3zM952.2,1647.9l4.3,-4.3l4.3,4.3l-4.3,4.3zM956.4,1649.7l4.3,-4.3l4.3,4.3l-4.3,4.3zM961.3,1647l4.3,-4.3l4.3,4.3l-4.3,4.3zM966.3,1647.2l4.3,-4.3l4.3,4.3l-4.3,4.3zM970.1,1648.9l4.3,-4.3l4.3,4.3l-4.3,4.3zM909.9,1652.6l4.3,-4.3l4.3,4.3l-4.3,4.3zM912.1,1652.7l4.3,-4.3l4.3,4.3l-4.3,4.3zM917,1651.4l4.3,-4.3l4.3,4.3l-4.3,4.3zM922,1650.6l4.3,-4.3l4.3,4.3l-4.3,4.3zM926.7,1651.1l4.3,-4.3l4.3,4.3l-4.3,4.3zM930.6,1651.9l4.3,-4.3l4.3,4.3l-4.3,4.3zM936.9,1652.6l4.3,-4.3l4.3,4.3l-4.3,4.3zM940.1,1652.8l4.3,-4.3l4.3,4.3l-4.3,4.3zM945,1651.6l4.3,-4.3l4.3,4.3l-4.3,4.3zM949.6,1651.4l4.3,-4.3l4.3,4.3l-4.3,4.3zM953.4,1653.6l4.3,-4.3l4.3,4.3l-4.3,4.3zM959.4,1652.6l4.3,-4.3l4.3,4.3l-4.3,4.3zM964.1,1652.1l4.3,-4.3l4.3,4.3l-4.3,4.3zM968.7,1650.5l4.3,-4.3l4.3,4.3l-4.3,4.3zM911.5,1656.7l4.3,-4.3l4.3,4.3l-4.3,4.3zM913.8,1656.2l4.3,-4.3l4.3,4.3l-4.3,4.3zM921.1,1654.3l4.3,-4.3l4.3,4.3l-4.3,4.3zM923,1657l4.3,-4.3l4.3,4.3l-4.3,4.3zM929.8,1656.4l4.3,-4.3l4.3,4.3l-4.3,4.3zM934.7,1656.1l4.3,-4.3l4.3,4.3l-4.3,4.3zM937.4,1654.7l4.3,-4.3l4.3,4.3l-4.3,4.3zM941.4,1656.3l4.3,-4.3l4.3,4.3l-4.3,4.3zM948.1,1657.3l4.3,-4.3l4.3,4.3l-4.3,4.3zM951.4,1654.6l4.3,-4.3l4.3,4.3l-4.3,4.3zM956.4,1657.2l4.3,-4.3l4.3,4.3l-4.3,4.3zM960.6,1657l4.3,-4.3l4.3,4.3l-4.3,4.3zM909.3,1658.4l4.3,-4.3l4.3,4.3l-4.3,4.3zM914.1,1659.3l4.3,-4.3l4.3,4.3l-4.3,4.3zM917.5,1658.9l4.3,-4.3l4.3,4.3l-4.3,4.3zM923.6,1658.6l4.3,-4.3l4.3,4.3l-4.3,4.3zM926.6,1658.7l4.3,-4.3l4.3,4.3l-4.3,4.3zM930.3,1657.9l4.3,-4.3l4.3,4.3l-4.3,4.3zM936.7,1660.5l4.3,-4.3l4.3,4.3l-4.3,4.3zM940.1,1659.2l4.3,-4.3l4.3,4.3l-4.3,4.3zM946.3,1658l4.3,-4.3l4.3,4.3l-4.3,4.3zM949.2,1660.2l4.3,-4.3l4.3,4.3l-4.3,4.3zM953.7,1658.6l4.3,-4.3l4.3,4.3l-4.3,4.3zM959.2,1658.7l4.3,-4.3l4.3,4.3l-4.3,4.3zM962.6,1658l4.3,-4.3l4.3,4.3l-4.3,4.3zM902.7,1662.2l4.3,-4.3l4.3,4.3l-4.3,4.3zM904.7,1663.3l4.3,-4.3l4.3,4.3l-4.3,4.3zM909.5,1663.2l4.3,-4.3l4.3,4.3l-4.3,4.3zM914.2,1661.9l4.3,-4.3l4.3,4.3l-4.3,4.3zM921.2,1663.5l4.3,-4.3l4.3,4.3l-4.3,4.3zM923.2,1663.2l4.3,-4.3l4.3,4.3l-4.3,4.3zM928.5,1663l4.3,-4.3l4.3,4.3l-4.3,4.3zM934.6,1664.4l4.3,-4.3l4.3,4.3l-4.3,4.3zM936.9,1661.5l4.3,-4.3l4.3,4.3l-4.3,4.3zM944.3,1662l4.3,-4.3l4.3,4.3l-4.3,4.3zM948.7,1663.6l4.3,-4.3l4.3,4.3l-4.3,4.3zM952.5,1663.5l4.3,-4.3l4.3,4.3l-4.3,4.3zM956.5,1664.2l4.3,-4.3l4.3,4.3l-4.3,4.3zM962.9,1662.4l4.3,-4.3l4.3,4.3l-4.3,4.3zM965.2,1662.9l4.3,-4.3l4.3,4.3l-4.3,4.3zM899.1,1667.4l4.3,-4.3l4.3,4.3l-4.3,4.3zM903.2,1665.8l4.3,-4.3l4.3,4.3l-4.3,4.3zM908.4,1666.1l4.3,-4.3l4.3,4.3l-4.3,4.3zM912.5,1667.3l4.3,-4.3l4.3,4.3l-4.3,4.3zM917.9,1665.7l4.3,-4.3l4.3,4.3l-4.3,4.3zM922.6,1668.4l4.3,-4.3l4.3,4.3l-4.3,4.3zM926.1,1667.5l4.3,-4.3l4.3,4.3l-4.3,4.3zM931,1667.5l4.3,-4.3l4.3,4.3l-4.3,4.3zM937.5,1668.3l4.3,-4.3l4.3,4.3l-4.3,4.3zM941.8,1666.1l4.3,-4.3l4.3,4.3l-4.3,4.3zM946.4,1665.6l4.3,-4.3l4.3,4.3l-4.3,4.3zM950.9,1667.3l4.3,-4.3l4.3,4.3l-4.3,4.3zM956,1666.4l4.3,-4.3l4.3,4.3l-4.3,4.3zM960.4,1666.7l4.3,-4.3l4.3,4.3l-4.3,4.3zM962.4,1668.2l4.3,-4.3l4.3,4.3l-4.3,4.3zM967.2,1667.3l4.3,-4.3l4.3,4.3l-4.3,4.3zM973.5,1667.3l4.3,-4.3l4.3,4.3l-4.3,4.3zM978,1668.2l4.3,-4.3l4.3,4.3l-4.3,4.3zM897.5,1670.4l4.3,-4.3l4.3,4.3l-4.3,4.3zM901.4,1670l4.3,-4.3l4.3,4.3l-4.3,4.3zM905.1,1671.7l4.3,-4.3l4.3,4.3l-4.3,4.3zM909.5,1669.1l4.3,-4.3l4.3,4.3l-4.3,4.3zM915.3,1671.1l4.3,-4.3l4.3,4.3l-4.3,4.3zM919.5,1671.9l4.3,-4.3l4.3,4.3l-4.3,4.3zM925.8,1670.7l4.3,-4.3l4.3,4.3l-4.3,4.3zM930.4,1671.9l4.3,-4.3l4.3,4.3l-4.3,4.3zM932.8,1669.7l4.3,-4.3l4.3,4.3l-4.3,4.3zM939.8,1670l4.3,-4.3l4.3,4.3l-4.3,4.3zM944.4,1671.3l4.3,-4.3l4.3,4.3l-4.3,4.3zM948.1,1671l4.3,-4.3l4.3,4.3l-4.3,4.3zM952.9,1671.6l4.3,-4.3l4.3,4.3l-4.3,4.3zM957.2,1669.2l4.3,-4.3l4.3,4.3l-4.3,4.3zM960,1669.3l4.3,-4.3l4.3,4.3l-4.3,4.3zM966.8,1669.4l4.3,-4.3l4.3,4.3l-4.3,4.3zM969,1669.8l4.3,-4.3l4.3,4.3l-4.3,4.3zM974.4,1671.5l4.3,-4.3l4.3,4.3l-4.3,4.3zM980.7,1668.9l4.3,-4.3l4.3,4.3l-4.3,4.3zM893.6,1673.8l4.3,-4.3l4.3,4.3l-4.3,4.3zM899.6,1673.2l4.3,-4.3l4.3,4.3l-4.3,4.3zM902.4,1673.9l4.3,-4.3l4.3,4.3l-4.3,4.3zM908.9,1672.7l4.3,-4.3l4.3,4.3l-4.3,4.3zM912.9,1673.6l4.3,-4.3l4.3,4.3l-4.3,4.3zM918.3,1672.8l4.3,-4.3l4.3,4.3l-4.3,4.3zM921,1672.7l4.3,-4.3l4.3,4.3l-4.3,4.3zM927.9,1674.6l4.3,-4.3l4.3,4.3l-4.3,4.3zM932.4,1674.6l4.3,-4.3l4.3,4.3l-4.3,4.3zM937.6,1673.5l4.3,-4.3l4.3,4.3l-4.3,4.3zM939.1,1674.7l4.3,-4.3l4.3,4.3l-4.3,4.3zM944.3,1673.1l4.3,-4.3l4.3,4.3l-4.3,4.3zM948.6,1674.7l4.3,-4.3l4.3,4.3l-4.3,4.3zM955.6,1673.1l4.3,-4.3l4.3,4.3l-4.3,4.3zM958.6,1675.5l4.3,-4.3l4.3,4.3l-4.3,4.3zM964.5,1675.8l4.3,-4.3l4.3,4.3l-4.3,4.3zM967.5,1674.6l4.3,-4.3l4.3,4.3l-4.3,4.3zM971.3,1673.9l4.3,-4.3l4.3,4.3l-4.3,4.3zM977.4,1673.3l4.3,-4.3l4.3,4.3l-4.3,4.3zM981.6,1672.6l4.3,-4.3l4.3,4.3l-4.3,4.3zM891.9,1678.7l4.3,-4.3l4.3,4.3l-4.3,4.3zM896.1,1676.2l4.3,-4.3l4.3,4.3l-4.3,4.3zM901.7,1677l4.3,-4.3l4.3,4.3l-4.3,4.3zM907.6,1677.1l4.3,-4.3l4.3,4.3l-4.3,4.3zM911.9,1677.5l4.3,-4.3l4.3,4.3l-4.3,4.3zM916.4,1678.8l4.3,-4.3l4.3,4.3l-4.3,4.3zM920.9,1678.6l4.3,-4.3l4.3,4.3l-4.3,4.3zM925.9,1679.2l4.3,-4.3l4.3,4.3l-4.3,4.3zM929.6,1679.1l4.3,-4.3l4.3,4.3l-4.3,4.3zM932.9,1676.5l4.3,-4.3l4.3,4.3l-4.3,4.3zM939.4,1678l4.3,-4.3l4.3,4.3l-4.3,4.3zM943.4,1676.3l4.3,-4.3l4.3,4.3l-4.3,4.3zM946.6,1678.7l4.3,-4.3l4.3,4.3l-4.3,4.3zM951.1,1679l4.3,-4.3l4.3,4.3l-4.3,4.3zM958.2,1678.7l4.3,-4.3l4.3,4.3l-4.3,4.3zM960.2,1678.4l4.3,-4.3l4.3,4.3l-4.3,4.3zM967.3,1676.4l4.3,-4.3l4.3,4.3l-4.3,4.3zM970.3,1676.5l4.3,-4.3l4.3,4.3l-4.3,4.3zM976.5,1676.7l4.3,-4.3l4.3,4.3l-4.3,4.3zM980.9,1678.7l4.3,-4.3l4.3,4.3l-4.3,4.3zM985.4,1679.3l4.3,-4.3l4.3,4.3l-4.3,4.3zM890.4,1680.7l4.3,-4.3l4.3,4.3l-4.3,4.3zM894.1,1681l4.3,-4.3l4.3,4.3l-4.3,4.3zM900,1682.3l4.3,-4.3l4.3,4.3l-4.3,4.3zM903.1,1682.6l4.3,-4.3l4.3,4.3l-4.3,4.3zM909.6,1680.4l4.3,-4.3l4.3,4.3l-4.3,4.3zM911.7,1681.6l4.3,-4.3l4.3,4.3l-4.3,4.3zM916.7,1683.1l4.3,-4.3l4.3,4.3l-4.3,4.3zM921.3,1682l4.3,-4.3l4.3,4.3l-4.3,4.3zM925.6,1681.9l4.3,-4.3l4.3,4.3l-4.3,4.3zM930.9,1680.7l4.3,-4.3l4.3,4.3l-4.3,4.3zM936,1680.7l4.3,-4.3l4.3,4.3l-4.3,4.3zM941.3,1682.7l4.3,-4.3l4.3,4.3l-4.3,4.3zM944.6,1681.1l4.3,-4.3l4.3,4.3l-4.3,4.3zM949.9,1682.8l4.3,-4.3l4.3,4.3l-4.3,4.3zM953.2,1680.6l4.3,-4.3l4.3,4.3l-4.3,4.3zM958,1682.8l4.3,-4.3l4.3,4.3l-4.3,4.3zM963.1,1682.5l4.3,-4.3l4.3,4.3l-4.3,4.3zM969.5,1682.8l4.3,-4.3l4.3,4.3l-4.3,4.3zM972.7,1681l4.3,-4.3l4.3,4.3l-4.3,4.3zM976.9,1681.4l4.3,-4.3l4.3,4.3l-4.3,4.3zM983.3,1680.8l4.3,-4.3l4.3,4.3l-4.3,4.3zM988.1,1682.6l4.3,-4.3l4.3,4.3l-4.3,4.3zM990.2,1680.7l4.3,-4.3l4.3,4.3l-4.3,4.3zM887,1686.7l4.3,-4.3l4.3,4.3l-4.3,4.3zM892.8,1684.9l4.3,-4.3l4.3,4.3l-4.3,4.3zM896.6,1685.2l4.3,-4.3l4.3,4.3l-4.3,4.3zM902.4,1685.9l4.3,-4.3l4.3,4.3l-4.3,4.3zM905,1685.1l4.3,-4.3l4.3,4.3l-4.3,4.3zM909.4,1683.9l4.3,-4.3l4.3,4.3l-4.3,4.3zM915.9,1684.2l4.3,-4.3l4.3,4.3l-4.3,4.3zM919.3,1686.6l4.3,-4.3l4.3,4.3l-4.3,4.3zM923.3,1684.6l4.3,-4.3l4.3,4.3l-4.3,4.3zM928.7,1685.4l4.3,-4.3l4.3,4.3l-4.3,4.3zM934.6,1684.6l4.3,-4.3l4.3,4.3l-4.3,4.3zM937.7,1686.3l4.3,-4.3l4.3,4.3l-4.3,4.3zM943.3,1685.5l4.3,-4.3l4.3,4.3l-4.3,4.3zM949.1,1684.4l4.3,-4.3l4.3,4.3l-4.3,4.3zM952,1685.5l4.3,-4.3l4.3,4.3l-4.3,4.3zM956.2,1683.7l4.3,-4.3l4.3,4.3l-4.3,4.3zM960.7,1684.7l4.3,-4.3l4.3,4.3l-4.3,4.3zM966.6,1686.6l4.3,-4.3l4.3,4.3l-4.3,4.3zM970.2,1684.8l4.3,-4.3l4.3,4.3l-4.3,4.3zM975.3,1686.4l4.3,-4.3l4.3,4.3l-4.3,4.3zM980.6,1683.9l4.3,-4.3l4.3,4.3l-4.3,4.3zM985.3,1685.1l4.3,-4.3l4.3,4.3l-4.3,4.3zM987.8,1684.3l4.3,-4.3l4.3,4.3l-4.3,4.3zM992.1,1684.5l4.3,-4.3l4.3,4.3l-4.3,4.3zM886.4,1687.6l4.3,-4.3l4.3,4.3l-4.3,4.3zM889.2,1690l4.3,-4.3l4.3,4.3l-4.3,4.3zM893.8,1689.5l4.3,-4.3l4.3,4.3l-4.3,4.3zM898.7,1690.1l4.3,-4.3l4.3,4.3l-4.3,4.3zM903.6,1689.9l4.3,-4.3l4.3,4.3l-4.3,4.3zM908.6,1687.7l4.3,-4.3l4.3,4.3l-4.3,4.3zM912.7,1688.7l4.3,-4.3l4.3,4.3l-4.3,4.3zM917.9,1690.4l4.3,-4.3l4.3,4.3l-4.3,4.3zM920.8,1687.5l4.3,-4.3l4.3,4.3l-4.3,4.3zM927,1688l4.3,-4.3l4.3,4.3l-4.3,4.3zM930.7,1688.6l4.3,-4.3l4.3,4.3l-4.3,4.3zM935,1689.9l4.3,-4.3l4.3,4.3l-4.3,4.3zM941.7,1690.4l4.3,-4.3l4.3,4.3l-4.3,4.3zM946.2,1689.7l4.3,-4.3l4.3,4.3l-4.3,4.3zM948.6,1689.4l4.3,-4.3l4.3,4.3l-4.3,4.3zM954,1688.6l4.3,-4.3l4.3,4.3l-4.3,4.3zM959.9,1688.5l4.3,-4.3l4.3,4.3l-4.3,4.3zM964.1,1688.1l4.3,-4.3l4.3,4.3l-4.3,4.3zM966.7,1687.6l4.3,-4.3l4.3,4.3l-4.3,4.3zM971.9,1688.5l4.3,-4.3l4.3,4.3l-4.3,4.3zM976.4,1689.2l4.3,-4.3l4.3,4.3l-4.3,4.3zM982,1689.5l4.3,-4.3l4.3,4.3l-4.3,4.3zM985.9,1688.4l4.3,-4.3l4.3,4.3l-4.3,4.3zM991,1690.3l4.3,-4.3l4.3,4.3l-4.3,4.3zM995.6,1687.8l4.3,-4.3l4.3,4.3l-4.3,4.3zM1001.3,1689.2l4.3,-4.3l4.3,4.3l-4.3,4.3zM1003.9,1690l4.3,-4.3l4.3,4.3l-4.3,4.3zM879.8,1693l4.3,-4.3l4.3,4.3l-4.3,4.3zM882,1691.4l4.3,-4.3l4.3,4.3l-4.3,4.3zM888.2,1692.2l4.3,-4.3l4.3,4.3l-4.3,4.3zM892.5,1691.6l4.3,-4.3l4.3,4.3l-4.3,4.3zM898.5,1692.3l4.3,-4.3l4.3,4.3l-4.3,4.3zM901.3,1692.2l4.3,-4.3l4.3,4.3l-4.3,4.3zM904.7,1694l4.3,-4.3l4.3,4.3l-4.3,4.3zM910.3,1693.4l4.3,-4.3l4.3,4.3l-4.3,4.3zM915.7,1692.5l4.3,-4.3l4.3,4.3l-4.3,4.3zM921.4,1692.1l4.3,-4.3l4.3,4.3l-4.3,4.3zM924.4,1691.3l4.3,-4.3l4.3,4.3l-4.3,4.3zM929.5,1693.5l4.3,-4.3l4.3,4.3l-4.3,4.3zM934.6,1693l4.3,-4.3l4.3,4.3l-4.3,4.3zM938.1,1692.1l4.3,-4.3l4.3,4.3l-4.3,4.3zM944,1694.1l4.3,-4.3l4.3,4.3l-4.3,4.3zM946.9,1691.8l4.3,-4.3l4.3,4.3l-4.3,4.3zM950.9,1692.4l4.3,-4.3l4.3,4.3l-4.3,4.3zM957.1,1692.8l4.3,-4.3l4.3,4.3l-4.3,4.3zM961,1691.3l4.3,-4.3l4.3,4.3l-4.3,4.3zM965.8,1694l4.3,-4.3l4.3,4.3l-4.3,4.3zM971.9,1693.5l4.3,-4.3l4.3,4.3l-4.3,4.3zM976.1,1694l4.3,-4.3l4.3,4.3l-4.3,4.3zM980.6,1692.4l4.3,-4.3l4.3,4.3l-4.3,4.3zM984.3,1693.9l4.3,-4.3l4.3,4.3l-4.3,4.3zM990.3,1691l4.3,-4.3l4.3,4.3l-4.3,4.3zM993.3,1692.2l4.3,-4.3l4.3,4.3l-4.3,4.3zM999.5,1691.1l4.3,-4.3l4.3,4.3l-4.3,4.3zM1002,1693.6l4.3,-4.3l4.3,4.3l-4.3,4.3zM1006.9,1693.2l4.3,-4.3l4.3,4.3l-4.3,4.3zM880,1694.7l4.3,-4.3l4.3,4.3l-4.3,4.3zM885.7,1695l4.3,-4.3l4.3,4.3l-4.3,4.3zM888.6,1695.3l4.3,-4.3l4.3,4.3l-4.3,4.3zM895.3,1697.1l4.3,-4.3l4.3,4.3l-4.3,4.3zM900.8,1695.8l4.3,-4.3l4.3,4.3l-4.3,4.3zM904.4,1697.5l4.3,-4.3l4.3,4.3l-4.3,4.3zM909.4,1697.3l4.3,-4.3l4.3,4.3l-4.3,4.3zM914.4,1697l4.3,-4.3l4.3,4.3l-4.3,4.3zM918.6,1697.4l4.3,-4.3l4.3,4.3l-4.3,4.3zM922.1,1696.4l4.3,-4.3l4.3,4.3l-4.3,4.3zM927.8,1694.7l4.3,-4.3l4.3,4.3l-4.3,4.3zM930.6,1696.8l4.3,-4.3l4.3,4.3l-4.3,4.3zM935.7,1694.9l4.3,-4.3l4.3,4.3l-4.3,4.3zM941.4,1696.8l4.3,-4.3l4.3,4.3l-4.3,4.3zM944.9,1697.7l4.3,-4.3l4.3,4.3l-4.3,4.3zM951.1,1695.2l4.3,-4.3l4.3,4.3l-4.3,4.3zM955.5,1697.7l4.3,-4.3l4.3,4.3l-4.3,4.3zM958.4,1696.9l4.3,-4.3l4.3,4.3l-4.3,4.3zM962.9,1694.9l4.3,-4.3l4.3,4.3l-4.3,4.3zM968.2,1697.4l4.3,-4.3l4.3,4.3l-4.3,4.3zM973.9,1695.3l4.3,-4.3l4.3,4.3l-4.3,4.3zM978.9,1694.9l4.3,-4.3l4.3,4.3l-4.3,4.3zM981.8,1696.9l4.3,-4.3l4.3,4.3l-4.3,4.3zM988.3,1696.2l4.3,-4.3l4.3,4.3l-4.3,4.3zM990.3,1696.3l4.3,-4.3l4.3,4.3l-4.3,4.3zM997.4,1697.8l4.3,-4.3l4.3,4.3l-4.3,4.3zM1000.9,1695.2l4.3,-4.3l4.3,4.3l-4.3,4.3zM1005,1694.9l4.3,-4.3l4.3,4.3l-4.3,4.3zM1009,1695.9l4.3,-4.3l4.3,4.3l-4.3,4.3zM1013.1,1696.5l4.3,-4.3l4.3,4.3l-4.3,4.3zM874.9,1699.8l4.3,-4.3l4.3,4.3l-4.3,4.3zM878,1700.1l4.3,-4.3l4.3,4.3l-4.3,4.3zM884.5,1700l4.3,-4.3l4.3,4.3l-4.3,4.3zM886.5,1701.4l4.3,-4.3l4.3,4.3l-4.3,4.3zM891.1,1699.1l4.3,-4.3l4.3,4.3l-4.3,4.3zM897.1,1700l4.3,-4.3l4.3,4.3l-4.3,4.3zM903.1,1701.3l4.3,-4.3l4.3,4.3l-4.3,4.3zM905.9,1701.5l4.3,-4.3l4.3,4.3l-4.3,4.3zM910.6,1700.9l4.3,-4.3l4.3,4.3l-4.3,4.3zM914,1701.1l4.3,-4.3l4.3,4.3l-4.3,4.3zM921.1,1699.7l4.3,-4.3l4.3,4.3l-4.3,4.3zM925.1,1700.3l4.3,-4.3l4.3,4.3l-4.3,4.3zM930.5,1701.2l4.3,-4.3l4.3,4.3l-4.3,4.3zM932.7,1699l4.3,-4.3l4.3,4.3l-4.3,4.3zM939.5,1700.4l4.3,-4.3l4.3,4.3l-4.3,4.3zM941.8,1700.1l4.3,-4.3l4.3,4.3l-4.3,4.3zM946.5,1699.7l4.3,-4.3l4.3,4.3l-4.3,4.3zM952.7,1701.1l4.3,-4.3l4.3,4.3l-4.3,4.3zM958.4,1701.4l4.3,-4.3l4.3,4.3l-4.3,4.3zM960.8,1699.3l4.3,-4.3l4.3,4.3l-4.3,4.3zM964.4,1701.3l4.3,-4.3l4.3,4.3l-4.3,4.3zM971.3,1701l4.3,-4.3l4.3,4.3l-4.3,4.3zM974.3,1700.4l4.3,-4.3l4.3,4.3l-4.3,4.3zM980.2,1700.2l4.3,-4.3l4.3,4.3l-4.3,4.3zM983.6,1699.9l4.3,-4.3l4.3,4.3l-4.3,4.3zM988,1700.6l4.3,-4.3l4.3,4.3l-4.3,4.3zM993.4,1700.9l4.3,-4.3l4.3,4.3l-4.3,4.3zM998.7,1700.5l4.3,-4.3l4.3,4.3l-4.3,4.3zM1001.4,1701.5l4.3,-4.3l4.3,4.3l-4.3,4.3zM1006.7,1701.5l4.3,-4.3l4.3,4.3l-4.3,4.3zM1012.1,1701l4.3,-4.3l4.3,4.3l-4.3,4.3zM1017.5,1701.3l4.3,-4.3l4.3,4.3l-4.3,4.3zM1022.4,1700.8l4.3,-4.3l4.3,4.3l-4.3,4.3zM1025.1,1701l4.3,-4.3l4.3,4.3l-4.3,4.3zM873.3,1703.5l4.3,-4.3l4.3,4.3l-4.3,4.3zM876.3,1703.8l4.3,-4.3l4.3,4.3l-4.3,4.3zM880.7,1704.6l4.3,-4.3l4.3,4.3l-4.3,4.3zM884.5,1705l4.3,-4.3l4.3,4.3l-4.3,4.3zM889.8,1702.6l4.3,-4.3l4.3,4.3l-4.3,4.3zM896,1702.5l4.3,-4.3l4.3,4.3l-4.3,4.3zM897.9,1704.3l4.3,-4.3l4.3,4.3l-4.3,4.3zM904.5,1704.2l4.3,-4.3l4.3,4.3l-4.3,4.3zM908.3,1703.5l4.3,-4.3l4.3,4.3l-4.3,4.3zM912.9,1704.9l4.3,-4.3l4.3,4.3l-4.3,4.3zM917.9,1704.9l4.3,-4.3l4.3,4.3l-4.3,4.3zM923.3,1703.8l4.3,-4.3l4.3,4.3l-4.3,4.3zM926.5,1702.4l4.3,-4.3l4.3,4.3l-4.3,4.3zM931.5,1702.4l4.3,-4.3l4.3,4.3l-4.3,4.3zM934.6,1704.7l4.3,-4.3l4.3,4.3l-4.3,4.3zM941.3,1705.1l4.3,-4.3l4.3,4.3l-4.3,4.3zM944,1704.4l4.3,-4.3l4.3,4.3l-4.3,4.3zM950.4,1703.8l4.3,-4.3l4.3,4.3l-4.3,4.3zM954.1,1704l4.3,-4.3l4.3,4.3l-4.3,4.3zM957.8,1703.9l4.3,-4.3l4.3,4.3l-4.3,4.3zM964.5,1704.9l4.3,-4.3l4.3,4.3l-4.3,4.3zM968.9,1704.4l4.3,-4.3l4.3,4.3l-4.3,4.3zM973.5,1702.2l4.3,-4.3l4.3,4.3l-4.3,4.3zM978.2,1703.6l4.3,-4.3l4.3,4.3l-4.3,4.3zM980.9,1704.7l4.3,-4.3l4.3,4.3l-4.3,4.3zM987.8,1704.2l4.3,-4.3l4.3,4.3l-4.3,4.3zM991.3,1702.6l4.3,-4.3l4.3,4.3l-4.3,4.3zM996,1702.2l4.3,-4.3l4.3,4.3l-4.3,4.3zM999.4,1702.1l4.3,-4.3l4.3,4.3l-4.3,4.3zM1004.8,1703.8l4.3,-4.3l4.3,4.3l-4.3,4.3zM1009.7,1703.5l4.3,-4.3l4.3,4.3l-4.3,4.3zM1012.7,1702.8l4.3,-4.3l4.3,4.3l-4.3,4.3zM1017.5,1704.7l4.3,-4.3l4.3,4.3l-4.3,4.3zM1022,1704.3l4.3,-4.3l4.3,4.3l-4.3,4.3zM1027.8,1704.9l4.3,-4.3l4.3,4.3l-4.3,4.3zM869.5,1707l4.3,-4.3l4.3,4.3l-4.3,4.3zM873.3,1708.6l4.3,-4.3l4.3,4.3l-4.3,4.3zM877.3,1708.3l4.3,-4.3l4.3,4.3l-4.3,4.3zM883.5,1708.3l4.3,-4.3l4.3,4.3l-4.3,4.3zM887.2,1706l4.3,-4.3l4.3,4.3l-4.3,4.3zM891.6,1705.9l4.3,-4.3l4.3,4.3l-4.3,4.3zM897.5,1706.7l4.3,-4.3l4.3,4.3l-4.3,4.3zM901.1,1706.6l4.3,-4.3l4.3,4.3l-4.3,4.3zM907.7,1708.1l4.3,-4.3l4.3,4.3l-4.3,4.3zM911.3,1707.2l4.3,-4.3l4.3,4.3l-4.3,4.3zM913.9,1705.9l4.3,-4.3l4.3,4.3l-4.3,4.3zM920,1708.5l4.3,-4.3l4.3,4.3l-4.3,4.3zM926.2,1708.3l4.3,-4.3l4.3,4.3l-4.3,4.3zM930.7,1706.8l4.3,-4.3l4.3,4.3l-4.3,4.3zM933.5,1706.2l4.3,-4.3l4.3,4.3l-4.3,4.3zM936.9,1707.9l4.3,-4.3l4.3,4.3l-4.3,4.3zM942.9,1708l4.3,-4.3l4.3,4.3l-4.3,4.3zM947,1707.4l4.3,-4.3l4.3,4.3l-4.3,4.3zM952.3,1707.3l4.3,-4.3l4.3,4.3l-4.3,4.3zM956.6,1708.4l4.3,-4.3l4.3,4.3l-4.3,4.3zM962.3,1707.8l4.3,-4.3l4.3,4.3l-4.3,4.3zM966.9,1706.5l4.3,-4.3l4.3,4.3l-4.3,4.3zM970.4,1707.7l4.3,-4.3l4.3,4.3l-4.3,4.3zM975.2,1708.5l4.3,-4.3l4.3,4.3l-4.3,4.3zM978.7,1706l4.3,-4.3l4.3,4.3l-4.3,4.3zM984.1,1705.9l4.3,-4.3l4.3,4.3l-4.3,4.3zM987.9,1707.3l4.3,-4.3l4.3,4.3l-4.3,4.3zM993.1,1708.5l4.3,-4.3l4.3,4.3l-4.3,4.3zM998.2,1708.8l4.3,-4.3l4.3,4.3l-4.3,4.3zM1003.9,1707.2l4.3,-4.3l4.3,4.3l-4.3,4.3zM1006.5,1706.6l4.3,-4.3l4.3,4.3l-4.3,4.3zM1010.5,1705.8l4.3,-4.3l4.3,4.3l-4.3,4.3zM1017.7,1707.1l4.3,-4.3l4.3,4.3l-4.3,4.3zM1021.2,1707.4l4.3,-4.3l4.3,4.3l-4.3,4.3zM1026.2,1707.6l4.3,-4.3l4.3,4.3l-4.3,4.3zM1028.9,1706.2l4.3,-4.3l4.3,4.3l-4.3,4.3zM1034.7,1706.7l4.3,-4.3l4.3,4.3l-4.3,4.3zM867.8,1711.8l4.3,-4.3l4.3,4.3l-4.3,4.3zM872.7,1710l4.3,-4.3l4.3,4.3l-4.3,4.3zM875.9,1711.6l4.3,-4.3l4.3,4.3l-4.3,4.3zM880.3,1709.8l4.3,-4.3l4.3,4.3l-4.3,4.3zM886,1710.3l4.3,-4.3l4.3,4.3l-4.3,4.3zM890.8,1711.5l4.3,-4.3l4.3,4.3l-4.3,4.3zM894.4,1711.2l4.3,-4.3l4.3,4.3l-4.3,4.3zM898.7,1711.1l4.3,-4.3l4.3,4.3l-4.3,4.3zM902.3,1709.4l4.3,-4.3l4.3,4.3l-4.3,4.3zM909.8,1709.8l4.3,-4.3l4.3,4.3l-4.3,4.3zM914.7,1712.4l4.3,-4.3l4.3,4.3l-4.3,4.3zM917.3,1710.3l4.3,-4.3l4.3,4.3l-4.3,4.3zM921.2,1712l4.3,-4.3l4.3,4.3l-4.3,4.3zM928.5,1710.8l4.3,-4.3l4.3,4.3l-4.3,4.3zM932,1710.4l4.3,-4.3l4.3,4.3l-4.3,4.3zM935.8,1711.5l4.3,-4.3l4.3,4.3l-4.3,4.3zM940.1,1710.5l4.3,-4.3l4.3,4.3l-4.3,4.3zM945.2,1710l4.3,-4.3l4.3,4.3l-4.3,4.3zM950.2,1711.9l4.3,-4.3l4.3,4.3l-4.3,4.3zM955.6,1711.5l4.3,-4.3l4.3,4.3l-4.3,4.3zM960.5,1712.5l4.3,-4.3l4.3,4.3l-4.3,4.3zM962.4,1711.2l4.3,-4.3l4.3,4.3l-4.3,4.3zM967,1710.6l4.3,-4.3l4.3,4.3l-4.3,4.3zM973,1710.3l4.3,-4.3l4.3,4.3l-4.3,4.3zM977.6,1710.9l4.3,-4.3l4.3,4.3l-4.3,4.3zM983.6,1711.1l4.3,-4.3l4.3,4.3l-4.3,4.3zM985.7,1711l4.3,-4.3l4.3,4.3l-4.3,4.3zM992.5,1710.6l4.3,-4.3l4.3,4.3l-4.3,4.3zM997.2,1710.3l4.3,-4.3l4.3,4.3l-4.3,4.3zM1001.6,1711.6l4.3,-4.3l4.3,4.3l-4.3,4.3zM1006.2,1710.4l4.3,-4.3l4.3,4.3l-4.3,4.3zM1009.5,1710.1l4.3,-4.3l4.3,4.3l-4.3,4.3zM1015.7,1712.4l4.3,-4.3l4.3,4.3l-4.3,4.3zM1018.1,1711.8l4.3,-4.3l4.3,4.3l-4.3,4.3zM1024.8,1712l4.3,-4.3l4.3,4.3l-4.3,4.3zM1029.3,1711.8l4.3,-4.3l4.3,4.3l-4.3,4.3zM1031.4,1711.5l4.3,-4.3l4.3,4.3l-4.3,4.3zM1036.9,1712.3l4.3,-4.3l4.3,4.3l-4.3,4.3zM1041.3,1710.5l4.3,-4.3l4.3,4.3l-4.3,4.3zM1068.1,1712.2l4.3,-4.3l4.3,4.3l-4.3,4.3zM1075.2,1712.3l4.3,-4.3l4.3,4.3l-4.3,4.3zM865.6,1714.2l4.3,-4.3l4.3,4.3l-4.3,4.3zM870,1713.1l4.3,-4.3l4.3,4.3l-4.3,4.3zM874.8,1714.2l4.3,-4.3l4.3,4.3l-4.3,4.3zM879.7,1713.5l4.3,-4.3l4.3,4.3l-4.3,4.3zM883.4,1716.2l4.3,-4.3l4.3,4.3l-4.3,4.3zM889.1,1714.3l4.3,-4.3l4.3,4.3l-4.3,4.3zM893.7,1713.1l4.3,-4.3l4.3,4.3l-4.3,4.3zM898.6,1714l4.3,-4.3l4.3,4.3l-4.3,4.3zM902,1713.8l4.3,-4.3l4.3,4.3l-4.3,4.3zM906.5,1715.6l4.3,-4.3l4.3,4.3l-4.3,4.3zM909.8,1714.1l4.3,-4.3l4.3,4.3l-4.3,4.3zM917,1714l4.3,-4.3l4.3,4.3l-4.3,4.3zM918.5,1716.2l4.3,-4.3l4.3,4.3l-4.3,4.3zM925.1,1715l4.3,-4.3l4.3,4.3l-4.3,4.3zM930.6,1713.9l4.3,-4.3l4.3,4.3l-4.3,4.3zM933.6,1713.7l4.3,-4.3l4.3,4.3l-4.3,4.3zM937,1715.8l4.3,-4.3l4.3,4.3l-4.3,4.3zM941.7,1716l4.3,-4.3l4.3,4.3l-4.3,4.3zM947.1,1715.1l4.3,-4.3l4.3,4.3l-4.3,4.3zM950.7,1713.8l4.3,-4.3l4.3,4.3l-4.3,4.3zM957.2,1714.3l4.3,-4.3l4.3,4.3l-4.3,4.3zM960.5,1713.6l4.3,-4.3l4.3,4.3l-4.3,4.3zM965,1714.2l4.3,-4.3l4.3,4.3l-4.3,4.3zM972.2,1714.2l4.3,-4.3l4.3,4.3l-4.3,4.3zM976.6,1715.4l4.3,-4.3l4.3,4.3l-4.3,4.3zM979.1,1714.2l4.3,-4.3l4.3,4.3l-4.3,4.3zM984.9,1716l4.3,-4.3l4.3,4.3l-4.3,4.3zM990.4,1716l4.3,-4.3l4.3,4.3l-4.3,4.3zM994.8,1714.5l4.3,-4.3l4.3,4.3l-4.3,4.3zM998.4,1714.5l4.3,-4.3l4.3,4.3l-4.3,4.3zM1003.7,1714.7l4.3,-4.3l4.3,4.3l-4.3,4.3zM1007,1714.4l4.3,-4.3l4.3,4.3l-4.3,4.3zM1010.5,1714.4l4.3,-4.3l4.3,4.3l-4.3,4.3zM1015,1714l4.3,-4.3l4.3,4.3l-4.3,4.3zM1019.8,1714.7l4.3,-4.3l4.3,4.3l-4.3,4.3zM1025.2,1716.1l4.3,-4.3l4.3,4.3l-4.3,4.3zM1031.9,1713.9l4.3,-4.3l4.3,4.3l-4.3,4.3zM1034,1713.9l4.3,-4.3l4.3,4.3l-4.3,4.3zM1040.2,1714.9l4.3,-4.3l4.3,4.3l-4.3,4.3zM1044.1,1715.3l4.3,-4.3l4.3,4.3l-4.3,4.3zM1048.6,1715l4.3,-4.3l4.3,4.3l-4.3,4.3zM1053.4,1715.8l4.3,-4.3l4.3,4.3l-4.3,4.3zM1059.4,1713.6l4.3,-4.3l4.3,4.3l-4.3,4.3zM1064.1,1713.9l4.3,-4.3l4.3,4.3l-4.3,4.3zM1067.1,1714.1l4.3,-4.3l4.3,4.3l-4.3,4.3zM1072.6,1714.5l4.3,-4.3l4.3,4.3l-4.3,4.3zM1077.5,1715.3l4.3,-4.3l4.3,4.3l-4.3,4.3zM1079.5,1713.7l4.3,-4.3l4.3,4.3l-4.3,4.3zM1085.1,1714.7l4.3,-4.3l4.3,4.3l-4.3,4.3zM861,1719.5l4.3,-4.3l4.3,4.3l-4.3,4.3zM867.9,1719.4l4.3,-4.3l4.3,4.3l-4.3,4.3zM871.3,1717.3l4.3,-4.3l4.3,4.3l-4.3,4.3zM875,1719.7l4.3,-4.3l4.3,4.3l-4.3,4.3zM882.2,1719.4l4.3,-4.3l4.3,4.3l-4.3,4.3zM886,1716.8l4.3,-4.3l4.3,4.3l-4.3,4.3zM890.6,1718.1l4.3,-4.3l4.3,4.3l-4.3,4.3zM895.8,1716.8l4.3,-4.3l4.3,4.3l-4.3,4.3zM899.7,1718.4l4.3,-4.3l4.3,4.3l-4.3,4.3zM902.8,1717.8l4.3,-4.3l4.3,4.3l-4.3,4.3zM906.9,1717.2l4.3,-4.3l4.3,4.3l-4.3,4.3zM914.6,1716.9l4.3,-4.3l4.3,4.3l-4.3,4.3zM919,1717.8l4.3,-4.3l4.3,4.3l-4.3,4.3zM923.6,1719.1l4.3,-4.3l4.3,4.3l-4.3,4.3zM925.9,1718.3l4.3,-4.3l4.3,4.3l-4.3,4.3zM930.1,1719.1l4.3,-4.3l4.3,4.3l-4.3,4.3zM935.5,1717.5l4.3,-4.3l4.3,4.3l-4.3,4.3zM941.6,1717.1l4.3,-4.3l4.3,4.3l-4.3,4.3zM944.4,1717.7l4.3,-4.3l4.3,4.3l-4.3,4.3zM948.6,1718.8l4.3,-4.3l4.3,4.3l-4.3,4.3zM954.4,1717.1l4.3,-4.3l4.3,4.3l-4.3,4.3zM958.8,1719.3l4.3,-4.3l4.3,4.3l-4.3,4.3zM964.4,1717.7l4.3,-4.3l4.3,4.3l-4.3,4.3zM968.3,1718.1l4.3,-4.3l4.3,4.3l-4.3,4.3zM974.2,1716.8l4.3,-4.3l4.3,4.3l-4.3,4.3zM978.1,1717.3l4.3,-4.3l4.3,4.3l-4.3,4.3zM982.4,1718.7l4.3,-4.3l4.3,4.3l-4.3,4.3zM985.7,1717.1l4.3,-4.3l4.3,4.3l-4.3,4.3zM991.9,1717.7l4.3,-4.3l4.3,4.3l-4.3,4.3zM994.6,1719.5l4.3,-4.3l4.3,4.3l-4.3,4.3zM1001,1718.5l4.3,-4.3l4.3,4.3l-4.3,4.3zM1003.7,1719.5l4.3,-4.3l4.3,4.3l-4.3,4.3zM1010.7,1718.5l4.3,-4.3l4.3,4.3l-4.3,4.3zM1013.3,1719.4l4.3,-4.3l4.3,4.3l-4.3,4.3zM1018.6,1718.5l4.3,-4.3l4.3,4.3l-4.3,4.3zM1022.6,1719.9l4.3,-4.3l4.3,4.3l-4.3,4.3zM1029.5,1717.1l4.3,-4.3l4.3,4.3l-4.3,4.3zM1031.7,1717.4l4.3,-4.3l4.3,4.3l-4.3,4.3zM1036.9,1718.9l4.3,-4.3l4.3,4.3l-4.3,4.3zM1041,1718l4.3,-4.3l4.3,4.3l-4.3,4.3zM1047.3,1719.7l4.3,-4.3l4.3,4.3l-4.3,4.3zM1051.5,1718.3l4.3,-4.3l4.3,4.3l-4.3,4.3zM1056,1719l4.3,-4.3l4.3,4.3l-4.3,4.3zM1060.4,1718.1l4.3,-4.3l4.3,4.3l-4.3,4.3zM1066.4,1716.7l4.3,-4.3l4.3,4.3l-4.3,4.3zM1069.3,1717.7l4.3,-4.3l4.3,4.3l-4.3,4.3zM1075.3,1719l4.3,-4.3l4.3,4.3l-4.3,4.3zM1079.5,1718.4l4.3,-4.3l4.3,4.3l-4.3,4.3zM1083,1717.5l4.3,-4.3l4.3,4.3l-4.3,4.3zM1088.7,1719.2l4.3,-4.3l4.3,4.3l-4.3,4.3zM1093.4,1718l4.3,-4.3l4.3,4.3l-4.3,4.3zM855.2,1721.1l4.3,-4.3l4.3,4.3l-4.3,4.3zM860.1,1723.4l4.3,-4.3l4.3,4.3l-4.3,4.3zM865.5,1722.3l4.3,-4.3l4.3,4.3l-4.3,4.3zM870.6,1720.8l4.3,-4.3l4.3,4.3l-4.3,4.3zM874.9,1722.5l4.3,-4.3l4.3,4.3l-4.3,4.3zM879.6,1723.2l4.3,-4.3l4.3,4.3l-4.3,4.3zM882,1721.4l4.3,-4.3l4.3,4.3l-4.3,4.3zM889,1723l4.3,-4.3l4.3,4.3l-4.3,4.3zM891.4,1721.7l4.3,-4.3l4.3,4.3l-4.3,4.3zM898.2,1721.4l4.3,-4.3l4.3,4.3l-4.3,4.3zM901.5,1722.1l4.3,-4.3l4.3,4.3l-4.3,4.3zM905.2,1721.1l4.3,-4.3l4.3,4.3l-4.3,4.3zM912.2,1720.8l4.3,-4.3l4.3,4.3l-4.3,4.3zM915.5,1723.3l4.3,-4.3l4.3,4.3l-4.3,4.3zM921.2,1723.3l4.3,-4.3l4.3,4.3l-4.3,4.3zM924.5,1721.2l4.3,-4.3l4.3,4.3l-4.3,4.3zM929.7,1723.3l4.3,-4.3l4.3,4.3l-4.3,4.3zM935.3,1720.7l4.3,-4.3l4.3,4.3l-4.3,4.3zM938.9,1723.3l4.3,-4.3l4.3,4.3l-4.3,4.3zM942.3,1722l4.3,-4.3l4.3,4.3l-4.3,4.3zM949.1,1721.9l4.3,-4.3l4.3,4.3l-4.3,4.3zM953.7,1722.9l4.3,-4.3l4.3,4.3l-4.3,4.3zM956.3,1722.8l4.3,-4.3l4.3,4.3l-4.3,4.3zM962.7,1720.8l4.3,-4.3l4.3,4.3l-4.3,4.3zM965.7,1722.4l4.3,-4.3l4.3,4.3l-4.3,4.3zM969.9,1720.5l4.3,-4.3l4.3,4.3l-4.3,4.3zM976.5,1721.2l4.3,-4.3l4.3,4.3l-4.3,4.3zM980.4,1721.3l4.3,-4.3l4.3,4.3l-4.3,4.3zM985.7,1722l4.3,-4.3l4.3,4.3l-4.3,4.3zM988,1723l4.3,-4.3l4.3,4.3l-4.3,4.3zM992.9,1722.9l4.3,-4.3l4.3,4.3l-4.3,4.3zM996.6,1720.9l4.3,-4.3l4.3,4.3l-4.3,4.3zM1002.1,1723.4l4.3,-4.3l4.3,4.3l-4.3,4.3zM1008.5,1722.1l4.3,-4.3l4.3,4.3l-4.3,4.3zM1011.1,1720.5l4.3,-4.3l4.3,4.3l-4.3,4.3zM1015.4,1722.2l4.3,-4.3l4.3,4.3l-4.3,4.3zM1022.2,1722.5l4.3,-4.3l4.3,4.3l-4.3,4.3zM1026.7,1720.8l4.3,-4.3l4.3,4.3l-4.3,4.3zM1031,1722.2l4.3,-4.3l4.3,4.3l-4.3,4.3zM1036.2,1720.8l4.3,-4.3l4.3,4.3l-4.3,4.3zM1038.1,1723.5l4.3,-4.3l4.3,4.3l-4.3,4.3zM1044,1721.6l4.3,-4.3l4.3,4.3l-4.3,4.3zM1047.2,1720.9l4.3,-4.3l4.3,4.3l-4.3,4.3zM1053.8,1722.4l4.3,-4.3l4.3,4.3l-4.3,4.3zM1057.1,1721.6l4.3,-4.3l4.3,4.3l-4.3,4.3zM1061,1721l4.3,-4.3l4.3,4.3l-4.3,4.3zM1068.5,1723.6l4.3,-4.3l4.3,4.3l-4.3,4.3zM1073.3,1722.2l4.3,-4.3l4.3,4.3l-4.3,4.3zM1077.2,1720.5l4.3,-4.3l4.3,4.3l-4.3,4.3zM1080.9,1723.5l4.3,-4.3l4.3,4.3l-4.3,4.3zM1087,1722l4.3,-4.3l4.3,4.3l-4.3,4.3zM1089.7,1723.3l4.3,-4.3l4.3,4.3l-4.3,4.3zM1096,1721.3l4.3,-4.3l4.3,4.3l-4.3,4.3zM853.6,1725.8l4.3,-4.3l4.3,4.3l-4.3,4.3zM859.4,1726.8l4.3,-4.3l4.3,4.3l-4.3,4.3zM861.4,1727.2l4.3,-4.3l4.3,4.3l-4.3,4.3zM865.8,1726.3l4.3,-4.3l4.3,4.3l-4.3,4.3zM873.1,1726.5l4.3,-4.3l4.3,4.3l-4.3,4.3zM877.9,1725.6l4.3,-4.3l4.3,4.3l-4.3,4.3zM881,1727.1l4.3,-4.3l4.3,4.3l-4.3,4.3zM886.7,1726.3l4.3,-4.3l4.3,4.3l-4.3,4.3zM889.2,1725.8l4.3,-4.3l4.3,4.3l-4.3,4.3zM895.1,1724.4l4.3,-4.3l4.3,4.3l-4.3,4.3zM899.9,1724.8l4.3,-4.3l4.3,4.3l-4.3,4.3zM903.8,1725.8l4.3,-4.3l4.3,4.3l-4.3,4.3zM908.7,1726.9l4.3,-4.3l4.3,4.3l-4.3,4.3zM913.7,1726l4.3,-4.3l4.3,4.3l-4.3,4.3zM919,1724.5l4.3,-4.3l4.3,4.3l-4.3,4.3zM921.6,1724.8l4.3,-4.3l4.3,4.3l-4.3,4.3zM926.5,1725.6l4.3,-4.3l4.3,4.3l-4.3,4.3zM932.9,1724.5l4.3,-4.3l4.3,4.3l-4.3,4.3zM935.1,1727l4.3,-4.3l4.3,4.3l-4.3,4.3zM939.3,1725l4.3,-4.3l4.3,4.3l-4.3,4.3zM944.5,1725l4.3,-4.3l4.3,4.3l-4.3,4.3zM949.8,1725.7l4.3,-4.3l4.3,4.3l-4.3,4.3zM955.5,1725.5l4.3,-4.3l4.3,4.3l-4.3,4.3zM958.1,1727.2l4.3,-4.3l4.3,4.3l-4.3,4.3zM964.9,1726.2l4.3,-4.3l4.3,4.3l-4.3,4.3zM967.8,1724.1l4.3,-4.3l4.3,4.3l-4.3,4.3zM972.1,1726.6l4.3,-4.3l4.3,4.3l-4.3,4.3zM976.5,1727.1l4.3,-4.3l4.3,4.3l-4.3,4.3zM980.7,1725.2l4.3,-4.3l4.3,4.3l-4.3,4.3zM987.8,1725l4.3,-4.3l4.3,4.3l-4.3,4.3zM990.6,1726.9l4.3,-4.3l4.3,4.3l-4.3,4.3zM994.9,1727l4.3,-4.3l4.3,4.3l-4.3,4.3zM1001.6,1725.3l4.3,-4.3l4.3,4.3l-4.3,4.3zM1005.7,1727.1l4.3,-4.3l4.3,4.3l-4.3,4.3zM1008.1,1726.3l4.3,-4.3l4.3,4.3l-4.3,4.3zM1015.3,1726l4.3,-4.3l4.3,4.3l-4.3,4.3zM1019.9,1724.3l4.3,-4.3l4.3,4.3l-4.3,4.3zM1023,1726.6l4.3,-4.3l4.3,4.3l-4.3,4.3zM1028.6,1727.2l4.3,-4.3l4.3,4.3l-4.3,4.3zM1033.7,1724.4l4.3,-4.3l4.3,4.3l-4.3,4.3zM1037.1,1724.8l4.3,-4.3l4.3,4.3l-4.3,4.3zM1042.1,1725.9l4.3,-4.3l4.3,4.3l-4.3,4.3zM1045.2,1725.5l4.3,-4.3l4.3,4.3l-4.3,4.3zM1051.2,1724.1l4.3,-4.3l4.3,4.3l-4.3,4.3zM1056.9,1724.9l4.3,-4.3l4.3,4.3l-4.3,4.3zM1060.3,1726.1l4.3,-4.3l4.3,4.3l-4.3,4.3zM1063.9,1726.8l4.3,-4.3l4.3,4.3l-4.3,4.3zM1069.6,1724.5l4.3,-4.3l4.3,4.3l-4.3,4.3zM1073.2,1724.5l4.3,-4.3l4.3,4.3l-4.3,4.3zM1077.5,1726.7l4.3,-4.3l4.3,4.3l-4.3,4.3zM1083.2,1725.5l4.3,-4.3l4.3,4.3l-4.3,4.3zM1088.2,1726.1l4.3,-4.3l4.3,4.3l-4.3,4.3zM1092.3,1727.2l4.3,-4.3l4.3,4.3l-4.3,4.3zM1097.3,1726.7l4.3,-4.3l4.3,4.3l-4.3,4.3zM1102.2,1726.2l4.3,-4.3l4.3,4.3l-4.3,4.3zM850.7,1728.7l4.3,-4.3l4.3,4.3l-4.3,4.3zM854.6,1729.5l4.3,-4.3l4.3,4.3l-4.3,4.3zM860.4,1730.3l4.3,-4.3l4.3,4.3l-4.3,4.3zM863.6,1729.9l4.3,-4.3l4.3,4.3l-4.3,4.3zM870.9,1728.8l4.3,-4.3l4.3,4.3l-4.3,4.3zM874.6,1728.7l4.3,-4.3l4.3,4.3l-4.3,4.3zM878.8,1729.1l4.3,-4.3l4.3,4.3l-4.3,4.3zM884.3,1729.6l4.3,-4.3l4.3,4.3l-4.3,4.3zM888,1729.6l4.3,-4.3l4.3,4.3l-4.3,4.3zM892.8,1729.3l4.3,-4.3l4.3,4.3l-4.3,4.3zM897.8,1729.8l4.3,-4.3l4.3,4.3l-4.3,4.3zM900.3,1729.2l4.3,-4.3l4.3,4.3l-4.3,4.3zM905,1730.7l4.3,-4.3l4.3,4.3l-4.3,4.3zM909.9,1727.9l4.3,-4.3l4.3,4.3l-4.3,4.3zM914.3,1730.8l4.3,-4.3l4.3,4.3l-4.3,4.3zM920.8,1730.9l4.3,-4.3l4.3,4.3l-4.3,4.3zM923,1729.9l4.3,-4.3l4.3,4.3l-4.3,4.3zM929.3,1728.7l4.3,-4.3l4.3,4.3l-4.3,4.3zM935.2,1728.9l4.3,-4.3l4.3,4.3l-4.3,4.3zM937.3,1730.4l4.3,-4.3l4.3,4.3l-4.3,4.3zM943.5,1730.4l4.3,-4.3l4.3,4.3l-4.3,4.3zM947.6,1730.6l4.3,-4.3l4.3,4.3l-4.3,4.3zM953.8,1729.8l4.3,-4.3l4.3,4.3l-4.3,4.3zM955.8,1730.4l4.3,-4.3l4.3,4.3l-4.3,4.3zM960,1730.3l4.3,-4.3l4.3,4.3l-4.3,4.3zM964.4,1729.5l4.3,-4.3l4.3,4.3l-4.3,4.3zM970.7,1730.4l4.3,-4.3l4.3,4.3l-4.3,4.3zM973.9,1730l4.3,-4.3l4.3,4.3l-4.3,4.3zM978.2,1728.1l4.3,-4.3l4.3,4.3l-4.3,4.3zM984.9,1729l4.3,-4.3l4.3,4.3l-4.3,4.3zM989,1728.7l4.3,-4.3l4.3,4.3l-4.3,4.3zM994.2,1730.2l4.3,-4.3l4.3,4.3l-4.3,4.3zM998.5,1730.2l4.3,-4.3l4.3,4.3l-4.3,4.3zM1004.4,1730.2l4.3,-4.3l4.3,4.3l-4.3,4.3zM1007.3,1727.9l4.3,-4.3l4.3,4.3l-4.3,4.3zM1012.5,1730.7l4.3,-4.3l4.3,4.3l-4.3,4.3zM1015.9,1730.4l4.3,-4.3l4.3,4.3l-4.3,4.3zM1021.7,1728.9l4.3,-4.3l4.3,4.3l-4.3,4.3zM1024.6,1729.3l4.3,-4.3l4.3,4.3l-4.3,4.3zM1030.9,1728.5l4.3,-4.3l4.3,4.3l-4.3,4.3zM1033.6,1729.4l4.3,-4.3l4.3,4.3l-4.3,4.3zM1039.7,1729.6l4.3,-4.3l4.3,4.3l-4.3,4.3zM1043.6,1727.8l4.3,-4.3l4.3,4.3l-4.3,4.3zM1047.7,1728.8l4.3,-4.3l4.3,4.3l-4.3,4.3zM1053.1,1728.2l4.3,-4.3l4.3,4.3l-4.3,4.3zM1058.5,1727.8l4.3,-4.3l4.3,4.3l-4.3,4.3zM1061.5,1728l4.3,-4.3l4.3,4.3l-4.3,4.3zM1068.3,1729l4.3,-4.3l4.3,4.3l-4.3,4.3zM1072.9,1728.7l4.3,-4.3l4.3,4.3l-4.3,4.3zM1076.3,1728.6l4.3,-4.3l4.3,4.3l-4.3,4.3zM1080.2,1727.8l4.3,-4.3l4.3,4.3l-4.3,4.3zM1086.6,1730.9l4.3,-4.3l4.3,4.3l-4.3,4.3zM1091.3,1730.3l4.3,-4.3l4.3,4.3l-4.3,4.3zM1094.5,1729.7l4.3,-4.3l4.3,4.3l-4.3,4.3zM1100.2,1730.8l4.3,-4.3l4.3,4.3l-4.3,4.3zM1104.2,1730.1l4.3,-4.3l4.3,4.3l-4.3,4.3zM856.3,1733.1l4.3,-4.3l4.3,4.3l-4.3,4.3zM862.2,1731.7l4.3,-4.3l4.3,4.3l-4.3,4.3zM866.3,1733.1l4.3,-4.3l4.3,4.3l-4.3,4.3zM871.2,1731.9l4.3,-4.3l4.3,4.3l-4.3,4.3zM874.9,1733.8l4.3,-4.3l4.3,4.3l-4.3,4.3zM882.2,1733.1l4.3,-4.3l4.3,4.3l-4.3,4.3zM885,1734.1l4.3,-4.3l4.3,4.3l-4.3,4.3zM890.5,1732.7l4.3,-4.3l4.3,4.3l-4.3,4.3zM893.3,1731.7l4.3,-4.3l4.3,4.3l-4.3,4.3zM897.9,1732.1l4.3,-4.3l4.3,4.3l-4.3,4.3zM903,1734.2l4.3,-4.3l4.3,4.3l-4.3,4.3zM907.1,1733.6l4.3,-4.3l4.3,4.3l-4.3,4.3zM913.2,1734.3l4.3,-4.3l4.3,4.3l-4.3,4.3zM917.8,1733.7l4.3,-4.3l4.3,4.3l-4.3,4.3zM922.7,1731.7l4.3,-4.3l4.3,4.3l-4.3,4.3zM925.6,1731.9l4.3,-4.3l4.3,4.3l-4.3,4.3zM930.5,1732.7l4.3,-4.3l4.3,4.3l-4.3,4.3zM936.7,1732.7l4.3,-4.3l4.3,4.3l-4.3,4.3zM941.4,1733.9l4.3,-4.3l4.3,4.3l-4.3,4.3zM946.7,1732.9l4.3,-4.3l4.3,4.3l-4.3,4.3zM949.2,1733.3l4.3,-4.3l4.3,4.3l-4.3,4.3zM953.9,1732l4.3,-4.3l4.3,4.3l-4.3,4.3zM958.2,1732.4l4.3,-4.3l4.3,4.3l-4.3,4.3zM962.9,1734.1l4.3,-4.3l4.3,4.3l-4.3,4.3zM968.2,1731.7l4.3,-4.3l4.3,4.3l-4.3,4.3zM971.8,1731.4l4.3,-4.3l4.3,4.3l-4.3,4.3zM978.2,1732l4.3,-4.3l4.3,4.3l-4.3,4.3zM982.1,1731.6l4.3,-4.3l4.3,4.3l-4.3,4.3zM985.8,1731.6l4.3,-4.3l4.3,4.3l-4.3,4.3zM992.7,1731.8l4.3,-4.3l4.3,4.3l-4.3,4.3zM997.5,1734.2l4.3,-4.3l4.3,4.3l-4.3,4.3zM1001.2,1731.5l4.3,-4.3l4.3,4.3l-4.3,4.3zM1006.5,1733.7l4.3,-4.3l4.3,4.3l-4.3,4.3zM1010.8,1734l4.3,-4.3l4.3,4.3l-4.3,4.3zM1015.1,1732.1l4.3,-4.3l4.3,4.3l-4.3,4.3zM1019.1,1732.2l4.3,-4.3l4.3,4.3l-4.3,4.3zM1023.1,1731.8l4.3,-4.3l4.3,4.3l-4.3,4.3zM1028.3,1734.4l4.3,-4.3l4.3,4.3l-4.3,4.3zM1033.1,1733.2l4.3,-4.3l4.3,4.3l-4.3,4.3zM1038.1,1734.6l4.3,-4.3l4.3,4.3l-4.3,4.3zM1042.7,1734.3l4.3,-4.3l4.3,4.3l-4.3,4.3zM1048.1,1734.5l4.3,-4.3l4.3,4.3l-4.3,4.3zM1050.3,1733.6l4.3,-4.3l4.3,4.3l-4.3,4.3zM1054.3,1733.3l4.3,-4.3l4.3,4.3l-4.3,4.3zM1060.4,1733.1l4.3,-4.3l4.3,4.3l-4.3,4.3zM1064.2,1734.2l4.3,-4.3l4.3,4.3l-4.3,4.3zM1068.8,1732.4l4.3,-4.3l4.3,4.3l-4.3,4.3zM1074.2,1732.4l4.3,-4.3l4.3,4.3l-4.3,4.3zM1079.1,1731.5l4.3,-4.3l4.3,4.3l-4.3,4.3zM1084,1733l4.3,-4.3l4.3,4.3l-4.3,4.3zM1087.4,1734.1l4.3,-4.3l4.3,4.3l-4.3,4.3zM1093.3,1733.5l4.3,-4.3l4.3,4.3l-4.3,4.3zM1098.3,1732.6l4.3,-4.3l4.3,4.3l-4.3,4.3zM1101.5,1732.6l4.3,-4.3l4.3,4.3l-4.3,4.3zM865.5,1737.9l4.3,-4.3l4.3,4.3l-4.3,4.3zM870,1737.5l4.3,-4.3l4.3,4.3l-4.3,4.3zM872.9,1736.3l4.3,-4.3l4.3,4.3l-4.3,4.3zM879.3,1736.5l4.3,-4.3l4.3,4.3l-4.3,4.3zM883.3,1738.1l4.3,-4.3l4.3,4.3l-4.3,4.3zM888,1735.6l4.3,-4.3l4.3,4.3l-4.3,4.3zM891.8,1738l4.3,-4.3l4.3,4.3l-4.3,4.3zM895.8,1736.5l4.3,-4.3l4.3,4.3l-4.3,4.3zM900.7,1735.2l4.3,-4.3l4.3,4.3l-4.3,4.3zM906.9,1735.2l4.3,-4.3l4.3,4.3l-4.3,4.3zM912.2,1737.5l4.3,-4.3l4.3,4.3l-4.3,4.3zM914.6,1738l4.3,-4.3l4.3,4.3l-4.3,4.3zM919.6,1737.9l4.3,-4.3l4.3,4.3l-4.3,4.3zM924.7,1737.3l4.3,-4.3l4.3,4.3l-4.3,4.3zM930,1736.6l4.3,-4.3l4.3,4.3l-4.3,4.3zM935.4,1738.3l4.3,-4.3l4.3,4.3l-4.3,4.3zM939.6,1736.6l4.3,-4.3l4.3,4.3l-4.3,4.3zM944.5,1738.1l4.3,-4.3l4.3,4.3l-4.3,4.3zM946.1,1737.7l4.3,-4.3l4.3,4.3l-4.3,4.3zM951.5,1737.5l4.3,-4.3l4.3,4.3l-4.3,4.3zM956.3,1736.2l4.3,-4.3l4.3,4.3l-4.3,4.3zM961.6,1735.2l4.3,-4.3l4.3,4.3l-4.3,4.3zM966.3,1736.7l4.3,-4.3l4.3,4.3l-4.3,4.3zM971.4,1735.6l4.3,-4.3l4.3,4.3l-4.3,4.3zM976,1737.5l4.3,-4.3l4.3,4.3l-4.3,4.3zM981.3,1735.6l4.3,-4.3l4.3,4.3l-4.3,4.3zM983.7,1738.2l4.3,-4.3l4.3,4.3l-4.3,4.3zM988.6,1736l4.3,-4.3l4.3,4.3l-4.3,4.3zM993.8,1735.7l4.3,-4.3l4.3,4.3l-4.3,4.3zM999.8,1736.7l4.3,-4.3l4.3,4.3l-4.3,4.3zM1001.8,1737.1l4.3,-4.3l4.3,4.3l-4.3,4.3zM1008.7,1737.7l4.3,-4.3l4.3,4.3l-4.3,4.3zM1012.8,1735.9l4.3,-4.3l4.3,4.3l-4.3,4.3zM1017.7,1736.1l4.3,-4.3l4.3,4.3l-4.3,4.3zM1021.9,1737.9l4.3,-4.3l4.3,4.3l-4.3,4.3zM1026.7,1736.5l4.3,-4.3l4.3,4.3l-4.3,4.3zM1032,1737.4l4.3,-4.3l4.3,4.3l-4.3,4.3zM1036.4,1736.3l4.3,-4.3l4.3,4.3l-4.3,4.3zM1040.9,1735.4l4.3,-4.3l4.3,4.3l-4.3,4.3zM1044.2,1735.1l4.3,-4.3l4.3,4.3l-4.3,4.3zM1050.4,1735.8l4.3,-4.3l4.3,4.3l-4.3,4.3zM1054.5,1736.7l4.3,-4.3l4.3,4.3l-4.3,4.3zM1057.6,1737.8l4.3,-4.3l4.3,4.3l-4.3,4.3zM1062.4,1738.1l4.3,-4.3l4.3,4.3l-4.3,4.3zM1067.5,1737.3l4.3,-4.3l4.3,4.3l-4.3,4.3zM1071.7,1738.1l4.3,-4.3l4.3,4.3l-4.3,4.3zM1075.7,1738.3l4.3,-4.3l4.3,4.3l-4.3,4.3zM1080.5,1736.5l4.3,-4.3l4.3,4.3l-4.3,4.3zM1086.6,1735.5l4.3,-4.3l4.3,4.3l-4.3,4.3zM1089.7,1736l4.3,-4.3l4.3,4.3l-4.3,4.3zM1093.2,1737.5l4.3,-4.3l4.3,4.3l-4.3,4.3zM1098,1737.5l4.3,-4.3l4.3,4.3l-4.3,4.3zM1105.3,1737.1l4.3,-4.3l4.3,4.3l-4.3,4.3zM872.4,1739.8l4.3,-4.3l4.3,4.3l-4.3,4.3zM876.8,1741.4l4.3,-4.3l4.3,4.3l-4.3,4.3zM880.6,1741.5l4.3,-4.3l4.3,4.3l-4.3,4.3zM884.5,1741.7l4.3,-4.3l4.3,4.3l-4.3,4.3zM891.1,1742l4.3,-4.3l4.3,4.3l-4.3,4.3zM895.6,1741.1l4.3,-4.3l4.3,4.3l-4.3,4.3zM900.5,1740.4l4.3,-4.3l4.3,4.3l-4.3,4.3zM905.2,1739.7l4.3,-4.3l4.3,4.3l-4.3,4.3zM907.5,1741.9l4.3,-4.3l4.3,4.3l-4.3,4.3zM914.3,1739.2l4.3,-4.3l4.3,4.3l-4.3,4.3zM917.3,1739.4l4.3,-4.3l4.3,4.3l-4.3,4.3zM921.9,1740.6l4.3,-4.3l4.3,4.3l-4.3,4.3zM927.5,1740.3l4.3,-4.3l4.3,4.3l-4.3,4.3zM931.1,1741.7l4.3,-4.3l4.3,4.3l-4.3,4.3zM935.9,1741.1l4.3,-4.3l4.3,4.3l-4.3,4.3zM941,1740.4l4.3,-4.3l4.3,4.3l-4.3,4.3zM944.1,1739.1l4.3,-4.3l4.3,4.3l-4.3,4.3zM950.9,1741l4.3,-4.3l4.3,4.3l-4.3,4.3zM953,1740.6l4.3,-4.3l4.3,4.3l-4.3,4.3zM959.4,1739.8l4.3,-4.3l4.3,4.3l-4.3,4.3zM963.1,1741l4.3,-4.3l4.3,4.3l-4.3,4.3zM968.4,1739.7l4.3,-4.3l4.3,4.3l-4.3,4.3zM971.6,1739.2l4.3,-4.3l4.3,4.3l-4.3,4.3zM979,1740.5l4.3,-4.3l4.3,4.3l-4.3,4.3zM982.5,1739.4l4.3,-4.3l4.3,4.3l-4.3,4.3zM986.5,1739.9l4.3,-4.3l4.3,4.3l-4.3,4.3zM990.5,1739.1l4.3,-4.3l4.3,4.3l-4.3,4.3zM996.3,1741.9l4.3,-4.3l4.3,4.3l-4.3,4.3zM998.9,1741.4l4.3,-4.3l4.3,4.3l-4.3,4.3zM1005.9,1741.4l4.3,-4.3l4.3,4.3l-4.3,4.3zM1010.7,1741.9l4.3,-4.3l4.3,4.3l-4.3,4.3zM1015.5,1739.1l4.3,-4.3l4.3,4.3l-4.3,4.3zM1020.2,1741.5l4.3,-4.3l4.3,4.3l-4.3,4.3zM1024,1741.9l4.3,-4.3l4.3,4.3l-4.3,4.3zM1027.2,1740.5l4.3,-4.3l4.3,4.3l-4.3,4.3zM1031.7,1739.1l4.3,-4.3l4.3,4.3l-4.3,4.3zM1037.6,1742l4.3,-4.3l4.3,4.3l-4.3,4.3zM1042.7,1739.4l4.3,-4.3l4.3,4.3l-4.3,4.3zM1047.3,1739.5l4.3,-4.3l4.3,4.3l-4.3,4.3zM1052.7,1740.7l4.3,-4.3l4.3,4.3l-4.3,4.3zM1056.5,1739.2l4.3,-4.3l4.3,4.3l-4.3,4.3zM1061.4,1741.8l4.3,-4.3l4.3,4.3l-4.3,4.3zM1064.9,1739.8l4.3,-4.3l4.3,4.3l-4.3,4.3zM1069,1741l4.3,-4.3l4.3,4.3l-4.3,4.3zM1075,1740.7l4.3,-4.3l4.3,4.3l-4.3,4.3zM1078.7,1740.3l4.3,-4.3l4.3,4.3l-4.3,4.3zM1082.3,1739.1l4.3,-4.3l4.3,4.3l-4.3,4.3zM1086.6,1741.8l4.3,-4.3l4.3,4.3l-4.3,4.3zM1093.3,1740l4.3,-4.3l4.3,4.3l-4.3,4.3zM1098.3,1741.6l4.3,-4.3l4.3,4.3l-4.3,4.3zM1102.9,1740.9l4.3,-4.3l4.3,4.3l-4.3,4.3zM882.1,1742.5l4.3,-4.3l4.3,4.3l-4.3,4.3zM889,1745.5l4.3,-4.3l4.3,4.3l-4.3,4.3zM892,1744.3l4.3,-4.3l4.3,4.3l-4.3,4.3zM897.4,1744l4.3,-4.3l4.3,4.3l-4.3,4.3zM900.7,1744.9l4.3,-4.3l4.3,4.3l-4.3,4.3zM907.7,1743.9l4.3,-4.3l4.3,4.3l-4.3,4.3zM910.6,1742.5l4.3,-4.3l4.3,4.3l-4.3,4.3zM914.7,1742.6l4.3,-4.3l4.3,4.3l-4.3,4.3zM919.9,1743.5l4.3,-4.3l4.3,4.3l-4.3,4.3zM925.9,1743.1l4.3,-4.3l4.3,4.3l-4.3,4.3zM930.7,1743l4.3,-4.3l4.3,4.3l-4.3,4.3zM932.2,1744.1l4.3,-4.3l4.3,4.3l-4.3,4.3zM939,1745.3l4.3,-4.3l4.3,4.3l-4.3,4.3zM942.2,1744.9l4.3,-4.3l4.3,4.3l-4.3,4.3zM948.1,1745.3l4.3,-4.3l4.3,4.3l-4.3,4.3zM950.8,1744.6l4.3,-4.3l4.3,4.3l-4.3,4.3zM957.7,1744.3l4.3,-4.3l4.3,4.3l-4.3,4.3zM960.7,1742.5l4.3,-4.3l4.3,4.3l-4.3,4.3zM964.5,1745.6l4.3,-4.3l4.3,4.3l-4.3,4.3zM969,1743.3l4.3,-4.3l4.3,4.3l-4.3,4.3zM975.3,1743.6l4.3,-4.3l4.3,4.3l-4.3,4.3zM980.4,1744.4l4.3,-4.3l4.3,4.3l-4.3,4.3zM984.1,1744.7l4.3,-4.3l4.3,4.3l-4.3,4.3zM990.4,1743.8l4.3,-4.3l4.3,4.3l-4.3,4.3zM993.4,1743.5l4.3,-4.3l4.3,4.3l-4.3,4.3zM998.7,1743.2l4.3,-4.3l4.3,4.3l-4.3,4.3zM1001.4,1745.2l4.3,-4.3l4.3,4.3l-4.3,4.3zM1008.6,1744.9l4.3,-4.3l4.3,4.3l-4.3,4.3zM1010.5,1742.9l4.3,-4.3l4.3,4.3l-4.3,4.3zM1016.7,1743.4l4.3,-4.3l4.3,4.3l-4.3,4.3zM1021.3,1745.3l4.3,-4.3l4.3,4.3l-4.3,4.3zM1026.9,1744.5l4.3,-4.3l4.3,4.3l-4.3,4.3zM1031,1742.9l4.3,-4.3l4.3,4.3l-4.3,4.3zM1035.3,1743.7l4.3,-4.3l4.3,4.3l-4.3,4.3zM1039.9,1744.3l4.3,-4.3l4.3,4.3l-4.3,4.3zM1045.1,1743.7l4.3,-4.3l4.3,4.3l-4.3,4.3zM1048.9,1743.2l4.3,-4.3l4.3,4.3l-4.3,4.3zM1054.1,1744.6l4.3,-4.3l4.3,4.3l-4.3,4.3zM1058.4,1743.6l4.3,-4.3l4.3,4.3l-4.3,4.3zM1063.9,1743.7l4.3,-4.3l4.3,4.3l-4.3,4.3zM1067.2,1744.9l4.3,-4.3l4.3,4.3l-4.3,4.3zM1071.2,1743.1l4.3,-4.3l4.3,4.3l-4.3,4.3zM1077.6,1745.2l4.3,-4.3l4.3,4.3l-4.3,4.3zM1081,1744.1l4.3,-4.3l4.3,4.3l-4.3,4.3zM1085.1,1742.9l4.3,-4.3l4.3,4.3l-4.3,4.3zM1090.4,1745.7l4.3,-4.3l4.3,4.3l-4.3,4.3zM1094.7,1742.9l4.3,-4.3l4.3,4.3l-4.3,4.3zM1098.9,1742.7l4.3,-4.3l4.3,4.3l-4.3,4.3zM1103.7,1745.5l4.3,-4.3l4.3,4.3l-4.3,4.3zM899.2,1746.2l4.3,-4.3l4.3,4.3l-4.3,4.3zM904.8,1748.3l4.3,-4.3l4.3,4.3l-4.3,4.3zM908.6,1747.7l4.3,-4.3l4.3,4.3l-4.3,4.3zM913.5,1748.3l4.3,-4.3l4.3,4.3l-4.3,4.3zM918.6,1747.2l4.3,-4.3l4.3,4.3l-4.3,4.3zM922.3,1749.1l4.3,-4.3l4.3,4.3l-4.3,4.3zM927.4,1748.8l4.3,-4.3l4.3,4.3l-4.3,4.3zM930.5,1748.3l4.3,-4.3l4.3,4.3l-4.3,4.3zM936.8,1748.1l4.3,-4.3l4.3,4.3l-4.3,4.3zM940,1749l4.3,-4.3l4.3,4.3l-4.3,4.3zM944.9,1747.4l4.3,-4.3l4.3,4.3l-4.3,4.3zM949,1749l4.3,-4.3l4.3,4.3l-4.3,4.3zM953.5,1746.2l4.3,-4.3l4.3,4.3l-4.3,4.3zM958.2,1746.2l4.3,-4.3l4.3,4.3l-4.3,4.3zM963.6,1747.3l4.3,-4.3l4.3,4.3l-4.3,4.3zM967.7,1748.6l4.3,-4.3l4.3,4.3l-4.3,4.3zM971.3,1749l4.3,-4.3l4.3,4.3l-4.3,4.3zM976.4,1749.2l4.3,-4.3l4.3,4.3l-4.3,4.3zM982.2,1746.8l4.3,-4.3l4.3,4.3l-4.3,4.3zM986.2,1747.8l4.3,-4.3l4.3,4.3l-4.3,4.3zM990,1746.8l4.3,-4.3l4.3,4.3l-4.3,4.3zM996.7,1748.4l4.3,-4.3l4.3,4.3l-4.3,4.3zM1000.6,1747.3l4.3,-4.3l4.3,4.3l-4.3,4.3zM1003.7,1749l4.3,-4.3l4.3,4.3l-4.3,4.3zM1011,1748.4l4.3,-4.3l4.3,4.3l-4.3,4.3zM1014.8,1748.1l4.3,-4.3l4.3,4.3l-4.3,4.3zM1019.7,1746.2l4.3,-4.3l4.3,4.3l-4.3,4.3zM1022.2,1749.1l4.3,-4.3l4.3,4.3l-4.3,4.3zM1029.4,1748.5l4.3,-4.3l4.3,4.3l-4.3,4.3zM1032.9,1749.3l4.3,-4.3l4.3,4.3l-4.3,4.3zM1036.8,1749.1l4.3,-4.3l4.3,4.3l-4.3,4.3zM1043.3,1746.6l4.3,-4.3l4.3,4.3l-4.3,4.3zM1045.9,1747.2l4.3,-4.3l4.3,4.3l-4.3,4.3zM1050.5,1749.2l4.3,-4.3l4.3,4.3l-4.3,4.3zM1054.9,1748.8l4.3,-4.3l4.3,4.3l-4.3,4.3zM1060,1747.6l4.3,-4.3l4.3,4.3l-4.3,4.3zM1064.9,1748.4l4.3,-4.3l4.3,4.3l-4.3,4.3zM1070.4,1749.2l4.3,-4.3l4.3,4.3l-4.3,4.3zM1075,1747.9l4.3,-4.3l4.3,4.3l-4.3,4.3zM1080.1,1748.6l4.3,-4.3l4.3,4.3l-4.3,4.3zM1084,1748.4l4.3,-4.3l4.3,4.3l-4.3,4.3zM1088.4,1748.3l4.3,-4.3l4.3,4.3l-4.3,4.3zM1092.8,1746.7l4.3,-4.3l4.3,4.3l-4.3,4.3zM1097.7,1747.6l4.3,-4.3l4.3,4.3l-4.3,4.3zM1100.1,1747.4l4.3,-4.3l4.3,4.3l-4.3,4.3zM914.1,1750l4.3,-4.3l4.3,4.3l-4.3,4.3zM919.3,1750.8l4.3,-4.3l4.3,4.3l-4.3,4.3zM923.9,1750.2l4.3,-4.3l4.3,4.3l-4.3,4.3zM930.1,1751.5l4.3,-4.3l4.3,4.3l-4.3,4.3zM933.7,1751.7l4.3,-4.3l4.3,4.3l-4.3,4.3zM937.3,1750.8l4.3,-4.3l4.3,4.3l-4.3,4.3zM942.4,1751.6l4.3,-4.3l4.3,4.3l-4.3,4.3zM947.5,1750.2l4.3,-4.3l4.3,4.3l-4.3,4.3zM951.3,1752.4l4.3,-4.3l4.3,4.3l-4.3,4.3zM957,1752.9l4.3,-4.3l4.3,4.3l-4.3,4.3zM961.5,1750.3l4.3,-4.3l4.3,4.3l-4.3,4.3zM966.6,1752.5l4.3,-4.3l4.3,4.3l-4.3,4.3zM969.1,1750.2l4.3,-4.3l4.3,4.3l-4.3,4.3zM976.6,1752.7l4.3,-4.3l4.3,4.3l-4.3,4.3zM980.8,1752.9l4.3,-4.3l4.3,4.3l-4.3,4.3zM985.7,1750.6l4.3,-4.3l4.3,4.3l-4.3,4.3zM988.7,1751.8l4.3,-4.3l4.3,4.3l-4.3,4.3zM993.8,1750.3l4.3,-4.3l4.3,4.3l-4.3,4.3zM999,1751.6l4.3,-4.3l4.3,4.3l-4.3,4.3zM1003.7,1751.7l4.3,-4.3l4.3,4.3l-4.3,4.3zM1008.1,1752l4.3,-4.3l4.3,4.3l-4.3,4.3zM1011.5,1750.3l4.3,-4.3l4.3,4.3l-4.3,4.3zM1016.4,1750.8l4.3,-4.3l4.3,4.3l-4.3,4.3zM1020,1752.4l4.3,-4.3l4.3,4.3l-4.3,4.3zM1024.7,1752.9l4.3,-4.3l4.3,4.3l-4.3,4.3zM1029.3,1750.4l4.3,-4.3l4.3,4.3l-4.3,4.3zM1035.2,1751.2l4.3,-4.3l4.3,4.3l-4.3,4.3zM1040.7,1750.7l4.3,-4.3l4.3,4.3l-4.3,4.3zM1043.6,1751.3l4.3,-4.3l4.3,4.3l-4.3,4.3zM1047.5,1750.2l4.3,-4.3l4.3,4.3l-4.3,4.3zM1053,1750l4.3,-4.3l4.3,4.3l-4.3,4.3zM1058.8,1753l4.3,-4.3l4.3,4.3l-4.3,4.3zM1062.8,1750.4l4.3,-4.3l4.3,4.3l-4.3,4.3zM1068,1750.1l4.3,-4.3l4.3,4.3l-4.3,4.3zM1072.7,1750.6l4.3,-4.3l4.3,4.3l-4.3,4.3zM1077.7,1750.1l4.3,-4.3l4.3,4.3l-4.3,4.3zM1082,1749.9l4.3,-4.3l4.3,4.3l-4.3,4.3zM1085.8,1750.9l4.3,-4.3l4.3,4.3l-4.3,4.3zM1088.9,1751.5l4.3,-4.3l4.3,4.3l-4.3,4.3zM925.3,1754.1l4.3,-4.3l4.3,4.3l-4.3,4.3zM931.1,1753.6l4.3,-4.3l4.3,4.3l-4.3,4.3zM935.5,1756.6l4.3,-4.3l4.3,4.3l-4.3,4.3zM941.3,1755.5l4.3,-4.3l4.3,4.3l-4.3,4.3zM944,1753.7l4.3,-4.3l4.3,4.3l-4.3,4.3zM950.6,1753.6l4.3,-4.3l4.3,4.3l-4.3,4.3zM955.1,1754.8l4.3,-4.3l4.3,4.3l-4.3,4.3zM960,1755.9l4.3,-4.3l4.3,4.3l-4.3,4.3zM962.2,1754.3l4.3,-4.3l4.3,4.3l-4.3,4.3zM968.8,1754.9l4.3,-4.3l4.3,4.3l-4.3,4.3zM971.5,1754.6l4.3,-4.3l4.3,4.3l-4.3,4.3zM978.2,1755.7l4.3,-4.3l4.3,4.3l-4.3,4.3zM980.6,1754.7l4.3,-4.3l4.3,4.3l-4.3,4.3zM985.3,1756l4.3,-4.3l4.3,4.3l-4.3,4.3zM991,1754.2l4.3,-4.3l4.3,4.3l-4.3,4.3zM995.8,1755.1l4.3,-4.3l4.3,4.3l-4.3,4.3zM1000,1756.5l4.3,-4.3l4.3,4.3l-4.3,4.3zM1006.1,1755.9l4.3,-4.3l4.3,4.3l-4.3,4.3zM1010.4,1754.9l4.3,-4.3l4.3,4.3l-4.3,4.3zM1015.4,1756l4.3,-4.3l4.3,4.3l-4.3,4.3zM1017.6,1753.9l4.3,-4.3l4.3,4.3l-4.3,4.3zM1023.8,1756l4.3,-4.3l4.3,4.3l-4.3,4.3zM1026.8,1754.3l4.3,-4.3l4.3,4.3l-4.3,4.3zM1032.5,1755.3l4.3,-4.3l4.3,4.3l-4.3,4.3zM1036,1756.6l4.3,-4.3l4.3,4.3l-4.3,4.3zM1042.4,1754.7l4.3,-4.3l4.3,4.3l-4.3,4.3zM1046,1756.7l4.3,-4.3l4.3,4.3l-4.3,4.3zM1051.7,1755.9l4.3,-4.3l4.3,4.3l-4.3,4.3zM1054.4,1756.4l4.3,-4.3l4.3,4.3l-4.3,4.3zM1060.8,1756.3l4.3,-4.3l4.3,4.3l-4.3,4.3zM1063.7,1754.8l4.3,-4.3l4.3,4.3l-4.3,4.3zM1068.4,1754.7l4.3,-4.3l4.3,4.3l-4.3,4.3zM1074,1754l4.3,-4.3l4.3,4.3l-4.3,4.3zM1078.9,1754.5l4.3,-4.3l4.3,4.3l-4.3,4.3zM1083.4,1753.6l4.3,-4.3l4.3,4.3l-4.3,4.3zM948.2,1758.5l4.3,-4.3l4.3,4.3l-4.3,4.3zM956.2,1758.7l4.3,-4.3l4.3,4.3l-4.3,4.3zM960.4,1758.7l4.3,-4.3l4.3,4.3l-4.3,4.3zM965,1757.4l4.3,-4.3l4.3,4.3l-4.3,4.3zM970.3,1758.4l4.3,-4.3l4.3,4.3l-4.3,4.3zM975.1,1758l4.3,-4.3l4.3,4.3l-4.3,4.3zM978.8,1759.7l4.3,-4.3l4.3,4.3l-4.3,4.3zM983.8,1757.2l4.3,-4.3l4.3,4.3l-4.3,4.3zM988.7,1757.4l4.3,-4.3l4.3,4.3l-4.3,4.3zM994.6,1758.1l4.3,-4.3l4.3,4.3l-4.3,4.3zM996.7,1759.5l4.3,-4.3l4.3,4.3l-4.3,4.3zM1003.1,1759.3l4.3,-4.3l4.3,4.3l-4.3,4.3zM1008,1760.2l4.3,-4.3l4.3,4.3l-4.3,4.3zM1011,1759.1l4.3,-4.3l4.3,4.3l-4.3,4.3zM1017.3,1759.6l4.3,-4.3l4.3,4.3l-4.3,4.3zM1020.3,1757.3l4.3,-4.3l4.3,4.3l-4.3,4.3zM1026.1,1758.1l4.3,-4.3l4.3,4.3l-4.3,4.3zM1030.4,1758.6l4.3,-4.3l4.3,4.3l-4.3,4.3zM1034.5,1759.4l4.3,-4.3l4.3,4.3l-4.3,4.3zM1040.7,1759.2l4.3,-4.3l4.3,4.3l-4.3,4.3zM1045,1758l4.3,-4.3l4.3,4.3l-4.3,4.3zM1050,1757.8l4.3,-4.3l4.3,4.3l-4.3,4.3zM1052.3,1757.8l4.3,-4.3l4.3,4.3l-4.3,4.3zM1057.9,1760.2l4.3,-4.3l4.3,4.3l-4.3,4.3zM1062.3,1757.3l4.3,-4.3l4.3,4.3l-4.3,4.3zM1065.7,1759.8l4.3,-4.3l4.3,4.3l-4.3,4.3zM1072.7,1758.2l4.3,-4.3l4.3,4.3l-4.3,4.3zM1075.4,1758.5l4.3,-4.3l4.3,4.3l-4.3,4.3zM978.8,1760.9l4.3,-4.3l4.3,4.3l-4.3,4.3zM980.6,1762.1l4.3,-4.3l4.3,4.3l-4.3,4.3zM987.9,1763.4l4.3,-4.3l4.3,4.3l-4.3,4.3zM991.2,1763.2l4.3,-4.3l4.3,4.3l-4.3,4.3zM996.2,1762.6l4.3,-4.3l4.3,4.3l-4.3,4.3zM1001.8,1761.5l4.3,-4.3l4.3,4.3l-4.3,4.3zM1006.6,1761.2l4.3,-4.3l4.3,4.3l-4.3,4.3zM1009.6,1761.4l4.3,-4.3l4.3,4.3l-4.3,4.3zM1014.5,1761.1l4.3,-4.3l4.3,4.3l-4.3,4.3zM1019,1763.8l4.3,-4.3l4.3,4.3l-4.3,4.3zM1023.9,1762.1l4.3,-4.3l4.3,4.3l-4.3,4.3zM1026.5,1761.2l4.3,-4.3l4.3,4.3l-4.3,4.3zM1031.8,1761.5l4.3,-4.3l4.3,4.3l-4.3,4.3zM1036.9,1762l4.3,-4.3l4.3,4.3l-4.3,4.3zM1041.7,1762l4.3,-4.3l4.3,4.3l-4.3,4.3zM1045.9,1763.9l4.3,-4.3l4.3,4.3l-4.3,4.3zM1051.6,1763.1l4.3,-4.3l4.3,4.3l-4.3,4.3zM1055.9,1763l4.3,-4.3l4.3,4.3l-4.3,4.3zM1178.7,1713.7L1183,1709.5L1187.3,1713.7L1183,1717.9ZM1178.7,1743.5L1183,1739.3L1187.3,1743.5L1183,1747.7ZM1231.1,1715.4L1235.4,1711.2L1239.7,1715.4L1235.4,1719.6ZM1227.2,1758.5L1231.5,1754.3L1235.8,1758.5L1231.5,1762.7ZM1184.7,1763.1L1189,1758.9L1193.3,1763.1L1189,1767.3ZM1192.3,1764.8L1196.6,1760.6L1200.9,1764.8L1196.6,1769ZM1185.2,1773.3L1189.5,1769.1L1193.8,1773.3L1189.5,1777.5ZM1194.4,1772.5L1198.7,1768.3L1203,1772.5L1198.7,1776.7ZM1210.2,1780.1L1214.5,1775.9L1218.8,1780.1L1214.5,1784.3ZM1170.2,1792L1174.5,1787.8L1178.8,1792L1174.5,1796.2ZM1193.2,1802.3L1197.5,1798.1L1201.8,1802.3L1197.5,1806.5ZM1204.2,1797.2L1208.5,1793L1212.8,1797.2L1208.5,1801.4ZM1137.8,1804L1142.1,1799.8L1146.4,1804L1142.1,1808.2ZM1145.5,1805.7L1149.8,1801.5L1154.1,1805.7L1149.8,1809.9ZM1153.2,1804L1157.5,1799.8L1161.8,1804L1157.5,1808.2ZM1160.8,1805.7L1165.1,1801.5L1169.4,1805.7L1165.1,1809.9ZM1163.4,1802.3L1167.7,1798.1L1172,1802.3L1167.7,1806.5ZM1146.3,1812.5L1150.6,1808.3L1154.9,1812.5L1150.6,1816.7ZM1136.1,1816.7L1140.4,1812.5L1144.7,1816.7L1140.4,1820.9ZM1157.4,1817.6L1161.7,1813.4L1166,1817.6L1161.7,1821.8ZM1136.1,1826L1140.4,1821.8L1144.7,1826L1140.4,1830.2ZM1144.7,1826.6L1149,1822.4L1153.3,1826.6L1149,1830.8ZM1151.5,1826.6L1155.8,1822.4L1160.1,1826.6L1155.8,1830.8ZM1069.7,1803.1L1074,1798.9L1078.3,1803.1L1074,1807.3ZM1076.6,1805.7L1080.9,1801.5L1085.2,1805.7L1080.9,1809.9ZM1085.1,1805.7L1089.4,1801.5L1093.7,1805.7L1089.4,1809.9ZM1078.3,1811.6L1082.6,1807.4L1086.9,1811.6L1082.6,1815.8ZM1088.5,1817.6L1092.8,1813.4L1097.1,1817.6L1092.8,1821.8ZM1042.5,1808.2L1046.8,1804L1051.1,1808.2L1046.8,1812.4ZM1040.8,1820.1L1045.1,1815.9L1049.4,1820.1L1045.1,1824.3ZM1054.4,1822.7L1058.7,1818.5L1063,1822.7L1058.7,1826.9ZM1074.9,1825.2L1079.2,1821L1083.5,1825.2L1079.2,1829.4ZM1007.7,1800.3L1012,1796.1L1016.3,1800.3L1012,1804.5ZM1130.7,1889L1135,1884.8L1139.3,1889L1135,1893.2ZM874.1,1748.6L878.4,1744.4L882.7,1748.6L878.4,1752.8ZM927.5,1769.4L931.8,1765.2L936.1,1769.4L931.8,1773.6ZM998.9,1579.3L1003.2,1575.1L1007.5,1579.3L1003.2,1583.5ZM1003.2,1579.8L1007.5,1575.6L1011.8,1579.8L1007.5,1584ZM1006.4,1581.9L1010.7,1577.7L1015,1581.9L1010.7,1586.1ZM1020.1,1585.1L1024.4,1580.9L1028.7,1585.1L1024.4,1589.3ZM1006.4,1602.2L1010.7,1598L1015,1602.2L1010.7,1606.4ZM958.3,1595.3L962.6,1591.1L966.9,1595.3L962.6,1599.5ZM955.1,1598L959.4,1593.8L963.7,1598L959.4,1602.2ZM956.2,1607L960.5,1602.8L964.8,1607L960.5,1611.2ZM949.3,1616.1L953.6,1611.9L957.9,1616.1L953.6,1620.3ZM935.9,1622L940.2,1617.8L944.5,1622L940.2,1626.2ZM931.7,1624.9L936,1620.7L940.3,1624.9L936,1629.1ZM940.2,1621.9L944.5,1617.7L948.8,1621.9L944.5,1626.1ZM977.6,1608.1L981.9,1603.9L986.2,1608.1L981.9,1612.3ZM985,1607L989.3,1602.8L993.6,1607L989.3,1611.2ZM990.4,1610.2L994.7,1606L999,1610.2L994.7,1614.4ZM995.7,1614.5L1000,1610.3L1004.3,1614.5L1000,1618.7ZM997.8,1620.9L1002.1,1616.7L1006.4,1620.9L1002.1,1625.1ZM992.5,1629.5L996.8,1625.3L1001.1,1629.5L996.8,1633.7ZM989.3,1631.6L993.6,1627.4L997.9,1631.6L993.6,1635.8ZM995.7,1634.8L1000,1630.6L1004.3,1634.8L1000,1639ZM1000,1628.4L1004.3,1624.2L1008.6,1628.4L1004.3,1632.6ZM1004.3,1622L1008.6,1617.8L1012.9,1622L1008.6,1626.2ZM1009.6,1615.6L1013.9,1611.4L1018.2,1615.6L1013.9,1619.8ZM973.3,1620.9L977.6,1616.7L981.9,1620.9L977.6,1625.1ZM969,1626.3L973.3,1622.1L977.6,1626.3L973.3,1630.5ZM972.2,1631.6L976.5,1627.4L980.8,1631.6L976.5,1635.8ZM974.3,1633.7L978.6,1629.5L982.9,1633.7L978.6,1637.9ZM984,1619.9L988.3,1615.7L992.6,1619.9L988.3,1624.1ZM978.6,1615.6L982.9,1611.4L987.2,1615.6L982.9,1619.8ZM990.4,1641.2L994.7,1637L999,1641.2L994.7,1645.4ZM995.7,1644.4L1000,1640.2L1004.3,1644.4L1000,1648.6ZM1002.1,1647.6L1006.4,1643.4L1010.7,1647.6L1006.4,1651.8ZM984,1649.8L988.3,1645.6L992.6,1649.8L988.3,1654ZM990.4,1651.9L994.7,1647.7L999,1651.9L994.7,1656.1ZM982.9,1659.4L987.2,1655.2L991.5,1659.4L987.2,1663.6ZM987.2,1665.8L991.5,1661.6L995.8,1665.8L991.5,1670ZM997.8,1659.4L1002.1,1655.2L1006.4,1659.4L1002.1,1663.6ZM1008.5,1666.9L1012.8,1662.7L1017.1,1666.9L1012.8,1671.1ZM1004.3,1673.3L1008.6,1669.1L1012.9,1673.3L1008.6,1677.5ZM1019.2,1673.3L1023.5,1669.1L1027.8,1673.3L1023.5,1677.5ZM1027.7,1673.3L1032,1669.1L1036.3,1673.3L1032,1677.5ZM1035.2,1672.2L1039.5,1668L1043.8,1672.2L1039.5,1676.4ZM1041.6,1674.3L1045.9,1670.1L1050.2,1674.3L1045.9,1678.5ZM1028.8,1680.7L1033.1,1676.5L1037.4,1680.7L1033.1,1684.9ZM1016,1673.5L1020.3,1669.3L1024.6,1673.5L1020.3,1677.7ZM1023.7,1674.5L1028,1670.3L1032.3,1674.5L1028,1678.7ZM935.9,1625.2L940.2,1621L945.5,1616.7L949.8,1620.9L945.5,1625.1L940.2,1629.4ZM954.1,1609.2L958.4,1605L964.8,1599.6L969.1,1603.8L964.8,1608L958.4,1613.4ZM955.1,1598L959.4,1593.8L964.8,1590L969.1,1594.2L964.8,1598.4L959.4,1602.2ZM969,1626.3L979.7,1615.6L984,1611.4L988.3,1615.6L977.6,1626.3L973.3,1630.5ZM995.7,1634.8L1009.6,1615.6L1013.9,1611.4L1018.2,1615.6L1004.3,1634.8L1000,1639ZM977.6,1608L981.9,1603.8L1000,1610.3L1004.3,1614.5L1000,1618.7L981.9,1612.2ZM995.7,1614.5L1000,1610.3L1004.3,1614.5L1006.3,1621L1002,1625.2L997.7,1621ZM989.3,1631.6L997.8,1620.9L1002.1,1616.7L1006.4,1620.9L997.9,1631.6L993.6,1635.8Z" fill="#000" clip-path="url(#cB4)"/>
<line x1="795.1" y1="1662.2" x2="1291.3" y2="1662.2" stroke="#0000ff" stroke-width="1.6"/>
<line x1="795.1" y1="1729.9" x2="1291.3" y2="1729.9" stroke="#ff0000" stroke-width="1.6"/>
<line x1="795.1" y1="1797.1" x2="1291.3" y2="1797.1" stroke="#0000ff" stroke-width="1.6"/>
<polyline fill="none" points="795,1670.1 800,1680.5 1286.8,1680.5" stroke="#0000ff" stroke-width="1.3" stroke-dasharray="7,4.5" clip-path="url(#cB4)"/>
<polyline fill="none" points="795,1685.1 800,1696 868.4,1708.5 911.8,1716.9 945.2,1721.9 978.6,1729.4 1040,1739.3 1091,1749.5 1145.5,1758.8 1193.2,1767.4 1244.3,1776.7 1286.8,1783.5" stroke="#ff0000" stroke-width="1.3" stroke-dasharray="7,4.5" clip-path="url(#cB4)"/>
<polyline fill="none" points="795,1698.5 800,1711 850,1729.4 911.8,1751.9 961.9,1768.6 995.3,1781.9 1040,1798 1057,1804.8 1116.6,1827 1200,1860 1271,1886 1288,1890" stroke="#0000ff" stroke-width="1.3" stroke-dasharray="7,4.5" clip-path="url(#cB4)"/>
<rect x="866" y="1827.5" width="405" height="58" fill="#fff"/>
<text x="16" y="40.8" font-size="26.86" textLength="107" lengthAdjust="spacingAndGlyphs">(A) Mean</text>
<text x="269.3" y="88.8" font-size="21.71" textLength="248.7" lengthAdjust="spacingAndGlyphs">CCC =0.969 (0.951-0.981)</text>
<text x="269.8" y="117.5" font-size="22.43" textLength="240.7" lengthAdjust="spacingAndGlyphs">ICC =0.970 (0.571-0.992)</text>
<text x="242.7" y="481.4" font-size="20.57" textLength="220.6" lengthAdjust="spacingAndGlyphs">Radar (breath/minute)</text>
<text x="102.1" y="353.3" font-size="22.43" transform="rotate(-90 102.1 353.3)" textLength="256.2" lengthAdjust="spacingAndGlyphs">End-tidal CO2 (breath/min)</text>
<text x="1309.2" y="158.8" font-size="22.86" textLength="41.4" lengthAdjust="spacingAndGlyphs">2.10</text>
<text x="1308.8" y="217.6" font-size="23.29" textLength="133.2" lengthAdjust="spacingAndGlyphs">0.84, p&lt;0.001</text>
<text x="1305" y="279" font-size="22.57" textLength="48.6" lengthAdjust="spacingAndGlyphs">-0.42</text>
<text x="873.2" y="340.7" font-size="21.43" textLength="332.5" lengthAdjust="spacingAndGlyphs">Bias = -0.07*Mean +1.99, <tspan font-style="italic">p</tspan>&lt;0.001</text>
<text x="873.2" y="370" font-size="22.29" textLength="388.7" lengthAdjust="spacingAndGlyphs">Resid(Bias) =-0.02*Mean+0.66, <tspan font-style="italic">p</tspan>=0.233</text>
<text x="821.5" y="485.3" font-size="23.14" textLength="472" lengthAdjust="spacingAndGlyphs">Mean of capnometry and radar (breath/minute)</text>
<text x="663.4" y="304.2" font-size="21.43" transform="rotate(-90 663.4 304.2)" textLength="129.6" lengthAdjust="spacingAndGlyphs">Bias between</text>
<text x="692.2" y="396.3" font-size="21.57" transform="rotate(-90 692.2 396.3)" textLength="316.3" lengthAdjust="spacingAndGlyphs">radar and end-tidal CO<tspan font-size="0.7em" dy="4">2</tspan><tspan dy="-4"> monitor</tspan></text>
<text x="722.8" y="311" font-size="21.57" transform="rotate(-90 722.8 311)" textLength="154.8" lengthAdjust="spacingAndGlyphs">(breath/minute)</text>
<text x="264.9" y="552.6" font-size="21.86" textLength="249.1" lengthAdjust="spacingAndGlyphs">CCC =0.845 (0.772-0.897)</text>
<text x="265.8" y="581.2" font-size="22.29" textLength="241.6" lengthAdjust="spacingAndGlyphs">ICC =0.848 (0.747-0.911)</text>
<text x="275" y="954.9" font-size="21.29" textLength="208.8" lengthAdjust="spacingAndGlyphs">Radar (beats/minute)</text>
<text x="86.9" y="750" font-size="22.0" transform="rotate(-90 86.9 750)" textLength="94.6" lengthAdjust="spacingAndGlyphs">ECG (bpm)</text>
<text x="858.8" y="836.9" font-size="21.57" textLength="344.8" lengthAdjust="spacingAndGlyphs">Bias = -0.37*Mean +28.16, <tspan font-style="italic">p</tspan>&lt;0.001</text>
<text x="858.8" y="866.5" font-size="21.57" textLength="393" lengthAdjust="spacingAndGlyphs">Resid(Bias) = 0.06* Mean -1.82, <tspan font-style="italic">p</tspan>=0.157</text>
<text x="1305" y="617.6" font-size="21.71" textLength="52.8" lengthAdjust="spacingAndGlyphs">11.44</text>
<text x="1306.1" y="713.8" font-size="21.71" textLength="132.9" lengthAdjust="spacingAndGlyphs">1.13, p=0.159</text>
<text x="1309.7" y="818" font-size="21.86" textLength="49.3" lengthAdjust="spacingAndGlyphs">-9.30</text>
<text x="877.3" y="957.3" font-size="22.29" textLength="370.7" lengthAdjust="spacingAndGlyphs">Mean of ECG and radar (beat/minute)</text>
<text x="692.4" y="845.7" font-size="21.43" transform="rotate(-90 692.4 845.7)" textLength="276.8" lengthAdjust="spacingAndGlyphs">Bias between ECG and radar</text>
<text x="722" y="776.3" font-size="21.43" transform="rotate(-90 722 776.3)" textLength="136.6" lengthAdjust="spacingAndGlyphs">(beat/minute)</text>
<text x="0.5" y="1041.5" font-size="26.43" textLength="151.2" lengthAdjust="spacingAndGlyphs">(B) Individual</text>
<text x="239.6" y="1061.7" font-size="20.43" textLength="249.4" lengthAdjust="spacingAndGlyphs">CCC =0.925 (0.919-0.926)</text>
<text x="240.3" y="1091.1" font-size="20.57" textLength="242" lengthAdjust="spacingAndGlyphs">ICC =0.923 (0.849-0.953)</text>
<text x="259.9" y="1475.3" font-size="20.57" textLength="220.8" lengthAdjust="spacingAndGlyphs">Radar (breath/minute)</text>
<text x="71" y="1333.2" font-size="22.57" transform="rotate(-90 71 1333.2)" textLength="213.4" lengthAdjust="spacingAndGlyphs">End-tidal CO<tspan font-size="0.7em" dy="4">2</tspan><tspan dy="-4"> monitor</tspan></text>
<text x="100.9" y="1302.6" font-size="22.14" transform="rotate(-90 100.9 1302.6)" textLength="157.9" lengthAdjust="spacingAndGlyphs">(breaths/minute)</text>
<text x="866.8" y="1333.3" font-size="21.57" textLength="331.9" lengthAdjust="spacingAndGlyphs">Bias = -0.06*Mean +1.84, <tspan font-style="italic">p</tspan>&lt;0.001</text>
<text x="866.8" y="1362" font-size="21.43" textLength="388.1" lengthAdjust="spacingAndGlyphs">Resid(Bias) =-0.04*Mean+1.65, <tspan font-style="italic">p</tspan>&lt;0.001</text>
<text x="1302" y="1178.1" font-size="22.86" textLength="41.9" lengthAdjust="spacingAndGlyphs">3.90</text>
<text x="1301.7" y="1226.4" font-size="22.14" textLength="41.9" lengthAdjust="spacingAndGlyphs">0.84</text>
<text x="1296.6" y="1273.4" font-size="21.86" textLength="49.1" lengthAdjust="spacingAndGlyphs">-2.21</text>
<text x="811.5" y="1478.5" font-size="23.14" textLength="472" lengthAdjust="spacingAndGlyphs">Mean of capnometry and radar (breath/minute)</text>
<text x="670.7" y="1294.8" font-size="21.57" transform="rotate(-90 670.7 1294.8)" textLength="129.1" lengthAdjust="spacingAndGlyphs">Bias between</text>
<text x="699.4" y="1383.3" font-size="22.0" transform="rotate(-90 699.4 1383.3)" textLength="311.8" lengthAdjust="spacingAndGlyphs">radar and end-tidal CO<tspan font-size="0.7em" dy="4">2</tspan><tspan dy="-4"> monitor</tspan></text>
<text x="729.4" y="1302.1" font-size="22.0" transform="rotate(-90 729.4 1302.1)" textLength="156.7" lengthAdjust="spacingAndGlyphs">(breath/minute)</text>
<text x="239.9" y="1537" font-size="21.43" textLength="248.5" lengthAdjust="spacingAndGlyphs">CCC =0.749 (0.738-0.760)</text>
<text x="240.8" y="1566.1" font-size="21.43" textLength="241.1" lengthAdjust="spacingAndGlyphs">ICC =0.749 (0.731-0.766)</text>
<text x="255" y="1984.6" font-size="20.86" textLength="208.8" lengthAdjust="spacingAndGlyphs">Radar (beats/minute)</text>
<text x="71.8" y="1761.5" font-size="23.0" transform="rotate(-90 71.8 1761.5)" textLength="36.5" lengthAdjust="spacingAndGlyphs">ECG</text>
<text x="100.8" y="1813.5" font-size="22.14" transform="rotate(-90 100.8 1813.5)" textLength="145.4" lengthAdjust="spacingAndGlyphs">(beats/minute)</text>
<text x="873.2" y="1851.3" font-size="22.29" textLength="344.9" lengthAdjust="spacingAndGlyphs">Bias = -0.284*Mean +21.7, <tspan font-style="italic">p</tspan>&lt;0.001</text>
<text x="873.2" y="1880" font-size="22.29" textLength="396.3" lengthAdjust="spacingAndGlyphs">Resid(Bias) =-0.115*Mean-4.21, <tspan font-style="italic">p</tspan>&lt;0.001</text>
<text x="1308.7" y="1669.9" font-size="22.86" textLength="53.2" lengthAdjust="spacingAndGlyphs">15.05</text>
<text x="1308.5" y="1733.6" font-size="22.29" textLength="40" lengthAdjust="spacingAndGlyphs">1.13</text>
<text x="1302" y="1806.1" font-size="22.57" textLength="61.1" lengthAdjust="spacingAndGlyphs">-12.79</text>
<text x="857.3" y="1987.3" font-size="22.29" textLength="370.7" lengthAdjust="spacingAndGlyphs">Mean of ECG and radar (beat/minute)</text>
<text x="699.7" y="1869.5" font-size="21.86" transform="rotate(-90 699.7 1869.5)" textLength="270.1" lengthAdjust="spacingAndGlyphs">Bias between ECG and radar</text>
<text x="729.4" y="1803.4" font-size="21.71" transform="rotate(-90 729.4 1803.4)" textLength="135.7" lengthAdjust="spacingAndGlyphs">(beat/minute)</text></svg>
</body></html>
